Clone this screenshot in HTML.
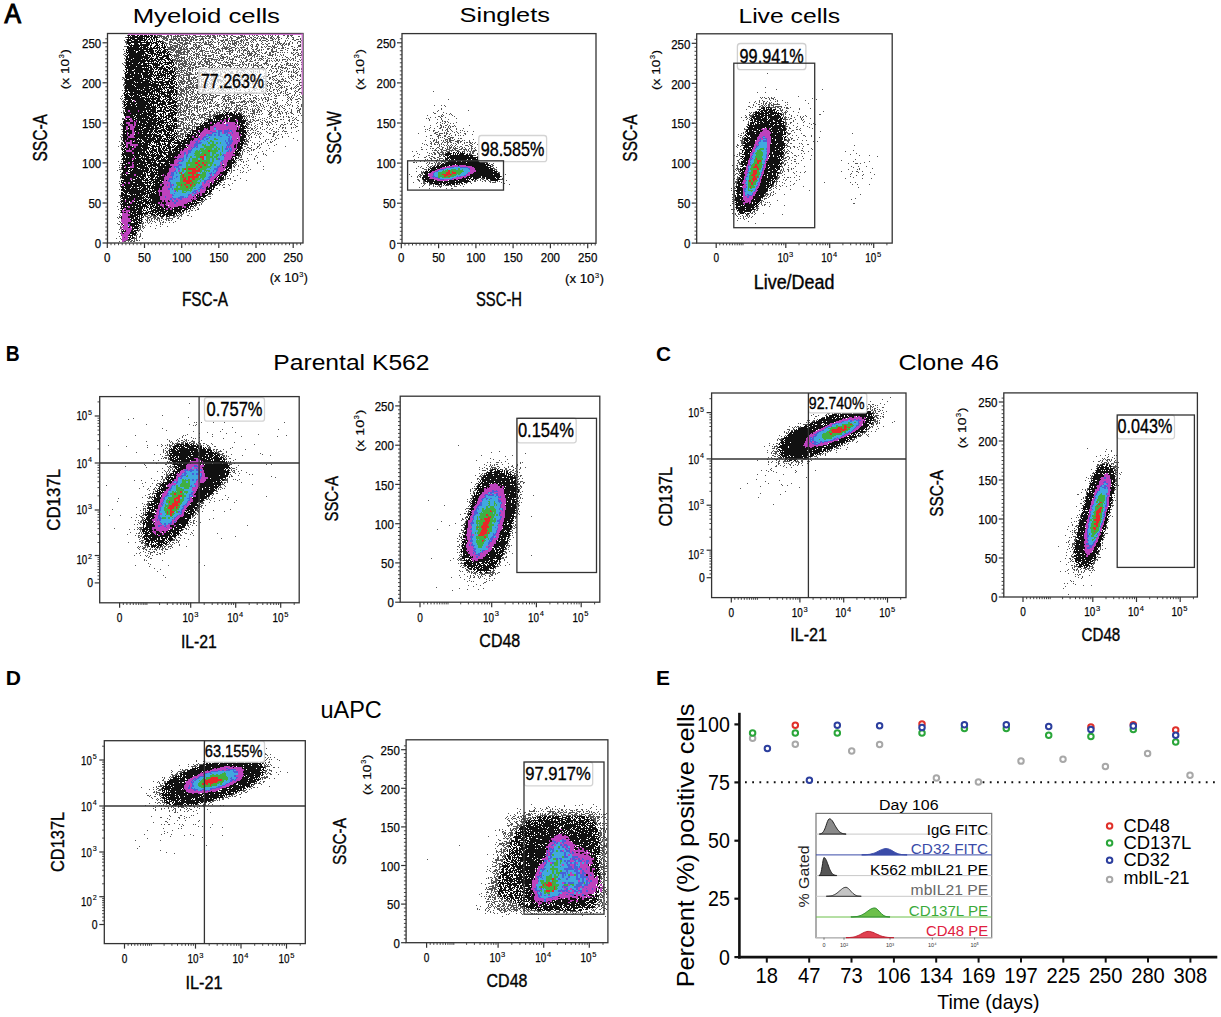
<!DOCTYPE html><html><head><meta charset="utf-8"><style>html,body{margin:0;padding:0;background:#fff;overflow:hidden}svg{display:block}</style></head><body><svg width="1221" height="1017" viewBox="0 0 1221 1017" font-family='"Liberation Sans", sans-serif'><rect width="1221" height="1017" fill="#fff"/><text x="4.4" y="23.3" font-size="27" textLength="16.5" lengthAdjust="spacingAndGlyphs" fill="#000" stroke="#000" stroke-width="1.1">A</text>
<text x="132.7" y="23.3" font-size="20.5" textLength="147.3" lengthAdjust="spacingAndGlyphs" fill="#000">Myeloid cells</text>
<text x="459.6" y="21.9" font-size="20.5" textLength="90.4" lengthAdjust="spacingAndGlyphs" fill="#000">Singlets</text>
<text x="738.4" y="22.6" font-size="20.5" textLength="101.6" lengthAdjust="spacingAndGlyphs" fill="#000">Live cells</text>
<g transform="translate(0 0.5)" fill="none" stroke-width="1" shape-rendering="crispEdges"><path stroke="#555555" d="M0 0m127 35h1m27 0h1m1 0h5m5 0h2m1 0h2m3 0h1m1 0h2m1 0h4m1 0h3m1 0h1m3 0h3m4 0h1m4 0h1m1 0h2m1 0h1m1 0h3m2 0h1m1 0h2m2 0h2m1 0h2m3 0h2m7 0h3m1 0h1m4 0h1m2 0h1m1 0h1m1 0h2m4 0h1m2 0h1m2 0h1m1 0h1m1 0h1m2 0h1m2 0h1m4 0h2m2 0h2m1 0h3m-137 1h2m1 0h6m1 0h3m2 0h1m1 0h8m6 0h1m1 0h2m1 0h1m2 0h10m1 0h5m2 0h3m1 0h1m1 0h1m1 0h1m2 0h1m2 0h1m2 0h1m2 0h3m2 0h1m2 0h5m3 0h1m3 0h1m4 0h1m1 0h1m2 0h1m4 0h1m2 0h2m4 0h2m8 0h2m2 0h1m6 0h2m-175 1h2m31 0h2m1 0h1m1 0h4m1 0h1m2 0h1m1 0h1m1 0h1m1 0h1m2 0h2m1 0h3m1 0h3m1 0h3m1 0h2m5 0h1m2 0h1m3 0h2m1 0h4m6 0h4m4 0h2m4 0h6m1 0h1m1 0h1m1 0h1m2 0h2m2 0h2m1 0h1m3 0h4m3 0h1m1 0h2m1 0h1m3 0h3m7 0h1m4 0h2m-132 1h6m3 0h1m1 0h4m1 0h2m1 0h2m1 0h3m1 0h2m1 0h1m1 0h2m4 0h1m1 0h3m1 0h2m1 0h2m4 0h2m1 0h1m9 0h1m1 0h1m1 0h2m4 0h3m5 0h1m2 0h2m1 0h1m1 0h1m2 0h2m1 0h1m1 0h1m1 0h4m3 0h3m1 0h1m1 0h1m1 0h1m2 0h1m4 0h1m1 0h1m4 0h1m6 0h1m-175 1h1m36 0h2m1 0h2m1 0h8m1 0h2m1 0h2m2 0h3m2 0h4m1 0h3m2 0h4m7 0h2m2 0h1m2 0h1m4 0h1m1 0h3m3 0h1m4 0h2m3 0h1m1 0h1m1 0h3m4 0h4m4 0h1m5 0h2m4 0h2m1 0h1m2 0h2m12 0h2m2 0h3m1 0h1m-177 1h1m37 0h1m2 0h3m2 0h1m1 0h2m2 0h4m1 0h8m1 0h2m1 0h1m1 0h2m2 0h2m2 0h1m3 0h2m3 0h1m5 0h1m1 0h4m1 0h3m1 0h1m1 0h5m4 0h3m1 0h1m1 0h2m3 0h1m1 0h1m1 0h1m3 0h2m1 0h4m2 0h1m1 0h3m5 0h1m6 0h1m1 0h1m6 0h2m5 0h1m-177 1h2m35 0h2m5 0h3m5 0h1m1 0h1m3 0h1m1 0h1m3 0h3m11 0h1m1 0h1m2 0h1m1 0h2m1 0h1m3 0h1m3 0h2m1 0h1m3 0h1m1 0h1m1 0h1m1 0h1m1 0h3m1 0h2m1 0h1m6 0h1m1 0h1m3 0h1m4 0h1m4 0h2m5 0h1m1 0h1m1 0h1m1 0h1m5 0h1m4 0h1m7 0h3m-176 1h2m36 0h3m3 0h4m1 0h2m2 0h5m2 0h3m1 0h1m3 0h2m1 0h5m1 0h2m1 0h2m1 0h3m1 0h1m1 0h2m2 0h2m3 0h2m3 0h1m3 0h1m1 0h3m1 0h1m2 0h1m1 0h1m2 0h3m2 0h1m1 0h1m8 0h1m10 0h1m3 0h3m4 0h1m4 0h1m2 0h1m4 0h1m2 0h1m-175 1h1m38 0h3m1 0h1m3 0h5m2 0h3m1 0h7m4 0h1m3 0h1m1 0h1m2 0h3m1 0h1m2 0h1m6 0h1m3 0h1m2 0h1m2 0h3m1 0h5m2 0h2m2 0h1m1 0h1m2 0h1m8 0h1m3 0h1m3 0h1m2 0h2m3 0h1m1 0h1m1 0h1m1 0h3m1 0h2m1 0h1m1 0h2m2 0h1m4 0h1m-172 1h1m39 0h1m2 0h3m5 0h3m2 0h5m3 0h1m2 0h4m3 0h1m3 0h9m5 0h1m2 0h1m1 0h1m1 0h1m1 0h1m2 0h1m1 0h3m1 0h1m1 0h1m2 0h1m3 0h2m1 0h1m2 0h2m3 0h3m3 0h2m2 0h2m7 0h2m1 0h1m1 0h1m1 0h2m1 0h2m1 0h2m10 0h1m-135 1h1m3 0h1m1 0h6m1 0h2m1 0h1m1 0h1m2 0h1m5 0h1m1 0h2m1 0h2m1 0h2m6 0h2m2 0h1m6 0h1m2 0h1m3 0h1m1 0h1m4 0h2m2 0h1m1 0h1m1 0h1m1 0h2m1 0h1m2 0h1m1 0h1m3 0h1m1 0h1m8 0h1m4 0h1m1 0h1m6 0h2m1 0h1m3 0h1m9 0h3m-177 1h3m40 0h1m2 0h3m1 0h4m1 0h1m1 0h2m1 0h1m1 0h2m5 0h2m1 0h1m1 0h3m9 0h2m1 0h1m2 0h1m1 0h1m4 0h2m1 0h1m2 0h2m4 0h1m7 0h1m7 0h2m2 0h3m3 0h1m2 0h1m1 0h1m1 0h3m1 0h3m2 0h1m4 0h1m8 0h2m5 0h3m-134 1h7m1 0h3m1 0h3m1 0h1m1 0h2m4 0h2m2 0h5m1 0h1m1 0h1m3 0h1m1 0h1m2 0h4m6 0h1m1 0h5m2 0h4m2 0h1m2 0h5m2 0h1m4 0h1m4 0h1m3 0h2m2 0h1m5 0h1m1 0h4m5 0h2m1 0h1m8 0h1m2 0h1m-130 1h4m1 0h3m2 0h4m1 0h2m1 0h2m1 0h5m1 0h1m1 0h2m2 0h1m2 0h1m1 0h1m2 0h1m1 0h1m1 0h1m3 0h2m2 0h7m1 0h3m3 0h2m1 0h1m2 0h1m4 0h2m3 0h1m4 0h2m9 0h3m2 0h1m1 0h1m3 0h2m1 0h3m3 0h2m3 0h1m-170 1h1m44 0h8m2 0h1m1 0h8m2 0h1m2 0h2m1 0h2m1 0h1m1 0h1m4 0h1m7 0h1m1 0h4m2 0h1m2 0h2m1 0h2m2 0h1m2 0h1m3 0h1m2 0h1m1 0h2m1 0h1m4 0h2m1 0h2m2 0h1m1 0h1m1 0h1m3 0h2m2 0h2m3 0h1m8 0h1m7 0h3m1 0h1m1 0h2m-130 1h4m1 0h6m2 0h1m2 0h3m1 0h1m4 0h1m3 0h5m5 0h1m1 0h1m2 0h2m2 0h2m1 0h1m6 0h5m1 0h1m2 0h2m1 0h1m1 0h4m1 0h1m4 0h1m3 0h3m1 0h1m9 0h2m3 0h1m3 0h3m4 0h1m5 0h2m1 0h2m-174 1h1m44 0h2m2 0h1m1 0h6m2 0h3m1 0h3m2 0h1m1 0h1m1 0h1m2 0h4m2 0h4m1 0h1m1 0h1m2 0h1m2 0h1m1 0h1m1 0h1m3 0h5m1 0h1m4 0h1m1 0h1m3 0h1m3 0h3m2 0h3m1 0h1m1 0h1m7 0h1m4 0h6m24 0h1m-132 1h3m2 0h10m1 0h3m4 0h2m3 0h1m3 0h1m1 0h1m6 0h4m1 0h1m1 0h1m10 0h1m1 0h2m4 0h1m1 0h1m3 0h1m3 0h1m1 0h1m1 0h1m2 0h2m3 0h1m1 0h1m3 0h2m2 0h2m1 0h2m3 0h2m1 0h1m1 0h1m1 0h1m2 0h1m3 0h1m1 0h1m2 0h2m3 0h1m-178 1h2m50 0h1m1 0h4m1 0h2m2 0h1m1 0h1m1 0h1m3 0h3m1 0h1m2 0h1m2 0h1m1 0h2m6 0h2m1 0h2m4 0h1m2 0h1m1 0h2m10 0h2m2 0h1m1 0h6m2 0h2m5 0h1m1 0h2m3 0h2m4 0h1m15 0h2m2 0h1m2 0h1m1 0h1m-178 1h1m47 0h1m2 0h1m1 0h3m1 0h8m2 0h1m2 0h2m1 0h4m2 0h1m1 0h1m7 0h2m7 0h2m1 0h2m3 0h2m3 0h1m1 0h1m5 0h2m3 0h1m1 0h3m2 0h2m1 0h3m7 0h1m1 0h2m1 0h2m1 0h1m4 0h1m2 0h1m9 0h2m2 0h2m2 0h1m-178 1h2m46 0h8m7 0h1m3 0h1m1 0h2m1 0h1m1 0h1m1 0h1m1 0h5m1 0h4m1 0h1m2 0h2m2 0h2m11 0h1m3 0h1m1 0h3m1 0h2m3 0h4m1 0h2m2 0h1m3 0h1m6 0h5m2 0h1m1 0h1m3 0h1m1 0h1m9 0h1m4 0h4m-177 1h1m48 0h5m2 0h1m2 0h1m2 0h1m1 0h2m5 0h3m6 0h2m1 0h3m2 0h1m5 0h1m1 0h3m2 0h2m3 0h1m2 0h4m1 0h1m6 0h1m1 0h1m3 0h1m1 0h1m1 0h2m1 0h1m1 0h3m1 0h1m6 0h1m6 0h1m5 0h1m9 0h1m1 0h1m-126 1h1m1 0h1m1 0h1m1 0h7m1 0h1m2 0h1m1 0h2m1 0h1m1 0h1m1 0h2m1 0h2m2 0h1m7 0h1m1 0h1m1 0h1m2 0h1m1 0h4m1 0h1m1 0h1m4 0h1m1 0h1m1 0h2m1 0h1m1 0h1m1 0h2m4 0h1m2 0h1m7 0h1m4 0h1m8 0h1m5 0h1m3 0h2m2 0h1m4 0h1m4 0h1m-177 1h1m50 0h4m2 0h4m3 0h2m1 0h1m1 0h1m1 0h2m1 0h1m4 0h4m1 0h5m5 0h1m1 0h4m3 0h1m1 0h1m2 0h2m8 0h1m1 0h2m4 0h2m5 0h1m1 0h3m1 0h1m1 0h1m2 0h2m1 0h1m1 0h1m1 0h1m12 0h1m3 0h2m1 0h1m-171 1h1m47 0h3m1 0h1m1 0h1m1 0h1m2 0h1m1 0h2m1 0h1m1 0h2m3 0h1m2 0h1m2 0h2m1 0h1m1 0h2m2 0h7m1 0h1m3 0h1m2 0h1m2 0h5m1 0h1m4 0h1m5 0h2m1 0h1m1 0h1m3 0h1m3 0h1m1 0h2m4 0h1m8 0h2m1 0h1m2 0h4m1 0h1m1 0h1m1 0h1m1 0h1m5 0h1m1 0h1m-177 1h1m47 0h10m1 0h2m1 0h1m1 0h1m2 0h1m1 0h1m6 0h1m2 0h2m2 0h2m1 0h1m2 0h1m1 0h1m1 0h2m1 0h2m5 0h1m3 0h1m2 0h2m4 0h1m4 0h2m2 0h1m3 0h2m2 0h1m1 0h1m2 0h1m2 0h2m1 0h1m1 0h1m2 0h1m1 0h2m1 0h1m2 0h1m4 0h1m2 0h1m2 0h1m1 0h1m4 0h1m-127 1h1m1 0h6m1 0h4m1 0h1m1 0h1m4 0h1m2 0h1m1 0h2m2 0h6m5 0h2m7 0h1m1 0h1m3 0h1m1 0h1m6 0h1m1 0h1m1 0h1m1 0h2m2 0h4m13 0h2m1 0h1m2 0h1m2 0h1m2 0h1m6 0h2m10 0h2m-175 1h2m49 0h2m2 0h1m2 0h1m1 0h3m2 0h1m1 0h3m1 0h1m1 0h1m1 0h2m1 0h1m2 0h3m1 0h3m3 0h1m1 0h2m1 0h1m2 0h1m1 0h4m1 0h3m7 0h1m1 0h2m11 0h1m1 0h2m6 0h2m14 0h1m5 0h1m13 0h1m-180 1h1m2 0h1m49 0h2m1 0h1m1 0h7m1 0h2m1 0h1m2 0h2m2 0h3m3 0h1m1 0h2m1 0h1m2 0h1m1 0h1m3 0h3m6 0h1m3 0h5m1 0h1m4 0h1m1 0h1m3 0h2m3 0h1m2 0h2m5 0h5m8 0h2m8 0h3m1 0h1m1 0h1m2 0h1m1 0h1m-175 1h1m50 0h1m1 0h1m1 0h6m1 0h3m1 0h3m1 0h3m2 0h2m1 0h3m2 0h4m1 0h2m8 0h5m2 0h3m1 0h1m6 0h2m1 0h2m1 0h2m1 0h1m2 0h1m1 0h1m1 0h1m2 0h1m2 0h1m2 0h1m1 0h1m1 0h1m1 0h1m4 0h2m3 0h1m3 0h1m1 0h2m2 0h1m3 0h1m1 0h1m1 0h1m2 0h1m-178 1h2m52 0h2m2 0h4m2 0h1m1 0h1m1 0h3m7 0h3m4 0h3m1 0h2m4 0h1m2 0h1m1 0h7m2 0h1m1 0h5m3 0h1m2 0h1m1 0h1m2 0h1m1 0h5m1 0h3m5 0h2m3 0h1m2 0h1m5 0h2m3 0h1m1 0h5m1 0h1m2 0h1m-123 1h1m2 0h1m1 0h2m1 0h5m1 0h2m4 0h2m1 0h3m1 0h2m1 0h2m2 0h1m2 0h1m2 0h1m2 0h1m3 0h1m3 0h1m2 0h3m7 0h1m2 0h1m5 0h1m4 0h1m3 0h2m3 0h1m8 0h2m1 0h2m2 0h2m1 0h1m11 0h1m1 0h1m-121 1h2m1 0h2m1 0h2m1 0h1m3 0h2m1 0h3m1 0h4m9 0h2m1 0h2m1 0h1m2 0h1m1 0h1m2 0h1m2 0h1m4 0h1m3 0h1m2 0h1m2 0h2m3 0h1m1 0h1m4 0h2m4 0h1m2 0h3m3 0h1m3 0h1m6 0h1m1 0h4m1 0h2m5 0h4m2 0h1m-124 1h3m1 0h4m2 0h1m1 0h4m1 0h2m1 0h1m4 0h5m4 0h3m4 0h1m3 0h2m5 0h1m5 0h1m2 0h1m1 0h1m2 0h1m2 0h3m3 0h2m2 0h2m1 0h5m2 0h1m1 0h1m5 0h2m1 0h2m1 0h1m3 0h1m1 0h2m1 0h1m1 0h1m6 0h1m2 0h1m1 0h1m-127 1h3m1 0h1m1 0h1m2 0h1m2 0h1m1 0h2m1 0h1m3 0h1m2 0h4m1 0h1m2 0h1m1 0h3m2 0h2m3 0h3m2 0h1m1 0h1m1 0h1m1 0h1m5 0h1m3 0h1m1 0h1m3 0h1m4 0h2m2 0h1m1 0h1m1 0h1m2 0h2m1 0h1m4 0h1m5 0h1m3 0h1m6 0h1m5 0h1m3 0h1m1 0h1m1 0h1m-179 1h1m51 0h1m2 0h1m1 0h6m1 0h1m1 0h2m1 0h1m2 0h1m3 0h1m1 0h1m4 0h1m2 0h1m2 0h6m4 0h1m3 0h1m1 0h1m8 0h2m2 0h4m4 0h1m3 0h1m5 0h1m3 0h1m1 0h1m3 0h1m1 0h1m5 0h1m3 0h2m3 0h1m6 0h1m2 0h1m-173 1h1m51 0h4m1 0h1m1 0h1m2 0h2m4 0h1m6 0h1m2 0h2m1 0h1m3 0h1m2 0h1m2 0h1m4 0h1m1 0h1m1 0h1m4 0h1m1 0h2m3 0h2m5 0h1m1 0h1m4 0h2m1 0h1m1 0h1m1 0h1m1 0h1m11 0h1m2 0h1m1 0h2m2 0h1m3 0h1m1 0h1m1 0h2m1 0h1m1 0h1m1 0h1m2 0h1m2 0h1m-125 1h1m2 0h3m1 0h1m1 0h1m1 0h3m4 0h1m1 0h1m1 0h3m2 0h3m6 0h2m3 0h1m1 0h1m2 0h3m4 0h3m3 0h2m1 0h3m2 0h1m2 0h1m3 0h1m1 0h1m3 0h1m1 0h1m5 0h1m2 0h1m4 0h1m2 0h1m3 0h1m1 0h1m5 0h1m2 0h1m1 0h2m1 0h2m-174 1h1m51 0h4m4 0h4m1 0h3m3 0h1m1 0h4m1 0h1m1 0h1m1 0h2m1 0h1m3 0h1m2 0h1m3 0h2m3 0h1m1 0h2m1 0h4m4 0h1m1 0h1m1 0h1m5 0h1m3 0h1m2 0h1m8 0h1m7 0h1m6 0h1m1 0h1m13 0h2m-118 1h1m1 0h3m2 0h8m1 0h2m2 0h1m3 0h3m1 0h1m1 0h1m3 0h2m2 0h1m2 0h2m6 0h1m7 0h1m3 0h1m2 0h1m2 0h1m2 0h2m2 0h1m2 0h1m4 0h1m6 0h2m8 0h1m1 0h2m6 0h1m2 0h1m5 0h1m2 0h1m-125 1h5m2 0h7m9 0h3m2 0h3m1 0h3m4 0h2m1 0h3m4 0h1m1 0h2m2 0h1m4 0h6m4 0h1m1 0h2m2 0h1m2 0h1m2 0h1m5 0h1m3 0h1m6 0h2m14 0h1m1 0h1m3 0h1m1 0h2m-125 1h1m1 0h2m1 0h1m1 0h1m4 0h2m4 0h1m2 0h1m1 0h2m5 0h2m3 0h6m1 0h1m1 0h3m6 0h3m1 0h2m2 0h1m14 0h1m2 0h1m2 0h1m3 0h6m4 0h4m3 0h1m1 0h1m1 0h1m4 0h1m1 0h4m1 0h1m4 0h1m-179 1h2m54 0h1m1 0h2m1 0h2m1 0h1m1 0h2m1 0h1m1 0h4m4 0h1m2 0h1m2 0h2m2 0h1m1 0h4m5 0h1m5 0h1m1 0h1m1 0h1m2 0h2m3 0h1m2 0h1m2 0h1m4 0h2m8 0h1m1 0h1m5 0h2m1 0h1m15 0h1m2 0h1m3 0h1m-173 1h2m51 0h1m1 0h1m2 0h3m2 0h1m1 0h2m1 0h5m3 0h2m2 0h1m2 0h2m2 0h1m2 0h4m6 0h3m5 0h1m5 0h1m1 0h1m1 0h2m2 0h1m2 0h1m2 0h2m2 0h2m3 0h1m2 0h3m3 0h2m2 0h1m2 0h1m5 0h1m2 0h1m3 0h1m2 0h1m4 0h1m-176 1h1m1 0h1m53 0h1m3 0h2m2 0h4m2 0h1m3 0h3m2 0h3m1 0h1m3 0h1m1 0h3m1 0h1m1 0h4m2 0h1m4 0h2m4 0h3m3 0h3m1 0h2m4 0h1m2 0h1m1 0h1m13 0h1m2 0h1m1 0h1m2 0h1m3 0h3m9 0h1m6 0h1m-177 1h1m52 0h1m1 0h3m1 0h2m3 0h4m1 0h1m1 0h1m1 0h2m2 0h1m3 0h1m4 0h3m1 0h2m1 0h6m1 0h2m2 0h1m2 0h1m1 0h3m1 0h1m2 0h1m2 0h1m1 0h1m8 0h2m1 0h1m1 0h1m5 0h1m7 0h1m1 0h2m1 0h2m3 0h1m1 0h1m5 0h1m4 0h2m1 0h1m-122 1h1m1 0h6m1 0h4m2 0h1m3 0h3m1 0h3m3 0h2m3 0h2m1 0h1m1 0h2m1 0h3m2 0h1m7 0h2m1 0h2m1 0h1m3 0h3m2 0h1m2 0h1m3 0h1m1 0h2m2 0h1m2 0h1m1 0h2m10 0h5m1 0h3m1 0h1m-165 1h1m53 0h5m1 0h1m1 0h2m2 0h2m1 0h1m1 0h3m1 0h1m3 0h1m1 0h1m3 0h1m1 0h1m3 0h1m2 0h1m2 0h1m1 0h1m3 0h2m5 0h1m4 0h2m2 0h2m2 0h1m1 0h1m18 0h1m2 0h1m3 0h1m1 0h2m1 0h1m6 0h1m1 0h1m9 0h3m-178 1h1m54 0h1m1 0h4m1 0h2m2 0h3m1 0h1m3 0h1m2 0h1m3 0h3m1 0h4m1 0h1m1 0h1m3 0h1m3 0h1m4 0h1m1 0h1m1 0h2m1 0h1m1 0h2m1 0h1m1 0h2m3 0h1m1 0h1m1 0h2m2 0h2m7 0h1m1 0h1m1 0h3m1 0h1m2 0h2m3 0h1m2 0h1m5 0h1m8 0h1m-177 1h2m52 0h1m1 0h2m1 0h2m4 0h4m1 0h1m2 0h2m3 0h2m1 0h1m2 0h2m1 0h3m1 0h2m7 0h4m2 0h1m2 0h4m4 0h2m1 0h2m2 0h2m3 0h1m6 0h1m3 0h4m3 0h2m6 0h2m13 0h1m3 0h1m1 0h1m-177 1h1m54 0h1m1 0h1m5 0h3m3 0h2m1 0h3m1 0h1m1 0h1m1 0h1m2 0h2m3 0h1m2 0h1m2 0h1m1 0h1m2 0h1m1 0h1m1 0h2m2 0h2m5 0h1m2 0h1m6 0h1m7 0h1m1 0h1m4 0h2m2 0h2m1 0h1m2 0h1m2 0h1m3 0h2m1 0h1m6 0h1m6 0h1m3 0h2m-178 1h1m53 0h2m1 0h1m1 0h1m2 0h1m1 0h3m1 0h2m2 0h7m1 0h1m2 0h1m1 0h2m1 0h1m8 0h4m3 0h1m1 0h1m6 0h1m1 0h1m1 0h5m1 0h2m4 0h1m1 0h1m2 0h1m4 0h1m3 0h1m2 0h1m4 0h1m2 0h1m2 0h1m2 0h1m1 0h2m7 0h1m1 0h2m-175 1h1m52 0h2m1 0h1m3 0h14m1 0h8m1 0h1m2 0h1m1 0h1m4 0h1m2 0h2m6 0h1m1 0h1m2 0h1m4 0h3m1 0h3m1 0h2m1 0h2m4 0h1m4 0h4m5 0h1m1 0h1m3 0h2m2 0h3m1 0h1m6 0h1m2 0h1m1 0h1m4 0h1m-178 1h1m52 0h2m1 0h2m1 0h1m1 0h2m1 0h2m1 0h1m2 0h1m1 0h3m6 0h2m2 0h4m4 0h2m1 0h1m1 0h2m2 0h1m2 0h1m1 0h4m4 0h1m4 0h2m8 0h3m3 0h2m1 0h1m1 0h2m3 0h1m8 0h1m1 0h1m4 0h1m3 0h2m1 0h1m1 0h1m3 0h2m-122 1h5m1 0h3m2 0h1m1 0h2m5 0h2m1 0h3m3 0h1m1 0h1m1 0h2m2 0h1m1 0h1m2 0h3m3 0h1m1 0h1m2 0h1m1 0h1m1 0h1m3 0h1m7 0h2m3 0h2m2 0h1m1 0h1m2 0h1m4 0h1m1 0h1m3 0h2m1 0h1m1 0h1m7 0h2m3 0h1m6 0h2m-178 1h1m1 0h1m52 0h1m2 0h5m1 0h1m2 0h2m2 0h1m1 0h1m6 0h4m1 0h2m6 0h1m3 0h3m1 0h3m4 0h1m5 0h1m1 0h3m3 0h1m4 0h1m2 0h1m1 0h2m5 0h1m1 0h1m2 0h1m2 0h1m3 0h1m3 0h1m1 0h1m5 0h2m8 0h1m2 0h1m-122 1h1m1 0h1m1 0h4m1 0h3m2 0h3m3 0h2m3 0h2m1 0h1m4 0h1m1 0h1m1 0h1m3 0h1m3 0h1m2 0h1m2 0h1m5 0h1m10 0h1m2 0h2m1 0h1m9 0h3m3 0h1m2 0h2m5 0h1m3 0h1m1 0h1m1 0h1m8 0h1m1 0h2m-121 1h1m2 0h2m2 0h1m1 0h3m1 0h1m1 0h2m3 0h1m1 0h1m1 0h2m6 0h1m1 0h2m2 0h1m1 0h1m1 0h1m3 0h1m3 0h1m2 0h1m3 0h2m1 0h1m1 0h3m3 0h3m2 0h1m1 0h1m1 0h1m1 0h1m7 0h1m8 0h1m6 0h2m3 0h1m1 0h1m7 0h1m3 0h3m-179 1h1m53 0h2m1 0h4m1 0h2m1 0h1m2 0h2m1 0h1m2 0h2m1 0h2m5 0h1m1 0h3m1 0h1m5 0h2m8 0h1m4 0h1m2 0h1m1 0h2m3 0h2m1 0h1m1 0h1m1 0h1m1 0h1m2 0h1m2 0h1m3 0h1m1 0h1m2 0h2m1 0h1m2 0h1m2 0h2m1 0h1m2 0h1m1 0h1m3 0h2m4 0h1m5 0h1m-125 1h5m1 0h2m1 0h1m2 0h2m1 0h1m2 0h2m1 0h2m2 0h5m2 0h2m4 0h1m9 0h1m2 0h1m5 0h1m2 0h2m4 0h1m1 0h2m2 0h2m12 0h1m2 0h1m1 0h1m1 0h1m4 0h1m10 0h3m5 0h1m4 0h1m-178 1h1m56 0h3m2 0h1m1 0h2m2 0h1m3 0h1m1 0h1m4 0h2m1 0h1m2 0h1m2 0h4m2 0h4m5 0h3m1 0h2m2 0h1m2 0h1m4 0h1m3 0h1m4 0h1m1 0h1m2 0h1m2 0h1m5 0h1m4 0h1m4 0h1m1 0h1m1 0h2m3 0h1m1 0h1m1 0h1m4 0h1m1 0h1m2 0h1m-177 1h1m56 0h1m2 0h2m3 0h2m3 0h3m1 0h1m1 0h1m2 0h1m1 0h2m1 0h1m1 0h1m1 0h1m3 0h1m1 0h2m5 0h4m2 0h1m3 0h1m1 0h1m3 0h3m2 0h1m3 0h1m8 0h1m14 0h1m3 0h2m11 0h1m2 0h1m4 0h1m3 0h1m-124 1h1m1 0h2m1 0h2m2 0h1m2 0h3m2 0h4m1 0h1m3 0h1m2 0h1m2 0h1m1 0h5m6 0h1m1 0h1m2 0h4m3 0h1m1 0h1m3 0h1m12 0h3m5 0h1m2 0h2m1 0h2m18 0h1m1 0h1m1 0h1m1 0h1m7 0h1m-182 1h1m1 0h1m54 0h1m1 0h1m3 0h1m1 0h3m3 0h1m2 0h1m1 0h1m1 0h3m1 0h2m2 0h1m2 0h1m2 0h1m8 0h1m1 0h2m3 0h1m1 0h1m2 0h2m1 0h1m1 0h1m1 0h2m2 0h1m2 0h1m1 0h2m2 0h1m1 0h2m1 0h1m2 0h1m1 0h1m1 0h1m2 0h1m5 0h3m11 0h1m1 0h1m1 0h1m5 0h2m-179 1h1m57 0h1m1 0h3m1 0h3m2 0h6m1 0h2m2 0h1m1 0h1m1 0h1m1 0h6m5 0h1m4 0h3m1 0h5m3 0h1m4 0h1m4 0h1m4 0h1m5 0h1m2 0h1m2 0h1m2 0h2m1 0h1m1 0h2m15 0h1m2 0h2m3 0h3m2 0h1m-178 1h1m53 0h5m3 0h3m1 0h1m3 0h2m2 0h1m5 0h3m1 0h1m3 0h2m9 0h1m2 0h2m1 0h1m4 0h1m9 0h2m4 0h1m1 0h1m1 0h2m3 0h1m3 0h1m4 0h2m6 0h1m6 0h1m5 0h1m2 0h1m-170 1h2m53 0h1m2 0h1m1 0h1m1 0h1m1 0h1m1 0h5m4 0h5m1 0h2m1 0h1m3 0h1m1 0h1m2 0h1m7 0h1m1 0h2m1 0h1m1 0h3m6 0h1m1 0h5m1 0h2m1 0h4m1 0h1m9 0h1m1 0h1m5 0h1m1 0h1m11 0h1m9 0h2m-176 1h1m57 0h2m1 0h1m3 0h1m1 0h1m3 0h1m2 0h4m1 0h1m1 0h1m2 0h1m1 0h2m3 0h1m2 0h1m4 0h1m7 0h5m1 0h3m1 0h3m1 0h1m1 0h1m1 0h1m2 0h2m1 0h1m1 0h1m6 0h1m9 0h1m1 0h1m1 0h1m8 0h1m4 0h1m4 0h1m-175 1h1m54 0h6m1 0h2m2 0h2m1 0h1m1 0h1m2 0h3m2 0h1m3 0h1m1 0h1m1 0h3m1 0h1m2 0h1m4 0h1m2 0h1m1 0h2m1 0h1m1 0h4m10 0h2m6 0h1m5 0h2m6 0h1m1 0h1m4 0h1m1 0h2m9 0h1m10 0h1m-176 1h1m54 0h1m1 0h3m3 0h2m1 0h1m13 0h1m1 0h1m1 0h1m7 0h1m1 0h3m3 0h2m3 0h1m2 0h1m4 0h1m2 0h1m3 0h3m5 0h1m4 0h1m3 0h1m1 0h1m9 0h1m2 0h1m9 0h1m2 0h1m1 0h1m10 0h1m-125 1h4m1 0h2m1 0h3m1 0h2m1 0h1m1 0h1m1 0h2m4 0h1m6 0h1m1 0h1m3 0h4m4 0h1m2 0h1m1 0h1m2 0h1m2 0h1m1 0h5m1 0h1m6 0h1m3 0h2m1 0h2m2 0h1m2 0h1m4 0h1m4 0h2m2 0h1m2 0h1m1 0h1m4 0h1m1 0h1m2 0h1m4 0h1m3 0h1m-179 1h1m53 0h2m1 0h1m3 0h4m1 0h3m2 0h1m1 0h2m1 0h2m1 0h1m1 0h1m4 0h3m1 0h2m2 0h2m2 0h2m1 0h1m1 0h1m5 0h1m3 0h2m3 0h2m1 0h3m4 0h1m1 0h1m1 0h1m2 0h1m2 0h1m1 0h1m2 0h1m3 0h1m6 0h1m1 0h1m1 0h1m2 0h1m7 0h1m5 0h1m2 0h1m-180 1h1m54 0h1m2 0h2m2 0h1m1 0h4m2 0h6m1 0h1m3 0h1m1 0h1m1 0h1m1 0h1m9 0h1m5 0h5m1 0h1m3 0h2m1 0h1m1 0h1m6 0h1m9 0h1m1 0h1m4 0h1m5 0h2m3 0h1m3 0h1m2 0h1m14 0h1m-175 1h1m53 0h1m1 0h2m1 0h1m1 0h1m1 0h2m3 0h1m2 0h1m1 0h2m3 0h1m1 0h4m7 0h1m1 0h2m4 0h1m2 0h2m1 0h1m1 0h1m3 0h1m1 0h1m1 0h3m1 0h1m1 0h2m1 0h1m4 0h1m2 0h1m2 0h1m3 0h1m7 0h1m2 0h1m1 0h2m1 0h1m4 0h2m4 0h1m6 0h1m1 0h1m1 0h1m-123 1h3m2 0h1m2 0h1m1 0h3m3 0h1m2 0h1m1 0h2m2 0h1m2 0h1m4 0h2m4 0h1m4 0h1m2 0h1m3 0h3m2 0h1m1 0h2m2 0h3m3 0h2m2 0h1m1 0h1m1 0h1m1 0h1m1 0h2m4 0h1m7 0h1m5 0h2m5 0h1m5 0h1m7 0h2m-178 1h1m53 0h2m1 0h2m1 0h4m2 0h1m1 0h2m1 0h1m2 0h1m1 0h1m3 0h1m1 0h1m2 0h1m3 0h1m5 0h1m1 0h2m1 0h2m1 0h1m1 0h2m5 0h3m1 0h3m6 0h1m3 0h3m2 0h2m1 0h2m5 0h1m1 0h1m5 0h1m1 0h1m6 0h1m6 0h1m5 0h3m-177 1h1m53 0h1m1 0h2m1 0h4m2 0h2m1 0h1m4 0h2m2 0h1m2 0h1m5 0h3m1 0h1m2 0h1m2 0h1m3 0h3m2 0h1m4 0h4m3 0h1m2 0h2m1 0h1m3 0h1m1 0h3m2 0h1m1 0h1m1 0h1m6 0h1m2 0h2m3 0h1m1 0h2m1 0h1m5 0h1m3 0h1m5 0h1m1 0h1m-179 1h1m1 0h1m53 0h5m1 0h1m1 0h1m3 0h1m1 0h1m5 0h1m8 0h2m1 0h2m3 0h1m1 0h5m2 0h1m14 0h2m1 0h1m2 0h1m1 0h1m6 0h2m1 0h2m1 0h1m9 0h3m3 0h1m3 0h1m2 0h1m2 0h2m3 0h2m5 0h1m1 0h1m-177 1h1m54 0h1m1 0h1m3 0h1m1 0h1m1 0h2m2 0h2m4 0h1m5 0h2m3 0h1m4 0h1m1 0h2m1 0h1m20 0h2m1 0h1m4 0h1m1 0h5m7 0h1m6 0h2m7 0h3m1 0h1m3 0h1m1 0h1m2 0h2m7 0h1m-123 1h1m1 0h4m1 0h1m2 0h2m1 0h4m4 0h2m1 0h6m1 0h2m2 0h3m1 0h1m23 0h2m9 0h1m1 0h1m1 0h1m1 0h2m1 0h1m6 0h2m1 0h1m5 0h1m2 0h1m5 0h1m6 0h1m-117 1h2m1 0h2m1 0h3m5 0h1m1 0h3m1 0h3m1 0h2m1 0h1m4 0h2m1 0h4m27 0h2m1 0h1m1 0h2m2 0h1m17 0h2m5 0h1m20 0h1m2 0h1m-123 1h1m6 0h3m1 0h1m1 0h1m6 0h1m1 0h2m2 0h1m1 0h5m1 0h1m30 0h2m1 0h1m1 0h1m1 0h1m1 0h1m1 0h1m13 0h2m2 0h1m6 0h1m2 0h1m2 0h1m1 0h1m2 0h1m-115 1h2m5 0h2m1 0h2m1 0h1m3 0h1m1 0h1m2 0h6m4 0h2m33 0h1m1 0h1m2 0h1m2 0h2m5 0h1m7 0h1m3 0h1m2 0h2m1 0h2m4 0h1m4 0h2m3 0h1m2 0h1m-175 1h2m55 0h5m1 0h2m1 0h1m1 0h2m1 0h2m3 0h1m1 0h1m3 0h5m37 0h1m8 0h1m6 0h1m1 0h1m4 0h1m22 0h1m2 0h1m-174 1h2m54 0h1m2 0h3m1 0h2m2 0h1m2 0h4m1 0h1m6 0h1m1 0h2m37 0h1m1 0h1m2 0h1m1 0h2m4 0h1m1 0h1m5 0h1m5 0h1m7 0h2m1 0h1m5 0h1m4 0h1m1 0h1m-120 1h2m4 0h1m1 0h1m1 0h1m1 0h1m1 0h2m3 0h1m1 0h1m2 0h1m3 0h2m39 0h2m2 0h1m2 0h2m1 0h3m3 0h1m1 0h1m7 0h1m2 0h3m10 0h2m2 0h2m3 0h2m-122 1h6m8 0h2m9 0h1m1 0h1m43 0h3m1 0h1m2 0h1m4 0h1m4 0h1m1 0h1m1 0h1m2 0h2m3 0h1m11 0h1m-112 1h1m2 0h3m1 0h1m3 0h1m1 0h2m1 0h2m5 0h1m44 0h2m1 0h3m9 0h2m3 0h2m1 0h2m4 0h1m8 0h1m7 0h1m1 0h1m6 0h1m-181 1h1m58 0h2m1 0h2m1 0h1m1 0h1m3 0h1m2 0h4m1 0h2m44 0h3m5 0h1m4 0h1m2 0h1m5 0h1m2 0h1m15 0h1m3 0h1m5 0h1m-178 1h1m1 0h1m55 0h1m1 0h1m1 0h2m3 0h1m1 0h1m2 0h1m1 0h1m1 0h2m1 0h1m47 0h3m1 0h1m5 0h1m3 0h2m3 0h1m1 0h1m3 0h1m3 0h1m4 0h2m1 0h2m4 0h2m2 0h1m-174 1h2m54 0h4m2 0h1m1 0h2m1 0h4m2 0h1m52 0h1m3 0h1m3 0h1m11 0h1m1 0h1m10 0h1m2 0h1m11 0h1m-174 1h1m54 0h4m2 0h1m2 0h1m1 0h1m3 0h6m50 0h1m5 0h1m2 0h1m4 0h1m17 0h1m15 0h2m-121 1h1m5 0h2m1 0h1m1 0h2m2 0h1m1 0h1m52 0h1m2 0h1m4 0h1m4 0h1m6 0h1m5 0h1m5 0h1m2 0h2m1 0h1m5 0h1m1 0h1m1 0h1m-119 1h5m1 0h8m1 0h1m1 0h1m52 0h3m1 0h2m1 0h1m2 0h1m2 0h1m5 0h1m3 0h1m5 0h1m5 0h1m2 0h1m5 0h1m-171 1h2m58 0h3m2 0h3m2 0h2m58 0h2m3 0h1m5 0h1m1 0h1m4 0h1m2 0h1m5 0h1m-102 1h1m2 0h3m1 0h1m1 0h2m1 0h3m55 0h2m1 0h1m2 0h1m1 0h1m15 0h1m11 0h1m14 0h1m-177 1h1m54 0h5m2 0h2m4 0h1m56 0h1m9 0h2m7 0h1m6 0h2m1 0h1m1 0h1m3 0h1m1 0h3m9 0h1m-119 1h1m5 0h3m1 0h1m59 0h1m3 0h2m1 0h1m4 0h1m6 0h1m7 0h2m14 0h1m-115 1h2m1 0h4m1 0h1m1 0h1m58 0h1m2 0h1m1 0h1m3 0h1m1 0h1m1 0h1m1 0h1m7 0h2m2 0h2m10 0h1m1 0h1m-167 1h2m54 0h1m2 0h4m1 0h2m59 0h2m2 0h1m3 0h1m3 0h1m1 0h1m12 0h2m3 0h1m2 0h1m-160 1h1m54 0h4m1 0h1m65 0h2m6 0h1m16 0h1m3 0h1m-158 1h1m56 0h4m1 0h2m64 0h1m2 0h1m7 0h1m3 0h1m8 0h2m8 0h1m5 0h1m-168 1h2m55 0h1m1 0h3m66 0h1m1 0h1m3 0h1m3 0h1m15 0h1m6 0h1m-162 1h1m56 0h1m67 0h1m2 0h1m10 0h1m15 0h1m1 0h1m14 0h1m-173 1h1m123 0h2m1 0h1m17 0h1m1 0h1m2 0h1m3 0h1m-154 1h1m123 0h2m2 0h1m14 0h1m8 0h1m22 0h1m-179 1h1m125 0h4m10 0h1m5 0h1m4 0h1m1 0h1m-152 1h2m122 0h1m2 0h1m3 0h1m10 0h1m6 0h2m-151 1h1m122 0h3m7 0h1m2 0h1m3 0h1m5 0h1m-147 1h1m122 0h4m6 0h1m4 0h1m1 0h1m14 0h1m-157 1h2m125 0h1m3 0h1m7 0h1m8 0h1m5 0h1m-157 1h1m125 0h2m11 0h2m26 0h1m-165 1h1m120 0h1m4 0h2m2 0h1m5 0h1m2 0h1m-140 1h1m120 0h1m3 0h1m2 0h2m5 0h1m2 0h1m9 0h1m-149 1h1m121 0h2m6 0h1m1 0h2m-14 1h1m1 0h1m3 0h2m2 0h1m1 0h1m12 0h1m-25 1h1m1 0h1m4 0h1m12 0h1m10 0h1m-32 1h1m4 0h1m10 0h1m-19 1h1m1 0h1m20 0h1m-143 1h1m117 0h2m1 0h1m6 0h1m1 0h1m11 0h1m1 0h1m-27 1h3m14 0h1m9 0h1m-146 1h1m116 0h2m1 0h1m13 0h1m-18 1h1m1 0h2m15 0h1m-21 1h2m8 0h1m6 0h1m-134 1h1m117 0h4m11 0h1m-19 1h1m1 0h1m1 0h1m7 0h1m-131 1h1m2 0h1m113 0h1m5 0h1m1 0h1m2 0h1m13 0h1m-26 1h2m6 0h1m13 0h1m-138 1h2m113 0h1m21 0h1m-24 1h1m1 0h1m3 0h1m5 0h1m-128 1h1m1 0h1m111 0h1m1 0h1m2 0h1m5 0h1m3 0h1m-16 1h2m3 0h1m24 0h1m-145 1h1m1 0h1m112 0h1m7 0h1m4 0h1m-127 1h1m109 0h1m11 0h1m-125 1h3m109 0h1m5 0h1m12 0h1m12 0h1m-147 1h1m113 0h1m1 0h2m5 0h1m7 0h1m-129 1h1m108 0h1m1 0h1m11 0h1m-13 1h1m8 0h1m1 0h1m3 0h1m-126 1h1m108 0h1m-111 1h2m-1 1h1m107 0h1m7 0h1m-118 1h2m103 0h1m1 0h1m5 0h1m-114 1h1m104 0h1m-106 1h1m104 0h1m1 0h2m1 0h1m9 0h1m-18 1h3m4 0h1m-9 1h2m10 0h2m10 0h1m-128 1h1m100 1h2m2 0h1m-106 1h1m99 0h1m12 0h1m-113 1h1m98 0h2m2 0h2m3 0h1m-109 1h1m98 0h1m2 0h1m6 0h1m-110 1h1m102 1h2m-9 1h2m-99 1h1m110 0h1m-12 1h1m-10 3h2m-4 1h3m1 0h1m-94 1h2m86 0h1m-88 1h1m87 0h3m-91 1h1m84 1h1m4 0h1m-91 1h1m82 0h1m1 0h2m-6 1h2m1 0h1m-85 1h1m80 0h3m-86 1h2m79 0h2m1 0h1m-83 1h1m76 0h2m2 0h1m-82 1h1m75 0h1m2 0h1m1 0h1m-7 1h2m2 0h1m-83 1h1m75 0h1m1 0h1m-3 1h1m3 0h1m-78 1h1m69 0h1m1 0h1m1 0h1m3 0h1m-81 1h1m71 0h1m6 0h2m-79 1h1m65 0h1m2 0h1m1 0h2m2 0h1m-10 1h1m1 0h2m-70 1h1m62 0h1m2 0h1m-7 1h2m1 0h1m5 0h1m-71 1h1m25 0h3m31 0h1m1 0h2m-63 1h1m23 0h2m2 0h2m1 0h3m20 0h1m1 0h3m1 0h2m5 0h2m-70 1h1m25 0h3m2 0h2m1 0h4m12 0h1m3 0h3m1 0h1m1 0h1m1 0h1m9 0h1m-75 1h1m1 0h2m22 0h1m3 0h4m2 0h3m1 0h2m2 0h2m3 0h1m2 0h1m3 0h2m3 0h1m-61 1h1m28 0h2m2 0h2m1 0h2m1 0h3m1 0h2m3 0h7m4 0h2m-37 1h1m2 0h1m1 0h1m1 0h1m1 0h1m2 0h1m1 0h2m1 0h1m3 0h1m1 0h2m1 0h1m3 0h1m7 0h1m-35 1h2m1 0h1m1 0h1m5 0h1m1 0h1m1 0h1m4 0h1m1 0h2m1 0h1m-53 1h1m22 0h1m4 0h1m2 0h1m1 0h1m1 0h1m4 0h1m3 0h1m11 0h1m-56 1h1m20 0h1m1 0h1m1 0h1m1 0h1m1 0h1m5 0h1m4 0h1m1 0h2m1 0h1m3 0h1m3 0h1m-57 1h1m23 0h3m4 0h1m2 0h1m8 0h1m-43 1h2m22 0h1m17 0h1m1 0h1m-23 1h1m1 0h1m2 0h1m10 0h1m-37 1h1m19 0h1m1 0h2m6 0h1m9 0h1m6 0h1m-48 1h2m17 0h2m1 0h1m1 0h1m-25 1h1m19 0h1m2 0h1m11 0h1m-37 1h1m19 0h2m-20 1h1m16 0h2m1 0h1m-21 1h1m16 0h1m3 0h1m-25 1h1m1 1h1m1 0h1m13 0h1m3 0h1m-4 1h1m2 0h1m-20 1h1m13 0h2m3 0h1m-22 1h1m16 0h1m2 0h2m-17 1h1m9 0h1m1 0h1m2 0h1m-24 1h1m3 0h1m12 0h4m5 0h1m-22 1h1m12 0h1m1 0h1m-11 1h4m1 0h2m1 0h1m1 0h2m1 0h1m-21 1h1m4 0h2m2 0h1m1 0h2m1 0h2"/><path stroke="#111111" d="M0 0m128 35h2m1 0h4m2 0h2m1 0h3m1 0h3m1 0h1m1 0h3m1 0h1m-27 1h1m1 0h1m1 0h6m1 0h11m1 0h2m1 0h2m-29 1h16m1 0h1m1 0h3m1 0h2m1 0h5m-30 1h1m1 0h5m2 0h8m1 0h1m2 0h1m1 0h1m1 0h2m1 0h1m-30 1h4m1 0h11m1 0h3m1 0h2m1 0h2m1 0h1m1 0h2m-31 1h5m2 0h4m1 0h7m1 0h1m2 0h1m1 0h1m1 0h1m1 0h1m2 0h1m-33 1h2m2 0h10m3 0h1m1 0h2m2 0h1m1 0h1m3 0h6m-35 1h25m1 0h4m1 0h1m1 0h1m1 0h1m-36 1h4m3 0h4m2 0h2m4 0h4m1 0h3m1 0h3m3 0h3m-36 1h2m1 0h1m2 0h5m1 0h10m1 0h1m4 0h2m1 0h1m2 0h1m1 0h1m-36 1h20m1 0h2m3 0h4m2 0h2m1 0h1m-38 1h2m1 0h2m1 0h7m1 0h1m1 0h5m2 0h1m3 0h2m1 0h1m1 0h1m2 0h1m1 0h2m-39 1h12m1 0h6m1 0h2m1 0h2m1 0h2m1 0h4m1 0h5m-39 1h15m1 0h5m1 0h9m1 0h2m2 0h2m-39 1h1m1 0h25m4 0h1m1 0h1m1 0h1m2 0h4m-42 1h8m1 0h4m1 0h4m2 0h2m1 0h5m1 0h2m1 0h3m2 0h3m1 0h1m-42 1h1m1 0h8m2 0h16m1 0h1m1 0h2m1 0h1m1 0h5m1 0h1m-43 1h10m1 0h8m2 0h2m1 0h4m2 0h10m1 0h2m-42 1h1m1 0h17m2 0h8m1 0h1m1 0h3m1 0h2m1 0h2m1 0h1m-44 1h1m1 0h16m1 0h3m3 0h2m1 0h6m1 0h1m2 0h1m2 0h4m-44 1h15m1 0h1m1 0h6m1 0h1m1 0h1m1 0h1m1 0h4m1 0h6m1 0h1m-45 1h2m1 0h19m1 0h2m1 0h2m2 0h3m3 0h7m2 0h1m-46 1h2m1 0h21m1 0h1m4 0h2m1 0h5m2 0h3m-43 1h7m1 0h9m1 0h5m1 0h4m1 0h3m2 0h3m2 0h5m1 0h1m-46 1h5m1 0h9m1 0h3m1 0h2m1 0h4m1 0h2m1 0h8m2 0h4m1 0h1m-47 1h1m1 0h22m1 0h6m1 0h2m1 0h1m2 0h2m2 0h1m1 0h3m-47 1h3m1 0h16m1 0h7m2 0h3m1 0h1m1 0h1m2 0h1m3 0h1m1 0h2m-47 1h13m1 0h5m3 0h1m2 0h1m1 0h1m1 0h1m1 0h1m1 0h2m2 0h11m-48 1h6m1 0h5m1 0h3m1 0h15m1 0h4m2 0h1m1 0h5m1 0h1m-48 1h15m2 0h4m1 0h1m3 0h8m1 0h1m2 0h5m2 0h1m1 0h1m-48 1h3m1 0h21m2 0h7m2 0h2m5 0h1m2 0h2m-49 1h1m1 0h9m1 0h12m1 0h2m1 0h1m1 0h3m3 0h3m2 0h2m2 0h3m-48 1h17m2 0h1m1 0h1m1 0h4m1 0h10m1 0h1m1 0h4m1 0h1m1 0h2m-49 1h23m1 0h3m1 0h1m1 0h2m1 0h7m2 0h3m1 0h1m1 0h1m-50 1h2m1 0h6m1 0h14m1 0h4m1 0h2m1 0h4m1 0h5m1 0h1m2 0h1m1 0h1m-49 1h1m1 0h4m2 0h9m1 0h8m1 0h1m4 0h1m1 0h1m2 0h5m2 0h3m1 0h1m-49 1h17m2 0h3m1 0h5m1 0h3m1 0h2m1 0h2m1 0h10m-50 1h2m1 0h6m1 0h18m1 0h2m1 0h1m1 0h2m1 0h4m1 0h1m1 0h5m1 0h1m-51 1h1m1 0h7m1 0h3m1 0h2m1 0h7m1 0h3m1 0h1m2 0h5m1 0h1m1 0h7m1 0h1m1 0h1m-51 1h5m1 0h10m1 0h6m1 0h5m1 0h1m1 0h2m1 0h6m1 0h2m1 0h2m2 0h2m-51 1h17m1 0h9m1 0h13m1 0h1m1 0h1m1 0h4m-50 1h8m1 0h8m1 0h10m1 0h1m1 0h1m1 0h2m1 0h2m1 0h2m1 0h3m2 0h4m-51 1h17m1 0h8m2 0h1m2 0h6m1 0h1m1 0h1m1 0h1m3 0h3m1 0h1m-50 1h4m2 0h8m1 0h3m1 0h1m1 0h5m2 0h5m3 0h1m1 0h6m1 0h4m-50 1h2m2 0h19m1 0h3m2 0h2m1 0h6m1 0h1m4 0h3m1 0h3m-51 1h18m2 0h5m1 0h2m2 0h1m2 0h1m3 0h3m3 0h2m1 0h3m-49 1h9m1 0h16m1 0h6m1 0h4m2 0h8m1 0h2m-51 1h10m1 0h1m1 0h3m1 0h7m1 0h3m1 0h15m1 0h3m1 0h1m1 0h1m-52 1h26m1 0h4m2 0h1m1 0h4m2 0h3m1 0h5m1 0h1m-51 1h6m1 0h26m2 0h9m1 0h2m2 0h2m-52 1h9m1 0h29m1 0h1m1 0h1m1 0h2m2 0h2m1 0h1m-52 1h10m1 0h13m2 0h7m1 0h2m1 0h1m1 0h1m1 0h1m2 0h6m-50 1h19m1 0h7m1 0h5m1 0h2m1 0h12m1 0h2m-52 1h24m1 0h5m1 0h6m1 0h2m1 0h1m2 0h5m2 0h1m-52 1h2m1 0h9m1 0h1m1 0h3m1 0h9m1 0h9m1 0h1m2 0h2m2 0h1m1 0h3m-51 1h16m1 0h9m1 0h8m1 0h1m3 0h1m1 0h2m1 0h4m1 0h2m-52 1h3m1 0h16m1 0h4m1 0h4m1 0h7m1 0h1m2 0h7m1 0h2m-53 1h2m1 0h1m2 0h3m1 0h19m1 0h1m1 0h1m1 0h2m1 0h13m1 0h2m-53 1h1m1 0h22m1 0h4m1 0h1m2 0h1m1 0h6m2 0h4m1 0h1m1 0h1m1 0h1m-53 1h4m1 0h8m1 0h3m1 0h6m1 0h9m1 0h1m1 0h5m1 0h1m1 0h3m1 0h4m-53 1h5m1 0h3m1 0h5m1 0h7m1 0h2m1 0h1m1 0h1m1 0h5m1 0h1m2 0h7m2 0h2m1 0h1m-52 1h5m1 0h1m1 0h9m3 0h4m1 0h5m2 0h4m1 0h9m1 0h1m3 0h1m-53 1h16m1 0h4m1 0h1m1 0h1m1 0h1m1 0h2m1 0h2m1 0h3m2 0h1m1 0h1m1 0h5m1 0h1m1 0h1m-51 1h35m1 0h1m3 0h2m2 0h3m1 0h2m1 0h1m-53 1h7m1 0h12m1 0h5m1 0h5m1 0h3m3 0h3m1 0h6m2 0h2m-52 1h1m2 0h4m3 0h10m1 0h5m1 0h2m2 0h5m1 0h2m2 0h2m1 0h2m1 0h3m-51 1h1m1 0h6m1 0h1m2 0h19m1 0h9m1 0h1m1 0h2m2 0h5m-53 1h2m1 0h21m1 0h1m1 0h7m2 0h1m1 0h4m1 0h10m-53 1h1m1 0h4m1 0h5m1 0h12m1 0h8m1 0h7m2 0h6m1 0h1m-52 1h11m1 0h16m1 0h1m3 0h9m1 0h4m3 0h2m-52 1h2m1 0h4m1 0h14m1 0h5m1 0h1m1 0h1m1 0h3m1 0h2m2 0h2m4 0h6m-53 1h1m1 0h10m1 0h13m1 0h5m1 0h1m1 0h1m2 0h3m1 0h1m1 0h4m1 0h4m-52 1h20m1 0h11m1 0h5m1 0h4m1 0h1m1 0h3m2 0h1m-53 1h27m1 0h4m1 0h1m2 0h2m2 0h2m1 0h2m1 0h1m1 0h4m-51 1h31m4 0h2m1 0h3m3 0h3m2 0h3m-52 1h3m2 0h8m1 0h7m1 0h2m1 0h6m1 0h5m1 0h1m1 0h9m1 0h2m-52 1h3m2 0h8m1 0h4m1 0h2m1 0h9m1 0h8m1 0h3m1 0h1m2 0h2m-51 1h1m1 0h21m1 0h3m1 0h6m5 0h3m4 0h7m48 0h4m1 0h2m2 0h2m-112 1h6m1 0h11m1 0h11m1 0h1m2 0h1m1 0h1m1 0h2m1 0h1m2 0h5m1 0h3m45 0h1m1 0h1m1 0h2m1 0h4m1 0h1m1 0h1m1 0h2m-116 1h12m1 0h3m1 0h15m3 0h3m1 0h1m1 0h1m2 0h2m1 0h5m43 0h5m1 0h10m1 0h5m-117 1h9m1 0h13m1 0h4m1 0h5m2 0h2m1 0h1m2 0h8m1 0h1m40 0h11m2 0h9m1 0h3m-117 1h1m4 0h5m1 0h13m1 0h7m1 0h1m1 0h4m1 0h2m1 0h5m41 0h11m1 0h2m1 0h1m2 0h12m-119 1h1m4 0h4m1 0h15m1 0h3m1 0h1m2 0h2m1 0h1m1 0h4m1 0h2m1 0h3m1 0h1m37 0h1m1 0h7m1 0h2m1 0h3m1 0h13m-117 1h4m2 0h4m1 0h5m1 0h1m1 0h8m1 0h8m1 0h1m2 0h3m2 0h2m1 0h3m33 0h1m2 0h8m1 0h6m2 0h13m1 0h1m-121 1h1m2 0h2m3 0h2m1 0h13m1 0h8m1 0h3m1 0h1m2 0h2m1 0h3m1 0h5m31 0h5m1 0h1m1 0h8m2 0h2m2 0h5m2 0h5m1 0h1m-120 1h6m3 0h3m1 0h22m1 0h7m3 0h1m1 0h5m31 0h5m1 0h1m1 0h2m1 0h1m2 0h2m2 0h2m1 0h7m2 0h8m-123 1h7m3 0h1m1 0h1m1 0h2m1 0h6m1 0h5m1 0h4m1 0h6m2 0h1m2 0h3m1 0h4m31 0h12m2 0h1m3 0h2m1 0h7m2 0h8m-123 1h3m4 0h4m2 0h3m1 0h7m1 0h8m1 0h12m1 0h1m2 0h1m30 0h6m2 0h5m3 0h2m2 0h1m10 0h2m1 0h7m-122 1h3m4 0h4m2 0h6m1 0h17m1 0h3m1 0h1m1 0h1m1 0h1m1 0h2m1 0h3m26 0h5m1 0h1m2 0h2m1 0h1m4 0h2m14 0h1m1 0h2m1 0h4m-121 1h4m5 0h1m2 0h9m1 0h10m1 0h5m2 0h1m1 0h2m2 0h1m1 0h1m1 0h3m23 0h1m1 0h1m1 0h10m21 0h1m2 0h5m3 0h1m-124 1h5m5 0h1m2 0h2m1 0h13m1 0h5m1 0h5m2 0h9m1 0h1m23 0h13m25 0h1m1 0h4m1 0h1m-123 1h3m2 0h2m5 0h6m1 0h12m1 0h2m2 0h2m1 0h2m1 0h5m1 0h6m21 0h6m1 0h5m30 0h7m-124 1h3m2 0h2m5 0h9m2 0h4m1 0h3m1 0h4m1 0h4m2 0h6m1 0h2m1 0h1m19 0h3m1 0h10m27 0h1m2 0h1m1 0h3m1 0h1m-124 1h3m3 0h1m4 0h9m1 0h17m2 0h1m1 0h2m1 0h4m1 0h4m19 0h8m2 0h1m1 0h2m27 0h1m1 0h7m-123 1h3m2 0h2m4 0h5m1 0h1m1 0h12m1 0h3m3 0h4m1 0h8m22 0h8m4 0h2m27 0h1m1 0h5m-121 1h2m1 0h6m2 0h15m1 0h3m1 0h3m1 0h8m1 0h7m1 0h1m16 0h6m2 0h3m33 0h10m-123 1h9m2 0h1m1 0h6m1 0h10m1 0h8m1 0h4m2 0h1m1 0h3m1 0h1m16 0h6m2 0h2m34 0h10m-123 1h4m1 0h4m3 0h3m1 0h9m1 0h3m1 0h1m1 0h3m1 0h3m2 0h2m1 0h3m1 0h1m2 0h1m1 0h1m12 0h2m1 0h2m2 0h3m1 0h1m38 0h2m1 0h5m-124 1h2m1 0h1m2 0h3m3 0h3m1 0h3m1 0h4m2 0h2m1 0h1m1 0h1m2 0h2m2 0h1m2 0h2m1 0h2m1 0h2m2 0h3m13 0h1m1 0h4m1 0h3m39 0h5m1 0h1m-123 1h4m1 0h2m5 0h22m2 0h2m2 0h7m2 0h3m1 0h1m10 0h3m1 0h2m1 0h3m1 0h2m39 0h1m1 0h4m-122 1h4m1 0h2m4 0h18m1 0h8m1 0h1m2 0h8m1 0h2m9 0h1m1 0h9m2 0h1m40 0h1m2 0h4m-123 1h5m6 0h11m1 0h6m1 0h11m2 0h2m1 0h1m1 0h1m1 0h2m1 0h1m8 0h7m2 0h2m1 0h1m42 0h6m-123 1h5m7 0h13m1 0h2m1 0h3m1 0h2m1 0h3m4 0h8m1 0h2m10 0h2m1 0h2m2 0h4m42 0h6m-123 1h4m1 0h10m1 0h17m1 0h5m1 0h3m1 0h1m1 0h1m1 0h4m1 0h1m5 0h1m1 0h1m1 0h8m46 0h4m-121 1h4m1 0h9m1 0h1m1 0h1m1 0h5m1 0h8m1 0h4m1 0h1m1 0h5m1 0h5m2 0h1m1 0h2m3 0h3m1 0h6m43 0h1m2 0h5m-122 1h2m1 0h4m2 0h2m1 0h7m1 0h11m1 0h10m1 0h1m1 0h6m1 0h4m2 0h10m1 0h1m47 0h5m-122 1h2m1 0h4m2 0h1m2 0h7m2 0h8m1 0h7m1 0h11m2 0h1m2 0h3m1 0h5m1 0h3m50 0h3m1 0h1m-121 1h2m6 0h6m1 0h2m1 0h2m1 0h6m1 0h1m1 0h6m4 0h1m3 0h3m1 0h10m1 0h7m48 0h2m1 0h3m-122 1h1m1 0h2m6 0h16m1 0h2m3 0h1m1 0h1m1 0h3m1 0h1m1 0h2m2 0h3m3 0h16m48 0h6m-122 1h2m1 0h1m2 0h2m8 0h4m1 0h7m1 0h1m4 0h5m1 0h4m1 0h3m1 0h1m1 0h1m4 0h3m1 0h3m3 0h1m46 0h1m1 0h6m-120 1h3m2 0h2m8 0h10m1 0h2m1 0h3m1 0h1m2 0h3m3 0h5m2 0h1m1 0h2m1 0h9m48 0h2m1 0h3m1 0h2m-121 1h3m3 0h4m1 0h1m2 0h12m3 0h9m1 0h1m1 0h3m1 0h4m1 0h3m1 0h10m1 0h1m46 0h2m1 0h5m-119 1h1m1 0h1m2 0h6m2 0h5m1 0h8m2 0h2m1 0h1m2 0h2m1 0h1m1 0h2m1 0h1m1 0h6m1 0h6m1 0h5m47 0h2m1 0h5m-120 1h1m1 0h5m1 0h2m2 0h8m1 0h6m1 0h4m2 0h1m1 0h3m1 0h3m1 0h5m3 0h4m1 0h5m53 0h5m-120 1h3m1 0h3m1 0h2m2 0h13m1 0h1m1 0h1m1 0h5m1 0h3m1 0h2m1 0h2m2 0h2m1 0h9m1 0h2m52 0h1m1 0h3m-119 1h1m1 0h2m6 0h15m2 0h1m1 0h6m1 0h4m1 0h5m1 0h2m1 0h6m1 0h2m1 0h1m52 0h1m1 0h4m-118 1h3m6 0h10m1 0h2m1 0h2m1 0h4m1 0h3m1 0h5m1 0h1m3 0h4m1 0h1m1 0h5m55 0h4m1 0h1m-119 1h1m1 0h8m2 0h4m1 0h6m1 0h3m1 0h4m2 0h2m1 0h13m1 0h7m55 0h3m1 0h1m-118 1h10m2 0h4m1 0h7m1 0h2m1 0h1m1 0h1m1 0h2m1 0h1m1 0h3m1 0h3m2 0h12m53 0h7m-118 1h28m1 0h4m1 0h3m1 0h2m2 0h3m1 0h10m2 0h1m54 0h4m-117 1h2m1 0h8m1 0h6m1 0h6m1 0h15m3 0h12m57 0h4m-116 1h2m1 0h8m1 0h6m1 0h1m1 0h5m2 0h5m1 0h7m2 0h5m1 0h3m1 0h1m55 0h4m-113 1h2m1 0h2m1 0h5m1 0h4m2 0h2m1 0h1m1 0h5m1 0h2m2 0h5m1 0h1m1 0h10m58 0h1m2 0h2m-115 1h10m2 0h1m1 0h13m2 0h3m1 0h5m1 0h1m1 0h2m1 0h1m1 0h9m54 0h1m1 0h1m1 0h2m-115 1h10m2 0h7m1 0h13m1 0h3m2 0h5m1 0h8m56 0h3m1 0h1m-113 1h1m1 0h7m1 0h9m1 0h2m1 0h11m1 0h16m54 0h7m-112 1h22m2 0h4m1 0h1m1 0h2m1 0h12m1 0h4m54 0h4m1 0h2m-112 1h5m2 0h2m2 0h22m3 0h2m4 0h9m53 0h8m-113 1h4m1 0h1m2 0h2m1 0h6m1 0h6m1 0h5m1 0h4m1 0h5m1 0h5m1 0h4m53 0h7m-112 1h1m2 0h7m2 0h3m1 0h5m1 0h4m2 0h10m1 0h9m57 0h5m-110 1h10m2 0h13m1 0h12m1 0h4m1 0h4m52 0h2m3 0h5m-110 1h3m1 0h4m4 0h11m1 0h1m1 0h4m1 0h3m1 0h15m54 0h6m-110 1h2m2 0h2m6 0h3m1 0h10m1 0h1m1 0h2m2 0h2m1 0h13m52 0h1m1 0h3m1 0h3m-110 1h16m2 0h9m1 0h6m2 0h5m1 0h5m57 0h1m1 0h3m-109 1h7m1 0h2m1 0h8m1 0h2m1 0h4m1 0h2m1 0h16m57 0h3m-106 1h5m1 0h2m1 0h17m1 0h2m1 0h1m1 0h14m56 0h5m-107 1h5m2 0h18m1 0h4m1 0h1m1 0h1m1 0h11m54 0h4m-105 1h4m2 0h15m1 0h1m1 0h4m1 0h17m52 0h8m-106 1h4m4 0h13m1 0h2m1 0h1m2 0h4m1 0h2m1 0h9m53 0h7m-105 1h1m1 0h1m1 0h8m2 0h10m1 0h1m2 0h13m1 0h3m52 0h1m2 0h5m-105 1h4m1 0h7m2 0h5m1 0h4m1 0h8m2 0h4m3 0h1m1 0h1m51 0h2m1 0h2m1 0h2m-104 1h15m1 0h8m2 0h1m1 0h5m1 0h2m1 0h6m52 0h1m1 0h3m1 0h1m-103 1h18m1 0h4m1 0h1m2 0h2m1 0h3m1 0h9m52 0h1m1 0h6m-102 1h8m2 0h4m1 0h3m1 0h4m1 0h2m2 0h3m2 0h1m1 0h7m51 0h1m2 0h6m-100 1h6m2 0h1m2 0h9m1 0h3m1 0h15m50 0h2m2 0h1m1 0h3m-102 1h10m1 0h10m1 0h6m2 0h3m1 0h5m1 0h3m2 0h1m48 0h7m-101 1h1m1 0h19m3 0h1m1 0h1m1 0h3m1 0h9m52 0h3m1 0h3m-100 1h3m2 0h2m2 0h3m2 0h16m1 0h6m1 0h4m48 0h1m2 0h5m-97 1h3m1 0h2m2 0h14m1 0h3m1 0h3m1 0h1m1 0h7m48 0h2m1 0h3m1 0h2m-98 1h1m2 0h13m1 0h7m2 0h1m2 0h1m2 0h7m2 0h2m46 0h2m1 0h5m-94 1h8m1 0h18m1 0h2m1 0h5m2 0h2m46 0h7m-96 1h3m1 0h15m1 0h5m1 0h3m1 0h12m44 0h1m2 0h5m-94 1h10m1 0h2m1 0h2m2 0h3m1 0h3m1 0h3m1 0h11m44 0h2m1 0h3m1 0h2m-93 1h2m1 0h5m1 0h10m1 0h6m1 0h10m1 0h2m44 0h6m1 0h1m-93 1h4m1 0h12m1 0h1m1 0h7m1 0h1m2 0h1m1 0h5m1 0h2m44 0h4m1 0h3m-93 1h25m1 0h4m1 0h6m48 0h1m2 0h3m-89 1h21m1 0h4m1 0h5m1 0h2m47 0h3m1 0h3m-91 1h2m1 0h4m1 0h17m1 0h5m1 0h1m1 0h4m1 0h2m43 0h3m1 0h2m-90 1h3m1 0h2m1 0h12m1 0h9m1 0h4m1 0h3m1 0h2m37 0h1m2 0h5m1 0h2m-89 1h6m3 0h3m1 0h1m1 0h10m1 0h1m1 0h10m1 0h2m35 0h1m1 0h1m2 0h3m2 0h1m-87 1h9m1 0h12m1 0h1m1 0h2m1 0h10m1 0h2m33 0h1m1 0h3m2 0h5m-86 1h2m1 0h14m1 0h3m1 0h1m1 0h3m1 0h11m36 0h2m1 0h7m-84 1h6m1 0h16m1 0h14m33 0h1m2 0h5m2 0h2m-84 1h13m1 0h9m1 0h1m2 0h1m1 0h10m37 0h6m-80 1h2m1 0h8m1 0h7m1 0h5m1 0h2m1 0h8m31 0h1m1 0h1m2 0h4m1 0h2m-82 1h4m1 0h6m2 0h5m2 0h6m1 0h3m1 0h10m2 0h1m3 0h1m23 0h4m1 0h4m-80 1h4m1 0h3m1 0h2m3 0h2m1 0h4m1 0h6m1 0h12m2 0h1m3 0h2m22 0h5m-76 1h1m1 0h6m3 0h12m1 0h13m2 0h1m1 0h4m22 0h3m1 0h1m1 0h1m1 0h3m-77 1h5m1 0h2m2 0h4m1 0h6m2 0h5m1 0h7m2 0h1m1 0h4m21 0h1m1 0h8m-76 1h17m1 0h2m1 0h4m1 0h1m1 0h4m1 0h1m1 0h4m4 0h1m19 0h10m1 0h1m-75 1h1m1 0h18m1 0h5m1 0h1m1 0h1m1 0h3m1 0h4m4 0h2m18 0h6m1 0h1m2 0h1m-74 1h4m1 0h1m3 0h2m1 0h2m1 0h12m2 0h4m1 0h3m1 0h3m2 0h4m10 0h4m4 0h3m1 0h3m-72 1h1m1 0h5m2 0h8m1 0h4m1 0h1m1 0h3m1 0h2m1 0h10m1 0h4m2 0h1m3 0h8m1 0h1m2 0h3m1 0h1m-70 1h3m2 0h9m1 0h7m1 0h1m1 0h1m2 0h4m2 0h5m1 0h3m1 0h1m2 0h2m2 0h1m1 0h4m1 0h8m1 0h2m-68 1h1m3 0h16m1 0h1m3 0h1m1 0h1m1 0h1m1 0h3m1 0h9m2 0h2m2 0h10m2 0h4m-67 1h1m2 0h2m4 0h7m1 0h4m1 0h3m1 0h1m3 0h13m1 0h8m1 0h7m1 0h3m-64 1h1m8 0h2m1 0h3m1 0h6m3 0h1m1 0h6m1 0h4m1 0h7m1 0h5m1 0h7m1 0h2m-63 1h2m1 0h2m2 0h1m1 0h12m1 0h1m1 0h4m1 0h1m1 0h5m1 0h3m1 0h4m1 0h9m1 0h1m1 0h3m-54 1h3m1 0h4m1 0h11m1 0h4m2 0h1m1 0h8m1 0h11m1 0h1m-49 1h3m1 0h9m1 0h1m6 0h4m1 0h3m1 0h1m2 0h9m1 0h2m1 0h1m-47 1h8m1 0h1m1 0h2m11 0h2m1 0h1m1 0h2m1 0h3m1 0h2m1 0h5m-53 1h1m6 0h8m1 0h3m1 0h1m1 0h1m16 0h4m2 0h3m-48 1h1m6 0h6m1 0h3m1 0h1m1 0h2m-22 1h1m9 0h3m1 0h3m1 0h3m-12 1h2m1 0h7m1 0h1m-11 1h6m1 0h4m-11 1h1m1 0h2m1 0h2m1 0h1m1 0h1m-14 1h3m3 0h7m-20 1h1m6 0h10m1 0h2m-19 1h1m7 0h9m-16 1h1m6 0h5m1 0h1m1 0h2m-11 1h1m2 0h7m-11 1h2m2 0h1m1 0h4m-6 1h7m-17 1h1m9 0h2m3 0h1m-15 1h1m1 0h1m5 0h2m1 0h4m-16 1h4m5 0h5m-14 1h1m7 0h4m1 0h2m-14 1h1m6 0h6m-7 1h1m2 0h4m-8 1h5m1 0h1m-5 1h1m1 0h1m-5 1h3m1 0h2m-5 1h1m1 0h2m-5 1h3"/><path stroke="#bd42bd" d="M0 0m134 100h1m-1 1h1m-7 9h2m8 0h1m-11 1h2m8 0h1m-9 2h1m96 2h1m-102 1h4m-4 1h4m-5 1h1m4 0h2m96 0h2m-105 1h1m4 0h2m92 0h2m2 0h2m6 0h1m-107 1h3m3 0h1m83 0h2m2 0h2m10 0h2m-108 1h3m1 0h1m1 0h1m83 0h2m1 0h3m10 0h2m-112 1h4m4 0h2m74 0h2m5 0h3m2 0h2m2 0h9m-109 1h4m4 0h2m74 0h2m4 0h4m2 0h2m2 0h10m-108 1h5m1 0h2m78 0h12m2 0h7m1 0h2m-110 1h5m1 0h2m77 0h13m2 0h10m-112 1h2m2 0h5m75 0h27m1 0h2m-114 1h2m2 0h5m75 0h4m2 0h21m1 0h2m-114 1h2m2 0h4m70 0h2m1 0h1m2 0h4m2 0h21m1 0h1m-113 1h2m2 0h4m70 0h4m2 0h4m2 0h12m1 0h8m1 0h1m-107 1h2m65 0h1m3 0h13m6 0h2m5 0h1m2 0h4m-104 1h2m64 0h2m2 0h8m2 0h4m6 0h2m8 0h4m-109 1h1m4 0h3m3 0h1m62 0h11m10 0h2m4 0h4m1 0h6m-112 1h1m4 0h3m3 0h1m61 0h12m10 0h2m4 0h4m1 0h6m-112 1h1m2 0h4m63 0h1m2 0h6m25 0h8m1 0h1m-114 1h1m2 0h4m62 0h2m2 0h6m25 0h8m1 0h1m-113 1h6m58 0h2m4 0h6m28 0h8m-112 1h7m57 0h2m4 0h5m29 0h8m-113 1h1m66 0h4m2 0h2m30 0h5m1 0h2m-113 1h1m66 0h4m2 0h2m30 0h5m1 0h2m-115 1h1m4 0h2m2 0h1m56 0h1m1 0h4m1 0h2m33 0h7m-115 1h1m4 0h2m2 0h1m55 0h5m3 0h2m33 0h7m-114 1h6m58 0h6m2 0h1m33 0h6m-112 1h6m58 0h5m37 0h6m-112 1h2m2 0h8m49 0h1m1 0h5m37 0h4m1 0h1m-111 1h2m2 0h8m48 0h8m36 0h4m2 0h1m-111 1h2m6 0h2m52 0h6m2 0h1m30 0h1m1 0h1m1 0h3m2 0h1m-111 1h2m6 0h2m52 0h3m1 0h1m34 0h1m1 0h1m1 0h3m2 0h1m-108 1h1m2 0h2m50 0h8m40 0h5m-108 1h1m2 0h2m47 0h1m2 0h7m41 0h4m-110 1h6m49 0h1m1 0h5m41 0h1m2 0h3m-109 1h6m48 0h8m41 0h1m1 0h4m-103 1h2m46 0h4m2 0h2m38 0h8m-102 1h2m46 0h4m2 0h2m38 0h7m-55 1h2m1 0h3m2 0h1m37 0h11m-57 1h6m40 0h11m-101 1h1m40 0h1m1 0h7m41 0h7m-98 1h1m39 0h9m41 0h8m-100 1h2m43 0h2m45 0h7m1 0h1m-101 1h2m41 0h3m46 0h7m-57 1h8m41 0h5m-54 1h5m1 0h1m41 0h6m-100 1h2m2 0h2m40 0h4m42 0h2m1 0h4m-99 1h2m2 0h1m41 0h3m43 0h2m1 0h4m-95 1h2m36 0h9m42 0h2m1 0h3m-95 1h2m36 0h8m42 0h2m2 0h3m-102 1h1m4 0h4m38 0h2m47 0h5m-101 1h1m4 0h4m37 0h3m45 0h4m1 0h1m-56 1h7m42 0h8m-57 1h7m42 0h7m-56 1h6m3 0h2m38 0h6m-55 1h5m4 0h1m38 0h6m-97 1h2m40 0h3m45 0h4m-94 1h2m39 0h4m45 0h4m-86 1h2m27 0h1m3 0h4m40 0h1m2 0h5m1 0h2m-88 1h2m26 0h2m1 0h1m1 0h3m40 0h2m2 0h4m2 0h1m-56 1h7m40 0h5m-53 1h8m39 0h5m-86 1h2m32 0h5m41 0h5m1 0h2m-88 1h2m32 0h5m41 0h4m2 0h2m-54 1h2m1 0h1m39 0h7m-51 1h5m38 0h8m-89 1h1m2 0h2m33 0h7m32 0h2m2 0h2m1 0h1m2 0h2m-89 1h1m2 0h2m32 0h8m32 0h2m1 0h5m2 0h1m-91 1h2m36 0h2m2 0h3m1 0h2m2 0h1m29 0h8m-88 1h2m36 0h2m2 0h3m1 0h2m2 0h1m29 0h8m-47 1h7m33 0h4m1 0h2m-48 1h8m32 0h4m2 0h1m-50 1h1m2 0h6m33 0h1m2 0h2m-47 1h1m2 0h6m32 0h6m-48 1h12m4 0h1m22 0h1m2 0h6m-48 1h12m4 0h1m21 0h2m2 0h5m-46 1h1m2 0h8m27 0h8m-46 1h1m2 0h8m22 0h2m2 0h3m1 0h2m-43 1h1m2 0h10m18 0h2m2 0h3m1 0h1m1 0h2m-43 1h1m2 0h10m17 0h3m2 0h1m5 0h2m-42 1h5m1 0h6m16 0h8m2 0h1m-39 1h5m1 0h6m16 0h5m1 0h2m-62 1h1m25 0h10m2 0h1m3 0h2m4 0h15m-63 1h1m25 0h10m2 0h2m2 0h4m2 0h9m1 0h1m1 0h2m-71 1h1m6 0h2m28 0h2m1 0h3m1 0h3m2 0h2m2 0h14m-67 1h1m6 0h2m28 0h2m1 0h3m2 0h2m2 0h2m2 0h14m-62 1h2m26 0h2m1 0h1m4 0h8m2 0h12m-58 1h2m26 0h2m1 0h1m4 0h8m2 0h11m-27 1h4m1 0h19m-24 1h4m2 0h2m1 0h15m-56 1h2m32 0h2m4 0h10m4 0h4m-58 1h2m33 0h1m4 0h2m1 0h3m8 0h1m1 0h2m-62 1h2m40 0h2m2 0h2m-48 1h2m40 0h2m2 0h2m-50 1h2m2 0h4m-8 1h8m-7 1h1m2 0h2m-6 1h6m-6 1h8m-8 1h8m-8 1h6m-6 1h6m-6 1h8m-9 1h9m-9 1h10m-10 1h10m-9 1h6m-6 1h6m-7 1h1m2 0h4m1 0h1m-9 1h1m2 0h4m1 0h1m-8 1h6m2 0h2m-10 1h6m2 0h1m-10 1h1m1 0h9m-11 1h1m1 0h9m-6 1h5m-5 1h5m-10 1h1m2 0h6m-9 1h1m2 0h6m-9 1h8m-7 1h6m-6 1h6m-6 1h2m1 0h3m-6 1h6m-6 1h6m-6 1h4m-4 1h2"/><path stroke="#4a60d8" d="M0 0m226 124h2m-2 1h2m-14 2h2m12 2h1m-11 1h4m2 0h5m1 0h2m-22 1h2m6 0h4m2 0h6m1 0h1m-20 1h5m1 0h2m4 0h4m4 0h1m-21 1h1m5 0h2m4 0h2m1 0h1m4 0h1m-27 1h1m1 0h4m2 0h2m2 0h2m6 0h2m2 0h1m-23 1h4m2 0h2m2 0h2m6 0h2m2 0h1m-27 1h4m12 0h2m6 0h2m-27 1h3m23 0h1m-32 1h2m2 0h2m2 0h3m19 0h2m1 0h1m-34 1h2m2 0h2m2 0h2m20 0h2m1 0h1m-35 1h1m2 0h1m3 0h1m20 0h1m2 0h5m-38 1h3m27 0h1m2 0h5m-37 1h2m1 0h3m24 0h2m1 0h3m-37 1h6m25 0h2m1 0h3m-38 1h4m29 0h4m-37 1h4m29 0h3m-36 1h2m1 0h1m28 0h1m1 0h1m1 0h1m-40 1h1m1 0h2m1 0h2m28 0h1m1 0h1m1 0h1m-39 1h1m32 0h3m1 0h1m1 0h1m-41 1h1m33 0h3m1 0h3m-44 1h4m36 0h1m1 0h2m-44 1h3m36 0h2m1 0h1m-47 1h2m2 0h3m-7 1h2m2 0h1m-5 1h1m2 0h1m35 0h1m-38 1h2m34 0h2m-38 1h2m36 0h1m-42 1h1m2 0h1m-8 1h5m2 0h1m31 0h2m-42 1h3m1 0h2m34 0h2m-38 1h2m37 0h2m-44 1h1m1 0h2m38 0h1m-44 1h1m43 0h1m-46 1h2m43 0h1m-44 1h3m38 0h1m-43 1h4m37 0h1m-46 1h5m38 0h4m-47 1h1m1 0h3m38 0h2m-41 1h2m34 0h4m-40 1h2m34 0h4m-43 1h1m37 0h1m2 0h2m-44 1h2m3 0h1m33 0h1m2 0h1m-46 1h3m2 0h1m34 0h1m3 0h1m-45 1h3m2 0h1m32 0h3m1 0h3m-45 1h3m36 0h1m-41 1h4m-2 1h1m3 0h2m31 0h3m-40 1h1m3 0h1m31 0h3m-42 1h4m1 0h1m34 0h1m-41 1h4m34 0h3m-42 1h2m34 0h3m-39 1h2m34 0h2m-36 1h1m33 0h2m2 0h1m-39 1h1m33 0h1m-38 1h1m2 0h2m1 0h1m-7 1h1m2 0h2m1 0h1m27 0h1m-32 1h2m28 0h3m-33 1h2m27 0h3m-34 1h2m2 0h1m27 0h1m1 0h2m-36 1h2m2 0h1m25 0h2m-25 1h1m18 0h3m-22 1h1m17 0h3m3 0h1m-8 1h2m1 0h2m-23 1h1m19 0h2m-24 1h1m15 0h2m-18 1h2m14 0h1m4 0h1m-29 1h1m14 0h4m-19 1h1m6 0h1m5 0h6m1 0h1m1 0h1m-18 1h2m1 0h3m2 0h4m-12 1h2m2 0h2m4 0h2m-10 1h1m3 0h2m-6 1h2m2 0h2m-4 1h2m-2 1h2m-48 21h1m-1 1h1"/><path stroke="#40a8e0" d="M0 0m214 128h2m-2 1h2m0 1h2m-2 1h2m12 0h1m-14 1h1m2 0h2m-9 1h5m2 0h2m4 0h1m-20 1h1m4 0h2m2 0h2m2 0h6m2 0h2m-24 1h2m4 0h2m2 0h2m2 0h6m2 0h2m-22 1h12m2 0h6m2 0h2m-26 1h3m1 0h19m1 0h2m-28 1h2m3 0h5m2 0h12m2 0h1m-27 1h2m2 0h6m4 0h10m2 0h1m-30 1h3m1 0h5m2 0h13m1 0h2m-28 1h7m1 0h2m4 0h11m1 0h2m-26 1h6m2 0h2m2 0h2m2 0h2m1 0h5m2 0h1m-28 1h7m2 0h2m2 0h2m2 0h2m1 0h5m2 0h1m-31 1h4m2 0h1m1 0h4m6 0h11m-29 1h4m4 0h4m6 0h11m-29 1h6m10 0h2m1 0h5m1 0h3m-31 1h1m2 0h6m10 0h2m2 0h4m1 0h3m-33 1h7m4 0h2m6 0h2m3 0h1m2 0h2m1 0h2m3 0h1m1 0h1m-39 1h8m4 0h1m7 0h2m3 0h1m2 0h2m1 0h2m3 0h1m-37 1h4m2 0h1m1 0h1m17 0h4m1 0h5m-37 1h4m23 0h4m1 0h4m-36 1h4m5 0h2m8 0h2m4 0h4m1 0h5m-37 1h5m6 0h1m9 0h2m4 0h4m1 0h5m-41 1h1m2 0h7m15 0h2m2 0h2m3 0h1m2 0h1m-39 1h2m2 0h6m16 0h2m2 0h2m3 0h1m1 0h1m-38 1h2m2 0h2m2 0h4m8 0h2m7 0h1m4 0h6m-40 1h2m1 0h3m2 0h4m8 0h2m7 0h1m3 0h7m-40 1h2m1 0h2m1 0h2m6 0h2m4 0h2m4 0h2m2 0h2m4 0h4m-43 1h1m2 0h5m1 0h2m6 0h2m4 0h2m4 0h2m2 0h2m4 0h4m-40 1h4m2 0h2m18 0h2m2 0h7m-38 1h5m2 0h2m18 0h2m2 0h7m-42 1h7m27 0h7m-41 1h7m27 0h7m-38 1h4m2 0h2m18 0h2m2 0h2m2 0h4m-38 1h4m2 0h2m18 0h2m2 0h2m2 0h3m-40 1h7m25 0h6m-42 1h1m3 0h7m24 0h7m-41 1h2m2 0h2m25 0h3m1 0h3m-38 1h2m2 0h2m24 0h8m-38 1h2m2 0h2m2 0h2m16 0h2m6 0h3m1 0h2m-40 1h2m2 0h2m2 0h2m16 0h2m1 0h1m1 0h1m2 0h3m1 0h2m-42 1h2m1 0h2m3 0h3m13 0h2m1 0h1m4 0h5m1 0h3m-41 1h2m1 0h2m3 0h2m14 0h4m4 0h3m3 0h1m-39 1h7m25 0h4m2 0h2m-40 1h6m26 0h4m2 0h2m-41 1h3m2 0h2m19 0h1m6 0h3m-36 1h3m1 0h3m19 0h1m5 0h3m-35 1h1m1 0h5m21 0h1m2 0h5m-36 1h7m20 0h2m2 0h3m-37 1h10m18 0h2m1 0h3m-34 1h10m17 0h3m1 0h3m-33 1h5m24 0h2m-31 1h5m21 0h1m2 0h2m-28 1h3m19 0h6m-28 1h3m19 0h5m-29 1h4m2 0h2m15 0h5m-28 1h4m2 0h2m13 0h6m-29 1h2m1 0h1m19 0h1m2 0h4m-30 1h2m1 0h1m15 0h1m2 0h6m-28 1h4m4 0h4m10 0h2m4 0h2m-30 1h4m2 0h1m1 0h4m2 0h2m1 0h3m1 0h2m5 0h1m-29 1h12m4 0h6m2 0h1m-25 1h4m1 0h17m-19 1h15m4 0h2m-20 1h14m4 0h1m-21 1h8m4 0h4m-15 1h5m6 0h1m1 0h1m-14 3h1"/><path stroke="#40b040" d="M0 0m209 137h1m4 1h2m-2 1h4m-8 1h2m-5 1h1m2 0h4m-6 1h2m2 0h2m2 0h2m2 0h1m-13 1h2m2 0h2m2 0h2m2 0h1m-19 1h2m1 0h1m4 0h6m-14 1h4m4 0h6m-12 1h10m2 0h1m5 0h1m-19 1h10m2 0h2m4 0h1m-23 1h4m2 0h6m2 0h3m1 0h2m2 0h1m-23 1h4m1 0h7m2 0h3m1 0h2m2 0h1m-27 1h2m1 0h1m1 0h7m2 0h8m4 0h1m-28 1h13m2 0h8m4 0h1m-28 1h5m2 0h8m2 0h4m4 0h1m-27 1h6m1 0h9m2 0h4m4 0h1m-26 1h9m2 0h4m2 0h2m2 0h3m1 0h2m-28 1h10m2 0h4m2 0h2m2 0h3m1 0h1m-31 1h2m4 0h4m6 0h7m1 0h4m-28 1h2m4 0h4m6 0h7m1 0h3m-28 1h1m2 0h6m2 0h2m4 0h4m2 0h2m2 0h2m-29 1h1m2 0h6m2 0h2m4 0h4m2 0h2m2 0h2m-30 1h2m2 0h6m2 0h10m2 0h2m-26 1h2m2 0h6m2 0h10m2 0h2m-28 1h9m3 0h4m2 0h2m1 0h6m-27 1h9m3 0h4m2 0h9m-27 1h2m2 0h8m2 0h4m2 0h2m2 0h2m2 0h2m-30 1h2m2 0h8m2 0h4m2 0h2m2 0h2m2 0h2m-30 1h10m2 0h2m2 0h9m-25 1h10m2 0h2m2 0h8m-28 1h3m1 0h2m8 0h2m2 0h7m3 0h1m-29 1h2m2 0h2m8 0h2m2 0h6m-24 1h2m2 0h6m8 0h2m2 0h6m-28 1h2m2 0h6m8 0h2m2 0h1m1 0h1m1 0h2m-31 1h2m4 0h3m8 0h2m2 0h1m1 0h4m-27 1h2m3 0h4m8 0h2m4 0h4m-25 1h2m1 0h8m2 0h2m4 0h6m-26 1h2m2 0h8m2 0h2m3 0h7m-26 1h3m1 0h4m10 0h1m1 0h6m-26 1h2m2 0h1m1 0h2m10 0h1m1 0h5m-25 1h4m2 0h2m2 0h2m3 0h6m1 0h2m-24 1h3m3 0h2m2 0h2m3 0h5m2 0h2m-24 1h3m9 0h6m2 0h1m-21 1h3m9 0h5m3 0h1m-25 1h10m4 0h2m1 0h7m-24 1h10m4 0h2m1 0h4m1 0h2m-23 1h4m1 0h2m2 0h4m2 0h2m1 0h1m-19 1h4m1 0h3m1 0h4m2 0h4m-20 1h2m2 0h6m2 0h2m1 0h4m-19 1h2m2 0h6m2 0h5m-19 1h19m1 0h2m-22 1h15m1 0h2m-16 1h2m4 0h10m-15 1h1m4 0h2m2 0h1m3 0h1m-9 1h4"/><path stroke="#e82828" d="M0 0m208 150h2m-2 1h2m-6 3h2m-2 1h2m-6 1h4m-4 1h4m-2 1h2m-2 1h2m-6 1h2m-2 1h2m-5 1h3m4 0h2m2 0h1m-12 1h3m4 0h2m-6 1h2m4 0h2m-8 1h2m4 0h2m-10 1h2m2 0h2m-6 1h2m2 0h2m-17 1h1m2 0h8m2 0h2m-16 1h2m2 0h8m2 0h2m-8 1h8m-8 1h8m-19 1h1m6 0h8m-15 1h1m6 0h8m-13 1h1m8 0h2m2 0h4m-18 1h2m8 0h2m2 0h3m-16 1h1m4 0h10m-16 1h2m1 0h1m2 0h10m-14 1h2m2 0h2m2 0h3m-12 1h3m2 0h2m2 0h3m-12 1h9m-9 1h9m-6 1h4m2 0h1m-7 1h4m2 0h1m-12 1h1m2 0h2m4 0h2m2 0h1m-14 1h1m3 0h1m4 0h2m-6 1h2m2 0h1m-5 1h2"/></g>
<rect x="198.8" y="68.8" width="67.1" height="24.4" fill="#fff" fill-opacity="0.72" stroke="#d4d4d4" stroke-width="1.3" rx="2.5"/>
<text x="201.0" y="88.0" font-size="19.5" textLength="63.0" lengthAdjust="spacingAndGlyphs" fill="#000" stroke="#000" stroke-width="0.35">77.263%</text>
<rect x="107.5" y="33.5" width="195.5" height="209.5" fill="none" stroke="#333" stroke-width="1.3"/>
<line x1="128.0" y1="34.3" x2="302.2" y2="34.3" stroke="#d070d0" stroke-width="1.2"/>
<line x1="302.2" y1="33.5" x2="302.2" y2="95.0" stroke="#d070d0" stroke-width="1.2"/>
<line x1="102.5" y1="243.0" x2="107.5" y2="243.0" stroke="#333" stroke-width="1.2"/>
<text x="101.2" y="248.2" font-size="12.4" text-anchor="end" textLength="6.4" lengthAdjust="spacingAndGlyphs" stroke="#111" stroke-width="0.25">0</text>
<line x1="105.3" y1="239.0" x2="107.5" y2="239.0" stroke="#333" stroke-width="0.9"/>
<line x1="105.3" y1="235.0" x2="107.5" y2="235.0" stroke="#333" stroke-width="0.9"/>
<line x1="105.3" y1="231.0" x2="107.5" y2="231.0" stroke="#333" stroke-width="0.9"/>
<line x1="105.3" y1="227.0" x2="107.5" y2="227.0" stroke="#333" stroke-width="0.9"/>
<line x1="105.3" y1="223.0" x2="107.5" y2="223.0" stroke="#333" stroke-width="0.9"/>
<line x1="105.3" y1="219.0" x2="107.5" y2="219.0" stroke="#333" stroke-width="0.9"/>
<line x1="105.3" y1="215.0" x2="107.5" y2="215.0" stroke="#333" stroke-width="0.9"/>
<line x1="105.3" y1="211.0" x2="107.5" y2="211.0" stroke="#333" stroke-width="0.9"/>
<line x1="105.3" y1="207.0" x2="107.5" y2="207.0" stroke="#333" stroke-width="0.9"/>
<line x1="102.5" y1="203.0" x2="107.5" y2="203.0" stroke="#333" stroke-width="1.2"/>
<text x="101.2" y="208.2" font-size="12.4" text-anchor="end" textLength="12.8" lengthAdjust="spacingAndGlyphs" stroke="#111" stroke-width="0.25">50</text>
<line x1="105.3" y1="199.0" x2="107.5" y2="199.0" stroke="#333" stroke-width="0.9"/>
<line x1="105.3" y1="195.0" x2="107.5" y2="195.0" stroke="#333" stroke-width="0.9"/>
<line x1="105.3" y1="190.9" x2="107.5" y2="190.9" stroke="#333" stroke-width="0.9"/>
<line x1="105.3" y1="186.9" x2="107.5" y2="186.9" stroke="#333" stroke-width="0.9"/>
<line x1="105.3" y1="182.9" x2="107.5" y2="182.9" stroke="#333" stroke-width="0.9"/>
<line x1="105.3" y1="178.9" x2="107.5" y2="178.9" stroke="#333" stroke-width="0.9"/>
<line x1="105.3" y1="174.9" x2="107.5" y2="174.9" stroke="#333" stroke-width="0.9"/>
<line x1="105.3" y1="170.9" x2="107.5" y2="170.9" stroke="#333" stroke-width="0.9"/>
<line x1="105.3" y1="166.9" x2="107.5" y2="166.9" stroke="#333" stroke-width="0.9"/>
<line x1="102.5" y1="162.9" x2="107.5" y2="162.9" stroke="#333" stroke-width="1.2"/>
<text x="101.2" y="168.1" font-size="12.4" text-anchor="end" textLength="19.2" lengthAdjust="spacingAndGlyphs" stroke="#111" stroke-width="0.25">100</text>
<line x1="105.3" y1="158.9" x2="107.5" y2="158.9" stroke="#333" stroke-width="0.9"/>
<line x1="105.3" y1="154.9" x2="107.5" y2="154.9" stroke="#333" stroke-width="0.9"/>
<line x1="105.3" y1="150.9" x2="107.5" y2="150.9" stroke="#333" stroke-width="0.9"/>
<line x1="105.3" y1="146.9" x2="107.5" y2="146.9" stroke="#333" stroke-width="0.9"/>
<line x1="105.3" y1="142.9" x2="107.5" y2="142.9" stroke="#333" stroke-width="0.9"/>
<line x1="105.3" y1="138.9" x2="107.5" y2="138.9" stroke="#333" stroke-width="0.9"/>
<line x1="105.3" y1="134.9" x2="107.5" y2="134.9" stroke="#333" stroke-width="0.9"/>
<line x1="105.3" y1="130.9" x2="107.5" y2="130.9" stroke="#333" stroke-width="0.9"/>
<line x1="105.3" y1="126.9" x2="107.5" y2="126.9" stroke="#333" stroke-width="0.9"/>
<line x1="102.5" y1="122.9" x2="107.5" y2="122.9" stroke="#333" stroke-width="1.2"/>
<text x="101.2" y="128.1" font-size="12.4" text-anchor="end" textLength="19.2" lengthAdjust="spacingAndGlyphs" stroke="#111" stroke-width="0.25">150</text>
<line x1="105.3" y1="118.9" x2="107.5" y2="118.9" stroke="#333" stroke-width="0.9"/>
<line x1="105.3" y1="114.9" x2="107.5" y2="114.9" stroke="#333" stroke-width="0.9"/>
<line x1="105.3" y1="110.9" x2="107.5" y2="110.9" stroke="#333" stroke-width="0.9"/>
<line x1="105.3" y1="106.9" x2="107.5" y2="106.9" stroke="#333" stroke-width="0.9"/>
<line x1="105.3" y1="102.9" x2="107.5" y2="102.9" stroke="#333" stroke-width="0.9"/>
<line x1="105.3" y1="98.9" x2="107.5" y2="98.9" stroke="#333" stroke-width="0.9"/>
<line x1="105.3" y1="94.9" x2="107.5" y2="94.9" stroke="#333" stroke-width="0.9"/>
<line x1="105.3" y1="90.8" x2="107.5" y2="90.8" stroke="#333" stroke-width="0.9"/>
<line x1="105.3" y1="86.8" x2="107.5" y2="86.8" stroke="#333" stroke-width="0.9"/>
<line x1="102.5" y1="82.8" x2="107.5" y2="82.8" stroke="#333" stroke-width="1.2"/>
<text x="101.2" y="88.0" font-size="12.4" text-anchor="end" textLength="19.2" lengthAdjust="spacingAndGlyphs" stroke="#111" stroke-width="0.25">200</text>
<line x1="105.3" y1="78.8" x2="107.5" y2="78.8" stroke="#333" stroke-width="0.9"/>
<line x1="105.3" y1="74.8" x2="107.5" y2="74.8" stroke="#333" stroke-width="0.9"/>
<line x1="105.3" y1="70.8" x2="107.5" y2="70.8" stroke="#333" stroke-width="0.9"/>
<line x1="105.3" y1="66.8" x2="107.5" y2="66.8" stroke="#333" stroke-width="0.9"/>
<line x1="105.3" y1="62.8" x2="107.5" y2="62.8" stroke="#333" stroke-width="0.9"/>
<line x1="105.3" y1="58.8" x2="107.5" y2="58.8" stroke="#333" stroke-width="0.9"/>
<line x1="105.3" y1="54.8" x2="107.5" y2="54.8" stroke="#333" stroke-width="0.9"/>
<line x1="105.3" y1="50.8" x2="107.5" y2="50.8" stroke="#333" stroke-width="0.9"/>
<line x1="105.3" y1="46.8" x2="107.5" y2="46.8" stroke="#333" stroke-width="0.9"/>
<line x1="102.5" y1="42.8" x2="107.5" y2="42.8" stroke="#333" stroke-width="1.2"/>
<text x="101.2" y="48.0" font-size="12.4" text-anchor="end" textLength="19.2" lengthAdjust="spacingAndGlyphs" stroke="#111" stroke-width="0.25">250</text>
<line x1="105.3" y1="38.8" x2="107.5" y2="38.8" stroke="#333" stroke-width="0.9"/>
<line x1="107.3" y1="243.0" x2="107.3" y2="248.0" stroke="#333" stroke-width="1.2"/>
<text x="107.3" y="262.0" font-size="12.4" text-anchor="middle" textLength="6.4" lengthAdjust="spacingAndGlyphs" stroke="#111" stroke-width="0.25">0</text>
<line x1="111.0" y1="243.0" x2="111.0" y2="245.2" stroke="#333" stroke-width="0.9"/>
<line x1="114.7" y1="243.0" x2="114.7" y2="245.2" stroke="#333" stroke-width="0.9"/>
<line x1="118.5" y1="243.0" x2="118.5" y2="245.2" stroke="#333" stroke-width="0.9"/>
<line x1="122.2" y1="243.0" x2="122.2" y2="245.2" stroke="#333" stroke-width="0.9"/>
<line x1="125.9" y1="243.0" x2="125.9" y2="245.2" stroke="#333" stroke-width="0.9"/>
<line x1="129.6" y1="243.0" x2="129.6" y2="245.2" stroke="#333" stroke-width="0.9"/>
<line x1="133.3" y1="243.0" x2="133.3" y2="245.2" stroke="#333" stroke-width="0.9"/>
<line x1="137.0" y1="243.0" x2="137.0" y2="245.2" stroke="#333" stroke-width="0.9"/>
<line x1="140.8" y1="243.0" x2="140.8" y2="245.2" stroke="#333" stroke-width="0.9"/>
<line x1="144.5" y1="243.0" x2="144.5" y2="248.0" stroke="#333" stroke-width="1.2"/>
<text x="144.5" y="262.0" font-size="12.4" text-anchor="middle" textLength="12.8" lengthAdjust="spacingAndGlyphs" stroke="#111" stroke-width="0.25">50</text>
<line x1="148.2" y1="243.0" x2="148.2" y2="245.2" stroke="#333" stroke-width="0.9"/>
<line x1="151.9" y1="243.0" x2="151.9" y2="245.2" stroke="#333" stroke-width="0.9"/>
<line x1="155.6" y1="243.0" x2="155.6" y2="245.2" stroke="#333" stroke-width="0.9"/>
<line x1="159.4" y1="243.0" x2="159.4" y2="245.2" stroke="#333" stroke-width="0.9"/>
<line x1="163.1" y1="243.0" x2="163.1" y2="245.2" stroke="#333" stroke-width="0.9"/>
<line x1="166.8" y1="243.0" x2="166.8" y2="245.2" stroke="#333" stroke-width="0.9"/>
<line x1="170.5" y1="243.0" x2="170.5" y2="245.2" stroke="#333" stroke-width="0.9"/>
<line x1="174.2" y1="243.0" x2="174.2" y2="245.2" stroke="#333" stroke-width="0.9"/>
<line x1="177.9" y1="243.0" x2="177.9" y2="245.2" stroke="#333" stroke-width="0.9"/>
<line x1="181.7" y1="243.0" x2="181.7" y2="248.0" stroke="#333" stroke-width="1.2"/>
<text x="181.7" y="262.0" font-size="12.4" text-anchor="middle" textLength="19.2" lengthAdjust="spacingAndGlyphs" stroke="#111" stroke-width="0.25">100</text>
<line x1="185.4" y1="243.0" x2="185.4" y2="245.2" stroke="#333" stroke-width="0.9"/>
<line x1="189.1" y1="243.0" x2="189.1" y2="245.2" stroke="#333" stroke-width="0.9"/>
<line x1="192.8" y1="243.0" x2="192.8" y2="245.2" stroke="#333" stroke-width="0.9"/>
<line x1="196.5" y1="243.0" x2="196.5" y2="245.2" stroke="#333" stroke-width="0.9"/>
<line x1="200.2" y1="243.0" x2="200.2" y2="245.2" stroke="#333" stroke-width="0.9"/>
<line x1="204.0" y1="243.0" x2="204.0" y2="245.2" stroke="#333" stroke-width="0.9"/>
<line x1="207.7" y1="243.0" x2="207.7" y2="245.2" stroke="#333" stroke-width="0.9"/>
<line x1="211.4" y1="243.0" x2="211.4" y2="245.2" stroke="#333" stroke-width="0.9"/>
<line x1="215.1" y1="243.0" x2="215.1" y2="245.2" stroke="#333" stroke-width="0.9"/>
<line x1="218.8" y1="243.0" x2="218.8" y2="248.0" stroke="#333" stroke-width="1.2"/>
<text x="218.8" y="262.0" font-size="12.4" text-anchor="middle" textLength="19.2" lengthAdjust="spacingAndGlyphs" stroke="#111" stroke-width="0.25">150</text>
<line x1="222.6" y1="243.0" x2="222.6" y2="245.2" stroke="#333" stroke-width="0.9"/>
<line x1="226.3" y1="243.0" x2="226.3" y2="245.2" stroke="#333" stroke-width="0.9"/>
<line x1="230.0" y1="243.0" x2="230.0" y2="245.2" stroke="#333" stroke-width="0.9"/>
<line x1="233.7" y1="243.0" x2="233.7" y2="245.2" stroke="#333" stroke-width="0.9"/>
<line x1="237.4" y1="243.0" x2="237.4" y2="245.2" stroke="#333" stroke-width="0.9"/>
<line x1="241.1" y1="243.0" x2="241.1" y2="245.2" stroke="#333" stroke-width="0.9"/>
<line x1="244.9" y1="243.0" x2="244.9" y2="245.2" stroke="#333" stroke-width="0.9"/>
<line x1="248.6" y1="243.0" x2="248.6" y2="245.2" stroke="#333" stroke-width="0.9"/>
<line x1="252.3" y1="243.0" x2="252.3" y2="245.2" stroke="#333" stroke-width="0.9"/>
<line x1="256.0" y1="243.0" x2="256.0" y2="248.0" stroke="#333" stroke-width="1.2"/>
<text x="256.0" y="262.0" font-size="12.4" text-anchor="middle" textLength="19.2" lengthAdjust="spacingAndGlyphs" stroke="#111" stroke-width="0.25">200</text>
<line x1="259.7" y1="243.0" x2="259.7" y2="245.2" stroke="#333" stroke-width="0.9"/>
<line x1="263.5" y1="243.0" x2="263.5" y2="245.2" stroke="#333" stroke-width="0.9"/>
<line x1="267.2" y1="243.0" x2="267.2" y2="245.2" stroke="#333" stroke-width="0.9"/>
<line x1="270.9" y1="243.0" x2="270.9" y2="245.2" stroke="#333" stroke-width="0.9"/>
<line x1="274.6" y1="243.0" x2="274.6" y2="245.2" stroke="#333" stroke-width="0.9"/>
<line x1="278.3" y1="243.0" x2="278.3" y2="245.2" stroke="#333" stroke-width="0.9"/>
<line x1="282.0" y1="243.0" x2="282.0" y2="245.2" stroke="#333" stroke-width="0.9"/>
<line x1="285.8" y1="243.0" x2="285.8" y2="245.2" stroke="#333" stroke-width="0.9"/>
<line x1="289.5" y1="243.0" x2="289.5" y2="245.2" stroke="#333" stroke-width="0.9"/>
<line x1="293.2" y1="243.0" x2="293.2" y2="248.0" stroke="#333" stroke-width="1.2"/>
<text x="293.2" y="262.0" font-size="12.4" text-anchor="middle" textLength="19.2" lengthAdjust="spacingAndGlyphs" stroke="#111" stroke-width="0.25">250</text>
<line x1="296.9" y1="243.0" x2="296.9" y2="245.2" stroke="#333" stroke-width="0.9"/>
<line x1="300.6" y1="243.0" x2="300.6" y2="245.2" stroke="#333" stroke-width="0.9"/>
<g transform="translate(68.5 89.2) rotate(-90)"><text x="0" y="0" font-size="11.8" textLength="30.3" lengthAdjust="spacingAndGlyphs" stroke="#111" stroke-width="0.2">(x 10</text><text x="30.9" y="-5.0" font-size="7.3" stroke="#111" stroke-width="0.15">3</text><text x="35.7" y="0" font-size="11.8" textLength="4.3" lengthAdjust="spacingAndGlyphs" stroke="#111" stroke-width="0.2">)</text></g>
<g transform="translate(269.8 282.0)"><text x="0" y="0" font-size="12" textLength="28.8" lengthAdjust="spacingAndGlyphs" stroke="#111" stroke-width="0.2">(x 10</text><text x="29.4" y="-5.0" font-size="7.4" stroke="#111" stroke-width="0.15">3</text><text x="33.9" y="0" font-size="12" textLength="4.1" lengthAdjust="spacingAndGlyphs" stroke="#111" stroke-width="0.2">)</text></g>
<text x="47.2" y="137.8" font-size="19.5" text-anchor="middle" textLength="47.5" lengthAdjust="spacingAndGlyphs" stroke="#111" stroke-width="0.4" transform="rotate(-90 47.2 137.8)">SSC-A</text>
<text x="205.0" y="306.0" font-size="19.5" text-anchor="middle" textLength="46.0" lengthAdjust="spacingAndGlyphs" stroke="#111" stroke-width="0.4">FSC-A</text>
<g transform="translate(0 0.5)" fill="none" stroke-width="1" shape-rendering="crispEdges"><path stroke="#555555" d="M0 0m433 91h1m14 8h1m-15 6h1m6 0h1m2 0h1m0 1h1m-5 2h1m-1 1h1m-4 1h1m29 0h1m-32 1h1m-5 1h1m9 0h1m-10 1h2m10 0h1m3 0h1m-9 1h1m6 0h1m1 0h1m-25 1h1m13 0h1m1 0h1m8 0h1m-15 1h2m1 0h2m11 0h1m-25 1h1m4 0h1m4 0h1m4 0h1m-20 1h1m1 0h1m12 0h1m14 0h1m-28 1h1m7 0h1m3 0h1m6 0h1m-20 1h1m12 0h1m-1 1h1m1 0h2m1 0h1m-11 1h1m2 0h1m4 0h1m2 0h1m7 0h1m-21 1h1m5 0h1m1 0h1m5 0h1m2 0h1m-14 1h1m6 0h1m-18 1h1m9 0h2m3 0h2m2 0h1m4 0h1m14 0h1m-46 1h1m12 0h1m3 0h1m1 0h1m4 0h1m1 0h1m1 0h2m1 0h1m-26 1h1m9 0h2m1 0h1m1 0h1m2 0h1m1 0h1m-22 1h1m4 0h1m4 0h2m6 0h1m1 0h1m6 0h1m6 0h1m-39 1h1m1 0h1m14 0h1m3 0h2m2 0h1m5 0h1m-28 1h1m3 0h2m7 0h1m2 0h1m1 0h1m3 0h1m8 0h1m1 0h1m-38 1h1m7 0h1m4 0h1m8 0h2m3 0h1m3 0h1m7 0h1m2 0h1m5 0h1m-39 1h3m6 0h1m1 0h1m7 0h1m2 0h1m2 0h1m-43 1h1m15 0h2m3 0h4m1 0h1m1 0h2m2 0h1m7 0h1m5 0h2m-30 1h2m1 0h1m6 0h1m2 0h1m5 0h1m9 0h1m6 0h1m-43 1h2m6 0h3m3 0h2m5 0h1m3 0h1m2 0h1m1 0h1m2 0h1m30 0h1m-69 1h1m10 0h2m5 0h2m2 0h2m-12 1h1m1 0h1m1 0h1m4 0h1m2 0h4m-24 1h1m1 0h1m5 0h1m5 0h1m3 0h3m1 0h1m5 0h1m1 0h2m-28 1h1m1 0h1m8 0h3m1 0h2m3 0h1m18 0h1m-49 1h1m7 0h2m1 0h1m4 0h1m1 0h1m1 0h1m1 0h1m1 0h5m3 0h3m2 0h1m1 0h1m4 0h1m18 0h1m-59 1h1m2 0h1m2 0h1m1 0h1m4 0h1m2 0h2m1 0h2m4 0h4m1 0h2m7 0h1m-39 1h1m3 0h4m3 0h1m1 0h2m1 0h2m1 0h2m5 0h2m1 0h1m3 0h1m1 0h2m1 0h2m1 0h1m2 0h1m7 0h1m-62 1h1m7 0h2m2 0h1m3 0h1m2 0h1m5 0h1m5 0h1m1 0h1m2 0h1m5 0h1m5 0h2m2 0h1m-51 1h1m1 0h1m4 0h1m2 0h2m1 0h1m1 0h1m1 0h1m1 0h1m3 0h1m3 0h1m4 0h1m5 0h1m6 0h1m2 0h1m4 0h1m4 0h1m-56 1h1m11 0h1m4 0h1m1 0h1m1 0h1m1 0h1m1 0h1m2 0h1m9 0h3m2 0h2m10 0h1m9 0h1m-63 1h2m7 0h1m1 0h1m5 0h1m1 0h1m1 0h1m2 0h1m2 0h1m2 0h2m6 0h1m2 0h2m-52 1h1m15 0h2m3 0h2m3 0h1m1 0h3m1 0h1m1 0h1m3 0h1m2 0h1m1 0h1m6 0h1m3 0h1m3 0h1m1 0h1m-52 1h1m1 0h2m2 0h1m2 0h1m2 0h1m2 0h1m1 0h1m1 0h2m2 0h5m3 0h2m2 0h1m3 0h1m1 0h2m1 0h1m9 0h1m-64 1h2m3 0h1m8 0h1m4 0h3m3 0h4m2 0h1m1 0h2m3 0h3m1 0h4m1 0h1m2 0h1m3 0h1m-44 1h1m1 0h3m1 0h1m2 0h1m1 0h4m2 0h5m1 0h4m5 0h1m1 0h1m1 0h1m2 0h1m1 0h4m17 0h1m-83 1h1m3 0h1m20 0h1m3 0h2m3 0h4m1 0h1m6 0h2m2 0h3m2 0h1m1 0h2m1 0h3m3 0h1m-52 1h1m5 0h2m2 0h2m1 0h4m1 0h1m1 0h1m16 0h1m5 0h1m1 0h2m13 0h1m-71 1h1m11 0h1m1 0h1m2 0h2m2 0h2m2 0h2m1 0h1m21 0h1m1 0h2m1 0h2m3 0h1m1 0h2m1 0h1m2 0h2m-68 1h1m12 0h1m1 0h2m3 0h6m25 0h2m5 0h1m8 0h1m-73 1h1m13 0h2m9 0h1m1 0h1m1 0h1m29 0h3m2 0h2m7 0h1m-75 1h1m12 0h1m4 0h2m6 0h2m2 0h1m33 0h2m2 0h1m-64 1h1m5 0h2m3 0h1m3 0h2m2 0h2m40 0h2m-51 1h2m2 0h2m3 0h4m38 0h4m-71 1h1m10 0h1m1 0h1m3 0h1m5 0h1m1 0h1m3 0h1m39 0h1m-55 1h1m1 0h2m2 0h3m2 0h1m1 0h2m1 0h1m39 0h1m1 0h1m-68 1h1m3 0h1m11 0h1m4 0h5m40 0h1m1 0h2m4 0h1m-82 1h2m1 0h1m10 0h1m1 0h1m4 0h1m1 0h1m1 0h2m1 0h1m2 0h2m41 0h1m-62 1h1m2 0h1m1 0h2m2 0h1m1 0h4m1 0h1m46 0h1m3 0h1m-66 1h1m6 0h1m1 0h3m51 0h2m-66 1h1m4 0h1m1 0h2m56 0h2m-76 1h1m2 0h1m6 0h1m1 0h2m1 0h1m57 0h2m-86 1h1m12 0h1m5 0h1m2 0h2m62 0h1m2 0h1m-81 1h1m5 0h2m4 0h1m64 0h2m-71 1h3m67 0h3m-71 1h1m69 0h1m-81 1h1m4 0h1m1 0h1m73 0h1m-77 1h3m74 0h2m-79 1h2m76 0h1m-91 1h1m9 0h2m1 0h1m82 0h1m-88 1h1m1 0h2m-11 1h1m5 0h1m1 0h2m80 0h1m1 0h1m-87 1h1m2 0h1m57 1h1m2 0h3m18 0h1m-86 1h2m3 0h1m53 0h1m3 0h1m1 0h2m2 0h1m13 0h4m-86 1h2m3 0h1m50 0h2m1 0h1m2 0h1m3 0h2m2 0h1m1 0h1m12 0h1m2 0h1m-88 1h1m3 0h2m45 0h1m3 0h2m6 0h1m2 0h1m3 0h2m4 0h1m1 0h1m1 0h1m-87 1h1m9 0h2m42 0h1m2 0h1m19 0h1m1 0h4m5 0h1m-81 1h1m1 0h3m3 0h1m36 0h1m4 0h1m32 0h1m-81 1h1m4 0h3m1 0h1m23 0h3m2 0h1m1 0h1m44 0h1m-87 1h1m5 0h1m3 0h1m4 0h2m1 0h1m1 0h1m1 0h4m1 0h2m2 0h1m5 0h1m-39 1h1m10 0h1m1 0h1m1 0h1m1 0h3m9 0h1m2 0h3m6 0h1m-45 1h1m20 0h1m-12 1h1m16 0h1m4 0h2"/><path stroke="#111111" d="M0 0m457 151h1m-10 1h2m3 0h2m1 0h1m1 0h1m1 0h1m1 0h1m-17 1h6m1 0h1m1 0h1m1 0h2m1 0h5m-20 1h6m2 0h1m1 0h1m1 0h1m1 0h5m2 0h2m1 0h1m-25 1h4m1 0h23m-29 1h1m2 0h1m1 0h20m1 0h3m-28 1h1m1 0h32m-34 1h4m1 0h26m1 0h1m1 0h2m-36 1h3m1 0h1m1 0h3m1 0h12m1 0h3m1 0h7m1 0h2m-35 1h19m1 0h18m-37 1h8m1 0h4m1 0h24m-40 1h20m1 0h20m-44 1h1m1 0h40m1 0h2m-47 1h14m1 0h33m-52 1h2m1 0h9m1 0h2m6 0h1m7 0h20m1 0h4m-57 1h1m1 0h9m1 0h1m25 0h16m2 0h1m-59 1h10m32 0h17m-61 1h6m1 0h3m35 0h14m1 0h3m-65 1h2m1 0h6m38 0h18m-65 1h1m1 0h5m41 0h19m-70 1h3m1 0h3m44 0h17m1 0h3m-73 1h7m43 0h23m-73 1h4m45 0h26m-74 1h3m42 0h23m1 0h6m-77 1h5m42 0h30m-77 1h5m39 0h14m1 0h19m-79 1h8m33 0h1m2 0h3m1 0h2m1 0h8m1 0h3m1 0h9m1 0h4m-78 1h2m1 0h4m33 0h9m2 0h5m6 0h1m1 0h10m1 0h2m-76 1h11m20 0h2m2 0h8m1 0h1m1 0h1m1 0h3m1 0h1m11 0h1m2 0h10m-76 1h2m1 0h7m1 0h2m12 0h9m1 0h10m3 0h1m18 0h7m-73 1h18m1 0h11m1 0h14m-43 1h1m1 0h4m1 0h14m1 0h13m2 0h3m-37 1h9m1 0h2m1 0h3m1 0h8m1 0h2m1 0h1m1 0h2m-28 1h7m2 0h1m1 0h5m1 0h3m1 0h1"/><path stroke="#bd42bd" d="M0 0m452 165h6m1 0h7m-19 1h11m2 0h12m-30 1h8m18 0h6m-34 1h5m25 0h5m-38 1h3m30 0h5m-40 1h3m32 0h6m-44 1h4m34 0h6m-45 1h3m34 0h6m-45 1h4m35 0h5m-45 1h5m33 0h4m-42 1h5m33 0h4m-41 1h3m29 0h6m-37 1h3m1 0h1m21 0h7m1 0h2m-37 1h9m15 0h9m-28 1h6m4 0h6m2 0h2m2 0h2m-21 1h11"/><path stroke="#4a60d8" d="M0 0m458 166h2m-10 1h4m6 0h8m-23 1h1m22 0h2m-30 1h4m25 0h1m-32 1h1m-3 1h2m-4 1h1m-2 1h1m33 0h1m-35 1h1m-1 1h1m30 0h2m-34 1h3m22 0h1m1 0h2m-28 1h1m1 0h3m0 1h2m12 0h1m-13 1h4m6 0h2"/><path stroke="#40a8e0" d="M0 0m454 167h6m-14 1h12m2 0h8m-24 1h3m1 0h3m5 0h2m2 0h2m1 0h6m-30 1h4m1 0h1m18 0h7m-32 1h4m22 0h6m-35 1h3m24 0h6m-34 1h4m23 0h6m-33 1h4m19 0h1m2 0h6m-32 1h4m18 0h8m-29 1h3m16 0h3m1 0h1m-19 1h2m8 0h6m-16 1h12"/><path stroke="#40b040" d="M0 0m458 168h2m-13 1h1m3 0h5m2 0h2m2 0h1m-20 1h1m1 0h3m2 0h13m-21 1h6m2 0h2m1 0h11m-26 1h8m4 0h2m4 0h6m-24 1h8m4 0h2m4 0h5m-23 1h4m10 0h5m1 0h2m-22 1h6m4 0h2m1 0h5m-18 1h6m2 0h2m2 0h4m-16 1h2m2 0h8"/><path stroke="#e82828" d="M0 0m448 170h2m-2 1h2m2 0h1m-7 1h4m2 0h4m-10 1h4m2 0h4m-14 1h10m-8 1h4m2 0h1m-7 1h2m2 0h2"/></g>
<rect x="478.8" y="135.5" width="67.8" height="26.2" fill="#fff" fill-opacity="1.0" stroke="#d4d4d4" stroke-width="1.3" rx="2.5"/>
<text x="480.7" y="155.8" font-size="19.5" textLength="63.7" lengthAdjust="spacingAndGlyphs" fill="#000" stroke="#000" stroke-width="0.35">98.585%</text>
<rect x="402.0" y="33.6" width="194.0" height="209.7" fill="none" stroke="#333" stroke-width="1.3"/>
<line x1="397.0" y1="243.3" x2="402.0" y2="243.3" stroke="#333" stroke-width="1.2"/>
<text x="395.7" y="248.5" font-size="12.4" text-anchor="end" textLength="6.4" lengthAdjust="spacingAndGlyphs" stroke="#111" stroke-width="0.25">0</text>
<line x1="399.8" y1="239.3" x2="402.0" y2="239.3" stroke="#333" stroke-width="0.9"/>
<line x1="399.8" y1="235.3" x2="402.0" y2="235.3" stroke="#333" stroke-width="0.9"/>
<line x1="399.8" y1="231.3" x2="402.0" y2="231.3" stroke="#333" stroke-width="0.9"/>
<line x1="399.8" y1="227.3" x2="402.0" y2="227.3" stroke="#333" stroke-width="0.9"/>
<line x1="399.8" y1="223.2" x2="402.0" y2="223.2" stroke="#333" stroke-width="0.9"/>
<line x1="399.8" y1="219.2" x2="402.0" y2="219.2" stroke="#333" stroke-width="0.9"/>
<line x1="399.8" y1="215.2" x2="402.0" y2="215.2" stroke="#333" stroke-width="0.9"/>
<line x1="399.8" y1="211.2" x2="402.0" y2="211.2" stroke="#333" stroke-width="0.9"/>
<line x1="399.8" y1="207.2" x2="402.0" y2="207.2" stroke="#333" stroke-width="0.9"/>
<line x1="397.0" y1="203.2" x2="402.0" y2="203.2" stroke="#333" stroke-width="1.2"/>
<text x="395.7" y="208.4" font-size="12.4" text-anchor="end" textLength="12.8" lengthAdjust="spacingAndGlyphs" stroke="#111" stroke-width="0.25">50</text>
<line x1="399.8" y1="199.2" x2="402.0" y2="199.2" stroke="#333" stroke-width="0.9"/>
<line x1="399.8" y1="195.2" x2="402.0" y2="195.2" stroke="#333" stroke-width="0.9"/>
<line x1="399.8" y1="191.2" x2="402.0" y2="191.2" stroke="#333" stroke-width="0.9"/>
<line x1="399.8" y1="187.2" x2="402.0" y2="187.2" stroke="#333" stroke-width="0.9"/>
<line x1="399.8" y1="183.2" x2="402.0" y2="183.2" stroke="#333" stroke-width="0.9"/>
<line x1="399.8" y1="179.1" x2="402.0" y2="179.1" stroke="#333" stroke-width="0.9"/>
<line x1="399.8" y1="175.1" x2="402.0" y2="175.1" stroke="#333" stroke-width="0.9"/>
<line x1="399.8" y1="171.1" x2="402.0" y2="171.1" stroke="#333" stroke-width="0.9"/>
<line x1="399.8" y1="167.1" x2="402.0" y2="167.1" stroke="#333" stroke-width="0.9"/>
<line x1="397.0" y1="163.1" x2="402.0" y2="163.1" stroke="#333" stroke-width="1.2"/>
<text x="395.7" y="168.3" font-size="12.4" text-anchor="end" textLength="19.2" lengthAdjust="spacingAndGlyphs" stroke="#111" stroke-width="0.25">100</text>
<line x1="399.8" y1="159.1" x2="402.0" y2="159.1" stroke="#333" stroke-width="0.9"/>
<line x1="399.8" y1="155.1" x2="402.0" y2="155.1" stroke="#333" stroke-width="0.9"/>
<line x1="399.8" y1="151.1" x2="402.0" y2="151.1" stroke="#333" stroke-width="0.9"/>
<line x1="399.8" y1="147.1" x2="402.0" y2="147.1" stroke="#333" stroke-width="0.9"/>
<line x1="399.8" y1="143.1" x2="402.0" y2="143.1" stroke="#333" stroke-width="0.9"/>
<line x1="399.8" y1="139.0" x2="402.0" y2="139.0" stroke="#333" stroke-width="0.9"/>
<line x1="399.8" y1="135.0" x2="402.0" y2="135.0" stroke="#333" stroke-width="0.9"/>
<line x1="399.8" y1="131.0" x2="402.0" y2="131.0" stroke="#333" stroke-width="0.9"/>
<line x1="399.8" y1="127.0" x2="402.0" y2="127.0" stroke="#333" stroke-width="0.9"/>
<line x1="397.0" y1="123.0" x2="402.0" y2="123.0" stroke="#333" stroke-width="1.2"/>
<text x="395.7" y="128.2" font-size="12.4" text-anchor="end" textLength="19.2" lengthAdjust="spacingAndGlyphs" stroke="#111" stroke-width="0.25">150</text>
<line x1="399.8" y1="119.0" x2="402.0" y2="119.0" stroke="#333" stroke-width="0.9"/>
<line x1="399.8" y1="115.0" x2="402.0" y2="115.0" stroke="#333" stroke-width="0.9"/>
<line x1="399.8" y1="111.0" x2="402.0" y2="111.0" stroke="#333" stroke-width="0.9"/>
<line x1="399.8" y1="107.0" x2="402.0" y2="107.0" stroke="#333" stroke-width="0.9"/>
<line x1="399.8" y1="103.0" x2="402.0" y2="103.0" stroke="#333" stroke-width="0.9"/>
<line x1="399.8" y1="98.9" x2="402.0" y2="98.9" stroke="#333" stroke-width="0.9"/>
<line x1="399.8" y1="94.9" x2="402.0" y2="94.9" stroke="#333" stroke-width="0.9"/>
<line x1="399.8" y1="90.9" x2="402.0" y2="90.9" stroke="#333" stroke-width="0.9"/>
<line x1="399.8" y1="86.9" x2="402.0" y2="86.9" stroke="#333" stroke-width="0.9"/>
<line x1="397.0" y1="82.9" x2="402.0" y2="82.9" stroke="#333" stroke-width="1.2"/>
<text x="395.7" y="88.1" font-size="12.4" text-anchor="end" textLength="19.2" lengthAdjust="spacingAndGlyphs" stroke="#111" stroke-width="0.25">200</text>
<line x1="399.8" y1="78.9" x2="402.0" y2="78.9" stroke="#333" stroke-width="0.9"/>
<line x1="399.8" y1="74.9" x2="402.0" y2="74.9" stroke="#333" stroke-width="0.9"/>
<line x1="399.8" y1="70.9" x2="402.0" y2="70.9" stroke="#333" stroke-width="0.9"/>
<line x1="399.8" y1="66.9" x2="402.0" y2="66.9" stroke="#333" stroke-width="0.9"/>
<line x1="399.8" y1="62.8" x2="402.0" y2="62.8" stroke="#333" stroke-width="0.9"/>
<line x1="399.8" y1="58.8" x2="402.0" y2="58.8" stroke="#333" stroke-width="0.9"/>
<line x1="399.8" y1="54.8" x2="402.0" y2="54.8" stroke="#333" stroke-width="0.9"/>
<line x1="399.8" y1="50.8" x2="402.0" y2="50.8" stroke="#333" stroke-width="0.9"/>
<line x1="399.8" y1="46.8" x2="402.0" y2="46.8" stroke="#333" stroke-width="0.9"/>
<line x1="397.0" y1="42.8" x2="402.0" y2="42.8" stroke="#333" stroke-width="1.2"/>
<text x="395.7" y="48.0" font-size="12.4" text-anchor="end" textLength="19.2" lengthAdjust="spacingAndGlyphs" stroke="#111" stroke-width="0.25">250</text>
<line x1="399.8" y1="38.8" x2="402.0" y2="38.8" stroke="#333" stroke-width="0.9"/>
<line x1="401.3" y1="243.3" x2="401.3" y2="248.3" stroke="#333" stroke-width="1.2"/>
<text x="401.3" y="262.3" font-size="12.4" text-anchor="middle" textLength="6.4" lengthAdjust="spacingAndGlyphs" stroke="#111" stroke-width="0.25">0</text>
<line x1="405.0" y1="243.3" x2="405.0" y2="245.5" stroke="#333" stroke-width="0.9"/>
<line x1="408.8" y1="243.3" x2="408.8" y2="245.5" stroke="#333" stroke-width="0.9"/>
<line x1="412.5" y1="243.3" x2="412.5" y2="245.5" stroke="#333" stroke-width="0.9"/>
<line x1="416.2" y1="243.3" x2="416.2" y2="245.5" stroke="#333" stroke-width="0.9"/>
<line x1="419.9" y1="243.3" x2="419.9" y2="245.5" stroke="#333" stroke-width="0.9"/>
<line x1="423.7" y1="243.3" x2="423.7" y2="245.5" stroke="#333" stroke-width="0.9"/>
<line x1="427.4" y1="243.3" x2="427.4" y2="245.5" stroke="#333" stroke-width="0.9"/>
<line x1="431.1" y1="243.3" x2="431.1" y2="245.5" stroke="#333" stroke-width="0.9"/>
<line x1="434.9" y1="243.3" x2="434.9" y2="245.5" stroke="#333" stroke-width="0.9"/>
<line x1="438.6" y1="243.3" x2="438.6" y2="248.3" stroke="#333" stroke-width="1.2"/>
<text x="438.6" y="262.3" font-size="12.4" text-anchor="middle" textLength="12.8" lengthAdjust="spacingAndGlyphs" stroke="#111" stroke-width="0.25">50</text>
<line x1="442.3" y1="243.3" x2="442.3" y2="245.5" stroke="#333" stroke-width="0.9"/>
<line x1="446.0" y1="243.3" x2="446.0" y2="245.5" stroke="#333" stroke-width="0.9"/>
<line x1="449.8" y1="243.3" x2="449.8" y2="245.5" stroke="#333" stroke-width="0.9"/>
<line x1="453.5" y1="243.3" x2="453.5" y2="245.5" stroke="#333" stroke-width="0.9"/>
<line x1="457.2" y1="243.3" x2="457.2" y2="245.5" stroke="#333" stroke-width="0.9"/>
<line x1="460.9" y1="243.3" x2="460.9" y2="245.5" stroke="#333" stroke-width="0.9"/>
<line x1="464.7" y1="243.3" x2="464.7" y2="245.5" stroke="#333" stroke-width="0.9"/>
<line x1="468.4" y1="243.3" x2="468.4" y2="245.5" stroke="#333" stroke-width="0.9"/>
<line x1="472.1" y1="243.3" x2="472.1" y2="245.5" stroke="#333" stroke-width="0.9"/>
<line x1="475.9" y1="243.3" x2="475.9" y2="248.3" stroke="#333" stroke-width="1.2"/>
<text x="475.9" y="262.3" font-size="12.4" text-anchor="middle" textLength="19.2" lengthAdjust="spacingAndGlyphs" stroke="#111" stroke-width="0.25">100</text>
<line x1="479.6" y1="243.3" x2="479.6" y2="245.5" stroke="#333" stroke-width="0.9"/>
<line x1="483.3" y1="243.3" x2="483.3" y2="245.5" stroke="#333" stroke-width="0.9"/>
<line x1="487.0" y1="243.3" x2="487.0" y2="245.5" stroke="#333" stroke-width="0.9"/>
<line x1="490.8" y1="243.3" x2="490.8" y2="245.5" stroke="#333" stroke-width="0.9"/>
<line x1="494.5" y1="243.3" x2="494.5" y2="245.5" stroke="#333" stroke-width="0.9"/>
<line x1="498.2" y1="243.3" x2="498.2" y2="245.5" stroke="#333" stroke-width="0.9"/>
<line x1="502.0" y1="243.3" x2="502.0" y2="245.5" stroke="#333" stroke-width="0.9"/>
<line x1="505.7" y1="243.3" x2="505.7" y2="245.5" stroke="#333" stroke-width="0.9"/>
<line x1="509.4" y1="243.3" x2="509.4" y2="245.5" stroke="#333" stroke-width="0.9"/>
<line x1="513.1" y1="243.3" x2="513.1" y2="248.3" stroke="#333" stroke-width="1.2"/>
<text x="513.1" y="262.3" font-size="12.4" text-anchor="middle" textLength="19.2" lengthAdjust="spacingAndGlyphs" stroke="#111" stroke-width="0.25">150</text>
<line x1="516.9" y1="243.3" x2="516.9" y2="245.5" stroke="#333" stroke-width="0.9"/>
<line x1="520.6" y1="243.3" x2="520.6" y2="245.5" stroke="#333" stroke-width="0.9"/>
<line x1="524.3" y1="243.3" x2="524.3" y2="245.5" stroke="#333" stroke-width="0.9"/>
<line x1="528.1" y1="243.3" x2="528.1" y2="245.5" stroke="#333" stroke-width="0.9"/>
<line x1="531.8" y1="243.3" x2="531.8" y2="245.5" stroke="#333" stroke-width="0.9"/>
<line x1="535.5" y1="243.3" x2="535.5" y2="245.5" stroke="#333" stroke-width="0.9"/>
<line x1="539.2" y1="243.3" x2="539.2" y2="245.5" stroke="#333" stroke-width="0.9"/>
<line x1="543.0" y1="243.3" x2="543.0" y2="245.5" stroke="#333" stroke-width="0.9"/>
<line x1="546.7" y1="243.3" x2="546.7" y2="245.5" stroke="#333" stroke-width="0.9"/>
<line x1="550.4" y1="243.3" x2="550.4" y2="248.3" stroke="#333" stroke-width="1.2"/>
<text x="550.4" y="262.3" font-size="12.4" text-anchor="middle" textLength="19.2" lengthAdjust="spacingAndGlyphs" stroke="#111" stroke-width="0.25">200</text>
<line x1="554.1" y1="243.3" x2="554.1" y2="245.5" stroke="#333" stroke-width="0.9"/>
<line x1="557.9" y1="243.3" x2="557.9" y2="245.5" stroke="#333" stroke-width="0.9"/>
<line x1="561.6" y1="243.3" x2="561.6" y2="245.5" stroke="#333" stroke-width="0.9"/>
<line x1="565.3" y1="243.3" x2="565.3" y2="245.5" stroke="#333" stroke-width="0.9"/>
<line x1="569.1" y1="243.3" x2="569.1" y2="245.5" stroke="#333" stroke-width="0.9"/>
<line x1="572.8" y1="243.3" x2="572.8" y2="245.5" stroke="#333" stroke-width="0.9"/>
<line x1="576.5" y1="243.3" x2="576.5" y2="245.5" stroke="#333" stroke-width="0.9"/>
<line x1="580.2" y1="243.3" x2="580.2" y2="245.5" stroke="#333" stroke-width="0.9"/>
<line x1="584.0" y1="243.3" x2="584.0" y2="245.5" stroke="#333" stroke-width="0.9"/>
<line x1="587.7" y1="243.3" x2="587.7" y2="248.3" stroke="#333" stroke-width="1.2"/>
<text x="587.7" y="262.3" font-size="12.4" text-anchor="middle" textLength="19.2" lengthAdjust="spacingAndGlyphs" stroke="#111" stroke-width="0.25">250</text>
<line x1="591.4" y1="243.3" x2="591.4" y2="245.5" stroke="#333" stroke-width="0.9"/>
<line x1="595.2" y1="243.3" x2="595.2" y2="245.5" stroke="#333" stroke-width="0.9"/>
<g transform="translate(364.0 90.0) rotate(-90)"><text x="0" y="0" font-size="11.8" textLength="31.0" lengthAdjust="spacingAndGlyphs" stroke="#111" stroke-width="0.2">(x 10</text><text x="31.7" y="-5.0" font-size="7.3" stroke="#111" stroke-width="0.15">3</text><text x="36.6" y="0" font-size="11.8" textLength="4.4" lengthAdjust="spacingAndGlyphs" stroke="#111" stroke-width="0.2">)</text></g>
<g transform="translate(565.0 283.0)"><text x="0" y="0" font-size="12" textLength="29.5" lengthAdjust="spacingAndGlyphs" stroke="#111" stroke-width="0.2">(x 10</text><text x="30.1" y="-5.0" font-size="7.4" stroke="#111" stroke-width="0.15">3</text><text x="34.8" y="0" font-size="12" textLength="4.2" lengthAdjust="spacingAndGlyphs" stroke="#111" stroke-width="0.2">)</text></g>
<text x="341.3" y="137.8" font-size="19.5" text-anchor="middle" textLength="53.6" lengthAdjust="spacingAndGlyphs" stroke="#111" stroke-width="0.4" transform="rotate(-90 341.3 137.8)">SSC-W</text>
<text x="499.0" y="306.0" font-size="19.5" text-anchor="middle" textLength="46.0" lengthAdjust="spacingAndGlyphs" stroke="#111" stroke-width="0.4">SSC-H</text>
<rect x="407.6" y="160.8" width="95.9" height="29.3" fill="none" stroke="#333" stroke-width="1.3"/>
<g transform="translate(0 0.5)" fill="none" stroke-width="1" shape-rendering="crispEdges"><path stroke="#555555" d="M0 0m767 73h1m-3 14h1m10 2h1m45 0h1m-66 3h1m7 0h1m32 4h1m-39 1h1m1 0h1m1 0h1m3 0h1m2 0h1m2 0h1m-14 1h1m3 0h2m2 0h1m1 0h3m38 0h1m-44 1h1m3 0h1m1 0h1m40 0h1m-58 1h1m2 0h1m7 0h1m6 0h1m4 0h1m22 0h1m-51 1h1m3 0h1m3 0h2m2 0h1m7 0h1m1 0h1m-29 1h1m4 0h1m4 0h1m3 0h1m2 0h1m2 0h1m1 0h1m13 0h1m1 0h1m-32 1h1m4 0h1m1 0h1m1 0h2m2 0h2m2 0h1m3 0h1m30 0h1m-56 1h1m4 0h2m3 0h1m1 0h1m2 0h2m1 0h1m1 0h7m7 0h1m-35 1h1m7 0h2m1 0h1m1 0h1m1 0h2m1 0h3m11 0h1m-38 1h2m5 0h1m3 0h2m1 0h2m1 0h1m2 0h2m3 0h1m1 0h7m-32 1h1m1 0h1m6 0h1m1 0h2m7 0h6m1 0h2m2 0h1m2 0h1m1 0h2m2 0h1m-16 1h1m3 0h2m5 0h3m10 0h1m10 0h1m-65 1h1m10 0h2m21 0h1m1 0h1m16 0h1m14 0h1m-37 1h1m1 0h3m3 0h1m-32 1h1m25 0h1m3 0h1m1 0h1m5 0h1m29 0h1m-75 1h1m1 0h1m1 0h2m27 0h1m1 0h3m11 0h1m-49 1h1m2 0h1m27 0h1m1 0h1m1 0h1m-37 1h1m2 0h2m28 0h2m1 0h1m3 0h1m29 0h2m-76 1h1m3 0h4m30 0h1m7 0h1m5 0h1m7 0h1m-60 1h1m3 0h2m31 0h1m1 0h1m5 0h1m8 0h1m2 0h1m2 0h1m-66 1h1m3 0h2m2 0h1m1 0h1m32 0h3m1 0h1m5 0h1m5 0h1m1 0h1m-56 1h1m2 0h1m33 0h2m4 0h2m9 0h1m8 0h1m-65 1h1m2 0h1m34 0h4m1 0h1m5 0h1m5 0h1m1 0h1m-61 1h1m41 0h1m7 0h1m8 0h1m-55 1h1m36 0h1m7 0h1m10 0h1m-57 1h1m36 0h2m3 0h2m11 0h1m-56 1h1m36 0h2m3 0h1m6 0h1m11 0h1m3 0h1m-67 1h1m37 0h2m1 0h1m22 0h1m3 0h1m-31 1h1m7 0h1m9 0h1m-58 1h2m37 0h3m9 0h1m9 0h1m-23 1h1m3 0h1m6 0h1m12 0h1m-66 1h1m41 0h1m2 0h2m9 0h1m11 0h1m-69 1h3m39 0h1m9 0h2m1 0h1m-12 1h1m3 0h2m6 0h1m-56 1h1m40 0h1m4 0h1m28 0h1m-78 1h1m1 0h1m40 0h2m6 0h1m-54 1h1m1 0h1m43 0h4m10 0h1m50 0h1m-115 1h1m49 0h2m-50 1h2m2 0h1m42 0h1m4 0h1m3 0h1m6 0h2m6 0h1m-74 1h1m4 0h1m42 0h1m18 0h1m5 0h1m-72 1h1m1 0h1m1 0h1m42 0h1m2 0h1m7 0h1m20 0h1m-78 1h2m44 0h1m2 0h2m-51 1h2m42 0h1m1 0h2m1 0h1m5 0h1m-58 1h3m42 0h5m3 0h2m7 0h1m3 0h1m-66 1h3m43 0h2m24 0h1m3 0h1m-77 1h3m44 0h1m-48 1h2m42 0h1m1 0h1m2 0h2m7 0h1m1 0h1m-65 1h1m4 0h1m43 0h1m15 0h1m4 0h2m-72 1h2m2 0h2m42 0h3m66 0h1m-119 1h1m3 0h1m46 0h3m3 0h2m4 0h1m3 0h1m-67 1h1m48 0h1m3 0h1m3 0h1m2 0h1m-8 1h1m11 0h1m8 0h1m-72 1h2m42 0h1m2 0h1m10 0h1m13 0h1m-29 1h1m3 0h1m12 0h2m50 0h1m-70 1h1m1 0h2m1 0h1m13 0h1m4 0h1m36 0h1m-107 1h1m45 0h2m4 0h1m-53 1h3m43 0h1m1 0h2m3 0h1m8 0h1m2 0h1m51 0h1m-120 1h1m1 0h1m43 0h2m65 0h1m-117 1h1m4 0h1m43 0h2m9 0h2m2 0h1m12 0h1m47 0h1m9 0h1m-134 1h2m2 0h1m42 0h1m3 0h2m7 0h1m5 0h1m74 0h1m-95 1h1m1 0h2m2 0h1m2 0h1m-53 1h1m42 0h3m3 0h1m13 0h1m-65 1h1m43 0h1m4 0h1m5 0h2m14 0h1m44 0h1m-119 1h2m45 0h3m4 0h1m9 0h1m39 0h1m-104 1h1m43 0h1m1 0h1m9 0h2m57 0h1m15 0h1m-132 1h2m42 0h2m3 0h1m76 0h1m-128 1h1m1 0h2m41 0h2m1 0h1m5 0h1m4 0h1m1 0h1m49 0h1m6 0h3m2 0h1m-122 1h2m40 0h1m2 0h2m-54 1h1m3 0h2m43 0h1m2 0h1m3 0h1m-52 1h1m2 0h1m40 0h2m12 0h1m8 0h1m46 0h1m6 0h1m7 0h1m-130 1h1m44 0h1m5 0h1m64 0h1m-118 1h3m44 0h1m7 0h1m1 0h1m65 0h1m12 0h1m-138 1h1m1 0h3m41 0h1m1 0h1m3 0h2m2 0h1m56 0h1m8 0h1m1 0h1m-127 1h1m2 0h1m1 0h1m41 0h2m1 0h1m4 0h1m-55 1h1m3 0h2m40 0h1m1 0h1m1 0h1m3 0h1m7 0h1m8 0h1m35 0h1m10 0h1m3 0h2m4 0h1m-124 1h1m39 0h2m1 0h1m10 0h1m6 0h1m3 0h1m53 0h1m11 0h1m-138 1h1m2 0h2m1 0h1m39 0h3m12 0h1m56 0h1m-117 1h1m2 0h1m45 0h1m65 0h1m12 0h1m10 0h1m-141 1h1m4 0h1m38 0h1m3 0h1m13 0h1m59 0h1m5 0h1m-126 1h1m39 0h1m1 0h1m19 0h1m50 0h1m-114 1h2m38 0h3m4 0h1m2 0h2m1 0h1m3 0h1m58 0h1m-120 1h1m2 0h2m38 0h2m66 0h1m16 0h1m8 0h1m-139 1h1m2 0h2m38 0h2m5 0h1m2 0h1m12 0h1m-63 1h1m38 0h1m8 0h1m10 0h1m-62 1h3m37 0h3m1 0h1m10 0h1m-56 1h2m37 0h1m1 0h1m5 0h1m41 0h1m25 0h1m4 0h1m-122 1h1m1 0h1m39 0h1m7 0h1m9 0h1m-59 1h1m36 0h1m2 0h1m16 0h1m58 0h1m4 0h1m11 0h1m-134 1h1m35 0h2m1 0h1m3 0h1m2 0h1m7 0h1m-56 1h1m36 0h2m2 0h1m3 0h1m5 0h1m16 0h1m-70 1h1m36 0h1m3 0h1m82 0h1m-128 1h1m2 0h2m34 0h1m2 0h1m2 0h1m-6 1h1m7 0h1m10 0h1m-60 1h1m2 0h1m34 0h2m38 0h1m-77 1h2m32 0h1m5 0h1m-40 1h1m36 0h1m1 0h1m-40 1h1m30 0h3m2 0h1m4 0h1m-44 1h1m1 0h1m30 0h4m1 0h1m2 0h1m10 0h1m75 0h1m-127 1h1m29 0h2m1 0h1m2 0h1m1 0h1m-39 1h1m29 0h1m1 0h1m2 0h1m-38 1h1m35 0h1m-7 1h1m1 0h3m88 0h1m-124 1h1m1 0h1m29 0h1m86 0h1m-118 1h1m26 0h2m14 0h1m-46 1h2m27 0h1m1 0h1m-4 1h2m3 0h1m1 0h1m1 0h1m-38 1h2m25 0h1m1 0h1m91 0h2m-94 1h1m2 0h2m4 0h1m-41 1h1m31 0h1m1 0h1m19 0h1m-28 1h2m10 0h1m-35 1h1m20 0h2m-2 1h3m-28 1h2m1 0h1m1 0h1m18 0h1m1 0h1m-4 1h1m1 0h2m-21 1h1m15 0h2m-3 1h1m1 0h1m-23 1h1m2 0h1m2 0h1m10 0h1m1 0h2m2 0h1m7 0h1m-29 1h1m2 0h2m7 0h2m5 0h1m27 0h1m-47 1h1m5 0h1m3 0h2m1 0h1m-13 1h1m2 0h1m2 0h1m1 0h1m1 0h1m1 0h1m2 0h1m-10 1h1m4 0h1m2 0h1m-14 1h1m1 0h1m2 0h1m2 0h1m-3 1h1m-8 1h1m10 1h1m6 2h1"/><path stroke="#111111" d="M0 0m763 107h2m1 0h4m-9 1h4m1 0h1m1 0h1m1 0h2m-13 1h2m2 0h2m1 0h6m1 0h3m-17 1h1m1 0h7m1 0h6m2 0h1m-22 1h1m1 0h1m1 0h3m1 0h3m1 0h5m1 0h1m1 0h1m-22 1h5m1 0h3m1 0h12m1 0h1m-24 1h14m1 0h11m-27 1h3m1 0h6m1 0h2m1 0h6m1 0h1m1 0h2m1 0h2m-29 1h1m1 0h5m1 0h11m2 0h6m1 0h1m-30 1h12m1 0h2m1 0h13m-29 1h3m1 0h7m1 0h3m1 0h13m1 0h1m-32 1h1m1 0h8m1 0h5m1 0h1m1 0h9m1 0h3m-32 1h2m1 0h14m1 0h9m1 0h3m1 0h1m-34 1h3m1 0h2m1 0h10m1 0h5m1 0h8m-30 1h1m1 0h5m1 0h2m1 0h10m2 0h9m-34 1h5m2 0h6m1 0h6m1 0h6m1 0h3m2 0h2m-35 1h4m1 0h1m1 0h2m1 0h24m-36 1h1m1 0h2m1 0h1m1 0h14m1 0h4m1 0h2m2 0h3m1 0h1m-36 1h25m1 0h11m-36 1h36m-38 1h6m1 0h11m1 0h5m1 0h9m1 0h3m-37 1h14m5 0h2m2 0h11m1 0h3m-39 1h10m1 0h3m6 0h2m1 0h8m1 0h7m-40 1h2m1 0h3m1 0h6m1 0h3m6 0h2m1 0h14m-40 1h2m1 0h5m2 0h6m8 0h9m1 0h3m1 0h1m-38 1h13m11 0h1m1 0h4m1 0h5m1 0h2m-40 1h9m1 0h4m11 0h12m1 0h2m-41 1h1m1 0h12m11 0h16m-41 1h2m1 0h1m1 0h9m11 0h5m1 0h7m-37 1h2m2 0h8m13 0h11m1 0h1m1 0h1m-41 1h1m1 0h3m1 0h6m14 0h12m1 0h2m-42 1h13m14 0h1m1 0h10m1 0h1m-41 1h4m1 0h8m14 0h4m1 0h7m1 0h2m-42 1h5m1 0h5m16 0h4m1 0h6m2 0h1m-41 1h1m1 0h2m1 0h6m16 0h13m-40 1h2m1 0h8m16 0h13m-41 1h12m17 0h5m1 0h7m-40 1h9m16 0h6m1 0h8m-42 1h11m16 0h15m-41 1h5m2 0h3m16 0h13m1 0h1m-42 1h10m17 0h5m1 0h4m1 0h4m-42 1h2m1 0h1m1 0h3m1 0h1m17 0h14m-40 1h8m18 0h8m1 0h4m-41 1h2m1 0h7m18 0h5m1 0h6m1 0h1m-42 1h1m2 0h5m1 0h1m18 0h10m1 0h2m-41 1h1m1 0h7m19 0h2m1 0h11m-40 1h4m1 0h1m19 0h3m1 0h11m-42 1h8m19 0h14m-38 1h5m18 0h1m1 0h3m1 0h5m1 0h2m-41 1h3m1 0h5m20 0h3m1 0h3m1 0h5m-41 1h1m1 0h6m19 0h11m1 0h2m-42 1h1m1 0h6m20 0h9m1 0h1m1 0h1m-40 1h1m1 0h5m19 0h13m1 0h1m-40 1h5m20 0h14m-41 1h5m1 0h1m18 0h14m-39 1h7m19 0h13m1 0h1m-41 1h2m1 0h4m18 0h16m-41 1h6m19 0h7m1 0h5m1 0h1m-39 1h2m1 0h2m19 0h2m1 0h9m1 0h1m-39 1h2m23 0h15m-38 1h3m20 0h3m1 0h10m-40 1h1m1 0h4m19 0h3m1 0h6m1 0h4m-40 1h6m19 0h11m1 0h3m-40 1h3m1 0h1m19 0h8m1 0h5m-38 1h1m1 0h3m19 0h4m2 0h7m-36 1h3m20 0h15m-39 1h4m20 0h8m1 0h3m1 0h2m-38 1h4m18 0h4m1 0h4m1 0h3m1 0h1m-38 1h5m18 0h1m1 0h11m1 0h1m-38 1h4m18 0h5m1 0h9m-38 1h1m1 0h3m18 0h5m1 0h5m1 0h3m-38 1h2m1 0h2m18 0h15m-39 1h6m17 0h10m1 0h2m1 0h1m-38 1h1m1 0h3m18 0h12m1 0h1m-37 1h5m18 0h5m1 0h4m1 0h3m-38 1h3m1 0h1m19 0h8m1 0h1m1 0h2m-37 1h5m18 0h11m1 0h2m-36 1h6m16 0h9m1 0h3m-35 1h5m17 0h6m1 0h5m-36 1h4m19 0h11m1 0h1m-36 1h6m17 0h7m1 0h2m1 0h1m-34 1h6m15 0h10m1 0h1m-33 1h6m14 0h11m-33 1h8m15 0h10m-32 1h4m1 0h2m14 0h10m-30 1h6m13 0h10m-30 1h7m13 0h9m-28 1h2m2 0h2m12 0h9m-29 1h1m1 0h3m1 0h2m12 0h4m1 0h4m-29 1h1m1 0h5m11 0h11m-29 1h8m10 0h10m-28 1h8m10 0h8m-26 1h5m1 0h2m9 0h2m1 0h6m-26 1h7m1 0h1m7 0h10m-25 1h9m6 0h9m-25 1h2m1 0h5m5 0h1m2 0h1m1 0h2m1 0h3m-23 1h7m2 0h4m1 0h2m1 0h5m-23 1h9m1 0h12m1 0h1m-23 1h5m1 0h1m1 0h11m1 0h2m-22 1h2m2 0h14m1 0h2m-21 1h9m1 0h9m-19 1h15m1 0h2m-16 1h7m1 0h9m-18 1h15m-13 1h4m1 0h7m-12 1h6m5 0h1m-11 1h4m1 0h1m1 0h2m-3 1h1"/><path stroke="#bd42bd" d="M0 0m762 128h1m1 0h3m2 0h1m-9 1h6m2 0h1m-7 1h6m-7 1h8m-10 1h11m-11 1h11m-12 1h11m-11 1h11m-12 1h5m2 0h6m-14 1h5m3 0h6m-14 1h3m1 0h2m4 0h4m-14 1h2m2 0h2m4 0h4m-15 1h4m7 0h4m-16 1h4m8 0h4m-16 1h3m9 0h4m-16 1h3m9 0h4m-17 1h5m8 0h3m-16 1h2m1 0h1m9 0h3m-16 1h2m11 0h3m-17 1h3m11 0h3m-17 1h2m12 0h3m-18 1h3m12 0h3m-18 1h3m12 0h3m-18 1h3m12 0h3m-19 1h2m14 0h3m-20 1h2m15 0h2m-19 1h3m14 0h2m-19 1h2m15 0h1m-18 1h1m16 0h2m-19 1h1m16 0h2m-20 1h1m1 0h1m14 0h2m-19 1h1m16 0h2m-20 1h2m15 0h3m-20 1h2m15 0h1m-18 1h2m15 0h2m-19 1h2m15 0h1m-19 1h3m14 0h2m-19 1h1m1 0h1m14 0h2m-20 1h2m16 0h2m-20 1h2m15 0h3m-20 1h2m16 0h1m-19 1h2m15 0h2m-20 1h3m15 0h1m-19 1h2m15 0h2m-20 1h4m14 0h2m-20 1h3m14 0h3m-19 1h2m15 0h1m-18 1h2m14 0h2m-19 1h2m15 0h1m-18 1h2m14 0h2m-18 1h1m15 0h2m-18 1h1m15 0h1m-18 1h3m14 0h1m-18 1h3m14 0h1m-19 1h3m13 0h3m-19 1h3m13 0h2m-16 1h2m12 0h2m-17 1h3m12 0h2m-18 1h4m11 0h2m-17 1h4m10 0h3m-16 1h1m12 0h2m-15 1h1m12 0h1m-14 1h1m12 0h2m-15 1h1m11 0h2m-14 1h2m8 0h3m-13 1h2m8 0h3m-13 1h2m8 0h2m-12 1h2m2 0h1m4 0h3m-12 1h4m2 0h4m-10 1h4m2 0h4m-10 1h10m-10 1h9m-10 1h1m1 0h7m-6 1h6m-8 1h5m1 0h2m-8 1h2m4 0h1m-6 1h1"/><path stroke="#4a60d8" d="M0 0m763 136h2m-3 1h1m-3 1h1m2 0h4m-8 1h2m5 0h1m-7 1h1m2 0h4m-8 1h2m2 0h4m-9 1h1m-1 1h1m-3 2h1m1 0h1m-3 1h2m-2 1h1m-2 1h1m10 0h1m-1 1h1m-1 2h1m-14 1h1m-2 1h2m12 1h1m-15 1h1m13 0h1m-16 1h1m14 0h1m-16 1h1m14 0h1m-17 1h1m1 0h1m-3 1h2m13 0h1m-16 1h1m13 1h1m-15 1h1m-1 2h1m12 0h1m-16 1h1m1 0h1m12 0h1m-16 1h1m14 0h1m-16 2h1m13 0h2m-16 1h1m13 0h1m-15 1h1m13 0h1m-16 1h1m0 1h1m12 0h1m-15 1h1m13 1h1m-16 2h2m12 0h1m-16 2h1m13 0h1m-15 1h1m13 0h1m-14 1h1m12 0h1m-1 1h1m-15 1h1m11 1h1m-12 1h1m10 1h1m-12 1h1m9 0h1m-11 1h1m-3 1h2m-2 1h2m9 0h1m-12 1h1m10 0h1m-12 1h2m8 0h1m-3 2h1m-6 1h2m3 0h1m-8 1h1m2 0h4m-5 1h2m-2 1h2"/><path stroke="#40a8e0" d="M0 0m763 137h2m-2 2h3m-5 1h2m-2 1h2m-4 1h8m-8 1h8m-8 1h8m-8 1h8m-9 1h9m-10 1h10m-11 1h4m4 0h2m-11 1h4m5 0h2m-11 1h2m4 0h6m-12 1h2m5 0h4m-12 1h2m7 0h4m-13 1h1m8 0h4m-14 1h3m7 0h3m-13 1h3m7 0h3m-14 1h3m7 0h4m-14 1h3m7 0h4m-13 1h2m8 0h3m-14 1h2m9 0h2m-14 1h3m8 0h3m-15 1h4m8 0h2m-13 1h3m8 0h3m-15 1h3m9 0h3m-14 1h1m10 1h1m-14 1h2m11 0h1m-15 1h3m11 0h1m-14 1h1m11 0h1m-13 1h1m11 0h1m-13 1h2m8 0h3m-14 1h3m8 0h3m-2 1h1m-13 1h1m11 0h1m-14 1h3m10 0h1m-14 1h2m10 0h2m-13 1h1m10 0h1m-14 1h3m10 0h1m-14 1h3m8 0h2m-13 1h3m8 0h2m-12 1h1m10 0h1m-13 1h2m9 0h2m-13 1h2m8 0h2m-13 1h3m8 0h1m-10 1h1m8 0h2m-12 1h2m6 0h3m-10 1h1m7 0h1m-9 1h1m7 0h1m-10 1h2m1 0h1m2 0h4m-10 1h2m1 0h6m-10 1h3m5 0h2m-9 1h5m1 0h2m-9 1h8m-8 1h7m-7 1h2m2 0h3m-6 1h1"/><path stroke="#40b040" d="M0 0m760 148h4m-5 1h5m-7 1h4m-4 1h5m-6 1h7m-8 1h8m-7 1h7m-7 1h7m-8 1h7m-7 1h7m-7 1h1m1 0h6m-9 1h2m1 0h6m-9 1h3m4 0h1m-8 1h3m4 0h1m-8 1h3m2 0h3m-9 1h4m2 0h3m-10 1h3m2 0h6m-12 1h4m2 0h5m-11 1h3m4 0h4m-11 1h2m5 0h4m-12 1h7m2 0h2m-11 1h7m2 0h2m-10 1h2m4 0h2m-8 1h2m4 0h2m-10 1h4m4 0h3m-11 1h4m4 0h3m-10 1h2m4 0h4m-11 1h2m4 0h4m-10 1h4m3 0h1m1 0h1m-10 1h4m3 0h1m1 0h1m-10 1h3m-3 1h3m-4 1h1m2 0h2m2 0h3m-10 1h1m2 0h2m1 0h3m-9 1h3m2 0h3m-8 1h3m2 0h3m-8 1h3m2 0h3m-8 1h6m-6 1h2m1 0h4m-7 1h2m1 0h4m-7 1h1m1 0h2m-4 1h1m-1 1h5m-2 1h1"/><path stroke="#e82828" d="M0 0m756 158h1m-1 1h1m0 1h4m-4 1h4m-4 1h2m-2 1h2m-4 1h2m-2 1h2m-3 1h4m-5 1h5m-1 1h2m-2 1h2m-6 1h4m-4 1h4m-4 1h4m-4 1h4m-5 1h4m-5 1h4m-2 1h3m1 0h1m-5 1h3m1 0h1m-6 1h5m-5 1h5m-8 1h2m2 0h2m-6 1h2m2 0h1m-3 1h2m-2 1h2m-2 1h2m-3 2h1m-1 1h1"/></g>
<rect x="737.4" y="43.5" width="68.5" height="26.2" fill="none" stroke="#cfcfcf" stroke-width="1.3" rx="3"/>
<text x="739.6" y="63.4" font-size="19.5" textLength="64.1" lengthAdjust="spacingAndGlyphs" fill="#000" stroke="#000" stroke-width="0.35">99.941%</text>
<rect x="696.7" y="33.8" width="195.5" height="209.3" fill="none" stroke="#333" stroke-width="1.3"/>
<line x1="691.7" y1="243.1" x2="696.7" y2="243.1" stroke="#333" stroke-width="1.2"/>
<text x="690.4" y="248.3" font-size="12.4" text-anchor="end" textLength="6.4" lengthAdjust="spacingAndGlyphs" stroke="#111" stroke-width="0.25">0</text>
<line x1="694.5" y1="239.1" x2="696.7" y2="239.1" stroke="#333" stroke-width="0.9"/>
<line x1="694.5" y1="235.1" x2="696.7" y2="235.1" stroke="#333" stroke-width="0.9"/>
<line x1="694.5" y1="231.1" x2="696.7" y2="231.1" stroke="#333" stroke-width="0.9"/>
<line x1="694.5" y1="227.1" x2="696.7" y2="227.1" stroke="#333" stroke-width="0.9"/>
<line x1="694.5" y1="223.1" x2="696.7" y2="223.1" stroke="#333" stroke-width="0.9"/>
<line x1="694.5" y1="219.1" x2="696.7" y2="219.1" stroke="#333" stroke-width="0.9"/>
<line x1="694.5" y1="215.1" x2="696.7" y2="215.1" stroke="#333" stroke-width="0.9"/>
<line x1="694.5" y1="211.1" x2="696.7" y2="211.1" stroke="#333" stroke-width="0.9"/>
<line x1="694.5" y1="207.1" x2="696.7" y2="207.1" stroke="#333" stroke-width="0.9"/>
<line x1="691.7" y1="203.1" x2="696.7" y2="203.1" stroke="#333" stroke-width="1.2"/>
<text x="690.4" y="208.3" font-size="12.4" text-anchor="end" textLength="12.8" lengthAdjust="spacingAndGlyphs" stroke="#111" stroke-width="0.25">50</text>
<line x1="694.5" y1="199.1" x2="696.7" y2="199.1" stroke="#333" stroke-width="0.9"/>
<line x1="694.5" y1="195.1" x2="696.7" y2="195.1" stroke="#333" stroke-width="0.9"/>
<line x1="694.5" y1="191.2" x2="696.7" y2="191.2" stroke="#333" stroke-width="0.9"/>
<line x1="694.5" y1="187.2" x2="696.7" y2="187.2" stroke="#333" stroke-width="0.9"/>
<line x1="694.5" y1="183.2" x2="696.7" y2="183.2" stroke="#333" stroke-width="0.9"/>
<line x1="694.5" y1="179.2" x2="696.7" y2="179.2" stroke="#333" stroke-width="0.9"/>
<line x1="694.5" y1="175.2" x2="696.7" y2="175.2" stroke="#333" stroke-width="0.9"/>
<line x1="694.5" y1="171.2" x2="696.7" y2="171.2" stroke="#333" stroke-width="0.9"/>
<line x1="694.5" y1="167.2" x2="696.7" y2="167.2" stroke="#333" stroke-width="0.9"/>
<line x1="691.7" y1="163.2" x2="696.7" y2="163.2" stroke="#333" stroke-width="1.2"/>
<text x="690.4" y="168.4" font-size="12.4" text-anchor="end" textLength="19.2" lengthAdjust="spacingAndGlyphs" stroke="#111" stroke-width="0.25">100</text>
<line x1="694.5" y1="159.2" x2="696.7" y2="159.2" stroke="#333" stroke-width="0.9"/>
<line x1="694.5" y1="155.2" x2="696.7" y2="155.2" stroke="#333" stroke-width="0.9"/>
<line x1="694.5" y1="151.2" x2="696.7" y2="151.2" stroke="#333" stroke-width="0.9"/>
<line x1="694.5" y1="147.2" x2="696.7" y2="147.2" stroke="#333" stroke-width="0.9"/>
<line x1="694.5" y1="143.2" x2="696.7" y2="143.2" stroke="#333" stroke-width="0.9"/>
<line x1="694.5" y1="139.2" x2="696.7" y2="139.2" stroke="#333" stroke-width="0.9"/>
<line x1="694.5" y1="135.2" x2="696.7" y2="135.2" stroke="#333" stroke-width="0.9"/>
<line x1="694.5" y1="131.2" x2="696.7" y2="131.2" stroke="#333" stroke-width="0.9"/>
<line x1="694.5" y1="127.2" x2="696.7" y2="127.2" stroke="#333" stroke-width="0.9"/>
<line x1="691.7" y1="123.2" x2="696.7" y2="123.2" stroke="#333" stroke-width="1.2"/>
<text x="690.4" y="128.4" font-size="12.4" text-anchor="end" textLength="19.2" lengthAdjust="spacingAndGlyphs" stroke="#111" stroke-width="0.25">150</text>
<line x1="694.5" y1="119.2" x2="696.7" y2="119.2" stroke="#333" stroke-width="0.9"/>
<line x1="694.5" y1="115.2" x2="696.7" y2="115.2" stroke="#333" stroke-width="0.9"/>
<line x1="694.5" y1="111.2" x2="696.7" y2="111.2" stroke="#333" stroke-width="0.9"/>
<line x1="694.5" y1="107.2" x2="696.7" y2="107.2" stroke="#333" stroke-width="0.9"/>
<line x1="694.5" y1="103.2" x2="696.7" y2="103.2" stroke="#333" stroke-width="0.9"/>
<line x1="694.5" y1="99.2" x2="696.7" y2="99.2" stroke="#333" stroke-width="0.9"/>
<line x1="694.5" y1="95.2" x2="696.7" y2="95.2" stroke="#333" stroke-width="0.9"/>
<line x1="694.5" y1="91.3" x2="696.7" y2="91.3" stroke="#333" stroke-width="0.9"/>
<line x1="694.5" y1="87.3" x2="696.7" y2="87.3" stroke="#333" stroke-width="0.9"/>
<line x1="691.7" y1="83.3" x2="696.7" y2="83.3" stroke="#333" stroke-width="1.2"/>
<text x="690.4" y="88.5" font-size="12.4" text-anchor="end" textLength="19.2" lengthAdjust="spacingAndGlyphs" stroke="#111" stroke-width="0.25">200</text>
<line x1="694.5" y1="79.3" x2="696.7" y2="79.3" stroke="#333" stroke-width="0.9"/>
<line x1="694.5" y1="75.3" x2="696.7" y2="75.3" stroke="#333" stroke-width="0.9"/>
<line x1="694.5" y1="71.3" x2="696.7" y2="71.3" stroke="#333" stroke-width="0.9"/>
<line x1="694.5" y1="67.3" x2="696.7" y2="67.3" stroke="#333" stroke-width="0.9"/>
<line x1="694.5" y1="63.3" x2="696.7" y2="63.3" stroke="#333" stroke-width="0.9"/>
<line x1="694.5" y1="59.3" x2="696.7" y2="59.3" stroke="#333" stroke-width="0.9"/>
<line x1="694.5" y1="55.3" x2="696.7" y2="55.3" stroke="#333" stroke-width="0.9"/>
<line x1="694.5" y1="51.3" x2="696.7" y2="51.3" stroke="#333" stroke-width="0.9"/>
<line x1="694.5" y1="47.3" x2="696.7" y2="47.3" stroke="#333" stroke-width="0.9"/>
<line x1="691.7" y1="43.3" x2="696.7" y2="43.3" stroke="#333" stroke-width="1.2"/>
<text x="690.4" y="48.5" font-size="12.4" text-anchor="end" textLength="19.2" lengthAdjust="spacingAndGlyphs" stroke="#111" stroke-width="0.25">250</text>
<line x1="694.5" y1="39.3" x2="696.7" y2="39.3" stroke="#333" stroke-width="0.9"/>
<line x1="719.8" y1="243.1" x2="719.8" y2="245.3" stroke="#333" stroke-width="0.9"/>
<line x1="723.3" y1="243.1" x2="723.3" y2="245.3" stroke="#333" stroke-width="0.9"/>
<line x1="726.6" y1="243.1" x2="726.6" y2="245.3" stroke="#333" stroke-width="0.9"/>
<line x1="729.7" y1="243.1" x2="729.7" y2="245.3" stroke="#333" stroke-width="0.9"/>
<line x1="732.4" y1="243.1" x2="732.4" y2="245.3" stroke="#333" stroke-width="0.9"/>
<line x1="734.9" y1="243.1" x2="734.9" y2="245.3" stroke="#333" stroke-width="0.9"/>
<line x1="737.2" y1="243.1" x2="737.2" y2="245.3" stroke="#333" stroke-width="0.9"/>
<line x1="739.3" y1="243.1" x2="739.3" y2="245.3" stroke="#333" stroke-width="0.9"/>
<line x1="741.2" y1="243.1" x2="741.2" y2="245.3" stroke="#333" stroke-width="0.9"/>
<line x1="743.0" y1="243.1" x2="743.0" y2="245.3" stroke="#333" stroke-width="0.9"/>
<line x1="755.3" y1="243.1" x2="755.3" y2="245.3" stroke="#333" stroke-width="0.9"/>
<line x1="762.9" y1="243.1" x2="762.9" y2="245.3" stroke="#333" stroke-width="0.9"/>
<line x1="768.3" y1="243.1" x2="768.3" y2="245.3" stroke="#333" stroke-width="0.9"/>
<line x1="772.6" y1="243.1" x2="772.6" y2="245.3" stroke="#333" stroke-width="0.9"/>
<line x1="776.0" y1="243.1" x2="776.0" y2="245.3" stroke="#333" stroke-width="0.9"/>
<line x1="779.0" y1="243.1" x2="779.0" y2="245.3" stroke="#333" stroke-width="0.9"/>
<line x1="781.5" y1="243.1" x2="781.5" y2="245.3" stroke="#333" stroke-width="0.9"/>
<line x1="783.8" y1="243.1" x2="783.8" y2="245.3" stroke="#333" stroke-width="0.9"/>
<line x1="785.8" y1="243.1" x2="785.8" y2="248.1" stroke="#333" stroke-width="1.2"/>
<line x1="799.0" y1="243.1" x2="799.0" y2="245.3" stroke="#333" stroke-width="0.9"/>
<line x1="806.7" y1="243.1" x2="806.7" y2="245.3" stroke="#333" stroke-width="0.9"/>
<line x1="812.2" y1="243.1" x2="812.2" y2="245.3" stroke="#333" stroke-width="0.9"/>
<line x1="816.5" y1="243.1" x2="816.5" y2="245.3" stroke="#333" stroke-width="0.9"/>
<line x1="820.0" y1="243.1" x2="820.0" y2="245.3" stroke="#333" stroke-width="0.9"/>
<line x1="822.9" y1="243.1" x2="822.9" y2="245.3" stroke="#333" stroke-width="0.9"/>
<line x1="825.4" y1="243.1" x2="825.4" y2="245.3" stroke="#333" stroke-width="0.9"/>
<line x1="827.7" y1="243.1" x2="827.7" y2="245.3" stroke="#333" stroke-width="0.9"/>
<line x1="829.7" y1="243.1" x2="829.7" y2="248.1" stroke="#333" stroke-width="1.2"/>
<line x1="842.9" y1="243.1" x2="842.9" y2="245.3" stroke="#333" stroke-width="0.9"/>
<line x1="850.7" y1="243.1" x2="850.7" y2="245.3" stroke="#333" stroke-width="0.9"/>
<line x1="856.2" y1="243.1" x2="856.2" y2="245.3" stroke="#333" stroke-width="0.9"/>
<line x1="860.4" y1="243.1" x2="860.4" y2="245.3" stroke="#333" stroke-width="0.9"/>
<line x1="863.9" y1="243.1" x2="863.9" y2="245.3" stroke="#333" stroke-width="0.9"/>
<line x1="866.8" y1="243.1" x2="866.8" y2="245.3" stroke="#333" stroke-width="0.9"/>
<line x1="869.4" y1="243.1" x2="869.4" y2="245.3" stroke="#333" stroke-width="0.9"/>
<line x1="871.6" y1="243.1" x2="871.6" y2="245.3" stroke="#333" stroke-width="0.9"/>
<line x1="873.7" y1="243.1" x2="873.7" y2="248.1" stroke="#333" stroke-width="1.2"/>
<line x1="886.9" y1="243.1" x2="886.9" y2="245.3" stroke="#333" stroke-width="0.9"/>
<line x1="716.2" y1="243.1" x2="716.2" y2="248.1" stroke="#333" stroke-width="1.2"/>
<text x="716.2" y="262.4" font-size="12.3" text-anchor="middle" textLength="5.6" lengthAdjust="spacingAndGlyphs" stroke="#111" stroke-width="0.25">0</text>
<text x="777.4" y="262.4" font-size="12.3" textLength="11.0" lengthAdjust="spacingAndGlyphs" stroke="#111" stroke-width="0.25">10</text>
<text x="789.1" y="257.2" font-size="7.995000000000001" textLength="4.2" lengthAdjust="spacingAndGlyphs" stroke="#111" stroke-width="0.15">3</text>
<text x="821.3" y="262.4" font-size="12.3" textLength="11.0" lengthAdjust="spacingAndGlyphs" stroke="#111" stroke-width="0.25">10</text>
<text x="833.0" y="257.2" font-size="7.995000000000001" textLength="4.2" lengthAdjust="spacingAndGlyphs" stroke="#111" stroke-width="0.15">4</text>
<text x="865.3" y="262.4" font-size="12.3" textLength="11.0" lengthAdjust="spacingAndGlyphs" stroke="#111" stroke-width="0.25">10</text>
<text x="877.0" y="257.2" font-size="7.995000000000001" textLength="4.2" lengthAdjust="spacingAndGlyphs" stroke="#111" stroke-width="0.15">5</text>
<g transform="translate(659.5 90.0) rotate(-90)"><text x="0" y="0" font-size="11.8" textLength="30.3" lengthAdjust="spacingAndGlyphs" stroke="#111" stroke-width="0.2">(x 10</text><text x="30.9" y="-5.0" font-size="7.3" stroke="#111" stroke-width="0.15">3</text><text x="35.7" y="0" font-size="11.8" textLength="4.3" lengthAdjust="spacingAndGlyphs" stroke="#111" stroke-width="0.2">)</text></g>
<text x="636.6" y="138.0" font-size="19.5" text-anchor="middle" textLength="47.3" lengthAdjust="spacingAndGlyphs" stroke="#111" stroke-width="0.4" transform="rotate(-90 636.6 138.0)">SSC-A</text>
<text x="794.1" y="289.0" font-size="19.5" text-anchor="middle" textLength="80.8" lengthAdjust="spacingAndGlyphs" stroke="#111" stroke-width="0.4">Live/Dead</text>
<rect x="733.8" y="63.2" width="80.9" height="164.5" fill="none" stroke="#333" stroke-width="1.3"/>
<text x="5.7" y="361.4" font-size="22" textLength="13.9" lengthAdjust="spacingAndGlyphs" font-weight="bold" fill="#000">B</text>
<text x="273.3" y="369.5" font-size="21.6" textLength="156.2" lengthAdjust="spacingAndGlyphs" fill="#000">Parental K562</text>
<g transform="translate(0 0.5)" fill="none" stroke-width="1" shape-rendering="crispEdges"><path stroke="#555555" d="M0 0m254 400h1m-66 3h1m30 11h1m-59 1h1m25 2h1m36 0h1m-93 1h1m-6 1h1m65 3h1m1 0h1m4 0h1m11 0h1m10 0h1m59 0h1m-139 2h1m42 0h1m6 0h1m-4 1h1m1 0h1m36 2h1m-71 1h1m59 1h1m55 0h1m-113 1h1m26 1h1m26 0h1m-14 1h1m27 0h1m-37 1h1m26 0h1m-40 1h1m24 0h1m45 0h1m-124 1h1m47 0h1m1 0h1m100 0h1m-105 1h1m29 0h1m28 0h1m35 0h1m-96 1h1m8 0h1m7 0h1m-21 1h1m13 0h1m1 0h1m27 0h1m-57 1h1m9 0h1m6 0h1m1 0h1m-18 1h1m6 0h1m1 0h1m2 0h2m2 0h2m1 0h1m3 0h1m8 0h1m-56 1h1m22 0h1m1 0h1m6 0h2m3 0h2m1 0h1m4 0h4m4 0h1m-30 1h1m1 0h1m4 0h1m3 0h3m1 0h1m1 0h1m1 0h2m2 0h2m3 0h1m35 0h1m-63 1h2m1 0h5m1 0h3m5 0h1m1 0h4m1 0h1m2 0h2m2 0h2m6 0h1m-51 1h1m5 0h1m1 0h1m2 0h1m1 0h1m1 0h1m19 0h2m2 0h1m5 0h1m5 0h1m41 0h1m-147 1h1m38 0h1m9 0h1m4 0h1m2 0h1m1 0h1m1 0h3m2 0h1m25 0h2m1 0h1m3 0h2m-83 1h1m34 0h1m7 0h2m1 0h1m34 0h1m1 0h1m4 0h2m-69 1h1m18 0h1m3 0h1m37 0h3m21 0h1m-68 1h1m1 0h1m1 0h1m38 0h3m19 0h1m-68 1h1m5 0h1m43 0h2m1 0h2m5 0h1m21 0h1m-83 1h1m1 0h1m2 0h1m44 0h1m2 0h1m3 0h1m-58 1h1m2 0h2m46 0h1m1 0h1m1 0h4m4 0h1m-91 1h1m26 0h1m2 0h2m48 0h3m7 0h1m-62 1h1m1 0h1m49 0h3m2 0h2m36 0h1m-107 1h1m5 0h1m6 0h2m50 0h4m8 0h1m30 0h1m-98 1h4m53 0h3m1 0h1m15 0h1m27 0h1m-109 1h1m60 0h2m1 0h1m1 0h1m-65 1h3m1 0h1m54 0h1m1 0h1m-65 1h1m1 0h1m1 0h2m1 0h2m54 0h1m1 0h1m2 0h2m-63 1h2m55 0h2m8 0h1m-83 1h1m4 0h1m74 0h1m-67 1h1m1 0h1m58 0h1m1 0h1m-64 1h5m58 0h1m-75 1h1m11 0h1m1 0h2m57 0h1m4 0h1m-91 1h1m20 0h2m5 0h1m56 0h3m34 0h1m4 0h1m-127 1h1m24 0h1m58 0h1m8 0h1m-114 1h1m41 0h1m1 0h2m1 0h2m-28 1h1m21 0h1m1 0h2m1 0h2m56 0h1m4 0h1m-75 1h1m6 0h1m2 0h1m57 0h1m1 0h3m-67 1h1m1 0h1m1 0h1m1 0h1m56 0h1m4 0h1m-73 1h1m3 0h1m1 0h1m2 0h1m57 0h1m1 0h2m6 0h1m-85 1h1m7 0h1m1 0h1m1 0h1m2 0h1m59 0h1m1 0h1m3 0h1m-77 1h1m3 0h1m2 0h1m60 0h1m2 0h2m11 0h1m-81 1h1m1 0h1m1 0h1m64 0h1m3 0h1m-76 1h1m1 0h2m1 0h1m60 0h1m18 0h1m2 0h1m-87 1h3m62 0h1m6 0h1m-78 1h2m3 0h2m61 0h1m1 0h2m38 0h1m-110 1h1m2 0h2m62 0h1m45 0h1m-125 1h1m10 0h1m2 0h1m61 0h1m-67 1h1m1 0h2m60 0h3m5 0h1m1 0h1m3 0h1m-106 1h1m6 0h1m12 0h1m2 0h1m5 0h2m59 0h4m9 0h1m-78 1h1m2 0h1m63 0h1m-83 1h1m15 0h1m60 0h1m1 0h2m1 0h1m13 0h1m-100 1h1m9 0h1m4 0h4m61 0h1m1 0h1m-69 1h1m2 0h2m60 0h3m28 0h1m-147 1h1m49 0h2m62 0h1m3 0h1m-82 1h1m6 0h1m7 0h2m60 0h1m4 0h1m-71 1h1m63 0h3m-83 1h1m8 0h1m5 0h1m1 0h1m61 0h1m3 0h1m1 0h1m-78 1h1m5 0h2m2 0h1m58 0h1m1 0h1m1 0h1m-72 1h1m5 0h1m60 0h1m-64 1h1m1 0h1m60 0h2m-65 1h1m-4 1h1m1 0h3m58 0h1m2 0h2m-70 1h2m2 0h1m58 0h1m1 0h1m-69 1h1m66 0h1m12 0h1m-77 1h2m1 0h1m56 0h1m56 0h1m-125 1h1m4 0h1m1 0h4m55 0h1m3 0h1m15 0h1m-111 1h1m29 0h2m1 0h1m54 0h1m1 0h1m2 0h1m2 0h1m-9 1h2m1 0h1m12 0h1m4 0h1m-24 1h1m5 0h1m8 0h1m16 0h1m-120 1h1m29 0h3m64 0h1m-67 1h1m52 0h3m5 0h1m24 0h1m-93 1h1m4 0h2m52 0h3m-60 1h1m1 0h3m50 0h2m-54 1h2m50 0h1m1 0h2m2 0h1m-63 1h1m1 0h1m52 0h4m-66 1h1m10 0h1m49 0h3m1 0h1m-59 1h3m51 0h2m4 0h1m-92 1h1m30 0h1m1 0h1m50 0h2m1 0h1m30 0h1m-91 1h1m2 0h1m1 0h1m50 0h3m14 0h1m-69 1h1m51 0h2m3 0h1m21 0h1m-82 1h1m1 0h1m49 0h1m2 0h1m-58 1h1m1 0h1m1 0h1m49 0h2m-61 1h1m6 0h2m48 0h1m1 0h1m1 0h1m-89 1h1m10 0h1m18 0h1m2 0h2m49 0h2m-55 1h2m50 0h2m-63 1h1m4 0h1m4 0h3m48 0h1m2 0h1m-54 1h1m51 0h1m18 0h1m-72 1h2m65 0h1m-75 1h1m2 0h1m2 0h3m46 0h1m2 0h2m-55 1h2m47 0h1m3 0h1m2 0h1m-59 1h1m1 0h2m48 0h2m1 0h1m6 0h1m-62 1h1m2 0h1m45 0h1m4 0h2m-61 1h1m2 0h1m2 0h1m46 0h1m2 0h1m-4 1h2m3 0h1m3 0h1m50 0h1m-60 1h1m-52 1h1m1 0h4m46 0h1m-76 1h1m23 0h1m1 0h2m43 0h2m-58 1h1m4 0h1m2 0h1m1 0h3m41 0h1m2 0h1m1 0h1m-49 1h1m41 0h1m10 0h1m-54 1h1m-11 1h1m8 0h1m1 0h1m40 0h1m1 0h1m6 0h1m-56 1h1m1 0h2m1 0h1m43 0h2m5 0h1m24 0h1m-91 1h1m14 0h1m37 0h1m9 0h1m-56 1h1m2 0h2m1 0h1m36 0h1m1 0h2m11 0h1m-56 1h1m1 0h2m93 0h1m-98 1h2m2 0h1m32 0h1m2 0h2m-40 1h1m1 0h1m32 0h1m4 0h1m3 0h1m36 0h1m-83 1h1m33 0h2m1 0h1m11 0h1m-48 1h3m28 0h3m1 0h2m1 0h1m-41 1h2m1 0h1m35 0h1m-51 1h1m6 0h1m5 0h3m25 0h1m2 0h2m2 0h1m1 0h1m-38 1h2m1 0h2m23 0h1m4 0h1m-30 1h2m19 0h3m1 0h1m1 0h1m6 0h1m-36 1h4m18 0h1m4 0h1m7 0h1m-42 1h1m1 0h1m1 0h1m2 0h1m1 0h2m12 0h2m1 0h2m2 0h4m14 0h1m-50 1h1m1 0h1m3 0h3m1 0h1m3 0h1m6 0h3m1 0h1m1 0h1m3 0h1m3 0h1m-35 1h1m3 0h3m5 0h1m4 0h1m1 0h1m1 0h1m2 0h2m1 0h1m4 0h1m-32 1h1m3 0h1m1 0h2m2 0h2m1 0h1m1 0h3m2 0h1m1 0h2m2 0h3m-22 1h1m9 0h1m5 0h1m-20 1h1m4 0h2m3 0h2m9 0h1m-25 1h1m4 0h1m4 0h3m1 0h1m2 0h1m4 0h1m-27 1h1m2 0h1m8 0h1m1 0h1m8 0h2m3 0h1m-15 1h1m5 0h2m2 0h1m-27 1h1m5 0h1m4 0h1m1 0h1m4 0h1m-7 1h1m2 0h1m-2 1h1m1 1h2m-8 1h1m-1 1h1m1 0h1m15 0h1m36 2h1m-52 1h1m1 1h1m-16 1h1m32 0h1m35 0h1m-56 1h1m4 2h1m5 1h1m-4 2h1m5 4h1m1 2h1"/><path stroke="#111111" d="M0 0m185 443h3m-11 1h7m1 0h4m1 0h2m1 0h1m-19 1h4m1 0h2m1 0h7m1 0h5m1 0h2m-26 1h11m1 0h14m1 0h2m-29 1h3m1 0h1m1 0h1m1 0h4m2 0h7m2 0h3m1 0h2m1 0h1m1 0h1m-35 1h1m1 0h4m1 0h10m1 0h8m1 0h4m1 0h2m1 0h1m-37 1h5m1 0h2m1 0h19m1 0h7m1 0h4m-42 1h1m1 0h5m1 0h21m1 0h7m1 0h5m-43 1h21m1 0h2m1 0h4m1 0h10m1 0h2m-43 1h1m2 0h7m1 0h34m1 0h1m-47 1h22m1 0h14m2 0h9m-47 1h2m1 0h40m1 0h2m1 0h2m-50 1h22m2 0h12m1 0h2m1 0h5m1 0h5m-51 1h2m1 0h3m1 0h2m1 0h9m1 0h9m1 0h9m1 0h4m1 0h4m1 0h1m1 0h1m-52 1h4m1 0h3m1 0h10m1 0h12m1 0h9m1 0h6m1 0h3m-53 1h2m1 0h3m1 0h9m1 0h7m4 0h7m1 0h4m1 0h11m1 0h1m-54 1h4m1 0h21m4 0h7m1 0h5m1 0h8m1 0h2m-55 1h8m1 0h1m1 0h9m1 0h5m5 0h10m1 0h1m1 0h6m2 0h1m1 0h1m-53 1h18m11 0h1m1 0h22m1 0h1m-54 1h3m1 0h12m11 0h2m2 0h23m-54 1h5m1 0h9m2 0h1m9 0h2m1 0h9m1 0h9m1 0h5m-55 1h9m1 0h4m13 0h1m2 0h1m1 0h23m-54 1h1m2 0h9m18 0h25m-55 1h3m1 0h8m18 0h25m-54 1h4m1 0h6m16 0h28m-55 1h2m1 0h8m17 0h22m1 0h2m1 0h1m-54 1h7m20 0h21m1 0h1m2 0h1m-55 1h1m2 0h4m23 0h22m1 0h3m-57 1h7m24 0h25m-56 1h1m1 0h3m1 0h1m24 0h26m-59 1h3m1 0h2m1 0h1m26 0h20m1 0h3m-59 1h2m1 0h3m29 0h20m1 0h3m-60 1h8m28 0h14m1 0h8m-60 1h1m1 0h1m3 0h2m29 0h23m-61 1h6m1 0h2m32 0h18m-60 1h1m1 0h2m1 0h5m32 0h2m1 0h12m2 0h1m-60 1h3m1 0h4m32 0h14m1 0h4m-58 1h4m1 0h2m32 0h15m1 0h2m-57 1h5m33 0h11m1 0h3m1 0h1m-59 1h9m32 0h9m1 0h8m-60 1h2m1 0h4m1 0h1m29 0h21m-60 1h7m32 0h21m-61 1h6m34 0h14m1 0h2m1 0h2m-60 1h1m1 0h4m33 0h20m-60 1h1m1 0h1m1 0h6m29 0h1m1 0h5m1 0h3m1 0h8m-60 1h2m1 0h7m30 0h4m1 0h11m1 0h2m-58 1h7m31 0h5m1 0h6m1 0h5m-58 1h3m1 0h5m31 0h19m-60 1h2m1 0h2m1 0h1m33 0h18m-57 1h7m32 0h17m-58 1h7m33 0h12m1 0h5m-57 1h5m33 0h13m1 0h3m-57 1h1m1 0h4m1 0h1m34 0h9m1 0h4m-56 1h1m1 0h4m1 0h1m34 0h13m-56 1h3m1 0h4m32 0h14m-53 1h7m31 0h14m-54 1h1m1 0h6m33 0h7m1 0h3m-51 1h7m33 0h11m-54 1h10m33 0h10m-52 1h1m2 0h6m31 0h7m2 0h1m-52 1h1m1 0h6m1 0h1m31 0h7m2 0h1m-51 1h6m1 0h3m32 0h7m-49 1h4m1 0h4m31 0h10m-51 1h1m3 0h6m30 0h7m2 0h1m-50 1h5m1 0h4m29 0h10m-50 1h4m1 0h1m1 0h4m28 0h7m1 0h3m-48 1h6m32 0h7m1 0h1m-49 1h1m1 0h1m1 0h5m29 0h4m1 0h4m1 0h1m-48 1h2m1 0h3m1 0h2m29 0h1m1 0h7m-49 1h6m32 0h2m1 0h5m1 0h2m-48 1h8m29 0h4m2 0h4m-49 1h11m28 0h9m-48 1h2m1 0h6m30 0h7m1 0h1m-46 1h7m29 0h8m-45 1h5m1 0h3m25 0h11m-47 1h1m1 0h4m1 0h3m25 0h6m2 0h4m-46 1h7m26 0h11m-45 1h2m1 0h5m25 0h12m-46 1h1m1 0h2m1 0h5m24 0h11m-45 1h10m1 0h1m21 0h12m-45 1h2m1 0h6m1 0h1m20 0h14m-45 1h2m1 0h8m20 0h5m2 0h5m-43 1h1m2 0h9m15 0h4m2 0h5m1 0h4m-43 1h1m2 0h9m15 0h4m1 0h10m-42 1h1m1 0h7m20 0h4m1 0h8m-42 1h5m1 0h3m20 0h1m1 0h8m-40 1h10m2 0h2m14 0h3m1 0h5m2 0h2m-41 1h3m1 0h2m1 0h4m1 0h2m12 0h14m-40 1h5m1 0h4m4 0h3m3 0h2m2 0h2m1 0h7m1 0h2m1 0h1m-38 1h1m1 0h4m1 0h3m3 0h4m3 0h1m2 0h5m1 0h7m-36 1h7m1 0h3m2 0h6m2 0h8m1 0h7m-35 1h3m2 0h5m1 0h1m1 0h4m2 0h6m1 0h1m1 0h3m1 0h2m-35 1h14m2 0h11m1 0h5m-34 1h25m1 0h7m-33 1h2m1 0h1m1 0h3m1 0h8m1 0h2m2 0h3m1 0h3m2 0h1m-31 1h4m1 0h8m1 0h2m1 0h6m1 0h5m-29 1h5m1 0h7m1 0h2m2 0h3m1 0h1m1 0h5m-27 1h9m1 0h9m2 0h1m1 0h3m-27 1h5m1 0h2m1 0h10m1 0h2m1 0h1m1 0h1m-26 1h1m2 0h2m1 0h3m1 0h1m2 0h7m1 0h2m-22 1h3m2 0h1m4 0h4m1 0h1m1 0h4m-20 1h2m1 0h2m1 0h1m1 0h1m1 0h6m2 0h1m-18 1h1m2 0h6m1 0h4m1 0h1m-15 1h1m1 0h5m1 0h2m1 0h1m-9 1h1m1 0h1m1 0h2"/><path stroke="#bd42bd" d="M0 0m194 458h4m-2 1h4m-4 1h5m-11 1h10m2 0h1m-14 1h11m2 0h2m-16 1h2m1 0h9m2 0h1m-16 1h13m2 0h1m-17 1h8m3 0h7m-18 1h8m4 0h6m-18 1h6m2 0h4m1 0h3m-16 1h6m2 0h2m1 0h1m1 0h4m-20 1h2m1 0h1m1 0h2m2 0h2m4 0h2m2 0h1m-22 1h3m4 0h1m10 0h1m2 0h2m-24 1h5m15 0h4m-24 1h4m16 0h4m-27 1h1m1 0h3m17 0h1m2 0h3m-29 1h6m17 0h1m2 0h3m-28 1h4m17 0h2m2 0h3m-29 1h4m18 0h2m2 0h3m-29 1h2m2 0h1m17 0h2m1 0h7m-32 1h2m20 0h2m1 0h7m-34 1h4m20 0h8m-32 1h4m19 0h9m-34 1h2m2 0h1m19 0h2m1 0h6m-33 1h1m23 0h8m-35 1h1m1 0h5m19 0h5m-32 1h8m18 0h6m-33 1h5m24 0h4m-33 1h4m25 0h3m-30 1h2m22 0h5m-30 1h2m22 0h6m-32 1h3m23 0h5m-31 1h3m23 0h5m-33 1h4m26 0h2m-32 1h4m25 0h3m-34 1h5m26 0h2m-33 1h5m25 0h2m-32 1h4m27 0h3m-34 1h3m28 0h3m-35 1h3m26 0h2m-31 1h2m27 0h2m-32 1h4m26 0h3m-33 1h3m27 0h3m-33 1h3m25 0h5m-33 1h2m26 0h3m-32 1h2m1 0h1m24 0h3m-31 1h2m26 0h3m-32 1h4m23 0h1m1 0h2m-31 1h4m22 0h4m-30 1h2m24 0h3m-29 1h2m24 0h2m-30 1h4m23 0h4m-31 1h3m23 0h3m-28 1h2m23 0h3m-30 1h4m20 0h1m2 0h2m-28 1h3m1 0h2m20 0h2m-28 1h3m1 0h2m19 0h3m-30 1h4m20 0h6m-30 1h4m19 0h6m-28 1h3m18 0h4m-26 1h4m17 0h4m-27 1h5m1 0h1m14 0h1m1 0h3m-26 1h5m1 0h1m13 0h5m-24 1h1m1 0h5m12 0h2m2 0h1m-24 1h1m1 0h5m12 0h2m1 0h1m-22 1h7m11 0h2m-20 1h8m6 0h2m1 0h3m-19 1h3m4 0h2m2 0h4m4 0h2m-21 1h3m2 0h4m2 0h4m4 0h1m-23 1h14m1 0h5m-20 1h20m-20 1h2m2 0h13m-16 1h1m2 0h12m-16 1h4m3 0h3m2 0h2m-13 1h3m4 0h2m2 0h2m-12 1h2m6 0h2m-9 1h1m6 0h2m-6 1h2"/><path stroke="#4a60d8" d="M0 0m194 465h3m-3 1h4m0 1h1m-3 1h1m1 0h1m-14 1h1m1 0h1m2 0h2m4 0h2m2 0h2m-18 1h4m1 0h5m2 0h3m2 0h1m-17 1h1m4 0h2m6 0h2m-16 1h2m12 0h2m-18 1h1m1 0h3m5 0h2m2 0h3m2 0h1m-18 1h2m6 0h2m2 0h3m2 0h1m-21 1h5m15 0h1m-22 1h3m17 0h2m-24 1h1m2 0h1m18 0h1m-21 1h2m18 0h1m-9 1h2m2 0h2m-6 1h2m2 0h1m-23 1h1m2 0h1m20 0h1m-26 1h1m2 0h2m-2 1h1m17 0h1m-23 2h1m1 0h1m16 0h1m3 0h1m-25 1h1m18 0h2m3 0h1m-25 1h1m20 0h1m-23 1h2m-3 1h2m-2 1h2m22 1h1m-3 1h2m-26 1h2m22 0h2m-26 1h1m21 0h3m-26 1h3m20 0h1m2 0h1m-28 1h2m22 0h1m1 0h2m-29 1h1m24 0h1m-27 1h2m22 0h3m-26 1h1m24 0h1m-27 1h1m24 0h2m-27 1h1m23 0h1m-26 1h1m24 0h1m-27 1h1m1 0h1m22 0h1m-26 1h2m22 0h2m-25 1h1m20 0h2m1 0h1m-5 1h2m-24 1h1m22 0h1m-24 1h1m21 0h2m-24 1h1m20 0h2m-24 1h2m20 0h1m-23 1h1m18 0h2m1 0h1m-23 1h1m18 0h1m1 0h2m-23 1h1m21 0h1m-23 1h1m19 0h2m-23 1h2m17 0h1m-20 1h2m16 0h1m-19 1h3m13 0h2m-18 1h4m12 0h1m-18 1h1m1 0h2m11 0h1m1 0h1m-18 1h1m1 0h2m10 1h1m2 0h2m-16 1h1m9 0h2m2 0h1m-14 1h1m2 0h2m2 0h4m-8 1h2m4 0h1m-13 1h4m3 0h1m-8 1h2m4 0h2m0 1h1"/><path stroke="#40a8e0" d="M0 0m192 467h2m-2 1h2m0 1h2m-2 1h2m4 0h1m-15 1h4m2 0h6m-12 1h12m-15 1h1m3 0h5m2 0h2m4 0h1m-19 1h2m2 0h6m2 0h2m4 0h1m-15 1h1m1 0h10m2 0h1m-18 1h3m2 0h10m-19 1h1m2 0h16m-20 1h2m2 0h16m-20 1h4m2 0h1m1 0h2m2 0h2m2 0h2m-18 1h4m8 0h2m2 0h2m-21 1h1m2 0h4m4 0h2m2 0h6m-22 1h2m2 0h4m4 0h2m2 0h6m-19 1h4m9 0h4m-18 1h4m10 0h4m-21 1h1m1 0h1m2 0h2m10 0h1m1 0h3m-23 1h4m2 0h2m12 0h3m-23 1h4m4 0h4m5 0h3m-20 1h4m6 0h2m5 0h3m-21 1h5m8 0h8m-21 1h5m8 0h8m-24 1h4m2 0h1m1 0h1m6 0h1m4 0h5m-25 1h4m11 0h1m4 0h3m-22 1h1m14 0h2m1 0h4m-23 1h2m14 0h5m-20 1h3m14 0h3m1 0h2m-25 1h5m14 0h3m1 0h1m-26 1h3m12 0h2m2 0h5m-24 1h3m12 0h2m2 0h3m-22 1h2m1 0h1m15 0h5m-25 1h2m18 0h4m-24 1h2m17 0h4m-24 1h3m16 0h5m-23 1h4m14 0h4m-23 1h2m1 0h2m13 0h4m-22 1h2m15 0h3m-21 1h3m15 0h2m-21 1h3m2 0h1m13 0h3m-22 1h3m15 0h3m-21 1h3m15 0h2m-20 1h3m13 0h4m-21 1h5m10 0h1m4 0h1m-21 1h5m9 0h2m-14 1h4m9 0h6m-19 1h4m8 0h5m-19 1h5m1 0h4m3 0h4m-17 1h10m2 0h4m-15 1h1m4 0h2m2 0h2m1 0h1m-8 1h2m2 0h4m-13 1h11m-11 1h11m-12 1h11m-10 1h9m-8 1h2m2 0h2m-6 1h2m2 0h2m-4 1h1"/><path stroke="#40b040" d="M0 0m187 475h1m-2 1h2m-6 3h2m1 0h1m2 0h2m-8 1h8m-8 1h4m2 0h2m-8 1h4m2 0h2m-9 1h9m-10 1h10m-14 1h2m2 0h10m-14 1h2m2 0h10m-14 1h4m4 0h5m-13 1h6m2 0h5m-13 1h8m-8 1h8m-12 1h2m1 0h1m1 0h3m2 0h1m1 0h4m-16 1h8m2 0h1m1 0h4m-18 1h4m2 0h8m2 0h1m-17 1h4m2 0h8m-12 1h6m4 0h4m-14 1h6m4 0h4m-18 1h8m6 0h2m-16 1h6m8 0h2m-17 1h1m1 0h5m2 0h2m2 0h4m-18 1h8m2 0h2m2 0h4m-18 1h3m1 0h4m6 0h3m-17 1h3m1 0h4m6 0h2m-14 1h4m6 0h4m-17 1h1m2 0h4m6 0h3m-16 1h4m10 0h1m-15 1h4m6 0h1m1 0h3m-16 1h2m1 0h1m6 0h2m2 0h2m-16 1h4m6 0h2m1 0h2m-15 1h6m2 0h7m-15 1h6m2 0h5m-12 1h2m1 0h2m4 0h1m1 0h2m-13 1h2m1 0h2m6 0h2m-12 1h1m1 0h2m2 0h3m-9 1h4m2 0h2m-9 1h1m6 0h1m-3 1h2m-10 1h4m2 0h2m2 0h1m-11 1h4m2 0h2"/><path stroke="#e82828" d="M0 0m180 491h2m-2 1h2m-8 1h2m-2 1h2m2 1h4m-4 1h4m-6 1h4m-6 1h6m-6 1h2m2 0h2m-6 1h2m2 0h2m-11 1h1m4 0h6m-11 1h1m4 0h6m-8 1h6m-6 1h6m-9 1h10m-10 1h6m1 0h1m-9 1h6m2 0h2m-10 1h6m2 0h1m-7 1h2m-2 1h2m-5 1h1m2 0h4m-7 1h1m2 0h4m-7 1h1m2 0h2m-2 1h2m-2 1h2"/></g>
<rect x="204.5" y="397.6" width="60.0" height="23.6" fill="#fff" fill-opacity="1.0" stroke="#d4d4d4" stroke-width="1.3" rx="2.5"/>
<text x="206.5" y="415.6" font-size="19.5" textLength="56.0" lengthAdjust="spacingAndGlyphs" fill="#000" stroke="#000" stroke-width="0.35">0.757%</text>
<rect x="99.7" y="396.6" width="199.5" height="206.2" fill="none" stroke="#333" stroke-width="1.3"/>
<line x1="199.1" y1="396.6" x2="199.1" y2="602.8" stroke="#333" stroke-width="1.3"/>
<line x1="99.7" y1="463.0" x2="299.2" y2="463.0" stroke="#333" stroke-width="1.3"/>
<line x1="97.5" y1="579.3" x2="99.7" y2="579.3" stroke="#333" stroke-width="0.9"/>
<line x1="97.5" y1="575.8" x2="99.7" y2="575.8" stroke="#333" stroke-width="0.9"/>
<line x1="97.5" y1="572.5" x2="99.7" y2="572.5" stroke="#333" stroke-width="0.9"/>
<line x1="97.5" y1="569.4" x2="99.7" y2="569.4" stroke="#333" stroke-width="0.9"/>
<line x1="97.5" y1="566.6" x2="99.7" y2="566.6" stroke="#333" stroke-width="0.9"/>
<line x1="97.5" y1="564.0" x2="99.7" y2="564.0" stroke="#333" stroke-width="0.9"/>
<line x1="97.5" y1="561.6" x2="99.7" y2="561.6" stroke="#333" stroke-width="0.9"/>
<line x1="97.5" y1="559.4" x2="99.7" y2="559.4" stroke="#333" stroke-width="0.9"/>
<line x1="97.5" y1="557.4" x2="99.7" y2="557.4" stroke="#333" stroke-width="0.9"/>
<line x1="94.7" y1="555.5" x2="99.7" y2="555.5" stroke="#333" stroke-width="1.2"/>
<line x1="97.5" y1="542.5" x2="99.7" y2="542.5" stroke="#333" stroke-width="0.9"/>
<line x1="97.5" y1="534.4" x2="99.7" y2="534.4" stroke="#333" stroke-width="0.9"/>
<line x1="97.5" y1="528.6" x2="99.7" y2="528.6" stroke="#333" stroke-width="0.9"/>
<line x1="97.5" y1="524.1" x2="99.7" y2="524.1" stroke="#333" stroke-width="0.9"/>
<line x1="97.5" y1="520.4" x2="99.7" y2="520.4" stroke="#333" stroke-width="0.9"/>
<line x1="97.5" y1="517.2" x2="99.7" y2="517.2" stroke="#333" stroke-width="0.9"/>
<line x1="97.5" y1="514.5" x2="99.7" y2="514.5" stroke="#333" stroke-width="0.9"/>
<line x1="97.5" y1="512.1" x2="99.7" y2="512.1" stroke="#333" stroke-width="0.9"/>
<line x1="94.7" y1="510.0" x2="99.7" y2="510.0" stroke="#333" stroke-width="1.2"/>
<line x1="97.5" y1="495.8" x2="99.7" y2="495.8" stroke="#333" stroke-width="0.9"/>
<line x1="97.5" y1="487.6" x2="99.7" y2="487.6" stroke="#333" stroke-width="0.9"/>
<line x1="97.5" y1="481.7" x2="99.7" y2="481.7" stroke="#333" stroke-width="0.9"/>
<line x1="97.5" y1="477.1" x2="99.7" y2="477.1" stroke="#333" stroke-width="0.9"/>
<line x1="97.5" y1="473.4" x2="99.7" y2="473.4" stroke="#333" stroke-width="0.9"/>
<line x1="97.5" y1="470.3" x2="99.7" y2="470.3" stroke="#333" stroke-width="0.9"/>
<line x1="97.5" y1="467.6" x2="99.7" y2="467.6" stroke="#333" stroke-width="0.9"/>
<line x1="97.5" y1="465.2" x2="99.7" y2="465.2" stroke="#333" stroke-width="0.9"/>
<line x1="94.7" y1="463.0" x2="99.7" y2="463.0" stroke="#333" stroke-width="1.2"/>
<line x1="97.5" y1="448.9" x2="99.7" y2="448.9" stroke="#333" stroke-width="0.9"/>
<line x1="97.5" y1="440.6" x2="99.7" y2="440.6" stroke="#333" stroke-width="0.9"/>
<line x1="97.5" y1="434.7" x2="99.7" y2="434.7" stroke="#333" stroke-width="0.9"/>
<line x1="97.5" y1="430.1" x2="99.7" y2="430.1" stroke="#333" stroke-width="0.9"/>
<line x1="97.5" y1="426.4" x2="99.7" y2="426.4" stroke="#333" stroke-width="0.9"/>
<line x1="97.5" y1="423.3" x2="99.7" y2="423.3" stroke="#333" stroke-width="0.9"/>
<line x1="97.5" y1="420.6" x2="99.7" y2="420.6" stroke="#333" stroke-width="0.9"/>
<line x1="97.5" y1="418.2" x2="99.7" y2="418.2" stroke="#333" stroke-width="0.9"/>
<line x1="94.7" y1="416.0" x2="99.7" y2="416.0" stroke="#333" stroke-width="1.2"/>
<line x1="97.5" y1="401.9" x2="99.7" y2="401.9" stroke="#333" stroke-width="0.9"/>
<line x1="94.7" y1="582.9" x2="99.7" y2="582.9" stroke="#333" stroke-width="1.2"/>
<text x="93.0" y="587.3" font-size="12.3" text-anchor="end" textLength="5.8" lengthAdjust="spacingAndGlyphs" stroke="#111" stroke-width="0.25">0</text>
<text x="87.2" y="564.2" font-size="12.3" text-anchor="end" textLength="10.8" lengthAdjust="spacingAndGlyphs" stroke="#111" stroke-width="0.25">10</text>
<text x="88.1" y="558.7" font-size="7.995000000000001" textLength="4.0" lengthAdjust="spacingAndGlyphs" stroke="#111" stroke-width="0.15">2</text>
<text x="87.2" y="514.3" font-size="12.3" text-anchor="end" textLength="10.8" lengthAdjust="spacingAndGlyphs" stroke="#111" stroke-width="0.25">10</text>
<text x="88.1" y="508.8" font-size="7.995000000000001" textLength="4.0" lengthAdjust="spacingAndGlyphs" stroke="#111" stroke-width="0.15">3</text>
<text x="87.2" y="467.9" font-size="12.3" text-anchor="end" textLength="10.8" lengthAdjust="spacingAndGlyphs" stroke="#111" stroke-width="0.25">10</text>
<text x="88.1" y="462.4" font-size="7.995000000000001" textLength="4.0" lengthAdjust="spacingAndGlyphs" stroke="#111" stroke-width="0.15">4</text>
<text x="87.2" y="420.3" font-size="12.3" text-anchor="end" textLength="10.8" lengthAdjust="spacingAndGlyphs" stroke="#111" stroke-width="0.25">10</text>
<text x="88.1" y="414.8" font-size="7.995000000000001" textLength="4.0" lengthAdjust="spacingAndGlyphs" stroke="#111" stroke-width="0.15">5</text>
<line x1="123.3" y1="602.8" x2="123.3" y2="605.0" stroke="#333" stroke-width="0.9"/>
<line x1="126.9" y1="602.8" x2="126.9" y2="605.0" stroke="#333" stroke-width="0.9"/>
<line x1="130.2" y1="602.8" x2="130.2" y2="605.0" stroke="#333" stroke-width="0.9"/>
<line x1="133.3" y1="602.8" x2="133.3" y2="605.0" stroke="#333" stroke-width="0.9"/>
<line x1="136.1" y1="602.8" x2="136.1" y2="605.0" stroke="#333" stroke-width="0.9"/>
<line x1="138.7" y1="602.8" x2="138.7" y2="605.0" stroke="#333" stroke-width="0.9"/>
<line x1="141.0" y1="602.8" x2="141.0" y2="605.0" stroke="#333" stroke-width="0.9"/>
<line x1="143.2" y1="602.8" x2="143.2" y2="605.0" stroke="#333" stroke-width="0.9"/>
<line x1="145.1" y1="602.8" x2="145.1" y2="605.0" stroke="#333" stroke-width="0.9"/>
<line x1="146.9" y1="602.8" x2="146.9" y2="605.0" stroke="#333" stroke-width="0.9"/>
<line x1="159.6" y1="602.8" x2="159.6" y2="605.0" stroke="#333" stroke-width="0.9"/>
<line x1="167.3" y1="602.8" x2="167.3" y2="605.0" stroke="#333" stroke-width="0.9"/>
<line x1="172.9" y1="602.8" x2="172.9" y2="605.0" stroke="#333" stroke-width="0.9"/>
<line x1="177.2" y1="602.8" x2="177.2" y2="605.0" stroke="#333" stroke-width="0.9"/>
<line x1="180.8" y1="602.8" x2="180.8" y2="605.0" stroke="#333" stroke-width="0.9"/>
<line x1="183.8" y1="602.8" x2="183.8" y2="605.0" stroke="#333" stroke-width="0.9"/>
<line x1="186.4" y1="602.8" x2="186.4" y2="605.0" stroke="#333" stroke-width="0.9"/>
<line x1="188.7" y1="602.8" x2="188.7" y2="605.0" stroke="#333" stroke-width="0.9"/>
<line x1="190.7" y1="602.8" x2="190.7" y2="607.8" stroke="#333" stroke-width="1.2"/>
<line x1="204.2" y1="602.8" x2="204.2" y2="605.0" stroke="#333" stroke-width="0.9"/>
<line x1="212.2" y1="602.8" x2="212.2" y2="605.0" stroke="#333" stroke-width="0.9"/>
<line x1="217.8" y1="602.8" x2="217.8" y2="605.0" stroke="#333" stroke-width="0.9"/>
<line x1="222.2" y1="602.8" x2="222.2" y2="605.0" stroke="#333" stroke-width="0.9"/>
<line x1="225.7" y1="602.8" x2="225.7" y2="605.0" stroke="#333" stroke-width="0.9"/>
<line x1="228.7" y1="602.8" x2="228.7" y2="605.0" stroke="#333" stroke-width="0.9"/>
<line x1="231.3" y1="602.8" x2="231.3" y2="605.0" stroke="#333" stroke-width="0.9"/>
<line x1="233.6" y1="602.8" x2="233.6" y2="605.0" stroke="#333" stroke-width="0.9"/>
<line x1="235.7" y1="602.8" x2="235.7" y2="607.8" stroke="#333" stroke-width="1.2"/>
<line x1="249.2" y1="602.8" x2="249.2" y2="605.0" stroke="#333" stroke-width="0.9"/>
<line x1="257.2" y1="602.8" x2="257.2" y2="605.0" stroke="#333" stroke-width="0.9"/>
<line x1="262.8" y1="602.8" x2="262.8" y2="605.0" stroke="#333" stroke-width="0.9"/>
<line x1="267.2" y1="602.8" x2="267.2" y2="605.0" stroke="#333" stroke-width="0.9"/>
<line x1="270.7" y1="602.8" x2="270.7" y2="605.0" stroke="#333" stroke-width="0.9"/>
<line x1="273.7" y1="602.8" x2="273.7" y2="605.0" stroke="#333" stroke-width="0.9"/>
<line x1="276.3" y1="602.8" x2="276.3" y2="605.0" stroke="#333" stroke-width="0.9"/>
<line x1="278.6" y1="602.8" x2="278.6" y2="605.0" stroke="#333" stroke-width="0.9"/>
<line x1="280.7" y1="602.8" x2="280.7" y2="607.8" stroke="#333" stroke-width="1.2"/>
<line x1="294.2" y1="602.8" x2="294.2" y2="605.0" stroke="#333" stroke-width="0.9"/>
<line x1="119.6" y1="602.8" x2="119.6" y2="607.8" stroke="#333" stroke-width="1.2"/>
<text x="119.6" y="622.1" font-size="12.3" text-anchor="middle" textLength="5.6" lengthAdjust="spacingAndGlyphs" stroke="#111" stroke-width="0.25">0</text>
<text x="182.6" y="622.1" font-size="12.3" textLength="11.0" lengthAdjust="spacingAndGlyphs" stroke="#111" stroke-width="0.25">10</text>
<text x="194.3" y="616.9" font-size="7.995000000000001" textLength="4.2" lengthAdjust="spacingAndGlyphs" stroke="#111" stroke-width="0.15">3</text>
<text x="227.3" y="622.1" font-size="12.3" textLength="11.0" lengthAdjust="spacingAndGlyphs" stroke="#111" stroke-width="0.25">10</text>
<text x="239.0" y="616.9" font-size="7.995000000000001" textLength="4.2" lengthAdjust="spacingAndGlyphs" stroke="#111" stroke-width="0.15">4</text>
<text x="272.6" y="622.1" font-size="12.3" textLength="11.0" lengthAdjust="spacingAndGlyphs" stroke="#111" stroke-width="0.25">10</text>
<text x="284.3" y="616.9" font-size="7.995000000000001" textLength="4.2" lengthAdjust="spacingAndGlyphs" stroke="#111" stroke-width="0.15">5</text>
<text x="59.7" y="499.8" font-size="18.9" text-anchor="middle" textLength="62.0" lengthAdjust="spacingAndGlyphs" stroke="#111" stroke-width="0.4" transform="rotate(-90 59.7 499.8)">CD137L</text>
<text x="198.9" y="647.9" font-size="18.9" text-anchor="middle" textLength="36.0" lengthAdjust="spacingAndGlyphs" stroke="#111" stroke-width="0.4">IL-21</text>
<g transform="translate(0 0.5)" fill="none" stroke-width="1" shape-rendering="crispEdges"><path stroke="#555555" d="M0 0m458 445h1m40 6h1m-9 1h1m33 1h1m-45 2h1m30 0h1m-8 1h1m-16 2h1m2 1h1m13 0h1m-32 1h1m22 0h1m5 1h1m-19 1h1m2 0h1m5 0h3m2 0h1m18 0h1m1 0h1m-15 1h1m11 0h1m-37 1h1m5 0h1m3 0h1m1 0h2m4 0h1m14 0h1m-32 1h1m3 0h1m1 0h1m1 0h1m17 0h1m4 0h1m-29 1h1m1 0h1m5 0h2m9 0h1m2 0h2m3 0h1m-38 1h1m4 0h1m6 0h5m3 0h1m4 0h1m3 0h1m4 0h1m6 0h1m4 0h1m-44 1h1m3 0h2m2 0h1m1 0h1m1 0h3m1 0h1m6 0h2m8 0h1m4 0h1m-42 1h1m7 0h1m2 0h2m9 0h2m2 0h2m2 0h2m2 0h1m5 0h1m-38 1h4m3 0h1m16 0h3m3 0h2m2 0h1m-30 1h1m22 0h2m3 0h1m1 0h1m-32 1h1m23 0h1m1 0h2m3 0h1m1 0h1m-41 1h1m2 0h1m1 0h2m28 0h2m-35 1h1m2 0h1m29 0h1m1 0h2m-43 1h1m4 0h1m1 0h2m30 0h4m2 0h2m-43 1h3m33 0h1m2 0h1m1 0h1m-40 1h1m34 0h2m-41 1h2m2 0h1m37 0h1m2 0h1m-46 1h1m1 0h1m37 0h2m-41 2h1m38 0h2m1 0h3m-52 1h1m48 0h1m2 0h2m-49 1h3m39 0h2m3 0h1m-49 1h1m42 0h2m-43 1h1m42 0h1m-47 1h1m1 0h1m43 0h2m-4 1h2m1 0h1m-50 1h1m1 0h2m44 0h1m-51 1h1m4 0h1m43 0h1m-50 1h1m3 0h2m43 0h1m-50 1h1m2 0h1m45 0h1m2 0h1m-50 1h2m45 0h1m-51 1h1m2 0h1m46 1h2m-51 1h2m46 0h1m13 0h1m-62 1h1m46 0h1m-48 1h1m45 0h1m1 0h1m-51 1h3m45 0h1m1 0h1m1 0h1m-56 1h1m3 0h1m-44 1h1m41 0h1m48 0h1m-53 1h1m1 0h1m1 0h1m46 0h1m-50 1h2m48 0h1m1 0h1m-52 1h1m46 0h2m-49 1h1m46 0h2m-75 1h1m24 0h1m48 0h2m-52 1h1m49 0h1m-53 2h4m46 0h1m1 0h1m-54 1h1m3 0h1m46 0h1m1 0h1m-51 1h1m47 0h2m-52 1h1m1 0h1m48 0h1m1 0h1m-52 1h1m48 0h1m-54 1h2m1 0h2m46 0h2m1 0h1m-59 1h1m6 0h1m49 0h1m1 0h1m-4 1h1m-51 1h2m47 0h2m14 0h1m-67 1h2m48 0h2m-55 1h1m2 0h1m49 0h1m-54 1h2m2 0h1m-6 1h1m4 0h1m-26 1h1m23 0h1m49 0h1m-51 1h1m47 0h1m-59 1h1m8 0h2m47 0h1m-51 1h2m50 0h1m-67 1h1m11 0h2m1 0h1m48 0h1m1 0h1m-4 1h1m1 0h1m-52 1h2m47 0h1m2 0h2m-53 1h1m46 0h1m1 0h2m-78 1h1m23 0h1m49 0h1m-51 1h3m48 0h1m-50 1h1m47 0h1m-50 1h2m48 0h1m2 0h1m-57 1h2m49 0h1m1 0h1m-51 1h1m-4 1h1m50 0h1m1 0h1m-54 1h1m1 0h1m47 0h1m-50 1h2m47 0h1m3 0h1m-57 1h1m3 0h1m-3 1h1m49 0h2m-50 1h1m46 0h1m-52 1h2m50 0h1m-49 2h1m45 0h2m-50 1h1m47 0h1m-49 1h1m1 0h1m45 0h3m1 0h1m-55 1h2m2 0h1m44 0h1m2 0h1m-51 1h1m48 0h1m-3 1h1m-50 1h1m2 0h1m44 0h2m1 0h1m-49 2h1m43 0h2m3 0h1m-53 1h1m1 0h1m45 0h2m-3 1h1m1 0h1m5 0h1m-53 1h2m41 0h2m-46 1h1m1 0h1m69 0h1m-72 1h2m44 0h1m-48 1h1m42 0h2m1 0h2m-76 1h1m21 0h1m4 0h1m1 0h2m39 0h3m-47 1h1m1 0h3m42 0h1m-55 1h1m7 0h1m1 0h3m41 0h1m-5 1h1m-40 1h1m37 0h2m6 0h1m-50 1h1m1 0h4m34 0h2m-1 1h1m9 0h1m-49 1h1m1 0h2m32 0h1m2 0h1m4 0h1m-46 1h1m3 0h2m30 0h3m-37 1h2m31 0h1m-31 1h1m29 0h1m-30 1h2m1 0h1m23 0h1m-35 1h1m6 0h3m24 0h2m-35 1h1m1 0h1m5 0h2m1 0h1m1 0h1m16 0h1m1 0h2m-27 1h1m1 0h1m1 0h2m1 0h3m11 0h7m3 0h2m-29 1h1m1 0h3m1 0h1m2 0h3m1 0h7m1 0h2m1 0h1m1 0h1m-34 1h1m10 0h1m3 0h1m1 0h4m5 0h3m2 0h1m-37 1h1m10 0h1m2 0h1m3 0h1m3 0h1m3 0h1m3 0h1m1 0h2m-26 1h1m2 0h1m3 0h1m3 0h1m1 0h1m1 0h1m6 0h2m-40 1h1m8 0h1m9 0h1m2 0h2m3 0h1m1 0h1m-12 1h1m9 0h1m4 0h1m4 0h1m4 0h1m-31 1h1m21 0h1m-18 1h1m19 0h1m2 0h1m-26 1h1m3 0h1m1 0h1m12 0h1m-3 1h2m-3 1h1m-8 1h1m-9 1h1m11 0h1m-8 1h1m-38 1h1m22 1h1m23 0h1m-17 1h1m10 0h1m-27 1h1"/><path stroke="#111111" d="M0 0m492 469h4m1 0h1m2 0h1m-11 1h3m2 0h1m1 0h3m2 0h1m1 0h1m-15 1h2m2 0h9m1 0h1m1 0h2m-21 1h13m1 0h1m2 0h1m1 0h2m1 0h1m-24 1h1m1 0h4m2 0h11m1 0h3m1 0h1m-25 1h12m1 0h6m1 0h1m1 0h4m-28 1h9m1 0h13m1 0h1m1 0h1m1 0h2m-31 1h3m1 0h26m1 0h1m-33 1h20m2 0h2m1 0h9m-34 1h2m1 0h11m1 0h12m1 0h6m-35 1h9m1 0h22m2 0h1m-36 1h1m1 0h28m1 0h2m1 0h3m-37 1h1m1 0h4m1 0h7m1 0h6m1 0h3m1 0h4m1 0h5m-37 1h1m1 0h2m1 0h32m1 0h1m-38 1h9m1 0h1m1 0h2m2 0h2m1 0h18m-39 1h3m1 0h8m8 0h4m1 0h7m2 0h1m1 0h4m-40 1h2m2 0h7m9 0h2m1 0h16m-40 1h7m2 0h4m10 0h2m2 0h1m1 0h8m1 0h3m-41 1h2m1 0h1m1 0h5m1 0h1m11 0h2m2 0h14m-42 1h8m2 0h1m16 0h1m1 0h13m-42 1h1m1 0h6m20 0h15m-42 1h7m20 0h13m1 0h1m-42 1h1m1 0h5m20 0h6m1 0h8m-43 1h6m22 0h10m1 0h1m1 0h2m-45 1h1m1 0h3m1 0h2m22 0h13m-43 1h1m1 0h1m1 0h3m25 0h3m1 0h8m-44 1h6m25 0h11m1 0h1m-45 1h6m26 0h13m-45 1h1m1 0h4m26 0h3m1 0h7m1 0h1m-45 1h5m28 0h6m1 0h1m2 0h2m-45 1h5m28 0h11m-45 1h6m28 0h5m1 0h3m1 0h2m-46 1h3m1 0h1m29 0h1m1 0h3m1 0h6m-46 1h5m29 0h5m1 0h5m-46 1h4m1 0h1m29 0h8m1 0h2m-45 1h4m30 0h10m-45 1h4m30 0h11m-46 1h4m32 0h5m1 0h5m-46 1h2m33 0h11m-47 1h4m32 0h10m-46 1h4m32 0h9m-44 1h1m33 0h11m-47 1h2m34 0h10m-45 1h2m33 0h11m-47 1h2m34 0h10m-47 1h4m33 0h7m1 0h1m-46 1h1m1 0h1m34 0h9m-45 1h1m35 0h10m-48 1h1m1 0h1m35 0h6m1 0h2m-46 1h2m34 0h10m-46 1h2m34 0h6m1 0h2m-46 1h1m36 0h10m-48 1h2m36 0h3m1 0h5m-47 1h2m35 0h9m-46 1h2m35 0h4m2 0h4m-47 1h2m35 0h1m1 0h2m1 0h3m-46 1h3m34 0h10m-47 1h3m35 0h9m-47 1h3m35 0h6m1 0h2m-47 1h2m36 0h8m-47 1h3m35 0h9m-45 1h1m34 0h4m1 0h4m-45 1h2m33 0h4m1 0h1m1 0h4m-47 1h3m33 0h9m-45 1h3m32 0h11m-45 1h1m34 0h10m-47 1h3m33 0h2m1 0h5m1 0h2m-47 1h4m32 0h10m-46 1h4m32 0h7m2 0h1m-43 1h1m31 0h2m1 0h2m1 0h2m1 0h2m-47 1h3m1 0h1m31 0h8m1 0h1m-44 1h4m28 0h1m1 0h2m1 0h4m2 0h1m-46 1h4m1 0h1m28 0h3m1 0h8m-46 1h5m29 0h12m-45 1h1m1 0h2m29 0h11m-45 1h2m1 0h1m28 0h12m-44 1h4m28 0h11m1 0h1m-45 1h1m1 0h2m27 0h6m1 0h5m-43 1h4m28 0h6m1 0h5m-44 1h5m25 0h2m1 0h2m2 0h5m1 0h1m-45 1h1m1 0h4m25 0h2m1 0h6m1 0h3m-44 1h1m1 0h3m25 0h4m1 0h3m1 0h4m-43 1h6m1 0h1m21 0h5m1 0h2m1 0h5m-43 1h1m1 0h5m20 0h15m-40 1h5m20 0h10m1 0h2m1 0h2m-41 1h2m1 0h4m16 0h2m1 0h7m1 0h3m1 0h2m-40 1h7m16 0h17m-41 1h7m1 0h1m1 0h1m12 0h17m-40 1h11m10 0h6m1 0h5m1 0h5m-39 1h3m4 0h2m12 0h18m-37 1h1m1 0h1m1 0h2m1 0h1m6 0h15m4 0h4m-38 1h8m3 0h1m3 0h11m1 0h5m1 0h2m1 0h1m-34 1h3m1 0h3m1 0h11m1 0h2m1 0h4m1 0h4m1 0h1m-36 1h8m1 0h6m3 0h8m1 0h6m-33 1h12m1 0h3m1 0h3m1 0h2m1 0h9m-33 1h2m1 0h5m1 0h3m1 0h4m2 0h2m2 0h1m1 0h5m1 0h1m1 0h1m-33 1h2m1 0h10m1 0h7m1 0h8m-28 1h8m1 0h1m1 0h4m1 0h8m1 0h4m-29 1h2m2 0h2m1 0h6m1 0h11m1 0h2m-27 1h4m1 0h2m1 0h3m1 0h2m1 0h6m1 0h4m-24 1h2m1 0h3m1 0h12m-15 1h1m2 0h14m-15 1h2m2 0h1m3 0h1m1 0h1m-8 1h3m3 0h3"/><path stroke="#bd42bd" d="M0 0m494 483h2m-6 1h8m-9 1h9m2 0h1m-11 1h10m2 0h2m-17 1h1m1 0h11m2 0h2m-20 1h2m1 0h16m-19 1h20m-20 1h8m2 0h2m1 0h7m-20 1h8m6 0h6m-22 1h6m6 0h10m-22 1h6m6 0h2m2 0h6m-23 1h4m3 0h1m1 0h2m6 0h7m-25 1h4m14 0h7m-26 1h6m14 0h1m1 0h4m-26 1h5m17 0h4m-27 1h4m16 0h8m-28 1h3m18 0h7m-28 1h4m19 0h5m-29 1h5m19 0h5m-29 1h3m22 0h4m-31 1h1m1 0h3m22 0h4m-30 1h3m22 0h4m-30 1h3m23 0h4m-31 1h3m24 0h5m-33 1h4m24 0h5m-32 1h2m27 0h3m-32 1h2m27 0h3m-34 1h3m25 0h2m1 0h2m-34 1h3m26 0h5m-33 1h2m27 0h4m-34 1h3m27 0h4m-33 1h2m26 0h5m-34 1h2m27 0h5m-35 1h3m29 0h3m-35 1h2m30 0h3m-35 1h3m28 0h3m-34 1h3m28 0h3m-36 1h4m28 0h4m-36 1h4m28 0h4m-36 1h3m29 0h3m-35 1h2m30 0h3m-35 1h3m27 0h5m-35 1h3m27 0h4m-34 1h4m26 0h5m-35 1h4m26 0h5m-36 1h4m27 0h4m-35 1h3m28 0h4m-35 1h5m25 0h4m-34 1h5m25 0h3m-33 1h4m26 0h3m-33 1h4m25 0h3m-33 1h5m1 0h2m22 0h4m-34 1h5m1 0h2m21 0h4m-32 1h3m26 0h3m-32 1h3m26 0h3m-34 1h1m1 0h4m22 0h5m-33 1h1m1 0h4m22 0h5m-30 1h2m22 0h4m-28 1h2m22 0h4m-29 1h5m18 0h6m-29 1h5m18 0h6m-30 1h3m1 0h1m18 0h5m-28 1h3m1 0h1m17 0h6m-28 1h7m13 0h2m2 0h3m-27 1h8m12 0h2m1 0h3m-25 1h6m15 0h4m-25 1h7m14 0h4m-26 1h7m12 0h6m-24 1h1m1 0h5m9 0h7m-22 1h5m1 0h1m6 0h1m1 0h5m-20 1h5m1 0h2m4 0h8m-18 1h5m5 0h6m-16 1h8m2 0h6m-15 1h1m1 0h3m2 0h7m-12 1h3m2 0h5m-12 1h12m-11 1h6m-6 1h2m1 0h3m-5 1h1"/><path stroke="#4a60d8" d="M0 0m492 490h2m2 0h1m-5 1h6m-10 1h1m1 0h4m-4 1h2m4 0h2m-13 1h3m1 0h1m2 0h2m2 0h2m-14 1h2m2 0h6m2 0h2m-13 1h1m9 0h1m2 0h1m1 0h1m-17 1h2m12 0h3m-19 1h2m2 0h2m2 0h2m-11 1h2m3 0h1m11 0h1m-17 1h1m15 0h3m-3 1h3m-21 1h2m17 0h1m1 0h1m-22 1h2m19 0h1m-23 1h3m18 0h1m-23 1h4m18 0h1m-24 1h2m21 0h1m-24 1h1m22 0h1m-25 1h3m20 0h1m2 0h1m-27 1h1m1 0h1m20 0h1m2 0h1m-28 1h2m25 0h1m-29 1h3m-3 1h4m21 0h2m-27 1h4m21 0h2m-27 1h2m23 0h1m-27 1h2m24 0h1m-27 1h1m26 0h2m-30 1h2m26 0h2m-29 1h1m26 0h1m-28 1h1m25 0h2m-29 1h1m24 0h3m-28 1h1m24 0h3m-29 1h3m25 0h1m-30 1h4m24 0h2m-29 1h1m-1 1h1m25 0h1m-3 2h1m-25 1h1m25 0h1m-28 1h2m25 0h1m-2 1h1m-1 1h1m-26 1h1m24 0h1m-26 1h1m21 0h1m1 0h1m-25 1h1m21 0h3m-25 1h1m21 0h2m-25 1h3m19 0h2m-24 1h3m18 0h3m1 0h1m-25 1h1m18 0h3m-22 1h1m18 0h3m-23 1h3m16 0h1m1 0h1m-22 1h3m16 0h3m-4 1h2m-18 1h1m15 0h2m-21 1h1m1 0h2m15 0h1m-20 1h1m1 0h4m-2 1h1m14 0h2m-2 1h1m-16 1h3m-2 1h2m-3 1h2m7 0h3m-11 1h2m6 0h1m-10 1h1m1 0h1m4 0h1m1 0h1m-10 1h1m4 0h2m-5 1h5m-2 1h2m-4 1h2m-2 1h2"/><path stroke="#40a8e0" d="M0 0m489 492h1m-2 1h2m2 0h2m0 1h2m-10 1h2m6 0h2m-10 1h9m1 0h2m-12 1h12m-14 1h2m2 0h2m2 0h6m-15 1h3m1 0h2m1 0h8m-15 1h15m-16 1h6m2 0h4m1 0h3m-16 1h7m1 0h4m1 0h4m1 0h1m-19 1h6m2 0h4m2 0h5m-19 1h7m1 0h4m1 0h1m1 0h3m-18 1h6m2 0h4m1 0h1m1 0h3m-21 1h7m2 0h2m4 0h6m-22 1h8m2 0h2m4 0h6m-21 1h3m2 0h2m9 0h4m1 0h2m-25 1h1m1 0h3m2 0h1m11 0h3m1 0h2m-25 1h5m14 0h4m-23 1h5m14 0h4m-22 1h3m1 0h1m10 0h1m2 0h3m-21 1h1m14 0h1m2 0h3m-23 1h4m15 0h1m2 0h1m-24 1h5m15 0h1m2 0h1m-25 1h3m1 0h1m15 0h6m-26 1h3m1 0h1m15 0h6m-26 1h3m1 0h2m13 0h1m2 0h4m-26 1h3m1 0h2m13 0h1m2 0h3m-26 1h3m20 0h1m-24 1h3m20 0h1m-23 1h2m2 0h1m13 0h2m1 0h4m-25 1h2m16 0h6m-26 1h5m1 0h1m15 0h4m-26 1h5m1 0h1m15 0h3m-25 1h4m16 0h6m-26 1h4m16 0h3m1 0h2m-26 1h4m2 0h1m13 0h5m-25 1h4m16 0h5m-25 1h6m14 0h4m-24 1h6m14 0h4m-24 1h3m1 0h1m13 0h6m-24 1h3m1 0h1m13 0h3m1 0h1m-21 1h4m10 0h5m-19 1h4m10 0h5m-20 1h3m12 0h4m2 0h2m-23 1h3m12 0h3m3 0h1m-23 1h4m10 0h2m1 0h1m-18 1h5m1 0h1m6 0h3m1 0h1m-17 1h3m10 0h3m1 0h1m-18 1h3m9 0h4m-17 1h4m8 0h4m-15 1h4m7 0h4m-15 1h4m6 0h5m-13 1h3m5 0h5m-14 1h4m4 0h4m-12 1h4m4 0h4m-10 1h12m-12 1h12m-13 1h5m1 0h1m-6 1h6m-6 1h4m-4 1h2"/><path stroke="#40b040" d="M0 0m489 499h1m-2 2h2m4 0h1m-6 1h1m4 0h1m-7 1h2m4 0h2m-7 1h1m4 0h1m1 0h1m-9 1h2m4 0h1m1 0h1m-11 1h2m2 0h4m-8 1h2m2 0h4m-12 1h2m2 0h9m-13 1h2m1 0h11m-14 1h8m1 0h5m-14 1h8m2 0h4m-15 1h1m1 0h10m1 0h2m-17 1h14m1 0h2m-16 1h6m2 0h7m1 0h2m-18 1h6m2 0h7m1 0h2m-21 1h1m1 0h9m1 0h1m1 0h3m-17 1h1m1 0h9m3 0h3m-17 1h1m2 0h4m6 0h3m1 0h2m-19 1h1m2 0h1m1 0h2m6 0h3m1 0h2m-20 1h9m5 0h6m-20 1h9m5 0h6m-20 1h2m1 0h4m6 0h3m2 0h1m-19 1h7m6 0h3m-15 1h1m1 0h4m5 0h6m-17 1h1m1 0h3m6 0h6m-18 1h5m8 0h3m-16 1h1m1 0h3m8 0h3m-16 1h2m1 0h3m5 0h5m-16 1h6m5 0h5m-14 1h3m7 0h4m-14 1h3m6 0h5m-17 1h1m1 0h3m7 0h1m1 0h1m-15 1h1m1 0h3m7 0h1m1 0h1m-12 1h1m6 0h3m-4 1h4m-12 1h8m2 0h2m-12 1h8m2 0h2m-12 1h10m2 0h1m-12 1h1m1 0h6m3 0h1m-13 1h6m2 0h2m-10 1h6m1 0h2m-9 1h8m-7 1h7m-7 1h6m-5 1h5m-5 1h4m-4 1h4m-2 3h1"/><path stroke="#e82828" d="M0 0m490 510h1m-1 1h2m-6 3h2m-2 1h2m0 1h1m1 0h1m-3 1h3m-7 1h6m-9 1h1m2 0h6m-5 1h5m-5 1h5m-7 1h6m-6 1h6m-6 1h5m-6 1h6m-7 1h8m-12 1h1m3 0h8m-7 1h5m-5 1h5m-6 1h7m-7 1h6m-7 1h7m1 0h1m-9 1h7m1 0h1m-10 1h6m-7 1h6m0 1h2m-2 1h2m-4 3h2m-2 1h1"/></g>
<rect x="517.2" y="418.0" width="59.0" height="24.8" fill="#fff" fill-opacity="1.0" stroke="#d4d4d4" stroke-width="1.3" rx="2.5"/>
<text x="517.9" y="436.9" font-size="19.5" textLength="56.0" lengthAdjust="spacingAndGlyphs" fill="#000" stroke="#000" stroke-width="0.35">0.154%</text>
<rect x="400.2" y="396.2" width="199.6" height="206.0" fill="none" stroke="#333" stroke-width="1.3"/>
<line x1="395.2" y1="602.2" x2="400.2" y2="602.2" stroke="#333" stroke-width="1.2"/>
<text x="393.9" y="607.4" font-size="12.4" text-anchor="end" textLength="6.4" lengthAdjust="spacingAndGlyphs" stroke="#111" stroke-width="0.25">0</text>
<line x1="398.0" y1="598.3" x2="400.2" y2="598.3" stroke="#333" stroke-width="0.9"/>
<line x1="398.0" y1="594.3" x2="400.2" y2="594.3" stroke="#333" stroke-width="0.9"/>
<line x1="398.0" y1="590.4" x2="400.2" y2="590.4" stroke="#333" stroke-width="0.9"/>
<line x1="398.0" y1="586.5" x2="400.2" y2="586.5" stroke="#333" stroke-width="0.9"/>
<line x1="398.0" y1="582.6" x2="400.2" y2="582.6" stroke="#333" stroke-width="0.9"/>
<line x1="398.0" y1="578.6" x2="400.2" y2="578.6" stroke="#333" stroke-width="0.9"/>
<line x1="398.0" y1="574.7" x2="400.2" y2="574.7" stroke="#333" stroke-width="0.9"/>
<line x1="398.0" y1="570.8" x2="400.2" y2="570.8" stroke="#333" stroke-width="0.9"/>
<line x1="398.0" y1="566.9" x2="400.2" y2="566.9" stroke="#333" stroke-width="0.9"/>
<line x1="395.2" y1="562.9" x2="400.2" y2="562.9" stroke="#333" stroke-width="1.2"/>
<text x="393.9" y="568.1" font-size="12.4" text-anchor="end" textLength="12.8" lengthAdjust="spacingAndGlyphs" stroke="#111" stroke-width="0.25">50</text>
<line x1="398.0" y1="559.0" x2="400.2" y2="559.0" stroke="#333" stroke-width="0.9"/>
<line x1="398.0" y1="555.1" x2="400.2" y2="555.1" stroke="#333" stroke-width="0.9"/>
<line x1="398.0" y1="551.2" x2="400.2" y2="551.2" stroke="#333" stroke-width="0.9"/>
<line x1="398.0" y1="547.2" x2="400.2" y2="547.2" stroke="#333" stroke-width="0.9"/>
<line x1="398.0" y1="543.3" x2="400.2" y2="543.3" stroke="#333" stroke-width="0.9"/>
<line x1="398.0" y1="539.4" x2="400.2" y2="539.4" stroke="#333" stroke-width="0.9"/>
<line x1="398.0" y1="535.5" x2="400.2" y2="535.5" stroke="#333" stroke-width="0.9"/>
<line x1="398.0" y1="531.5" x2="400.2" y2="531.5" stroke="#333" stroke-width="0.9"/>
<line x1="398.0" y1="527.6" x2="400.2" y2="527.6" stroke="#333" stroke-width="0.9"/>
<line x1="395.2" y1="523.7" x2="400.2" y2="523.7" stroke="#333" stroke-width="1.2"/>
<text x="393.9" y="528.9" font-size="12.4" text-anchor="end" textLength="19.2" lengthAdjust="spacingAndGlyphs" stroke="#111" stroke-width="0.25">100</text>
<line x1="398.0" y1="519.8" x2="400.2" y2="519.8" stroke="#333" stroke-width="0.9"/>
<line x1="398.0" y1="515.8" x2="400.2" y2="515.8" stroke="#333" stroke-width="0.9"/>
<line x1="398.0" y1="511.9" x2="400.2" y2="511.9" stroke="#333" stroke-width="0.9"/>
<line x1="398.0" y1="508.0" x2="400.2" y2="508.0" stroke="#333" stroke-width="0.9"/>
<line x1="398.0" y1="504.1" x2="400.2" y2="504.1" stroke="#333" stroke-width="0.9"/>
<line x1="398.0" y1="500.1" x2="400.2" y2="500.1" stroke="#333" stroke-width="0.9"/>
<line x1="398.0" y1="496.2" x2="400.2" y2="496.2" stroke="#333" stroke-width="0.9"/>
<line x1="398.0" y1="492.3" x2="400.2" y2="492.3" stroke="#333" stroke-width="0.9"/>
<line x1="398.0" y1="488.3" x2="400.2" y2="488.3" stroke="#333" stroke-width="0.9"/>
<line x1="395.2" y1="484.4" x2="400.2" y2="484.4" stroke="#333" stroke-width="1.2"/>
<text x="393.9" y="489.6" font-size="12.4" text-anchor="end" textLength="19.2" lengthAdjust="spacingAndGlyphs" stroke="#111" stroke-width="0.25">150</text>
<line x1="398.0" y1="480.5" x2="400.2" y2="480.5" stroke="#333" stroke-width="0.9"/>
<line x1="398.0" y1="476.6" x2="400.2" y2="476.6" stroke="#333" stroke-width="0.9"/>
<line x1="398.0" y1="472.6" x2="400.2" y2="472.6" stroke="#333" stroke-width="0.9"/>
<line x1="398.0" y1="468.7" x2="400.2" y2="468.7" stroke="#333" stroke-width="0.9"/>
<line x1="398.0" y1="464.8" x2="400.2" y2="464.8" stroke="#333" stroke-width="0.9"/>
<line x1="398.0" y1="460.9" x2="400.2" y2="460.9" stroke="#333" stroke-width="0.9"/>
<line x1="398.0" y1="456.9" x2="400.2" y2="456.9" stroke="#333" stroke-width="0.9"/>
<line x1="398.0" y1="453.0" x2="400.2" y2="453.0" stroke="#333" stroke-width="0.9"/>
<line x1="398.0" y1="449.1" x2="400.2" y2="449.1" stroke="#333" stroke-width="0.9"/>
<line x1="395.2" y1="445.2" x2="400.2" y2="445.2" stroke="#333" stroke-width="1.2"/>
<text x="393.9" y="450.4" font-size="12.4" text-anchor="end" textLength="19.2" lengthAdjust="spacingAndGlyphs" stroke="#111" stroke-width="0.25">200</text>
<line x1="398.0" y1="441.2" x2="400.2" y2="441.2" stroke="#333" stroke-width="0.9"/>
<line x1="398.0" y1="437.3" x2="400.2" y2="437.3" stroke="#333" stroke-width="0.9"/>
<line x1="398.0" y1="433.4" x2="400.2" y2="433.4" stroke="#333" stroke-width="0.9"/>
<line x1="398.0" y1="429.5" x2="400.2" y2="429.5" stroke="#333" stroke-width="0.9"/>
<line x1="398.0" y1="425.5" x2="400.2" y2="425.5" stroke="#333" stroke-width="0.9"/>
<line x1="398.0" y1="421.6" x2="400.2" y2="421.6" stroke="#333" stroke-width="0.9"/>
<line x1="398.0" y1="417.7" x2="400.2" y2="417.7" stroke="#333" stroke-width="0.9"/>
<line x1="398.0" y1="413.8" x2="400.2" y2="413.8" stroke="#333" stroke-width="0.9"/>
<line x1="398.0" y1="409.8" x2="400.2" y2="409.8" stroke="#333" stroke-width="0.9"/>
<line x1="395.2" y1="405.9" x2="400.2" y2="405.9" stroke="#333" stroke-width="1.2"/>
<text x="393.9" y="411.1" font-size="12.4" text-anchor="end" textLength="19.2" lengthAdjust="spacingAndGlyphs" stroke="#111" stroke-width="0.25">250</text>
<line x1="398.0" y1="402.0" x2="400.2" y2="402.0" stroke="#333" stroke-width="0.9"/>
<line x1="423.9" y1="602.2" x2="423.9" y2="604.4" stroke="#333" stroke-width="0.9"/>
<line x1="427.6" y1="602.2" x2="427.6" y2="604.4" stroke="#333" stroke-width="0.9"/>
<line x1="431.0" y1="602.2" x2="431.0" y2="604.4" stroke="#333" stroke-width="0.9"/>
<line x1="434.2" y1="602.2" x2="434.2" y2="604.4" stroke="#333" stroke-width="0.9"/>
<line x1="437.1" y1="602.2" x2="437.1" y2="604.4" stroke="#333" stroke-width="0.9"/>
<line x1="439.7" y1="602.2" x2="439.7" y2="604.4" stroke="#333" stroke-width="0.9"/>
<line x1="442.1" y1="602.2" x2="442.1" y2="604.4" stroke="#333" stroke-width="0.9"/>
<line x1="444.2" y1="602.2" x2="444.2" y2="604.4" stroke="#333" stroke-width="0.9"/>
<line x1="446.2" y1="602.2" x2="446.2" y2="604.4" stroke="#333" stroke-width="0.9"/>
<line x1="448.0" y1="602.2" x2="448.0" y2="604.4" stroke="#333" stroke-width="0.9"/>
<line x1="460.7" y1="602.2" x2="460.7" y2="604.4" stroke="#333" stroke-width="0.9"/>
<line x1="468.4" y1="602.2" x2="468.4" y2="604.4" stroke="#333" stroke-width="0.9"/>
<line x1="473.9" y1="602.2" x2="473.9" y2="604.4" stroke="#333" stroke-width="0.9"/>
<line x1="478.2" y1="602.2" x2="478.2" y2="604.4" stroke="#333" stroke-width="0.9"/>
<line x1="481.8" y1="602.2" x2="481.8" y2="604.4" stroke="#333" stroke-width="0.9"/>
<line x1="484.7" y1="602.2" x2="484.7" y2="604.4" stroke="#333" stroke-width="0.9"/>
<line x1="487.3" y1="602.2" x2="487.3" y2="604.4" stroke="#333" stroke-width="0.9"/>
<line x1="489.6" y1="602.2" x2="489.6" y2="604.4" stroke="#333" stroke-width="0.9"/>
<line x1="491.7" y1="602.2" x2="491.7" y2="607.2" stroke="#333" stroke-width="1.2"/>
<line x1="505.1" y1="602.2" x2="505.1" y2="604.4" stroke="#333" stroke-width="0.9"/>
<line x1="513.0" y1="602.2" x2="513.0" y2="604.4" stroke="#333" stroke-width="0.9"/>
<line x1="518.6" y1="602.2" x2="518.6" y2="604.4" stroke="#333" stroke-width="0.9"/>
<line x1="522.9" y1="602.2" x2="522.9" y2="604.4" stroke="#333" stroke-width="0.9"/>
<line x1="526.5" y1="602.2" x2="526.5" y2="604.4" stroke="#333" stroke-width="0.9"/>
<line x1="529.5" y1="602.2" x2="529.5" y2="604.4" stroke="#333" stroke-width="0.9"/>
<line x1="532.1" y1="602.2" x2="532.1" y2="604.4" stroke="#333" stroke-width="0.9"/>
<line x1="534.4" y1="602.2" x2="534.4" y2="604.4" stroke="#333" stroke-width="0.9"/>
<line x1="536.4" y1="602.2" x2="536.4" y2="607.2" stroke="#333" stroke-width="1.2"/>
<line x1="549.9" y1="602.2" x2="549.9" y2="604.4" stroke="#333" stroke-width="0.9"/>
<line x1="557.8" y1="602.2" x2="557.8" y2="604.4" stroke="#333" stroke-width="0.9"/>
<line x1="563.3" y1="602.2" x2="563.3" y2="604.4" stroke="#333" stroke-width="0.9"/>
<line x1="567.7" y1="602.2" x2="567.7" y2="604.4" stroke="#333" stroke-width="0.9"/>
<line x1="571.2" y1="602.2" x2="571.2" y2="604.4" stroke="#333" stroke-width="0.9"/>
<line x1="574.2" y1="602.2" x2="574.2" y2="604.4" stroke="#333" stroke-width="0.9"/>
<line x1="576.8" y1="602.2" x2="576.8" y2="604.4" stroke="#333" stroke-width="0.9"/>
<line x1="579.1" y1="602.2" x2="579.1" y2="604.4" stroke="#333" stroke-width="0.9"/>
<line x1="581.2" y1="602.2" x2="581.2" y2="607.2" stroke="#333" stroke-width="1.2"/>
<line x1="594.6" y1="602.2" x2="594.6" y2="604.4" stroke="#333" stroke-width="0.9"/>
<line x1="420.0" y1="602.2" x2="420.0" y2="607.2" stroke="#333" stroke-width="1.2"/>
<text x="420.0" y="621.5" font-size="12.3" text-anchor="middle" textLength="5.6" lengthAdjust="spacingAndGlyphs" stroke="#111" stroke-width="0.25">0</text>
<text x="483.1" y="621.5" font-size="12.3" textLength="11.0" lengthAdjust="spacingAndGlyphs" stroke="#111" stroke-width="0.25">10</text>
<text x="494.8" y="616.3" font-size="7.995000000000001" textLength="4.2" lengthAdjust="spacingAndGlyphs" stroke="#111" stroke-width="0.15">3</text>
<text x="528.0" y="621.5" font-size="12.3" textLength="11.0" lengthAdjust="spacingAndGlyphs" stroke="#111" stroke-width="0.25">10</text>
<text x="539.7" y="616.3" font-size="7.995000000000001" textLength="4.2" lengthAdjust="spacingAndGlyphs" stroke="#111" stroke-width="0.15">4</text>
<text x="572.6" y="621.5" font-size="12.3" textLength="11.0" lengthAdjust="spacingAndGlyphs" stroke="#111" stroke-width="0.25">10</text>
<text x="584.3" y="616.3" font-size="7.995000000000001" textLength="4.2" lengthAdjust="spacingAndGlyphs" stroke="#111" stroke-width="0.15">5</text>
<g transform="translate(363.5 451.7) rotate(-90)"><text x="0" y="0" font-size="11.8" textLength="31.8" lengthAdjust="spacingAndGlyphs" stroke="#111" stroke-width="0.2">(x 10</text><text x="32.5" y="-5.0" font-size="7.3" stroke="#111" stroke-width="0.15">3</text><text x="37.5" y="0" font-size="11.8" textLength="4.5" lengthAdjust="spacingAndGlyphs" stroke="#111" stroke-width="0.2">)</text></g>
<text x="338.3" y="498.8" font-size="18.9" text-anchor="middle" textLength="45.5" lengthAdjust="spacingAndGlyphs" stroke="#111" stroke-width="0.4" transform="rotate(-90 338.3 498.8)">SSC-A</text>
<text x="499.8" y="647.0" font-size="18.9" text-anchor="middle" textLength="40.9" lengthAdjust="spacingAndGlyphs" stroke="#111" stroke-width="0.4">CD48</text>
<rect x="516.9" y="418.3" width="79.6" height="154.2" fill="none" stroke="#333" stroke-width="1.3"/>
<text x="656.0" y="361.0" font-size="20" textLength="15.0" lengthAdjust="spacingAndGlyphs" font-weight="bold" fill="#000">C</text>
<text x="898.6" y="370.0" font-size="21.4" textLength="100.3" lengthAdjust="spacingAndGlyphs" fill="#000">Clone 46</text>
<g transform="translate(0 0.5)" fill="none" stroke-width="1" shape-rendering="crispEdges"><path stroke="#555555" d="M0 0m890 397h1m-9 2h1m-21 2h1m7 0h1m16 0h1m-29 1h1m20 1h1m-37 1h1m6 0h1m6 0h1m5 0h1m1 0h1m1 0h2m2 0h2m10 0h1m-41 1h1m3 0h2m4 0h1m3 0h1m4 0h1m2 0h1m3 0h1m4 0h1m1 0h1m-25 1h1m3 0h2m1 0h1m1 0h1m1 0h1m2 0h1m2 0h2m1 0h1m-32 1h1m2 0h1m4 0h1m1 0h2m2 0h1m1 0h1m5 0h1m1 0h1m3 0h1m1 0h1m4 0h1m4 0h2m-46 1h1m1 0h1m2 0h1m1 0h1m2 0h3m17 0h1m1 0h1m3 0h2m-49 1h1m12 0h1m4 0h2m23 0h1m1 0h1m1 0h1m2 0h1m1 0h1m-47 1h1m4 0h1m3 0h1m28 0h2m1 0h2m4 0h1m1 0h1m-49 1h1m1 0h3m34 0h1m1 0h1m2 0h2m6 0h1m-60 1h1m2 0h3m3 0h1m35 0h2m1 0h1m7 0h1m-57 1h3m2 0h1m40 0h2m1 0h2m3 0h1m-69 1h1m12 0h1m1 0h1m44 0h1m9 0h1m-73 1h1m6 0h1m6 0h2m48 0h4m-64 1h2m57 0h3m3 0h1m1 0h2m-62 1h2m50 0h1m1 0h2m5 0h1m-70 1h1m62 0h2m1 0h1m-64 1h1m56 0h2m-69 1h1m1 0h1m3 0h2m1 0h1m57 0h2m1 0h1m1 0h1m-68 1h2m60 0h4m16 0h1m-89 1h1m1 0h2m1 0h1m61 0h1m1 0h1m1 0h1m1 0h1m12 0h1m-95 1h1m1 0h1m7 0h1m63 0h2m2 0h2m1 0h1m-77 1h5m64 0h2m2 0h1m-4 1h1m-85 1h1m5 0h1m1 0h2m1 0h1m70 0h2m4 0h1m5 0h1m-92 1h1m1 0h1m1 0h1m1 0h3m68 0h2m1 0h1m-80 1h1m74 0h2m8 0h1m-92 1h3m3 0h2m72 0h2m7 0h1m-88 1h1m1 0h2m73 0h1m-83 1h1m3 0h1m76 0h2m1 0h1m2 0h1m3 0h1m-92 1h1m1 0h1m1 0h1m74 0h3m-80 1h2m74 0h1m1 0h1m-5 1h1m1 0h1m3 0h1m1 0h1m-90 1h1m5 0h1m73 0h3m5 0h1m-87 1h1m2 0h1m73 0h3m7 0h1m-13 1h1m-79 1h1m2 0h2m71 0h1m1 0h1m-80 1h1m1 0h3m70 0h3m-78 1h1m2 0h1m71 0h2m-6 1h3m1 0h1m4 0h1m-12 1h1m9 0h1m-88 1h1m6 0h2m66 0h2m2 0h1m-76 1h1m4 0h1m63 0h1m4 0h1m-79 1h1m6 0h1m63 0h1m1 0h1m1 0h1m-81 1h1m7 0h1m1 0h4m60 0h1m1 0h1m-67 1h1m2 0h1m57 0h3m9 0h1m-76 1h3m1 0h2m58 0h3m1 0h1m-65 1h1m54 0h1m2 0h1m11 0h1m-80 1h1m5 0h1m3 0h1m51 0h3m4 0h1m-65 1h1m1 0h4m48 0h3m1 0h1m-64 1h1m3 0h1m3 0h2m50 0h1m8 0h1m-66 1h1m1 0h4m44 0h1m1 0h1m1 0h1m-51 1h1m1 0h1m40 0h3m1 0h1m2 0h1m-54 1h2m4 0h1m37 0h1m3 0h1m4 0h1m-52 1h2m1 0h1m34 0h1m1 0h3m-49 1h1m2 0h1m6 0h3m29 0h1m6 0h1m-46 1h1m1 0h1m2 0h1m1 0h3m24 0h2m7 0h1m-49 1h1m7 0h3m4 0h1m20 0h4m1 0h1m1 0h1m-54 1h1m18 0h1m2 0h1m4 0h2m11 0h1m3 0h2m8 0h1m-44 1h1m3 0h1m5 0h2m3 0h7m3 0h1m1 0h4m2 0h2m4 0h1m1 0h1m-42 1h1m2 0h1m4 0h1m1 0h1m4 0h1m7 0h2m3 0h1m1 0h2m2 0h1m-25 1h2m4 0h1m1 0h1m1 0h1m2 0h1m6 0h1m2 0h1m5 0h1m-40 1h1m9 0h1m10 0h2m4 0h1m2 0h1m-23 1h1m3 0h1m3 0h1m5 0h1m2 0h1m3 0h1m4 0h1m-28 1h2m6 0h1m2 1h1m4 0h1m-21 1h1m-2 1h1m-10 1h1m4 0h1m4 0h1m23 0h1m19 0h1m-48 1h1m4 0h1m22 0h1m-21 1h1m18 0h1m-39 2h1m25 0h1m-19 1h1m40 2h1m-51 2h1m22 1h1m-15 1h1m-19 2h1m20 0h1m22 0h1m-11 1h1m26 0h1m-27 1h1m4 0h1m-28 1h1m38 1h1m-60 1h1m44 3h1m-26 2h1m19 1h1m-23 3h1m14 7h1"/><path stroke="#111111" d="M0 0m860 407h1m-10 1h7m3 0h3m2 0h2m-21 1h4m1 0h2m1 0h2m1 0h2m1 0h7m-25 1h4m1 0h10m1 0h8m-27 1h5m1 0h3m1 0h7m2 0h7m1 0h4m-33 1h2m1 0h3m1 0h3m1 0h7m1 0h8m1 0h5m-37 1h7m1 0h10m1 0h20m-41 1h5m1 0h1m1 0h27m1 0h4m-43 1h10m1 0h4m1 0h2m1 0h19m1 0h2m1 0h1m1 0h1m-48 1h2m1 0h5m1 0h9m1 0h3m1 0h5m3 0h1m2 0h13m-49 1h1m1 0h10m1 0h2m1 0h1m1 0h7m3 0h2m8 0h2m1 0h1m1 0h7m-53 1h4m1 0h6m1 0h2m1 0h7m1 0h1m17 0h2m2 0h8m-55 1h23m22 0h5m1 0h2m1 0h1m-56 1h21m27 0h8m-60 1h1m1 0h6m1 0h3m1 0h9m27 0h1m1 0h4m1 0h1m-59 1h22m29 0h1m1 0h6m1 0h1m-63 1h3m1 0h8m2 0h6m33 0h4m2 0h3m-64 1h7m2 0h4m2 0h1m1 0h1m1 0h2m34 0h6m2 0h1m-67 1h2m1 0h4m1 0h10m1 0h3m36 0h6m-65 1h5m1 0h15m36 0h7m1 0h1m-69 1h6m2 0h6m1 0h7m37 0h7m-69 1h23m38 0h6m1 0h1m-71 1h1m1 0h14m1 0h5m40 0h6m1 0h2m-73 1h22m40 0h4m1 0h2m-72 1h2m1 0h21m40 0h10m-75 1h23m40 0h5m2 0h3m-74 1h3m1 0h18m1 0h1m38 0h4m1 0h1m1 0h2m-72 1h22m41 0h1m1 0h3m2 0h1m-72 1h22m39 0h3m1 0h2m1 0h1m1 0h2m-73 1h1m1 0h20m38 0h1m2 0h8m-73 1h23m37 0h12m-73 1h23m35 0h7m1 0h3m-70 1h2m1 0h21m33 0h7m1 0h2m1 0h2m-71 1h2m1 0h22m33 0h9m1 0h1m-69 1h3m1 0h20m29 0h11m1 0h2m-68 1h10m1 0h14m27 0h13m-66 1h1m1 0h3m1 0h19m25 0h11m1 0h2m-64 1h1m2 0h22m24 0h10m1 0h1m1 0h1m-62 1h23m20 0h4m1 0h2m1 0h4m1 0h4m-61 1h9m1 0h16m9 0h2m2 0h6m2 0h11m-59 1h10m1 0h16m1 0h4m2 0h21m1 0h1m-54 1h36m1 0h4m2 0h9m-55 1h2m2 0h33m1 0h6m1 0h3m1 0h3m-51 1h28m2 0h3m1 0h9m1 0h3m1 0h1m-50 1h1m1 0h1m1 0h1m1 0h40m1 0h1m-46 1h28m1 0h3m1 0h7m2 0h1m-44 1h1m1 0h28m1 0h8m1 0h2m-41 1h3m1 0h25m1 0h4m1 0h1m1 0h1m-39 1h1m1 0h8m1 0h12m1 0h6m1 0h4m-34 1h1m1 0h5m1 0h2m1 0h2m1 0h13m1 0h4m-31 1h1m1 0h1m1 0h18m1 0h4m-23 1h3m1 0h17m-21 1h2m1 0h9m-10 1h1m1 0h3m2 0h2"/><path stroke="#bd42bd" d="M0 0m854 416h2m2 0h2m-11 1h3m2 0h8m2 0h1m-22 1h1m1 0h1m1 0h15m2 0h2m-24 1h7m1 0h4m2 0h2m1 0h5m-25 1h9m4 0h2m7 0h4m-29 1h6m17 0h4m1 0h1m-30 1h6m18 0h4m1 0h1m-35 1h5m25 0h3m-34 1h3m27 0h3m-35 1h5m27 0h4m-38 1h3m2 0h1m26 0h4m-38 1h3m30 0h4m-39 1h4m30 0h4m-40 1h5m30 0h4m-41 1h5m31 0h3m-41 1h4m33 0h3m-42 1h4m32 0h1m1 0h2m-42 1h1m1 0h3m32 0h3m-41 1h4m31 0h5m-41 1h6m29 0h4m-40 1h5m29 0h4m-39 1h3m2 0h1m27 0h4m-38 1h4m26 0h2m2 0h1m-35 1h4m25 0h1m1 0h2m-33 1h4m23 0h5m-33 1h5m2 0h2m14 0h6m-29 1h6m1 0h2m7 0h1m2 0h8m-28 1h5m1 0h2m8 0h8m-24 1h10m4 0h10m-25 1h20m-18 1h9m2 0h2m-13 1h1m4 0h2"/><path stroke="#4a60d8" d="M0 0m849 419h1m4 0h2m2 0h1m-9 1h2m4 0h5m-19 1h2m6 0h2m6 0h1m-18 1h1m16 0h1m-24 1h2m1 0h1m19 0h2m-28 1h1m1 0h1m23 0h1m-3 1h3m-31 1h2m1 0h1m24 0h1m-31 1h2m27 0h1m-31 1h1m28 0h1m-2 1h1m-32 1h2m28 0h1m-34 1h2m28 0h1m1 0h1m-35 1h2m29 0h1m1 0h1m-35 1h2m27 0h3m-34 1h3m27 0h1m-30 1h2m25 0h2m-31 1h3m25 0h1m-32 1h2m1 0h1m23 0h1m-28 1h1m1 0h2m20 0h2m2 0h2m-30 1h4m19 0h2m1 0h1m-27 1h1m1 0h2m16 0h3m-23 1h2m2 0h2m4 0h2m2 0h4m-17 1h1m2 0h4m2 0h1m1 0h2m-15 1h1m2 0h4m2 0h2m-6 1h4"/><path stroke="#40a8e0" d="M0 0m848 420h2m4 0h2m-12 1h6m2 0h6m-16 1h6m2 0h4m2 0h2m-21 1h1m1 0h9m4 0h6m-25 1h1m1 0h7m11 0h5m-26 1h4m2 0h4m12 0h2m-24 1h4m17 0h3m-28 1h3m20 0h4m-29 1h2m22 0h4m-30 1h6m20 0h3m-29 1h5m19 0h4m-31 1h6m19 0h3m1 0h1m-32 1h7m17 0h1m2 0h2m-30 1h5m19 0h3m-28 1h5m20 0h2m-27 1h5m14 0h6m-26 1h6m12 0h7m-27 1h8m10 0h5m1 0h2m-29 1h1m2 0h9m9 0h2m-20 1h5m1 0h4m2 0h7m-22 1h1m2 0h16m-14 1h4m2 0h2m-6 1h2m-4 1h2"/><path stroke="#40b040" d="M0 0m848 422h2m4 0h2m-8 1h4m-10 1h8m2 0h1m-17 1h2m4 0h2m2 0h8m-18 1h8m3 0h6m-22 1h7m2 0h1m1 0h2m3 0h1m2 0h1m-23 1h9m5 0h2m2 0h4m-20 1h2m15 0h3m-21 1h2m10 0h1m3 0h3m-21 1h5m10 0h4m-20 1h3m1 0h2m9 0h2m1 0h2m-23 1h7m2 0h10m-20 1h8m2 0h10m-20 1h14m-14 1h12m-12 1h10m-9 1h9m-13 1h1m4 0h2"/><path stroke="#e82828" d="M0 0m850 424h2m-8 1h2m-2 1h3m-9 1h2m1 0h1m2 0h3m1 0h2m-13 1h5m2 0h2m-14 1h15m-16 1h10m1 0h3m-13 1h10m-13 1h1m2 0h9m-11 1h2m-2 1h2"/></g>
<rect x="808.6" y="393.2" width="58.2" height="19.7" fill="#fff" fill-opacity="1.0" stroke="#d4d4d4" stroke-width="1.3" rx="2.5"/>
<text x="808.8" y="409.3" font-size="17" textLength="55.7" lengthAdjust="spacingAndGlyphs" fill="#000" stroke="#000" stroke-width="0.35">92.740%</text>
<rect x="711.6" y="393.0" width="194.4" height="204.6" fill="none" stroke="#333" stroke-width="1.3"/>
<line x1="808.4" y1="393.0" x2="808.4" y2="597.6" stroke="#333" stroke-width="1.3"/>
<line x1="711.6" y1="459.0" x2="906.0" y2="459.0" stroke="#333" stroke-width="1.3"/>
<line x1="709.4" y1="574.0" x2="711.6" y2="574.0" stroke="#333" stroke-width="0.9"/>
<line x1="709.4" y1="570.5" x2="711.6" y2="570.5" stroke="#333" stroke-width="0.9"/>
<line x1="709.4" y1="567.1" x2="711.6" y2="567.1" stroke="#333" stroke-width="0.9"/>
<line x1="709.4" y1="564.0" x2="711.6" y2="564.0" stroke="#333" stroke-width="0.9"/>
<line x1="709.4" y1="561.1" x2="711.6" y2="561.1" stroke="#333" stroke-width="0.9"/>
<line x1="709.4" y1="558.5" x2="711.6" y2="558.5" stroke="#333" stroke-width="0.9"/>
<line x1="709.4" y1="556.2" x2="711.6" y2="556.2" stroke="#333" stroke-width="0.9"/>
<line x1="709.4" y1="554.0" x2="711.6" y2="554.0" stroke="#333" stroke-width="0.9"/>
<line x1="709.4" y1="552.0" x2="711.6" y2="552.0" stroke="#333" stroke-width="0.9"/>
<line x1="706.6" y1="550.2" x2="711.6" y2="550.2" stroke="#333" stroke-width="1.2"/>
<line x1="709.4" y1="537.2" x2="711.6" y2="537.2" stroke="#333" stroke-width="0.9"/>
<line x1="709.4" y1="529.2" x2="711.6" y2="529.2" stroke="#333" stroke-width="0.9"/>
<line x1="709.4" y1="523.5" x2="711.6" y2="523.5" stroke="#333" stroke-width="0.9"/>
<line x1="709.4" y1="519.1" x2="711.6" y2="519.1" stroke="#333" stroke-width="0.9"/>
<line x1="709.4" y1="515.4" x2="711.6" y2="515.4" stroke="#333" stroke-width="0.9"/>
<line x1="709.4" y1="512.3" x2="711.6" y2="512.3" stroke="#333" stroke-width="0.9"/>
<line x1="709.4" y1="509.7" x2="711.6" y2="509.7" stroke="#333" stroke-width="0.9"/>
<line x1="709.4" y1="507.3" x2="711.6" y2="507.3" stroke="#333" stroke-width="0.9"/>
<line x1="706.6" y1="505.2" x2="711.6" y2="505.2" stroke="#333" stroke-width="1.2"/>
<line x1="709.4" y1="491.3" x2="711.6" y2="491.3" stroke="#333" stroke-width="0.9"/>
<line x1="709.4" y1="483.1" x2="711.6" y2="483.1" stroke="#333" stroke-width="0.9"/>
<line x1="709.4" y1="477.3" x2="711.6" y2="477.3" stroke="#333" stroke-width="0.9"/>
<line x1="709.4" y1="472.8" x2="711.6" y2="472.8" stroke="#333" stroke-width="0.9"/>
<line x1="709.4" y1="469.2" x2="711.6" y2="469.2" stroke="#333" stroke-width="0.9"/>
<line x1="709.4" y1="466.1" x2="711.6" y2="466.1" stroke="#333" stroke-width="0.9"/>
<line x1="709.4" y1="463.4" x2="711.6" y2="463.4" stroke="#333" stroke-width="0.9"/>
<line x1="709.4" y1="461.0" x2="711.6" y2="461.0" stroke="#333" stroke-width="0.9"/>
<line x1="706.6" y1="458.9" x2="711.6" y2="458.9" stroke="#333" stroke-width="1.2"/>
<line x1="709.4" y1="445.0" x2="711.6" y2="445.0" stroke="#333" stroke-width="0.9"/>
<line x1="709.4" y1="436.8" x2="711.6" y2="436.8" stroke="#333" stroke-width="0.9"/>
<line x1="709.4" y1="431.0" x2="711.6" y2="431.0" stroke="#333" stroke-width="0.9"/>
<line x1="709.4" y1="426.5" x2="711.6" y2="426.5" stroke="#333" stroke-width="0.9"/>
<line x1="709.4" y1="422.9" x2="711.6" y2="422.9" stroke="#333" stroke-width="0.9"/>
<line x1="709.4" y1="419.8" x2="711.6" y2="419.8" stroke="#333" stroke-width="0.9"/>
<line x1="709.4" y1="417.1" x2="711.6" y2="417.1" stroke="#333" stroke-width="0.9"/>
<line x1="709.4" y1="414.7" x2="711.6" y2="414.7" stroke="#333" stroke-width="0.9"/>
<line x1="706.6" y1="412.6" x2="711.6" y2="412.6" stroke="#333" stroke-width="1.2"/>
<line x1="709.4" y1="398.7" x2="711.6" y2="398.7" stroke="#333" stroke-width="0.9"/>
<line x1="706.6" y1="577.7" x2="711.6" y2="577.7" stroke="#333" stroke-width="1.2"/>
<text x="704.9" y="582.1" font-size="12.3" text-anchor="end" textLength="5.8" lengthAdjust="spacingAndGlyphs" stroke="#111" stroke-width="0.25">0</text>
<text x="699.1" y="559.4" font-size="12.3" text-anchor="end" textLength="10.8" lengthAdjust="spacingAndGlyphs" stroke="#111" stroke-width="0.25">10</text>
<text x="700.0" y="553.9" font-size="7.995000000000001" textLength="4.0" lengthAdjust="spacingAndGlyphs" stroke="#111" stroke-width="0.15">2</text>
<text x="699.1" y="509.6" font-size="12.3" text-anchor="end" textLength="10.8" lengthAdjust="spacingAndGlyphs" stroke="#111" stroke-width="0.25">10</text>
<text x="700.0" y="504.1" font-size="7.995000000000001" textLength="4.0" lengthAdjust="spacingAndGlyphs" stroke="#111" stroke-width="0.15">3</text>
<text x="699.1" y="463.8" font-size="12.3" text-anchor="end" textLength="10.8" lengthAdjust="spacingAndGlyphs" stroke="#111" stroke-width="0.25">10</text>
<text x="700.0" y="458.3" font-size="7.995000000000001" textLength="4.0" lengthAdjust="spacingAndGlyphs" stroke="#111" stroke-width="0.15">4</text>
<text x="699.1" y="417.0" font-size="12.3" text-anchor="end" textLength="10.8" lengthAdjust="spacingAndGlyphs" stroke="#111" stroke-width="0.25">10</text>
<text x="700.0" y="411.5" font-size="7.995000000000001" textLength="4.0" lengthAdjust="spacingAndGlyphs" stroke="#111" stroke-width="0.15">5</text>
<line x1="734.8" y1="597.6" x2="734.8" y2="599.8" stroke="#333" stroke-width="0.9"/>
<line x1="738.2" y1="597.6" x2="738.2" y2="599.8" stroke="#333" stroke-width="0.9"/>
<line x1="741.3" y1="597.6" x2="741.3" y2="599.8" stroke="#333" stroke-width="0.9"/>
<line x1="744.3" y1="597.6" x2="744.3" y2="599.8" stroke="#333" stroke-width="0.9"/>
<line x1="747.0" y1="597.6" x2="747.0" y2="599.8" stroke="#333" stroke-width="0.9"/>
<line x1="749.4" y1="597.6" x2="749.4" y2="599.8" stroke="#333" stroke-width="0.9"/>
<line x1="751.7" y1="597.6" x2="751.7" y2="599.8" stroke="#333" stroke-width="0.9"/>
<line x1="753.7" y1="597.6" x2="753.7" y2="599.8" stroke="#333" stroke-width="0.9"/>
<line x1="755.6" y1="597.6" x2="755.6" y2="599.8" stroke="#333" stroke-width="0.9"/>
<line x1="757.4" y1="597.6" x2="757.4" y2="599.8" stroke="#333" stroke-width="0.9"/>
<line x1="769.6" y1="597.6" x2="769.6" y2="599.8" stroke="#333" stroke-width="0.9"/>
<line x1="777.2" y1="597.6" x2="777.2" y2="599.8" stroke="#333" stroke-width="0.9"/>
<line x1="782.6" y1="597.6" x2="782.6" y2="599.8" stroke="#333" stroke-width="0.9"/>
<line x1="786.8" y1="597.6" x2="786.8" y2="599.8" stroke="#333" stroke-width="0.9"/>
<line x1="790.2" y1="597.6" x2="790.2" y2="599.8" stroke="#333" stroke-width="0.9"/>
<line x1="793.1" y1="597.6" x2="793.1" y2="599.8" stroke="#333" stroke-width="0.9"/>
<line x1="795.7" y1="597.6" x2="795.7" y2="599.8" stroke="#333" stroke-width="0.9"/>
<line x1="797.9" y1="597.6" x2="797.9" y2="599.8" stroke="#333" stroke-width="0.9"/>
<line x1="799.9" y1="597.6" x2="799.9" y2="602.6" stroke="#333" stroke-width="1.2"/>
<line x1="813.1" y1="597.6" x2="813.1" y2="599.8" stroke="#333" stroke-width="0.9"/>
<line x1="820.8" y1="597.6" x2="820.8" y2="599.8" stroke="#333" stroke-width="0.9"/>
<line x1="826.3" y1="597.6" x2="826.3" y2="599.8" stroke="#333" stroke-width="0.9"/>
<line x1="830.5" y1="597.6" x2="830.5" y2="599.8" stroke="#333" stroke-width="0.9"/>
<line x1="834.0" y1="597.6" x2="834.0" y2="599.8" stroke="#333" stroke-width="0.9"/>
<line x1="836.9" y1="597.6" x2="836.9" y2="599.8" stroke="#333" stroke-width="0.9"/>
<line x1="839.5" y1="597.6" x2="839.5" y2="599.8" stroke="#333" stroke-width="0.9"/>
<line x1="841.7" y1="597.6" x2="841.7" y2="599.8" stroke="#333" stroke-width="0.9"/>
<line x1="843.7" y1="597.6" x2="843.7" y2="602.6" stroke="#333" stroke-width="1.2"/>
<line x1="856.9" y1="597.6" x2="856.9" y2="599.8" stroke="#333" stroke-width="0.9"/>
<line x1="864.6" y1="597.6" x2="864.6" y2="599.8" stroke="#333" stroke-width="0.9"/>
<line x1="870.1" y1="597.6" x2="870.1" y2="599.8" stroke="#333" stroke-width="0.9"/>
<line x1="874.3" y1="597.6" x2="874.3" y2="599.8" stroke="#333" stroke-width="0.9"/>
<line x1="877.8" y1="597.6" x2="877.8" y2="599.8" stroke="#333" stroke-width="0.9"/>
<line x1="880.7" y1="597.6" x2="880.7" y2="599.8" stroke="#333" stroke-width="0.9"/>
<line x1="883.3" y1="597.6" x2="883.3" y2="599.8" stroke="#333" stroke-width="0.9"/>
<line x1="885.5" y1="597.6" x2="885.5" y2="599.8" stroke="#333" stroke-width="0.9"/>
<line x1="887.5" y1="597.6" x2="887.5" y2="602.6" stroke="#333" stroke-width="1.2"/>
<line x1="900.7" y1="597.6" x2="900.7" y2="599.8" stroke="#333" stroke-width="0.9"/>
<line x1="731.3" y1="597.6" x2="731.3" y2="602.6" stroke="#333" stroke-width="1.2"/>
<text x="731.3" y="616.9" font-size="12.3" text-anchor="middle" textLength="5.6" lengthAdjust="spacingAndGlyphs" stroke="#111" stroke-width="0.25">0</text>
<text x="791.7" y="616.9" font-size="12.3" textLength="11.0" lengthAdjust="spacingAndGlyphs" stroke="#111" stroke-width="0.25">10</text>
<text x="803.4" y="611.7" font-size="7.995000000000001" textLength="4.2" lengthAdjust="spacingAndGlyphs" stroke="#111" stroke-width="0.15">3</text>
<text x="835.3" y="616.9" font-size="12.3" textLength="11.0" lengthAdjust="spacingAndGlyphs" stroke="#111" stroke-width="0.25">10</text>
<text x="847.0" y="611.7" font-size="7.995000000000001" textLength="4.2" lengthAdjust="spacingAndGlyphs" stroke="#111" stroke-width="0.15">4</text>
<text x="879.3" y="616.9" font-size="12.3" textLength="11.0" lengthAdjust="spacingAndGlyphs" stroke="#111" stroke-width="0.25">10</text>
<text x="891.0" y="611.7" font-size="7.995000000000001" textLength="4.2" lengthAdjust="spacingAndGlyphs" stroke="#111" stroke-width="0.15">5</text>
<text x="672.0" y="496.8" font-size="18.3" text-anchor="middle" textLength="59.5" lengthAdjust="spacingAndGlyphs" stroke="#111" stroke-width="0.4" transform="rotate(-90 672.0 496.8)">CD137L</text>
<text x="808.6" y="641.2" font-size="18.3" text-anchor="middle" textLength="36.8" lengthAdjust="spacingAndGlyphs" stroke="#111" stroke-width="0.4">IL-21</text>
<g transform="translate(0 0.5)" fill="none" stroke-width="1" shape-rendering="crispEdges"><path stroke="#555555" d="M0 0m1087 448h1m18 1h1m4 1h1m-7 1h1m5 0h1m-4 3h1m-9 1h1m4 0h1m8 0h1m1 0h1m-21 1h1m11 0h1m-2 1h1m4 0h1m-11 1h1m1 0h1m9 0h1m-12 1h1m1 0h1m1 0h3m1 0h1m-12 1h1m1 0h1m3 0h2m1 0h1m1 0h1m3 0h1m-23 1h1m4 0h2m2 0h1m4 0h1m2 0h1m3 0h1m-14 1h1m2 0h3m1 0h1m5 0h3m1 0h1m-17 1h3m1 0h3m2 0h3m-17 1h2m1 0h2m7 0h1m1 0h1m1 0h1m3 0h1m-21 1h3m15 0h1m-20 1h2m14 0h5m-20 1h1m15 0h3m2 0h1m-23 1h1m17 0h1m1 0h1m-26 1h1m22 0h2m1 0h1m-23 1h1m19 0h3m-3 1h1m1 0h1m-25 1h1m21 0h3m3 0h1m-30 1h2m21 0h1m3 0h1m-5 1h2m3 0h1m-31 1h1m1 0h1m24 0h1m-27 1h2m22 0h1m-30 1h1m4 0h1m25 0h1m-30 1h1m1 0h2m24 0h1m2 0h1m-29 1h1m23 0h2m-32 1h1m29 0h2m-28 1h1m25 0h2m-27 1h1m-2 1h1m25 0h2m-1 1h1m-28 1h1m25 0h2m1 0h1m-4 2h1m-29 1h2m-7 1h1m2 0h1m1 0h1m26 0h2m-31 1h1m1 0h1m26 0h1m-29 1h1m-6 1h1m4 0h1m-1 1h1m27 0h1m-38 1h2m7 0h1m27 1h1m-30 1h1m-3 1h1m1 0h1m28 0h1m-32 1h1m1 0h1m-5 1h1m2 1h1m27 0h2m1 0h1m-33 1h1m28 0h1m-29 1h1m27 0h1m-33 1h2m30 0h1m-31 2h2m27 0h3m-38 1h1m35 0h1m-32 2h2m27 1h2m-33 1h1m30 2h1m-30 1h1m27 0h1m-31 1h1m-3 1h1m2 0h1m29 0h1m-31 1h1m28 0h1m2 0h1m-37 1h1m1 0h1m1 0h1m27 0h1m-38 1h1m7 1h1m28 0h1m-31 1h2m-6 1h1m1 0h1m2 0h1m28 0h1m-38 1h1m35 0h1m-30 1h1m-7 1h1m-1 1h1m3 0h3m27 0h1m-39 1h1m6 0h2m29 0h1m-30 1h1m28 0h2m-34 1h1m32 0h1m-41 1h1m8 0h1m28 0h1m-34 1h1m1 0h2m29 0h1m-36 1h1m3 0h1m-3 1h1m1 0h3m-2 1h1m29 0h3m-36 1h1m3 0h1m27 0h1m-40 1h1m38 0h1m-32 1h3m27 0h1m-35 1h1m1 0h1m3 0h1m27 0h2m-30 1h1m-2 1h2m27 0h1m-35 1h1m4 0h2m26 0h1m-35 1h1m-3 1h1m1 0h1m5 0h1m27 0h1m-31 1h3m27 0h1m-34 1h1m2 0h3m-3 1h1m1 0h1m27 0h1m-45 1h1m9 0h1m3 0h1m27 0h1m-30 1h1m1 0h2m25 0h1m-32 1h1m3 0h1m26 0h1m4 0h1m-39 1h1m4 0h1m27 0h1m1 0h1m-4 1h1m-30 1h1m2 0h1m25 0h1m-34 1h1m6 0h1m24 0h1m-26 1h1m24 0h1m-27 1h1m24 0h3m-34 1h1m4 0h1m-1 1h3m23 0h1m-26 1h2m22 0h1m1 0h3m-36 1h1m3 0h2m-1 1h1m1 0h1m22 0h3m-27 1h1m22 0h2m1 0h1m-38 1h1m9 0h1m1 0h2m20 0h1m-27 1h1m24 0h2m-21 1h1m18 0h2m-29 1h1m26 0h1m-23 1h2m1 0h1m1 0h1m15 0h1m-19 1h4m12 0h3m-21 1h1m1 0h1m3 0h2m9 0h1m2 0h2m-22 1h1m4 0h1m3 0h1m1 0h3m1 0h3m1 0h2m-25 1h1m4 0h2m1 0h2m2 0h1m4 0h2m1 0h1m4 0h1m-27 1h1m6 0h1m1 0h1m1 0h1m5 0h1m4 0h2m1 0h1m1 0h1m-35 1h1m4 0h1m12 0h1m2 0h1m2 0h1m-12 1h1m4 0h1m2 0h1m1 0h1m7 0h1m-24 1h1m6 1h1m1 0h1m1 0h2m-3 1h1m10 0h1m-15 1h1m6 0h1m-5 1h1m3 0h1m-2 1h1m-12 2h1m0 1h1m1 0h1m-10 2h1m2 0h1m5 0h1m1 1h1m7 1h1m7 0h1m-27 1h1m-3 2h1m4 6h1"/><path stroke="#111111" d="M0 0m1102 464h3m1 0h2m-8 1h3m3 0h2m1 0h2m-12 1h1m1 0h3m1 0h2m2 0h3m-14 1h11m1 0h1m-14 1h2m1 0h4m1 0h4m1 0h4m-17 1h16m-17 1h5m1 0h1m1 0h1m1 0h2m1 0h4m1 0h1m-19 1h18m-19 1h19m-20 1h1m1 0h2m2 0h2m1 0h2m4 0h2m2 0h2m-21 1h9m5 0h6m-20 1h10m6 0h5m-22 1h11m6 0h5m-22 1h8m9 0h5m-23 1h8m10 0h5m-22 1h8m10 0h4m-24 1h4m2 0h3m11 0h1m1 0h2m-24 1h1m1 0h6m12 0h1m1 0h2m-23 1h7m12 0h4m-25 1h5m1 0h3m12 0h3m-24 1h9m13 0h3m-25 1h7m14 0h2m1 0h1m-26 1h2m1 0h1m1 0h2m16 0h2m-25 1h4m1 0h3m13 0h5m-26 1h1m1 0h6m13 0h5m-27 1h7m16 0h3m-25 1h1m2 0h3m16 0h3m-25 1h6m15 0h4m-27 1h1m1 0h2m1 0h2m16 0h4m-27 1h6m17 0h4m-27 1h7m16 0h2m-25 1h7m16 0h2m-26 1h7m18 0h1m-26 1h2m1 0h5m15 0h4m-27 1h6m17 0h3m-26 1h3m1 0h2m17 0h4m-28 1h7m17 0h3m-27 1h6m18 0h2m-25 1h5m18 0h1m1 0h1m-27 1h6m18 0h3m-28 1h7m18 0h2m-26 1h5m19 0h2m-28 1h7m20 0h1m-28 1h7m18 0h3m-28 1h3m1 0h3m18 0h2m-27 1h6m18 0h3m-28 1h1m1 0h1m3 0h1m18 0h1m1 0h1m-27 1h6m18 0h3m-28 1h6m18 0h4m-28 1h2m1 0h4m17 0h2m-27 1h2m1 0h3m1 0h1m17 0h3m-28 1h7m18 0h2m-27 1h7m18 0h1m1 0h1m-28 1h1m1 0h5m17 0h2m-26 1h7m17 0h3m-28 1h1m1 0h5m18 0h3m-28 1h6m19 0h3m-28 1h7m17 0h3m-28 1h5m2 0h1m17 0h3m-28 1h7m18 0h3m-28 1h7m18 0h2m-27 1h6m18 0h3m-28 1h4m1 0h2m18 0h3m-28 1h1m1 0h5m17 0h2m1 0h1m-28 1h8m16 0h4m-28 1h7m18 0h2m-27 1h7m17 0h1m-25 1h2m1 0h2m1 0h1m17 0h1m1 0h1m-28 1h8m15 0h4m-27 1h7m17 0h3m-27 1h7m17 0h2m-26 1h5m1 0h1m16 0h4m-27 1h2m1 0h4m15 0h4m-27 1h8m15 0h3m-24 1h6m15 0h4m-27 1h1m2 0h6m13 0h5m-27 1h4m1 0h4m13 0h3m-26 1h9m14 0h3m-25 1h8m13 0h3m-25 1h9m12 0h5m-25 1h3m1 0h5m11 0h5m-26 1h9m12 0h5m-26 1h9m11 0h5m-25 1h10m9 0h3m1 0h1m-24 1h10m9 0h4m-24 1h9m11 0h4m-24 1h1m1 0h2m1 0h5m9 0h4m1 0h1m-25 1h11m8 0h6m-25 1h11m7 0h6m-23 1h1m1 0h3m2 0h4m4 0h5m1 0h2m-22 1h8m1 0h2m3 0h6m-22 1h12m2 0h8m-22 1h3m1 0h3m1 0h4m2 0h8m-20 1h17m1 0h2m-22 1h10m1 0h11m-21 1h6m1 0h10m2 0h1m-20 1h10m1 0h5m1 0h2m-19 1h2m1 0h3m1 0h7m1 0h3m-17 1h3m2 0h10m-13 1h2m1 0h6m1 0h5m-17 1h2m1 0h5m1 0h4m2 0h1m-13 1h3m1 0h7m-12 1h5m1 0h1m1 0h2m1 0h1m-10 1h1m3 0h3"/><path stroke="#bd42bd" d="M0 0m1106 473h2m-4 1h4m-4 1h6m-6 1h6m-9 1h3m2 0h4m-10 1h4m2 0h4m-9 1h10m-11 1h11m-12 1h5m2 0h5m-12 1h4m3 0h5m-12 1h5m4 0h3m-12 1h4m5 0h3m-14 1h4m5 0h5m-15 1h4m7 0h4m-14 1h3m8 0h2m-13 1h2m9 0h2m-15 1h4m9 0h3m-16 1h4m9 0h3m-16 1h2m11 0h2m-16 1h3m11 0h2m-16 1h2m11 0h3m-16 1h2m11 0h3m-16 1h1m14 0h1m-17 1h1m14 0h2m-16 1h1m12 0h2m-16 1h2m12 0h2m-17 1h2m13 0h2m-17 1h2m13 0h2m-18 1h3m13 0h2m-18 1h3m13 0h2m-18 1h3m13 0h2m-18 1h2m14 0h2m-19 1h2m15 0h2m-19 1h1m16 0h1m-18 1h2m13 0h3m-18 1h1m14 0h3m-19 1h3m14 0h1m-18 1h3m14 0h1m-18 1h1m15 0h2m-18 1h1m14 0h2m-17 1h2m14 0h1m-17 1h1m15 0h1m-18 1h2m15 0h1m-18 1h2m15 0h1m-18 1h1m15 0h1m-17 1h1m15 0h1m-18 1h2m14 0h2m-19 1h3m14 0h2m-18 1h2m14 0h1m-17 1h2m14 0h1m-18 1h2m14 0h2m-18 1h2m14 0h2m-19 1h3m13 0h2m-18 1h3m13 0h2m-17 1h2m13 0h1m-16 1h2m12 0h2m-17 1h2m13 0h2m-17 1h2m13 0h2m-17 1h2m13 0h1m-16 1h2m12 0h1m-16 1h3m11 0h3m-17 1h3m11 0h3m-17 1h3m11 0h2m-16 1h3m11 0h1m-15 1h3m10 0h2m-15 1h4m8 0h3m-14 1h2m9 0h2m-13 1h2m9 0h2m-14 1h4m7 0h3m-14 1h4m7 0h2m-13 1h2m8 0h2m-11 1h1m8 0h2m-12 1h5m4 0h3m-12 1h5m3 0h3m-10 1h2m5 0h2m-9 1h2m3 0h4m-10 1h10m-10 1h9m-8 1h7m-7 1h7m-6 1h4m-3 1h3m-4 1h2m-2 1h2"/><path stroke="#4a60d8" d="M0 0m1104 477h2m-2 1h2m-2 3h2m-3 1h3m0 1h2m-5 1h1m3 0h1m-7 1h1m2 0h2m-6 1h2m2 0h3m-5 1h4m1 0h1m-9 1h1m4 0h2m1 0h1m-9 1h1m-1 1h1m-3 1h1m-1 1h1m-2 1h1m9 0h1m-11 1h1m9 0h1m-12 1h1m11 0h2m-15 1h1m12 0h1m-13 1h1m10 0h1m-12 1h1m10 0h1m-13 1h1m11 0h1m-13 1h1m11 0h1m-1 1h1m-1 1h1m-1 1h1m-14 1h1m12 0h1m-15 1h1m12 0h2m-16 1h2m12 0h2m-16 2h1m0 1h1m12 0h1m-1 1h1m-16 1h1m13 0h1m-15 1h1m13 1h1m-15 1h1m12 0h2m-15 1h1m13 0h1m-15 1h1m12 0h2m-16 1h1m-1 1h1m13 0h1m-15 1h1m-1 1h1m-1 1h1m12 0h1m-1 1h1m-15 1h1m12 0h1m-1 1h1m-14 1h1m-1 1h1m11 0h1m-13 1h1m11 0h1m-14 2h1m-1 1h1m-1 1h1m11 0h1m-13 1h1m-1 1h1m9 0h1m-11 1h1m9 0h1m-11 1h2m-2 1h2m-2 1h1m8 0h1m-10 2h1m-1 1h2m6 0h1m-2 1h1m-2 1h2m-9 1h3m4 0h1m-8 1h3m3 0h2m-5 1h4m-4 1h3m-5 1h5m-5 1h3"/><path stroke="#40a8e0" d="M0 0m1104 483h2m-2 1h3m-5 1h2m-2 1h2m-4 1h2m4 0h1m-7 1h4m2 0h1m-7 1h8m-8 1h8m-10 1h10m-10 1h10m-11 1h4m1 0h4m-9 1h3m2 0h4m-10 1h3m6 0h2m-12 1h3m7 0h2m-11 1h2m7 0h1m-10 1h2m7 0h1m-11 1h2m8 0h1m-11 1h2m8 0h1m-12 1h2m2 0h1m5 0h2m-12 1h2m2 0h1m5 0h2m-12 1h4m5 0h1m1 0h1m-12 1h3m6 0h3m-13 1h3m7 0h2m-12 1h2m8 0h2m-13 1h3m9 0h1m-13 1h3m8 0h2m-12 1h2m8 0h2m-13 1h3m8 0h2m-14 1h3m9 0h1m-13 1h2m9 0h2m-13 1h3m8 0h2m-13 1h3m8 0h1m-12 1h1m10 0h2m-13 1h1m10 0h1m-13 1h3m9 0h2m-14 1h2m9 0h2m-11 1h1m9 0h1m-11 1h1m8 0h2m-13 1h2m9 0h1m-13 1h3m9 0h1m-13 1h2m9 0h1m-13 1h3m9 0h1m-12 1h2m9 0h1m-12 1h2m-2 1h1m9 0h1m-12 1h2m9 0h1m-12 1h3m8 0h1m-12 1h3m8 0h1m-12 1h3m7 0h1m-11 1h3m6 0h2m-11 1h1m1 0h2m4 0h1m-9 1h1m1 0h2m3 0h2m-8 1h2m3 0h2m1 0h1m-9 1h2m3 0h4m-10 1h6m-6 1h6m1 0h1m-8 1h4m2 0h2m-7 1h3m1 0h2m-7 1h6m-6 1h5m-4 1h4m-4 1h3"/><path stroke="#40b040" d="M0 0m1101 493h1m-2 1h2m-3 1h6m-7 1h7m-7 1h7m-7 1h7m-8 1h8m-8 1h8m-9 1h2m1 0h5m-8 1h2m1 0h1m2 0h2m-6 1h1m1 0h3m1 0h1m-8 1h1m2 0h3m-7 1h7m-8 1h2m1 0h5m-8 1h5m2 0h2m-9 1h4m3 0h1m-8 1h3m3 0h2m-8 1h2m4 0h2m-9 1h2m5 0h2m-10 1h3m5 0h1m-8 1h2m3 0h3m-8 1h2m3 0h3m-10 1h4m4 0h2m-10 1h3m5 0h2m-9 1h3m4 0h2m-10 1h4m4 0h1m-11 1h2m1 0h1m6 0h2m-12 1h2m1 0h1m6 0h1m-9 1h4m3 0h2m-9 1h4m3 0h2m-10 1h3m4 0h2m-9 1h3m4 0h2m-9 1h5m2 0h2m-9 1h5m2 0h2m-10 1h3m3 0h3m-9 1h3m3 0h3m-8 1h3m2 0h3m-8 1h8m-8 1h3m1 0h3m-7 1h6m-8 1h1m2 0h4m-7 1h1m2 0h3m-4 1h3m2 0h1m-6 1h3m0 1h2m-2 1h1m-3 1h2m-2 1h1"/><path stroke="#e82828" d="M0 0m1100 502h2m-3 1h1m-2 1h2m-3 2h1m2 1h2m-3 1h3m-4 1h3m-4 1h4m-5 1h5m-5 1h5m-5 1h3m-3 1h3m-3 1h4m-5 1h5m-4 1h4m-4 1h4m-6 1h6m-6 1h6m-4 1h3m-3 1h3m-5 1h4m-4 1h4m-2 1h2m-2 1h2m-5 1h3m-3 1h3m-2 1h2m-2 2h1"/></g>
<rect x="1117.2" y="415.0" width="57.3" height="23.8" fill="#fff" fill-opacity="1.0" stroke="#d4d4d4" stroke-width="1.3" rx="2.5"/>
<text x="1117.5" y="433.3" font-size="19.5" textLength="54.8" lengthAdjust="spacingAndGlyphs" fill="#000" stroke="#000" stroke-width="0.35">0.043%</text>
<rect x="1003.8" y="392.9" width="193.6" height="204.1" fill="none" stroke="#333" stroke-width="1.3"/>
<line x1="998.8" y1="597.0" x2="1003.8" y2="597.0" stroke="#333" stroke-width="1.2"/>
<text x="997.5" y="602.2" font-size="12.4" text-anchor="end" textLength="6.4" lengthAdjust="spacingAndGlyphs" stroke="#111" stroke-width="0.25">0</text>
<line x1="1001.6" y1="593.1" x2="1003.8" y2="593.1" stroke="#333" stroke-width="0.9"/>
<line x1="1001.6" y1="589.2" x2="1003.8" y2="589.2" stroke="#333" stroke-width="0.9"/>
<line x1="1001.6" y1="585.3" x2="1003.8" y2="585.3" stroke="#333" stroke-width="0.9"/>
<line x1="1001.6" y1="581.4" x2="1003.8" y2="581.4" stroke="#333" stroke-width="0.9"/>
<line x1="1001.6" y1="577.5" x2="1003.8" y2="577.5" stroke="#333" stroke-width="0.9"/>
<line x1="1001.6" y1="573.6" x2="1003.8" y2="573.6" stroke="#333" stroke-width="0.9"/>
<line x1="1001.6" y1="569.7" x2="1003.8" y2="569.7" stroke="#333" stroke-width="0.9"/>
<line x1="1001.6" y1="565.8" x2="1003.8" y2="565.8" stroke="#333" stroke-width="0.9"/>
<line x1="1001.6" y1="561.9" x2="1003.8" y2="561.9" stroke="#333" stroke-width="0.9"/>
<line x1="998.8" y1="558.0" x2="1003.8" y2="558.0" stroke="#333" stroke-width="1.2"/>
<text x="997.5" y="563.2" font-size="12.4" text-anchor="end" textLength="12.8" lengthAdjust="spacingAndGlyphs" stroke="#111" stroke-width="0.25">50</text>
<line x1="1001.6" y1="554.1" x2="1003.8" y2="554.1" stroke="#333" stroke-width="0.9"/>
<line x1="1001.6" y1="550.2" x2="1003.8" y2="550.2" stroke="#333" stroke-width="0.9"/>
<line x1="1001.6" y1="546.3" x2="1003.8" y2="546.3" stroke="#333" stroke-width="0.9"/>
<line x1="1001.6" y1="542.4" x2="1003.8" y2="542.4" stroke="#333" stroke-width="0.9"/>
<line x1="1001.6" y1="538.5" x2="1003.8" y2="538.5" stroke="#333" stroke-width="0.9"/>
<line x1="1001.6" y1="534.6" x2="1003.8" y2="534.6" stroke="#333" stroke-width="0.9"/>
<line x1="1001.6" y1="530.7" x2="1003.8" y2="530.7" stroke="#333" stroke-width="0.9"/>
<line x1="1001.6" y1="526.8" x2="1003.8" y2="526.8" stroke="#333" stroke-width="0.9"/>
<line x1="1001.6" y1="522.9" x2="1003.8" y2="522.9" stroke="#333" stroke-width="0.9"/>
<line x1="998.8" y1="519.0" x2="1003.8" y2="519.0" stroke="#333" stroke-width="1.2"/>
<text x="997.5" y="524.2" font-size="12.4" text-anchor="end" textLength="19.2" lengthAdjust="spacingAndGlyphs" stroke="#111" stroke-width="0.25">100</text>
<line x1="1001.6" y1="515.1" x2="1003.8" y2="515.1" stroke="#333" stroke-width="0.9"/>
<line x1="1001.6" y1="511.2" x2="1003.8" y2="511.2" stroke="#333" stroke-width="0.9"/>
<line x1="1001.6" y1="507.3" x2="1003.8" y2="507.3" stroke="#333" stroke-width="0.9"/>
<line x1="1001.6" y1="503.4" x2="1003.8" y2="503.4" stroke="#333" stroke-width="0.9"/>
<line x1="1001.6" y1="499.5" x2="1003.8" y2="499.5" stroke="#333" stroke-width="0.9"/>
<line x1="1001.6" y1="495.6" x2="1003.8" y2="495.6" stroke="#333" stroke-width="0.9"/>
<line x1="1001.6" y1="491.7" x2="1003.8" y2="491.7" stroke="#333" stroke-width="0.9"/>
<line x1="1001.6" y1="487.8" x2="1003.8" y2="487.8" stroke="#333" stroke-width="0.9"/>
<line x1="1001.6" y1="483.9" x2="1003.8" y2="483.9" stroke="#333" stroke-width="0.9"/>
<line x1="998.8" y1="480.0" x2="1003.8" y2="480.0" stroke="#333" stroke-width="1.2"/>
<text x="997.5" y="485.2" font-size="12.4" text-anchor="end" textLength="19.2" lengthAdjust="spacingAndGlyphs" stroke="#111" stroke-width="0.25">150</text>
<line x1="1001.6" y1="476.1" x2="1003.8" y2="476.1" stroke="#333" stroke-width="0.9"/>
<line x1="1001.6" y1="472.2" x2="1003.8" y2="472.2" stroke="#333" stroke-width="0.9"/>
<line x1="1001.6" y1="468.3" x2="1003.8" y2="468.3" stroke="#333" stroke-width="0.9"/>
<line x1="1001.6" y1="464.4" x2="1003.8" y2="464.4" stroke="#333" stroke-width="0.9"/>
<line x1="1001.6" y1="460.5" x2="1003.8" y2="460.5" stroke="#333" stroke-width="0.9"/>
<line x1="1001.6" y1="456.6" x2="1003.8" y2="456.6" stroke="#333" stroke-width="0.9"/>
<line x1="1001.6" y1="452.7" x2="1003.8" y2="452.7" stroke="#333" stroke-width="0.9"/>
<line x1="1001.6" y1="448.8" x2="1003.8" y2="448.8" stroke="#333" stroke-width="0.9"/>
<line x1="1001.6" y1="444.9" x2="1003.8" y2="444.9" stroke="#333" stroke-width="0.9"/>
<line x1="998.8" y1="441.0" x2="1003.8" y2="441.0" stroke="#333" stroke-width="1.2"/>
<text x="997.5" y="446.2" font-size="12.4" text-anchor="end" textLength="19.2" lengthAdjust="spacingAndGlyphs" stroke="#111" stroke-width="0.25">200</text>
<line x1="1001.6" y1="437.1" x2="1003.8" y2="437.1" stroke="#333" stroke-width="0.9"/>
<line x1="1001.6" y1="433.2" x2="1003.8" y2="433.2" stroke="#333" stroke-width="0.9"/>
<line x1="1001.6" y1="429.3" x2="1003.8" y2="429.3" stroke="#333" stroke-width="0.9"/>
<line x1="1001.6" y1="425.4" x2="1003.8" y2="425.4" stroke="#333" stroke-width="0.9"/>
<line x1="1001.6" y1="421.5" x2="1003.8" y2="421.5" stroke="#333" stroke-width="0.9"/>
<line x1="1001.6" y1="417.6" x2="1003.8" y2="417.6" stroke="#333" stroke-width="0.9"/>
<line x1="1001.6" y1="413.7" x2="1003.8" y2="413.7" stroke="#333" stroke-width="0.9"/>
<line x1="1001.6" y1="409.8" x2="1003.8" y2="409.8" stroke="#333" stroke-width="0.9"/>
<line x1="1001.6" y1="405.9" x2="1003.8" y2="405.9" stroke="#333" stroke-width="0.9"/>
<line x1="998.8" y1="402.0" x2="1003.8" y2="402.0" stroke="#333" stroke-width="1.2"/>
<text x="997.5" y="407.2" font-size="12.4" text-anchor="end" textLength="19.2" lengthAdjust="spacingAndGlyphs" stroke="#111" stroke-width="0.25">250</text>
<line x1="1001.6" y1="398.1" x2="1003.8" y2="398.1" stroke="#333" stroke-width="0.9"/>
<line x1="1026.7" y1="597.0" x2="1026.7" y2="599.2" stroke="#333" stroke-width="0.9"/>
<line x1="1030.3" y1="597.0" x2="1030.3" y2="599.2" stroke="#333" stroke-width="0.9"/>
<line x1="1033.7" y1="597.0" x2="1033.7" y2="599.2" stroke="#333" stroke-width="0.9"/>
<line x1="1036.8" y1="597.0" x2="1036.8" y2="599.2" stroke="#333" stroke-width="0.9"/>
<line x1="1039.6" y1="597.0" x2="1039.6" y2="599.2" stroke="#333" stroke-width="0.9"/>
<line x1="1042.1" y1="597.0" x2="1042.1" y2="599.2" stroke="#333" stroke-width="0.9"/>
<line x1="1044.4" y1="597.0" x2="1044.4" y2="599.2" stroke="#333" stroke-width="0.9"/>
<line x1="1046.5" y1="597.0" x2="1046.5" y2="599.2" stroke="#333" stroke-width="0.9"/>
<line x1="1048.4" y1="597.0" x2="1048.4" y2="599.2" stroke="#333" stroke-width="0.9"/>
<line x1="1050.2" y1="597.0" x2="1050.2" y2="599.2" stroke="#333" stroke-width="0.9"/>
<line x1="1062.6" y1="597.0" x2="1062.6" y2="599.2" stroke="#333" stroke-width="0.9"/>
<line x1="1070.1" y1="597.0" x2="1070.1" y2="599.2" stroke="#333" stroke-width="0.9"/>
<line x1="1075.5" y1="597.0" x2="1075.5" y2="599.2" stroke="#333" stroke-width="0.9"/>
<line x1="1079.7" y1="597.0" x2="1079.7" y2="599.2" stroke="#333" stroke-width="0.9"/>
<line x1="1083.1" y1="597.0" x2="1083.1" y2="599.2" stroke="#333" stroke-width="0.9"/>
<line x1="1086.1" y1="597.0" x2="1086.1" y2="599.2" stroke="#333" stroke-width="0.9"/>
<line x1="1088.6" y1="597.0" x2="1088.6" y2="599.2" stroke="#333" stroke-width="0.9"/>
<line x1="1090.8" y1="597.0" x2="1090.8" y2="599.2" stroke="#333" stroke-width="0.9"/>
<line x1="1092.8" y1="597.0" x2="1092.8" y2="602.0" stroke="#333" stroke-width="1.2"/>
<line x1="1106.0" y1="597.0" x2="1106.0" y2="599.2" stroke="#333" stroke-width="0.9"/>
<line x1="1113.7" y1="597.0" x2="1113.7" y2="599.2" stroke="#333" stroke-width="0.9"/>
<line x1="1119.1" y1="597.0" x2="1119.1" y2="599.2" stroke="#333" stroke-width="0.9"/>
<line x1="1123.3" y1="597.0" x2="1123.3" y2="599.2" stroke="#333" stroke-width="0.9"/>
<line x1="1126.8" y1="597.0" x2="1126.8" y2="599.2" stroke="#333" stroke-width="0.9"/>
<line x1="1129.7" y1="597.0" x2="1129.7" y2="599.2" stroke="#333" stroke-width="0.9"/>
<line x1="1132.3" y1="597.0" x2="1132.3" y2="599.2" stroke="#333" stroke-width="0.9"/>
<line x1="1134.5" y1="597.0" x2="1134.5" y2="599.2" stroke="#333" stroke-width="0.9"/>
<line x1="1136.5" y1="597.0" x2="1136.5" y2="602.0" stroke="#333" stroke-width="1.2"/>
<line x1="1149.7" y1="597.0" x2="1149.7" y2="599.2" stroke="#333" stroke-width="0.9"/>
<line x1="1157.4" y1="597.0" x2="1157.4" y2="599.2" stroke="#333" stroke-width="0.9"/>
<line x1="1162.8" y1="597.0" x2="1162.8" y2="599.2" stroke="#333" stroke-width="0.9"/>
<line x1="1167.0" y1="597.0" x2="1167.0" y2="599.2" stroke="#333" stroke-width="0.9"/>
<line x1="1170.5" y1="597.0" x2="1170.5" y2="599.2" stroke="#333" stroke-width="0.9"/>
<line x1="1173.4" y1="597.0" x2="1173.4" y2="599.2" stroke="#333" stroke-width="0.9"/>
<line x1="1176.0" y1="597.0" x2="1176.0" y2="599.2" stroke="#333" stroke-width="0.9"/>
<line x1="1178.2" y1="597.0" x2="1178.2" y2="599.2" stroke="#333" stroke-width="0.9"/>
<line x1="1180.2" y1="597.0" x2="1180.2" y2="602.0" stroke="#333" stroke-width="1.2"/>
<line x1="1193.4" y1="597.0" x2="1193.4" y2="599.2" stroke="#333" stroke-width="0.9"/>
<line x1="1023.0" y1="597.0" x2="1023.0" y2="602.0" stroke="#333" stroke-width="1.2"/>
<text x="1023.0" y="616.3" font-size="12.3" text-anchor="middle" textLength="5.6" lengthAdjust="spacingAndGlyphs" stroke="#111" stroke-width="0.25">0</text>
<text x="1084.2" y="616.3" font-size="12.3" textLength="11.0" lengthAdjust="spacingAndGlyphs" stroke="#111" stroke-width="0.25">10</text>
<text x="1095.9" y="611.1" font-size="7.995000000000001" textLength="4.2" lengthAdjust="spacingAndGlyphs" stroke="#111" stroke-width="0.15">3</text>
<text x="1128.1" y="616.3" font-size="12.3" textLength="11.0" lengthAdjust="spacingAndGlyphs" stroke="#111" stroke-width="0.25">10</text>
<text x="1139.8" y="611.1" font-size="7.995000000000001" textLength="4.2" lengthAdjust="spacingAndGlyphs" stroke="#111" stroke-width="0.15">4</text>
<text x="1171.6" y="616.3" font-size="12.3" textLength="11.0" lengthAdjust="spacingAndGlyphs" stroke="#111" stroke-width="0.25">10</text>
<text x="1183.3" y="611.1" font-size="7.995000000000001" textLength="4.2" lengthAdjust="spacingAndGlyphs" stroke="#111" stroke-width="0.15">5</text>
<g transform="translate(965.5 448.3) rotate(-90)"><text x="0" y="0" font-size="11.8" textLength="30.7" lengthAdjust="spacingAndGlyphs" stroke="#111" stroke-width="0.2">(x 10</text><text x="31.4" y="-5.0" font-size="7.3" stroke="#111" stroke-width="0.15">3</text><text x="36.2" y="0" font-size="11.8" textLength="4.4" lengthAdjust="spacingAndGlyphs" stroke="#111" stroke-width="0.2">)</text></g>
<text x="943.4" y="493.4" font-size="18.3" text-anchor="middle" textLength="46.8" lengthAdjust="spacingAndGlyphs" stroke="#111" stroke-width="0.4" transform="rotate(-90 943.4 493.4)">SSC-A</text>
<text x="1100.9" y="641.4" font-size="18.3" text-anchor="middle" textLength="38.7" lengthAdjust="spacingAndGlyphs" stroke="#111" stroke-width="0.4">CD48</text>
<rect x="1117.2" y="415.0" width="77.2" height="152.4" fill="none" stroke="#333" stroke-width="1.3"/>
<text x="5.8" y="685.4" font-size="21" textLength="15.2" lengthAdjust="spacingAndGlyphs" font-weight="bold" fill="#000">D</text>
<text x="320.4" y="718.3" font-size="23" textLength="61.4" lengthAdjust="spacingAndGlyphs" fill="#000">uAPC</text>
<g transform="translate(0 0.5)" fill="none" stroke-width="1" shape-rendering="crispEdges"><path stroke="#555555" d="M0 0m226 747h1m39 1h1m-25 1h1m18 0h1m-10 1h2m3 0h1m-8 1h1m-21 1h1m11 0h2m1 0h1m13 0h1m1 0h1m-35 1h1m13 0h1m1 0h1m2 0h1m4 0h1m7 0h1m3 0h3m-35 1h1m3 0h1m2 0h1m6 0h1m2 0h3m6 0h2m6 0h2m3 0h1m-44 1h1m1 0h2m4 0h4m1 0h1m1 0h1m1 0h4m1 0h3m1 0h1m1 0h1m3 0h1m3 0h1m3 0h1m-48 1h1m5 0h3m2 0h4m20 0h3m1 0h3m1 0h1m-53 1h1m5 0h1m2 0h2m2 0h1m1 0h3m30 0h1m2 0h2m1 0h1m2 0h1m1 0h1m3 0h1m-62 1h2m3 0h6m35 0h3m5 0h1m-53 1h1m1 0h1m1 0h1m41 0h2m1 0h1m1 0h1m2 0h1m1 0h1m5 0h1m-82 1h1m12 0h1m1 0h1m3 0h2m46 0h3m13 0h1m-84 1h1m6 0h1m3 0h1m1 0h1m1 0h2m50 0h2m4 0h1m-66 1h1m1 0h4m53 0h1m1 0h1m2 0h2m-72 1h1m4 0h2m58 0h1m1 0h1m-78 1h1m4 0h1m2 0h2m1 0h4m61 0h1m1 0h1m1 0h1m1 0h1m-92 1h1m14 0h2m1 0h1m1 0h1m64 0h2m1 0h1m3 0h1m-84 1h1m2 0h6m67 0h6m-78 1h1m72 0h1m7 0h2m3 0h1m-14 1h1m-86 1h1m1 0h1m2 0h3m79 0h1m1 0h1m-99 1h1m10 0h4m79 0h2m2 0h3m-100 1h1m5 0h4m1 0h1m81 0h2m4 0h1m8 0h1m-110 1h1m5 0h1m2 0h2m82 0h2m2 0h1m7 0h1m10 0h1m-112 1h2m1 0h1m85 0h1m1 0h1m1 0h2m-100 1h2m2 0h3m85 0h1m2 0h1m3 0h2m6 0h1m-107 1h4m-6 1h1m1 0h2m90 0h1m1 0h2m-106 1h1m1 0h1m4 0h1m1 0h2m88 0h7m-104 1h1m5 0h1m91 0h1m1 0h2m3 0h1m4 0h1m-112 1h1m4 0h1m91 0h1m1 0h1m-101 1h2m-11 1h1m4 0h1m5 0h2m94 0h1m2 0h2m-108 1h1m1 0h1m4 0h2m90 0h1m2 0h1m3 0h1m-105 1h1m2 0h1m1 0h1m90 0h2m1 0h3m-101 1h1m92 0h2m6 0h1m-102 1h4m89 0h1m-98 1h1m1 0h4m88 0h3m16 0h1m-129 1h1m11 0h1m2 0h1m92 0h2m2 0h2m2 0h1m-101 1h2m2 0h1m89 0h1m-103 1h1m3 0h1m2 0h1m2 0h3m84 0h1m2 0h1m-92 1h3m81 0h4m-92 1h1m1 0h1m82 0h1m3 0h2m2 0h1m-95 1h2m1 0h4m78 0h1m2 0h1m3 0h2m-101 1h1m9 0h1m2 0h2m74 0h2m4 0h1m-87 1h1m1 0h1m1 0h2m71 0h3m4 0h2m-94 1h2m1 0h1m8 0h1m1 0h1m67 0h1m1 0h2m3 0h1m-88 1h1m4 0h2m4 0h1m65 0h1m1 0h3m1 0h1m1 0h2m-85 1h1m9 0h1m61 0h1m1 0h3m12 0h1m-89 1h1m4 0h1m2 0h1m1 0h1m59 0h2m4 0h1m-73 1h1m1 0h1m57 0h1m2 0h1m2 0h2m-67 1h1m2 0h3m50 0h3m1 0h1m1 0h1m-58 1h1m47 0h1m1 0h2m-59 1h1m2 0h2m2 0h3m41 0h1m3 0h2m-63 1h1m7 0h1m2 0h1m3 0h1m1 0h1m38 0h1m3 0h1m-47 1h1m2 0h1m30 0h2m4 0h1m1 0h1m2 0h1m3 0h1m-68 1h1m13 0h1m1 0h1m1 0h1m29 0h1m5 0h1m2 0h4m14 0h1m2 0h1m-71 1h1m11 0h3m3 0h2m2 0h1m6 0h2m1 0h1m3 0h2m2 0h2m4 0h1m3 0h1m-49 1h1m12 0h1m2 0h1m1 0h1m4 0h1m2 0h3m2 0h1m7 0h1m2 0h1m-45 1h1m7 0h1m2 0h1m3 0h1m5 0h2m8 0h1m2 0h1m1 0h1m9 0h1m-45 1h1m5 0h1m11 0h1m1 0h1m4 0h1m5 0h1m3 0h2m15 0h1m-53 1h1m13 0h1m2 0h1m2 0h1m4 0h1m7 0h1m7 0h1m-28 1h1m5 0h1m8 0h1m2 0h1m5 0h1m-20 1h2m1 0h1m32 0h1m-14 1h1m-29 2h1m10 0h2m9 0h1m1 0h1m-43 1h1m18 0h1m13 0h1m-25 1h2m16 0h2m6 0h1m2 0h1m-23 1h1m11 0h1m4 0h1m-16 1h1m7 1h1m7 0h1m13 0h1m-35 1h2m31 0h1m-46 1h1m13 0h1m6 1h1m-14 1h1m2 0h1m3 0h2m9 0h1m2 0h1m10 0h1m1 0h1m16 0h1m-30 1h1m-3 1h1m16 0h1m3 0h1m7 1h1m11 0h1m-60 1h1m14 0h1m2 0h1m-35 2h1m24 0h1m-9 1h1m2 1h1m-4 1h1m-21 1h1m16 0h1m9 0h1m18 0h1m-7 1h1m8 0h1m28 0h1m-53 1h1m31 1h1m-56 1h1m-13 2h1m24 0h1m43 1h1m1 4h1m-68 1h1m-3 2h1m22 2h1m5 2h1m7 1h1"/><path stroke="#111111" d="M0 0m235 756h1m1 0h4m1 0h1m1 0h1m1 0h3m2 0h2m-24 1h3m1 0h2m1 0h4m1 0h2m1 0h5m1 0h1m2 0h1m1 0h2m-33 1h1m1 0h2m1 0h3m1 0h14m3 0h9m-39 1h7m1 0h11m1 0h3m1 0h3m1 0h11m-42 1h6m1 0h7m1 0h9m1 0h19m-48 1h2m3 0h32m1 0h5m1 0h2m1 0h2m-48 1h9m1 0h12m1 0h7m1 0h13m2 0h3m-57 1h2m1 0h2m1 0h7m1 0h31m1 0h9m1 0h1m-60 1h15m1 0h8m1 0h4m1 0h15m1 0h9m1 0h3m-62 1h5m1 0h37m1 0h7m1 0h7m1 0h2m-63 1h25m6 0h2m2 0h2m1 0h26m-68 1h1m1 0h14m1 0h8m13 0h1m8 0h1m1 0h21m-73 1h6m1 0h5m1 0h9m2 0h1m25 0h14m1 0h4m2 0h1m-74 1h6m1 0h15m32 0h2m1 0h14m1 0h2m-77 1h20m1 0h2m34 0h18m1 0h2m-81 1h1m2 0h15m1 0h2m38 0h17m2 0h1m-81 1h19m1 0h1m40 0h7m1 0h13m-84 1h2m1 0h17m44 0h17m1 0h1m-83 1h18m45 0h11m1 0h6m1 0h1m-87 1h1m1 0h1m1 0h2m1 0h2m1 0h7m1 0h3m47 0h2m1 0h13m1 0h2m-88 1h7m1 0h10m50 0h1m1 0h9m1 0h5m-87 1h4m1 0h1m1 0h1m1 0h10m50 0h7m1 0h8m1 0h1m-87 1h12m1 0h4m52 0h6m1 0h6m1 0h1m1 0h1m1 0h1m-91 1h9m1 0h5m2 0h1m53 0h12m1 0h6m-91 1h19m52 0h8m1 0h7m1 0h2m-92 1h18m52 0h20m-90 1h12m1 0h2m2 0h1m51 0h11m1 0h7m-90 1h8m1 0h12m48 0h3m1 0h13m3 0h1m-90 1h3m1 0h16m48 0h3m2 0h12m1 0h2m-88 1h2m1 0h2m1 0h13m46 0h9m1 0h1m1 0h8m1 0h1m-89 1h10m1 0h10m45 0h16m1 0h4m-88 1h2m1 0h6m1 0h12m42 0h6m1 0h12m2 0h1m-86 1h20m1 0h1m38 0h5m2 0h2m1 0h10m1 0h3m-84 1h1m1 0h6m1 0h10m1 0h1m1 0h1m37 0h17m1 0h2m1 0h1m-82 1h3m1 0h1m1 0h18m33 0h9m1 0h7m1 0h5m-80 1h1m1 0h1m1 0h1m1 0h1m1 0h5m1 0h10m25 0h1m4 0h2m3 0h5m1 0h11m-75 1h2m1 0h18m1 0h3m20 0h18m1 0h4m2 0h1m1 0h2m-76 1h3m1 0h2m1 0h2m1 0h21m2 0h4m4 0h2m1 0h9m1 0h12m1 0h6m-72 1h13m1 0h11m1 0h15m1 0h5m1 0h9m1 0h2m1 0h1m1 0h7m-70 1h16m1 0h23m1 0h1m1 0h20m1 0h1m-64 1h1m1 0h2m1 0h1m1 0h5m1 0h3m1 0h4m1 0h15m1 0h18m1 0h3m1 0h1m-63 1h3m1 0h13m1 0h18m1 0h4m1 0h19m-60 1h4m1 0h24m1 0h1m1 0h9m1 0h4m1 0h2m1 0h4m2 0h1m-56 1h1m1 0h10m1 0h3m1 0h10m1 0h1m2 0h19m-50 1h3m2 0h1m1 0h8m1 0h5m1 0h27m-49 1h1m1 0h2m1 0h3m1 0h1m1 0h3m1 0h1m1 0h14m1 0h3m1 0h7m1 0h2m-45 1h5m2 0h2m1 0h25m1 0h2m2 0h1m-39 1h3m2 0h1m1 0h10m2 0h12m2 0h1m-32 1h2m2 0h10m1 0h2m1 0h2m2 0h1m1 0h1m1 0h2m-25 1h5m1 0h1m1 0h4m1 0h2m1 0h4m-14 1h4"/><path stroke="#bd42bd" d="M0 0m224 766h6m2 0h2m-14 1h13m1 0h8m-28 1h2m1 0h9m2 0h14m-30 1h16m8 0h8m-37 1h1m2 0h8m2 0h2m2 0h2m10 0h8m-39 1h6m27 0h5m-42 1h1m1 0h6m29 0h5m-43 1h4m34 0h6m-46 1h5m35 0h5m-46 1h7m32 0h8m-51 1h6m37 0h7m-51 1h6m40 0h4m-52 1h4m2 0h1m40 0h5m-54 1h5m1 0h1m41 0h5m-53 1h4m41 0h1m2 0h4m-54 1h5m1 0h1m39 0h5m-52 1h6m39 0h6m-50 1h6m36 0h6m-49 1h7m34 0h7m-49 1h5m1 0h2m33 0h5m-46 1h5m1 0h2m30 0h7m-45 1h4m2 0h1m29 0h6m-42 1h4m2 0h1m25 0h6m-39 1h1m1 0h8m19 0h8m-34 1h8m2 0h2m4 0h2m3 0h1m2 0h8m-32 1h25m1 0h4m-28 1h20m-16 1h2m4 0h2m4 0h1"/><path stroke="#4a60d8" d="M0 0m226 768h2m0 1h8m-18 1h2m2 0h2m2 0h4m3 0h1m-23 1h7m15 0h5m-29 1h2m23 0h4m-34 1h3m3 0h2m-9 1h1m30 1h2m-37 1h5m30 0h2m-38 1h2m31 0h1m4 0h2m-44 1h2m1 0h2m31 0h2m4 0h1m-44 1h1m1 0h2m34 0h3m1 0h1m-44 1h1m1 0h2m34 0h3m1 0h2m-45 1h1m1 0h1m36 0h2m-41 1h3m35 0h1m-38 1h1m33 0h2m-36 1h1m32 0h1m-37 1h1m2 0h2m28 0h3m-36 1h1m2 0h2m24 0h4m-34 1h2m1 0h1m24 0h4m-32 1h2m1 0h2m1 0h1m15 0h6m-23 1h5m4 0h2m6 0h2m-18 1h2m4 0h2m2 0h3m1 0h2"/><path stroke="#40a8e0" d="M0 0m230 770h3m1 0h2m-18 1h15m-22 1h13m1 0h9m-27 1h3m2 0h10m4 0h12m-34 1h8m2 0h2m2 0h2m6 0h12m-34 1h6m16 0h8m-30 1h6m17 0h7m-34 1h6m22 0h3m1 0h4m-37 1h4m1 0h2m22 0h2m2 0h4m-39 1h5m26 0h3m3 0h1m-42 1h1m2 0h3m1 0h1m23 0h2m1 0h3m-36 1h6m24 0h6m-36 1h5m24 0h6m-36 1h5m21 0h1m2 0h4m-33 1h5m19 0h3m2 0h3m-31 1h4m19 0h5m-28 1h5m13 0h6m-26 1h9m3 0h12m-23 1h1m1 0h15m-12 1h4m2 0h6m-12 1h2"/><path stroke="#40b040" d="M0 0m224 772h1m-3 1h4m-14 1h2m2 0h2m2 0h6m-16 1h16m-16 1h17m-21 1h5m7 0h10m-25 1h1m2 0h4m8 0h10m-26 1h3m1 0h2m14 0h6m-29 1h1m1 0h3m18 0h2m2 0h1m-27 1h4m14 0h6m-25 1h5m13 0h6m-25 1h4m6 0h2m3 0h6m1 0h2m-24 1h4m2 0h2m2 0h2m1 0h6m3 0h2m-24 1h12m1 0h6m-18 1h13m-11 1h3"/><path stroke="#e82828" d="M0 0m211 777h7m-8 1h8m-13 1h1m2 0h14m-18 1h18m-18 1h14m-14 1h13m-15 1h6m2 0h3m-11 1h2m2 0h2m2 0h1m-1 1h1"/></g>
<rect x="204.4" y="740.9" width="60.1" height="21.3" fill="#fff" fill-opacity="1.0" stroke="#d4d4d4" stroke-width="1.3" rx="2.5"/>
<text x="204.8" y="756.6" font-size="16.5" textLength="57.7" lengthAdjust="spacingAndGlyphs" fill="#000" stroke="#000" stroke-width="0.35">63.155%</text>
<rect x="104.3" y="740.7" width="201.0" height="202.9" fill="none" stroke="#333" stroke-width="1.3"/>
<line x1="204.4" y1="740.7" x2="204.4" y2="943.6" stroke="#333" stroke-width="1.3"/>
<line x1="104.3" y1="806.0" x2="305.3" y2="806.0" stroke="#333" stroke-width="1.3"/>
<line x1="102.1" y1="920.8" x2="104.3" y2="920.8" stroke="#333" stroke-width="0.9"/>
<line x1="102.1" y1="917.1" x2="104.3" y2="917.1" stroke="#333" stroke-width="0.9"/>
<line x1="102.1" y1="913.7" x2="104.3" y2="913.7" stroke="#333" stroke-width="0.9"/>
<line x1="102.1" y1="910.6" x2="104.3" y2="910.6" stroke="#333" stroke-width="0.9"/>
<line x1="102.1" y1="907.7" x2="104.3" y2="907.7" stroke="#333" stroke-width="0.9"/>
<line x1="102.1" y1="905.1" x2="104.3" y2="905.1" stroke="#333" stroke-width="0.9"/>
<line x1="102.1" y1="902.7" x2="104.3" y2="902.7" stroke="#333" stroke-width="0.9"/>
<line x1="102.1" y1="900.6" x2="104.3" y2="900.6" stroke="#333" stroke-width="0.9"/>
<line x1="102.1" y1="898.6" x2="104.3" y2="898.6" stroke="#333" stroke-width="0.9"/>
<line x1="99.3" y1="896.7" x2="104.3" y2="896.7" stroke="#333" stroke-width="1.2"/>
<line x1="102.1" y1="883.8" x2="104.3" y2="883.8" stroke="#333" stroke-width="0.9"/>
<line x1="102.1" y1="875.9" x2="104.3" y2="875.9" stroke="#333" stroke-width="0.9"/>
<line x1="102.1" y1="870.2" x2="104.3" y2="870.2" stroke="#333" stroke-width="0.9"/>
<line x1="102.1" y1="865.8" x2="104.3" y2="865.8" stroke="#333" stroke-width="0.9"/>
<line x1="102.1" y1="862.2" x2="104.3" y2="862.2" stroke="#333" stroke-width="0.9"/>
<line x1="102.1" y1="859.1" x2="104.3" y2="859.1" stroke="#333" stroke-width="0.9"/>
<line x1="102.1" y1="856.4" x2="104.3" y2="856.4" stroke="#333" stroke-width="0.9"/>
<line x1="102.1" y1="854.1" x2="104.3" y2="854.1" stroke="#333" stroke-width="0.9"/>
<line x1="99.3" y1="852.0" x2="104.3" y2="852.0" stroke="#333" stroke-width="1.2"/>
<line x1="102.1" y1="838.1" x2="104.3" y2="838.1" stroke="#333" stroke-width="0.9"/>
<line x1="102.1" y1="830.1" x2="104.3" y2="830.1" stroke="#333" stroke-width="0.9"/>
<line x1="102.1" y1="824.3" x2="104.3" y2="824.3" stroke="#333" stroke-width="0.9"/>
<line x1="102.1" y1="819.8" x2="104.3" y2="819.8" stroke="#333" stroke-width="0.9"/>
<line x1="102.1" y1="816.2" x2="104.3" y2="816.2" stroke="#333" stroke-width="0.9"/>
<line x1="102.1" y1="813.1" x2="104.3" y2="813.1" stroke="#333" stroke-width="0.9"/>
<line x1="102.1" y1="810.5" x2="104.3" y2="810.5" stroke="#333" stroke-width="0.9"/>
<line x1="102.1" y1="808.1" x2="104.3" y2="808.1" stroke="#333" stroke-width="0.9"/>
<line x1="99.3" y1="806.0" x2="104.3" y2="806.0" stroke="#333" stroke-width="1.2"/>
<line x1="102.1" y1="792.2" x2="104.3" y2="792.2" stroke="#333" stroke-width="0.9"/>
<line x1="102.1" y1="784.1" x2="104.3" y2="784.1" stroke="#333" stroke-width="0.9"/>
<line x1="102.1" y1="778.3" x2="104.3" y2="778.3" stroke="#333" stroke-width="0.9"/>
<line x1="102.1" y1="773.8" x2="104.3" y2="773.8" stroke="#333" stroke-width="0.9"/>
<line x1="102.1" y1="770.2" x2="104.3" y2="770.2" stroke="#333" stroke-width="0.9"/>
<line x1="102.1" y1="767.1" x2="104.3" y2="767.1" stroke="#333" stroke-width="0.9"/>
<line x1="102.1" y1="764.5" x2="104.3" y2="764.5" stroke="#333" stroke-width="0.9"/>
<line x1="102.1" y1="762.1" x2="104.3" y2="762.1" stroke="#333" stroke-width="0.9"/>
<line x1="99.3" y1="760.0" x2="104.3" y2="760.0" stroke="#333" stroke-width="1.2"/>
<line x1="102.1" y1="746.2" x2="104.3" y2="746.2" stroke="#333" stroke-width="0.9"/>
<line x1="99.3" y1="924.5" x2="104.3" y2="924.5" stroke="#333" stroke-width="1.2"/>
<text x="97.6" y="928.9" font-size="12.3" text-anchor="end" textLength="5.8" lengthAdjust="spacingAndGlyphs" stroke="#111" stroke-width="0.25">0</text>
<text x="91.8" y="905.8" font-size="12.3" text-anchor="end" textLength="10.8" lengthAdjust="spacingAndGlyphs" stroke="#111" stroke-width="0.25">10</text>
<text x="92.7" y="900.3" font-size="7.995000000000001" textLength="4.0" lengthAdjust="spacingAndGlyphs" stroke="#111" stroke-width="0.15">2</text>
<text x="91.8" y="856.5" font-size="12.3" text-anchor="end" textLength="10.8" lengthAdjust="spacingAndGlyphs" stroke="#111" stroke-width="0.25">10</text>
<text x="92.7" y="851.0" font-size="7.995000000000001" textLength="4.0" lengthAdjust="spacingAndGlyphs" stroke="#111" stroke-width="0.15">3</text>
<text x="91.8" y="810.9" font-size="12.3" text-anchor="end" textLength="10.8" lengthAdjust="spacingAndGlyphs" stroke="#111" stroke-width="0.25">10</text>
<text x="92.7" y="805.4" font-size="7.995000000000001" textLength="4.0" lengthAdjust="spacingAndGlyphs" stroke="#111" stroke-width="0.15">4</text>
<text x="91.8" y="764.5" font-size="12.3" text-anchor="end" textLength="10.8" lengthAdjust="spacingAndGlyphs" stroke="#111" stroke-width="0.25">10</text>
<text x="92.7" y="759.0" font-size="7.995000000000001" textLength="4.0" lengthAdjust="spacingAndGlyphs" stroke="#111" stroke-width="0.15">5</text>
<line x1="128.1" y1="943.6" x2="128.1" y2="945.8" stroke="#333" stroke-width="0.9"/>
<line x1="131.5" y1="943.6" x2="131.5" y2="945.8" stroke="#333" stroke-width="0.9"/>
<line x1="134.8" y1="943.6" x2="134.8" y2="945.8" stroke="#333" stroke-width="0.9"/>
<line x1="137.8" y1="943.6" x2="137.8" y2="945.8" stroke="#333" stroke-width="0.9"/>
<line x1="140.6" y1="943.6" x2="140.6" y2="945.8" stroke="#333" stroke-width="0.9"/>
<line x1="143.2" y1="943.6" x2="143.2" y2="945.8" stroke="#333" stroke-width="0.9"/>
<line x1="145.5" y1="943.6" x2="145.5" y2="945.8" stroke="#333" stroke-width="0.9"/>
<line x1="147.6" y1="943.6" x2="147.6" y2="945.8" stroke="#333" stroke-width="0.9"/>
<line x1="149.5" y1="943.6" x2="149.5" y2="945.8" stroke="#333" stroke-width="0.9"/>
<line x1="151.3" y1="943.6" x2="151.3" y2="945.8" stroke="#333" stroke-width="0.9"/>
<line x1="164.1" y1="943.6" x2="164.1" y2="945.8" stroke="#333" stroke-width="0.9"/>
<line x1="171.9" y1="943.6" x2="171.9" y2="945.8" stroke="#333" stroke-width="0.9"/>
<line x1="177.5" y1="943.6" x2="177.5" y2="945.8" stroke="#333" stroke-width="0.9"/>
<line x1="181.9" y1="943.6" x2="181.9" y2="945.8" stroke="#333" stroke-width="0.9"/>
<line x1="185.4" y1="943.6" x2="185.4" y2="945.8" stroke="#333" stroke-width="0.9"/>
<line x1="188.5" y1="943.6" x2="188.5" y2="945.8" stroke="#333" stroke-width="0.9"/>
<line x1="191.1" y1="943.6" x2="191.1" y2="945.8" stroke="#333" stroke-width="0.9"/>
<line x1="193.4" y1="943.6" x2="193.4" y2="945.8" stroke="#333" stroke-width="0.9"/>
<line x1="195.5" y1="943.6" x2="195.5" y2="948.6" stroke="#333" stroke-width="1.2"/>
<line x1="209.2" y1="943.6" x2="209.2" y2="945.8" stroke="#333" stroke-width="0.9"/>
<line x1="217.2" y1="943.6" x2="217.2" y2="945.8" stroke="#333" stroke-width="0.9"/>
<line x1="222.9" y1="943.6" x2="222.9" y2="945.8" stroke="#333" stroke-width="0.9"/>
<line x1="227.3" y1="943.6" x2="227.3" y2="945.8" stroke="#333" stroke-width="0.9"/>
<line x1="230.9" y1="943.6" x2="230.9" y2="945.8" stroke="#333" stroke-width="0.9"/>
<line x1="234.0" y1="943.6" x2="234.0" y2="945.8" stroke="#333" stroke-width="0.9"/>
<line x1="236.6" y1="943.6" x2="236.6" y2="945.8" stroke="#333" stroke-width="0.9"/>
<line x1="238.9" y1="943.6" x2="238.9" y2="945.8" stroke="#333" stroke-width="0.9"/>
<line x1="241.0" y1="943.6" x2="241.0" y2="948.6" stroke="#333" stroke-width="1.2"/>
<line x1="254.7" y1="943.6" x2="254.7" y2="945.8" stroke="#333" stroke-width="0.9"/>
<line x1="262.7" y1="943.6" x2="262.7" y2="945.8" stroke="#333" stroke-width="0.9"/>
<line x1="268.4" y1="943.6" x2="268.4" y2="945.8" stroke="#333" stroke-width="0.9"/>
<line x1="272.8" y1="943.6" x2="272.8" y2="945.8" stroke="#333" stroke-width="0.9"/>
<line x1="276.4" y1="943.6" x2="276.4" y2="945.8" stroke="#333" stroke-width="0.9"/>
<line x1="279.5" y1="943.6" x2="279.5" y2="945.8" stroke="#333" stroke-width="0.9"/>
<line x1="282.1" y1="943.6" x2="282.1" y2="945.8" stroke="#333" stroke-width="0.9"/>
<line x1="284.4" y1="943.6" x2="284.4" y2="945.8" stroke="#333" stroke-width="0.9"/>
<line x1="286.5" y1="943.6" x2="286.5" y2="948.6" stroke="#333" stroke-width="1.2"/>
<line x1="300.2" y1="943.6" x2="300.2" y2="945.8" stroke="#333" stroke-width="0.9"/>
<line x1="124.5" y1="943.6" x2="124.5" y2="948.6" stroke="#333" stroke-width="1.2"/>
<text x="124.5" y="962.9" font-size="12.3" text-anchor="middle" textLength="5.6" lengthAdjust="spacingAndGlyphs" stroke="#111" stroke-width="0.25">0</text>
<text x="187.6" y="962.9" font-size="12.3" textLength="11.0" lengthAdjust="spacingAndGlyphs" stroke="#111" stroke-width="0.25">10</text>
<text x="199.3" y="957.7" font-size="7.995000000000001" textLength="4.2" lengthAdjust="spacingAndGlyphs" stroke="#111" stroke-width="0.15">3</text>
<text x="232.6" y="962.9" font-size="12.3" textLength="11.0" lengthAdjust="spacingAndGlyphs" stroke="#111" stroke-width="0.25">10</text>
<text x="244.3" y="957.7" font-size="7.995000000000001" textLength="4.2" lengthAdjust="spacingAndGlyphs" stroke="#111" stroke-width="0.15">4</text>
<text x="278.6" y="962.9" font-size="12.3" textLength="11.0" lengthAdjust="spacingAndGlyphs" stroke="#111" stroke-width="0.25">10</text>
<text x="290.3" y="957.7" font-size="7.995000000000001" textLength="4.2" lengthAdjust="spacingAndGlyphs" stroke="#111" stroke-width="0.15">5</text>
<text x="64.2" y="841.9" font-size="18.5" text-anchor="middle" textLength="60.2" lengthAdjust="spacingAndGlyphs" stroke="#111" stroke-width="0.4" transform="rotate(-90 64.2 841.9)">CD137L</text>
<text x="204.1" y="988.7" font-size="18.5" text-anchor="middle" textLength="37.2" lengthAdjust="spacingAndGlyphs" stroke="#111" stroke-width="0.4">IL-21</text>
<g transform="translate(0 0.5)" fill="none" stroke-width="1" shape-rendering="crispEdges"><path stroke="#555555" d="M0 0m531 804h1m50 0h1m10 0h1m-30 1h1m10 0h1m3 0h1m-32 1h1m6 0h1m8 0h1m31 0h1m-63 1h1m11 0h1m2 0h1m41 0h1m-75 1h1m17 0h1m4 0h1m5 0h2m4 0h1m6 0h1m30 0h1m-71 1h1m13 0h1m7 0h1m2 0h1m4 0h1m1 0h1m2 0h1m1 0h1m3 0h2m3 0h1m2 0h1m6 0h2m3 0h2m3 0h1m9 0h1m3 0h1m-72 1h1m3 0h2m6 0h1m8 0h1m7 0h1m2 0h2m2 0h1m4 0h3m1 0h1m1 0h1m5 0h1m5 0h1m-70 1h1m9 0h6m1 0h1m1 0h1m4 0h1m3 0h8m3 0h2m3 0h1m2 0h1m5 0h1m4 0h4m2 0h1m2 0h2m1 0h1m1 0h1m6 0h1m-82 1h1m6 0h2m23 0h2m1 0h2m1 0h1m1 0h2m1 0h3m1 0h3m2 0h6m1 0h1m2 0h1m3 0h1m5 0h1m1 0h1m1 0h2m2 0h1m-90 1h1m8 0h1m2 0h1m3 0h1m3 0h2m1 0h1m2 0h2m4 0h1m1 0h1m2 0h1m2 0h2m2 0h5m2 0h2m2 0h1m4 0h3m4 0h3m3 0h1m3 0h4m3 0h1m2 0h1m3 0h1m6 0h1m-93 1h1m11 0h5m1 0h1m5 0h1m1 0h1m1 0h1m1 0h2m1 0h2m3 0h1m1 0h4m3 0h1m1 0h3m2 0h1m2 0h2m1 0h3m2 0h1m1 0h4m4 0h4m1 0h1m1 0h1m2 0h1m1 0h1m1 0h3m-96 1h1m4 0h1m6 0h2m1 0h1m2 0h3m4 0h1m1 0h1m2 0h7m2 0h6m1 0h1m1 0h1m2 0h10m1 0h6m1 0h3m3 0h1m2 0h3m2 0h1m-87 1h1m5 0h2m3 0h1m1 0h2m1 0h3m6 0h1m3 0h3m47 0h1m1 0h7m1 0h4m2 0h1m-97 1h1m5 0h1m4 0h2m2 0h1m1 0h1m1 0h1m2 0h3m1 0h3m55 0h4m1 0h1m1 0h3m1 0h1m2 0h2m-101 1h1m2 0h1m2 0h1m1 0h3m3 0h1m2 0h7m1 0h2m59 0h1m1 0h3m1 0h2m4 0h1m-97 1h1m4 0h1m3 0h1m4 0h5m1 0h1m1 0h1m62 0h4m3 0h1m6 0h1m-99 1h2m9 0h1m1 0h1m2 0h4m66 0h2m1 0h2m-90 1h1m4 0h1m1 0h2m2 0h6m68 0h2m1 0h1m6 0h1m-95 1h1m4 0h2m4 0h3m71 0h2m3 0h1m-94 1h1m3 0h2m3 0h2m4 0h1m73 0h1m1 0h3m1 0h2m1 0h2m-97 1h3m4 0h2m1 0h3m73 0h2m1 0h1m4 0h1m-98 1h3m1 0h1m5 0h5m75 0h1m2 0h1m1 0h1m3 0h1m-99 1h1m4 0h5m1 0h2m-5 1h3m79 0h1m1 0h1m3 0h1m-95 1h1m2 0h5m82 0h5m1 0h1m-108 1h1m2 0h1m7 0h1m1 0h2m1 0h2m84 0h1m1 0h2m1 0h1m-112 1h1m3 0h1m5 0h1m4 0h3m1 0h1m1 0h1m82 0h2m2 0h1m1 0h1m-104 1h2m7 0h1m3 0h1m84 0h1m2 0h1m1 0h1m-104 1h1m1 0h2m3 0h4m2 0h1m83 0h3m3 0h1m-103 1h3m2 0h1m1 0h3m1 0h1m84 0h3m1 0h1m-101 1h1m1 0h1m1 0h1m2 0h3m87 0h2m2 0h1m-109 1h1m7 0h1m3 0h5m86 0h3m1 0h1m-116 1h1m15 0h1m1 0h1m1 0h1m1 0h1m88 0h2m2 0h2m-100 1h1m3 0h1m91 0h2m1 0h2m-103 1h2m1 0h3m1 0h2m88 0h1m2 0h1m2 0h1m-109 1h1m8 0h1m2 0h2m88 0h1m1 0h1m2 0h2m-108 1h2m8 0h1m90 0h1m1 0h1m2 0h2m-103 1h3m2 0h1m91 0h2m-107 1h1m5 0h1m3 0h4m90 0h2m-103 1h6m1 0h4m90 0h1m3 0h1m1 0h1m-112 1h1m3 0h3m1 0h1m1 0h2m93 0h2m2 0h1m1 0h1m-148 1h1m38 0h1m3 0h3m2 0h2m92 0h2m1 0h3m-110 1h1m5 0h1m2 0h3m94 0h4m-103 1h2m2 0h1m91 0h4m2 0h1m-112 1h1m5 0h1m3 0h2m94 0h2m-103 1h2m1 0h3m1 0h1m94 0h1m2 0h1m-110 1h1m4 0h1m1 0h2m1 0h1m93 0h4m-108 1h2m1 0h3m1 0h3m96 0h2m2 0h1m-111 1h1m1 0h1m2 0h3m96 0h2m1 0h2m1 0h1m-106 1h1m1 0h1m1 0h1m95 0h2m2 0h2m-120 1h1m5 0h1m3 0h1m2 0h1m3 0h1m95 0h1m1 0h1m2 0h1m-109 1h1m2 0h2m1 0h3m95 0h2m-105 1h1m3 0h3m95 0h1m3 0h2m-109 1h2m3 0h1m1 0h1m95 0h1m1 0h1m3 0h1m-114 1h1m3 0h2m4 0h1m97 0h2m-176 1h1m67 0h4m1 0h4m96 0h2m1 0h2m-110 1h8m98 0h1m1 0h1m1 0h1m-114 1h1m3 0h1m4 0h2m97 0h1m2 0h1m1 0h2m-114 1h4m103 0h2m-106 1h1m1 0h3m1 0h1m97 0h2m1 0h1m2 0h1m-115 1h1m4 0h1m1 0h4m98 0h2m1 0h1m-110 1h2m2 0h1m100 0h1m3 0h1m1 0h1m-120 1h1m4 0h4m3 0h3m98 0h4m1 0h2m-111 1h1m2 0h2m99 0h4m-114 1h1m8 0h1m101 0h1m1 0h4m-120 1h1m7 0h2m1 0h2m101 0h2m-114 1h1m4 0h4m102 0h1m2 0h1m-118 1h1m3 0h1m2 0h3m1 0h1m1 0h1m103 0h1m1 0h2m-115 1h1m3 0h1m2 0h1m100 0h2m1 0h2m-112 1h2m1 0h3m101 0h1m1 0h1m1 0h2m-111 1h1m1 0h2m101 0h6m-112 1h1m2 0h1m102 0h1m3 0h1m-111 1h1m1 0h3m101 0h2m1 0h1m-116 1h1m1 0h2m2 0h2m2 0h1m101 0h2m2 0h1m1 0h1m-121 1h1m1 0h1m3 0h1m2 0h2m1 0h1m101 0h3m-112 1h1m3 0h3m103 0h1m2 0h1m-114 1h2m2 0h3m107 0h2m-116 1h1m1 0h4m104 0h1m1 0h1m-113 1h6m103 0h1m1 0h1m-122 1h1m6 0h2m1 0h3m2 0h2m103 0h1m-117 1h1m9 0h3m105 0h2m-113 1h2m1 0h3m105 0h1m-115 1h5m1 0h1m1 0h1m105 0h1m-118 1h1m1 0h1m3 0h5m103 0h2m1 0h3m-120 1h1m2 0h7m106 0h2m-119 1h1m1 0h6m1 0h3m106 0h1m2 0h1m-116 1h2m1 0h1m2 0h1m104 0h1m1 0h2m-119 1h1m3 0h1m2 0h4m107 0h2m-121 1h3m2 0h1m1 0h1m1 0h1m105 0h3m1 0h1m-125 1h1m8 0h1m4 0h2m103 0h1m2 0h1m2 0h1m-128 1h1m6 0h1m4 0h2m1 0h1m2 0h2m100 0h3m2 0h1m1 0h1m-118 1h1m1 0h1m1 0h2m2 0h2m100 0h1m1 0h2m-122 1h1m2 0h1m1 0h1m1 0h3m1 0h1m2 0h1m1 0h3m100 0h1m1 0h2m-115 1h2m1 0h4m3 0h1m98 0h1m1 0h3m3 0h1m-122 1h1m2 0h1m5 0h2m2 0h1m1 0h3m95 0h1m4 0h1m-117 1h2m1 0h1m1 0h1m1 0h2m5 0h2m95 0h4m-109 1h1m5 0h1m1 0h1m2 0h5m89 0h1m1 0h2m2 0h1m-119 1h4m1 0h1m2 0h4m1 0h2m1 0h1m1 0h2m1 0h5m87 0h3m4 0h1m-121 1h1m5 0h3m6 0h1m1 0h1m5 0h3m1 0h1m84 0h2m1 0h2m3 0h1m-118 1h1m1 0h1m2 0h1m3 0h1m3 0h3m1 0h1m3 0h1m1 0h5m80 0h1m2 0h1m1 0h1m2 0h1m-118 1h1m2 0h2m2 0h1m3 0h2m2 0h2m1 0h1m1 0h3m1 0h1m3 0h1m1 0h1m77 0h4m2 0h1m2 0h2m-131 1h1m11 0h1m1 0h1m1 0h1m4 0h3m2 0h3m3 0h9m1 0h2m75 0h1m2 0h2m1 0h2m-123 1h1m7 0h1m2 0h1m1 0h1m1 0h1m1 0h3m1 0h3m1 0h1m1 0h2m2 0h3m2 0h1m1 0h1m1 0h2m76 0h2m1 0h1m2 0h1m-118 1h1m1 0h2m3 0h1m1 0h1m3 0h1m3 0h1m2 0h1m2 0h2m1 0h5m2 0h3m71 0h2m1 0h1m4 0h2m-127 1h1m8 0h1m1 0h1m5 0h1m2 0h3m1 0h1m1 0h2m1 0h3m1 0h1m2 0h2m1 0h1m1 0h3m1 0h1m1 0h3m65 0h1m3 0h1m4 0h1m2 0h2m-129 1h1m1 0h1m5 0h1m3 0h1m7 0h3m1 0h2m1 0h2m2 0h2m1 0h7m1 0h1m3 0h2m1 0h4m61 0h1m1 0h1m1 0h1m3 0h2m5 0h1m-122 1h1m2 0h1m4 0h1m5 0h3m1 0h3m1 0h1m1 0h2m3 0h4m2 0h1m2 0h3m1 0h2m1 0h8m54 0h3m8 0h2m-118 1h1m2 0h1m9 0h1m3 0h3m4 0h1m1 0h1m2 0h1m4 0h1m2 0h1m1 0h1m1 0h2m4 0h1m2 0h5m6 0h2m1 0h2m3 0h4m3 0h4m3 0h8m2 0h1m5 0h1m2 0h1m4 0h1m-105 1h1m2 0h1m7 0h2m1 0h1m15 0h1m6 0h1m2 0h1m7 0h1m2 0h1m1 0h1m1 0h1m1 0h1m2 0h1m2 0h1m2 0h4m3 0h2m1 0h2m2 0h1m1 0h1m3 0h1m1 0h1m1 0h1m1 0h1m1 0h4m2 0h2m4 0h2m2 0h1m-116 1h1m8 0h1m2 0h1m11 0h1m6 0h1m4 0h1m9 0h2m1 0h1m1 0h1m7 0h1m10 0h1m10 0h1m6 0h1m1 0h1m5 0h1m8 0h1m2 0h1m-88 1h1m1 0h1m13 0h1m15 0h1m8 0h1m8 0h1m8 0h1m6 0h1m14 0h1m-6 1h1m-81 1h1m102 0h1m-68 2h1"/><path stroke="#111111" d="M0 0m539 816h2m1 0h1m1 0h3m1 0h3m1 0h2m1 0h6m1 0h1m3 0h5m1 0h1m1 0h2m1 0h8m-50 1h1m1 0h5m1 0h3m1 0h4m1 0h7m3 0h5m1 0h2m1 0h2m2 0h3m1 0h1m1 0h4m1 0h3m-56 1h1m1 0h1m1 0h1m1 0h2m1 0h4m1 0h2m2 0h12m2 0h6m1 0h1m1 0h1m1 0h1m1 0h3m1 0h3m2 0h1m2 0h1m-61 1h1m3 0h1m3 0h4m1 0h2m1 0h2m1 0h4m2 0h1m1 0h3m1 0h5m1 0h4m2 0h3m3 0h2m3 0h6m1 0h1m-64 1h2m1 0h19m1 0h2m1 0h2m2 0h5m2 0h11m2 0h7m1 0h3m1 0h4m-68 1h1m1 0h4m1 0h1m1 0h1m2 0h5m1 0h16m1 0h4m1 0h7m1 0h4m1 0h5m1 0h5m3 0h1m-69 1h6m1 0h1m1 0h4m1 0h1m1 0h3m1 0h13m1 0h1m1 0h9m1 0h2m1 0h1m1 0h11m1 0h1m1 0h1m1 0h3m-71 1h1m1 0h4m1 0h7m1 0h1m1 0h13m1 0h12m1 0h1m1 0h1m1 0h1m1 0h4m1 0h2m1 0h4m1 0h6m1 0h2m-70 1h1m1 0h5m1 0h2m1 0h5m1 0h8m1 0h4m1 0h7m1 0h20m1 0h2m2 0h1m1 0h2m1 0h1m-73 1h8m2 0h5m1 0h15m1 0h3m1 0h4m1 0h12m1 0h1m1 0h1m1 0h5m1 0h8m-74 1h4m1 0h8m1 0h6m1 0h15m1 0h2m2 0h1m1 0h17m1 0h1m1 0h3m2 0h4m2 0h1m-76 1h6m1 0h15m1 0h2m1 0h2m1 0h10m2 0h11m1 0h3m1 0h4m2 0h2m1 0h2m1 0h7m-77 1h9m1 0h9m1 0h8m1 0h11m2 0h10m1 0h3m1 0h15m1 0h5m-78 1h35m1 0h1m1 0h3m2 0h2m1 0h5m1 0h1m1 0h6m1 0h5m1 0h1m1 0h10m-80 1h1m1 0h1m1 0h1m1 0h2m1 0h2m1 0h1m1 0h11m1 0h2m1 0h19m1 0h6m2 0h6m1 0h12m1 0h3m-82 1h1m3 0h7m1 0h19m1 0h7m1 0h1m1 0h4m1 0h2m1 0h2m1 0h5m1 0h1m1 0h11m1 0h9m-82 1h8m1 0h4m1 0h4m1 0h3m1 0h7m1 0h13m1 0h2m1 0h3m1 0h10m1 0h5m1 0h7m1 0h1m1 0h2m1 0h1m-84 1h2m1 0h3m1 0h12m1 0h5m1 0h7m1 0h10m1 0h2m1 0h2m1 0h1m1 0h12m1 0h6m1 0h5m2 0h1m2 0h1m-83 1h3m1 0h3m1 0h3m1 0h8m1 0h3m1 0h5m1 0h7m1 0h3m4 0h8m1 0h1m1 0h4m1 0h14m1 0h6m-83 1h1m1 0h3m1 0h8m1 0h1m1 0h1m1 0h8m1 0h12m6 0h2m2 0h3m1 0h22m1 0h2m3 0h1m-85 1h8m1 0h1m1 0h25m1 0h3m14 0h9m1 0h20m-85 1h8m1 0h5m2 0h2m1 0h22m15 0h9m1 0h8m1 0h2m1 0h4m1 0h1m1 0h2m-85 1h10m1 0h2m1 0h7m2 0h13m15 0h2m1 0h20m1 0h9m-84 1h3m3 0h3m1 0h2m2 0h11m2 0h9m19 0h10m1 0h5m2 0h8m1 0h2m-88 1h3m1 0h3m1 0h10m1 0h19m1 0h2m17 0h5m1 0h4m1 0h16m2 0h2m-89 1h9m3 0h1m1 0h1m1 0h22m1 0h2m20 0h7m1 0h11m2 0h6m-89 1h2m2 0h1m1 0h8m1 0h3m1 0h6m1 0h14m23 0h10m1 0h4m1 0h5m1 0h5m-90 1h2m2 0h3m1 0h2m1 0h2m1 0h1m1 0h7m1 0h11m2 0h2m24 0h18m1 0h6m1 0h1m-90 1h2m1 0h2m1 0h1m1 0h5m1 0h3m2 0h9m2 0h2m1 0h5m27 0h5m1 0h1m1 0h7m1 0h7m-89 1h1m1 0h1m2 0h2m1 0h7m1 0h10m1 0h4m1 0h2m1 0h4m31 0h9m1 0h6m1 0h2m1 0h1m-91 1h2m1 0h1m3 0h1m3 0h3m2 0h21m28 0h1m1 0h4m1 0h5m2 0h8m2 0h2m-90 1h1m2 0h4m2 0h1m1 0h20m1 0h4m29 0h1m3 0h1m2 0h12m1 0h5m-89 1h1m1 0h2m1 0h2m1 0h8m1 0h7m1 0h1m1 0h7m1 0h2m26 0h4m1 0h3m2 0h10m1 0h1m1 0h3m-91 1h2m1 0h2m2 0h2m1 0h6m1 0h22m27 0h3m2 0h2m2 0h8m1 0h7m-93 1h1m1 0h1m1 0h2m1 0h7m1 0h2m1 0h21m38 0h2m2 0h1m1 0h2m1 0h4m1 0h2m-93 1h1m1 0h2m1 0h2m1 0h3m1 0h3m1 0h23m39 0h1m2 0h4m2 0h6m-91 1h1m1 0h7m1 0h3m1 0h23m30 0h2m2 0h4m6 0h10m-91 1h6m1 0h4m1 0h7m1 0h5m1 0h10m35 0h2m9 0h1m1 0h3m1 0h2m-93 1h2m1 0h2m1 0h1m1 0h32m38 0h2m2 0h2m1 0h1m1 0h1m1 0h5m-93 1h3m1 0h1m1 0h3m1 0h1m1 0h1m1 0h7m1 0h16m44 0h7m-91 1h1m1 0h4m1 0h1m1 0h1m2 0h2m3 0h5m2 0h5m1 0h8m1 0h2m45 0h5m1 0h1m1 0h1m-95 1h1m2 0h3m1 0h33m46 0h2m1 0h3m-92 1h2m1 0h3m1 0h1m1 0h1m1 0h1m1 0h14m1 0h4m1 0h4m52 0h4m1 0h1m-96 1h1m1 0h2m1 0h2m1 0h2m1 0h2m1 0h1m1 0h15m1 0h4m54 0h3m-91 1h2m3 0h5m1 0h17m1 0h9m48 0h6m1 0h1m-96 1h1m2 0h3m1 0h2m1 0h3m1 0h1m1 0h3m1 0h2m1 0h10m1 0h4m1 0h1m48 0h4m1 0h1m1 0h1m-97 1h4m3 0h4m1 0h3m1 0h2m2 0h19m51 0h4m2 0h1m-96 1h1m1 0h4m3 0h4m1 0h3m2 0h5m1 0h10m1 0h2m51 0h7m-95 1h1m1 0h2m1 0h7m1 0h3m1 0h4m1 0h12m49 0h1m2 0h2m1 0h1m1 0h3m-97 1h6m1 0h1m1 0h3m1 0h3m1 0h7m1 0h1m2 0h10m48 0h1m3 0h7m-97 1h8m2 0h26m52 0h4m1 0h3m-95 1h3m1 0h2m2 0h1m1 0h2m1 0h7m1 0h14m52 0h10m-98 1h2m2 0h2m2 0h5m2 0h18m1 0h1m53 0h2m3 0h1m1 0h2m-98 1h3m1 0h3m1 0h2m2 0h1m1 0h6m1 0h13m1 0h1m53 0h2m3 0h5m-98 1h2m2 0h1m1 0h3m1 0h5m1 0h1m1 0h8m1 0h6m1 0h1m53 0h2m1 0h6m-98 1h3m2 0h2m1 0h4m1 0h1m1 0h9m1 0h9m1 0h1m53 0h2m1 0h5m1 0h1m-100 1h4m1 0h8m1 0h3m1 0h18m57 0h1m1 0h2m1 0h1m-99 1h1m2 0h5m1 0h1m3 0h1m1 0h1m3 0h2m1 0h4m1 0h2m1 0h6m58 0h6m-99 1h6m2 0h4m1 0h3m1 0h4m1 0h12m51 0h2m6 0h3m1 0h2m-100 1h1m1 0h8m1 0h2m1 0h8m1 0h2m1 0h1m1 0h7m51 0h2m7 0h2m2 0h1m-101 1h2m1 0h2m2 0h3m1 0h3m3 0h2m1 0h4m1 0h10m60 0h2m2 0h2m-101 1h2m1 0h2m1 0h6m1 0h1m3 0h12m1 0h5m60 0h1m3 0h2m-101 1h2m2 0h1m2 0h6m1 0h9m1 0h4m1 0h2m1 0h2m1 0h1m64 0h1m-98 1h6m1 0h6m1 0h8m1 0h8m1 0h1m64 0h1m-102 1h3m1 0h1m1 0h9m1 0h3m1 0h2m1 0h11m66 0h2m-101 1h1m2 0h1m1 0h1m1 0h2m1 0h6m1 0h16m66 0h2m-102 1h6m1 0h1m1 0h2m1 0h2m2 0h1m2 0h15m66 0h1m-101 1h1m1 0h11m1 0h9m1 0h10m66 0h2m-101 1h2m1 0h2m3 0h10m2 0h1m2 0h2m1 0h4m2 0h1m65 0h2m-100 1h2m2 0h1m1 0h3m1 0h3m1 0h6m1 0h4m1 0h7m65 0h1m-100 1h4m1 0h1m1 0h1m1 0h4m3 0h2m1 0h2m1 0h2m1 0h7m1 0h1m67 0h1m-100 1h2m2 0h3m1 0h3m1 0h3m1 0h3m1 0h3m1 0h1m3 0h4m66 0h2m-102 1h1m1 0h3m1 0h2m3 0h4m1 0h1m2 0h1m1 0h4m1 0h7m65 0h1m2 0h1m-101 1h3m1 0h3m2 0h4m1 0h1m2 0h2m1 0h1m2 0h1m1 0h1m1 0h5m65 0h1m-98 1h10m1 0h3m3 0h3m1 0h1m2 0h6m1 0h3m63 0h1m1 0h1m-101 1h5m2 0h1m2 0h2m3 0h12m1 0h2m1 0h4m63 0h3m-101 1h2m1 0h3m1 0h3m2 0h2m1 0h2m1 0h2m2 0h1m1 0h12m61 0h1m1 0h2m-101 1h3m1 0h2m3 0h1m2 0h4m1 0h3m1 0h2m2 0h1m1 0h7m1 0h1m62 0h1m-98 1h2m3 0h1m1 0h1m1 0h4m2 0h2m1 0h1m1 0h2m1 0h1m3 0h1m1 0h3m1 0h3m53 0h4m3 0h2m-97 1h2m1 0h4m2 0h4m1 0h9m1 0h7m1 0h3m39 0h2m8 0h2m3 0h5m1 0h4m-99 1h2m1 0h3m1 0h6m2 0h2m2 0h1m1 0h1m3 0h5m1 0h3m44 0h2m12 0h2m1 0h4m-97 1h1m1 0h1m1 0h2m2 0h4m1 0h5m1 0h13m24 0h2m10 0h2m6 0h2m1 0h1m5 0h1m2 0h2m1 0h2m1 0h1m-93 1h2m1 0h3m1 0h3m1 0h4m1 0h2m1 0h2m2 0h7m27 0h1m3 0h3m2 0h6m3 0h3m2 0h13m-91 1h2m1 0h1m1 0h1m1 0h2m3 0h1m1 0h2m1 0h4m1 0h6m24 0h10m2 0h7m1 0h4m2 0h5m3 0h6m-88 1h2m2 0h2m1 0h3m1 0h4m1 0h1m1 0h2m1 0h4m17 0h3m1 0h5m1 0h8m4 0h2m2 0h11m1 0h6m1 0h1m-85 1h1m1 0h1m2 0h1m1 0h2m1 0h6m1 0h5m3 0h1m1 0h2m6 0h2m2 0h1m1 0h7m1 0h8m2 0h4m2 0h8m3 0h4m1 0h3m-82 1h1m1 0h4m1 0h1m6 0h1m1 0h2m1 0h1m1 0h1m5 0h4m1 0h1m2 0h18m2 0h6m1 0h8m1 0h10m-77 1h1m1 0h4m2 0h1m2 0h4m1 0h3m4 0h4m1 0h1m2 0h1m1 0h2m1 0h15m1 0h7m1 0h7m1 0h2m2 0h3m-75 1h6m1 0h2m2 0h8m2 0h4m1 0h4m1 0h2m1 0h1m1 0h8m1 0h11m1 0h12m1 0h2m2 0h3m-76 1h1m2 0h5m1 0h9m1 0h3m1 0h4m2 0h3m1 0h4m2 0h3m1 0h4m2 0h11m1 0h6m1 0h3m1 0h1m-71 1h13m1 0h2m3 0h18m1 0h2m2 0h6m1 0h4m1 0h1m1 0h3m1 0h3m2 0h3m1 0h4m-71 1h1m1 0h8m1 0h7m1 0h19m1 0h2m1 0h4m1 0h12m1 0h10m-66 1h1m1 0h7m1 0h1m1 0h1m2 0h5m1 0h4m1 0h6m1 0h2m2 0h1m1 0h2m1 0h2m1 0h5m4 0h1m3 0h2m1 0h1m-59 1h1m3 0h1m1 0h6m1 0h10m1 0h6m1 0h2m1 0h6m2 0h2m4 0h3m1 0h1m1 0h3m-50 1h3m1 0h3m1 0h5m3 0h2m3 0h4m1 0h2m1 0h9m2 0h4"/><path stroke="#bd42bd" d="M0 0m560 829h2m0 4h1m-5 1h4m-6 1h6m2 0h2m-12 1h14m-14 1h15m-18 1h15m2 0h1m-18 1h11m2 0h6m-21 1h1m2 0h1m1 0h6m6 0h3m-20 1h1m6 0h4m6 0h5m-21 1h4m2 0h1m3 0h2m2 0h9m-24 1h5m6 0h2m2 0h9m-25 1h4m2 0h2m6 0h2m3 0h8m-27 1h3m3 0h2m6 0h2m4 0h9m-31 1h8m10 0h2m4 0h4m-28 1h3m1 0h4m10 0h2m4 0h5m1 0h1m1 0h1m1 0h2m-34 1h1m3 0h1m13 0h2m2 0h4m4 0h1m3 0h2m-36 1h1m18 0h1m2 0h4m4 0h2m2 0h2m-38 1h1m1 0h2m12 0h2m6 0h14m2 0h2m-42 1h1m1 0h1m14 0h1m6 0h2m1 0h12m1 0h2m-42 1h4m20 0h2m2 0h2m2 0h2m4 0h3m1 0h2m-44 1h1m1 0h2m21 0h1m2 0h6m2 0h8m2 0h1m-47 1h1m1 0h2m18 0h2m2 0h12m2 0h2m-43 1h1m2 0h2m18 0h2m2 0h17m-43 1h2m30 0h13m-46 1h3m30 0h13m-49 1h6m23 0h1m3 0h3m2 0h2m1 0h11m-52 1h3m1 0h2m23 0h1m5 0h1m2 0h2m2 0h10m-46 1h2m20 0h4m8 0h4m3 0h3m-44 1h2m20 0h4m8 0h2m1 0h1m3 0h3m-50 1h1m1 0h2m4 0h2m24 0h2m2 0h2m2 0h2m2 0h5m-54 1h1m2 0h1m1 0h2m4 0h2m24 0h2m2 0h2m2 0h2m2 0h5m-53 1h5m17 0h2m6 0h4m6 0h8m2 0h1m-51 1h4m18 0h2m6 0h4m6 0h8m2 0h1m-53 1h6m28 0h2m6 0h10m-52 1h6m28 0h2m6 0h10m-52 1h3m1 0h1m30 0h1m4 0h2m2 0h4m1 0h3m2 0h3m-60 1h1m1 0h3m38 0h2m2 0h4m1 0h3m2 0h3m-58 1h3m40 0h2m2 0h6m2 0h1m-56 1h3m40 0h2m2 0h6m2 0h1m-57 1h3m1 0h2m28 0h2m8 0h2m3 0h8m-57 1h3m1 0h1m29 0h2m8 0h2m4 0h8m-59 1h6m29 0h4m10 0h2m2 0h2m1 0h3m-59 1h4m31 0h4m10 0h2m2 0h2m2 0h2m-59 1h2m3 0h1m47 0h6m2 0h2m-63 1h2m51 0h6m2 0h2m-65 1h1m1 0h3m48 0h2m1 0h9m-65 1h1m1 0h3m48 0h2m1 0h9m-66 1h6m40 0h2m8 0h2m2 0h6m2 0h1m-69 1h6m40 0h2m8 0h2m2 0h6m2 0h1m-69 1h6m24 0h2m26 0h8m-66 1h6m24 0h2m19 0h1m6 0h8m-66 1h4m32 0h2m18 0h8m4 0h2m-70 1h4m32 0h2m18 0h8m4 0h2m-70 1h4m27 0h1m16 0h2m2 0h14m4 0h1m-71 1h4m27 0h1m2 0h2m10 0h4m2 0h14m4 0h1m-72 1h3m30 0h2m4 0h2m6 0h2m2 0h4m1 0h5m1 0h3m2 0h1m1 0h2m-71 1h4m5 0h1m23 0h2m4 0h2m6 0h2m2 0h10m1 0h3m2 0h1m1 0h2m-69 1h2m33 0h2m2 0h2m8 0h4m2 0h8m4 0h2m-69 1h4m1 0h1m22 0h1m3 0h1m2 0h2m2 0h2m4 0h2m2 0h4m2 0h8m4 0h2m-68 1h3m25 0h6m2 0h4m2 0h2m4 0h12m2 0h1m-63 1h3m25 0h12m2 0h2m2 0h14m-63 1h1m3 0h3m22 0h6m2 0h2m4 0h8m2 0h4m-57 1h1m3 0h3m2 0h1m7 0h2m9 0h13m4 0h6m4 0h2m-54 1h4m17 0h23m2 0h12m2 0h1m-61 1h5m13 0h6m2 0h10m2 0h6m2 0h1m1 0h4m2 0h2m-56 1h10m2 0h6m1 0h8m1 0h2m4 0h2m6 0h2m4 0h2m-50 1h10m2 0h12m10 0h2m12 0h2m-49 1h9m2 0h6m18 0h4m2 0h2m-43 1h3m1 0h1m2 0h2m2 0h2m2 0h2m18 0h2m4 0h2m-45 1h1m3 0h5m4 0h1m1 0h2m18 0h2m-32 1h4m6 0h2m-12 1h2m-2 2h2"/><path stroke="#4a60d8" d="M0 0m562 839h2m-11 1h1m8 0h4m-14 1h4m6 0h4m-12 1h2m1 0h1m4 0h2m-10 1h1m1 0h2m5 0h1m-12 1h2m6 0h2m2 0h3m-16 1h2m7 0h2m2 0h4m-6 1h2m2 0h2m-19 1h1m12 0h2m2 0h2m-19 1h3m1 0h1m4 0h2m5 0h1m2 0h2m-21 1h5m11 0h2m2 0h1m-23 1h1m2 0h1m1 0h2m6 0h2m4 0h4m-23 1h1m1 0h1m2 0h2m6 0h3m3 0h4m2 0h1m-23 1h3m11 0h2m3 0h1m2 0h2m-27 1h1m2 0h2m12 0h2m4 0h1m1 0h2m-27 1h1m2 0h2m12 0h2m-20 1h2m2 0h1m13 0h2m-16 1h2m12 0h4m4 0h6m-28 1h2m12 0h4m4 0h6m-30 1h3m5 0h2m1 0h3m8 0h1m1 0h3m3 0h2m2 0h1m-38 1h1m2 0h1m7 0h2m2 0h2m8 0h1m1 0h5m1 0h2m2 0h2m-40 1h3m17 0h2m1 0h3m4 0h2m2 0h4m4 0h3m-45 1h3m17 0h2m1 0h3m5 0h1m2 0h4m2 0h1m1 0h3m-46 1h1m2 0h1m5 0h2m12 0h2m2 0h2m2 0h2m10 0h2m-45 1h1m2 0h1m5 0h2m12 0h2m2 0h2m2 0h2m10 0h2m-43 1h1m21 0h3m4 0h2m1 0h1m-34 1h2m21 0h3m4 0h2m-32 1h1m23 0h4m2 0h4m1 0h1m-12 1h4m2 0h4m1 0h1m-39 1h1m1 0h3m18 0h9m1 0h4m2 0h2m4 0h1m-47 1h5m19 0h10m1 0h3m2 0h2m4 0h1m-45 1h2m22 0h2m6 0h4m4 0h2m-42 1h1m23 0h2m6 0h4m4 0h2m-45 1h1m20 0h6m1 0h1m8 0h4m2 0h3m-46 1h1m1 0h1m18 0h6m1 0h1m8 0h4m2 0h4m-45 1h1m20 0h2m1 0h1m10 0h2m2 0h4m6 0h1m-52 1h3m20 0h2m1 0h1m10 0h2m2 0h4m6 0h2m-55 1h3m1 0h1m20 0h2m4 0h2m6 0h2m2 0h8m-51 1h2m1 0h2m20 0h2m4 0h2m6 0h2m2 0h8m-50 1h1m3 0h1m15 0h2m6 0h2m8 0h4m2 0h2m4 0h1m-31 1h2m6 0h2m8 0h4m2 0h2m4 0h1m-51 1h1m43 0h2m2 0h2m2 0h2m-54 1h1m43 0h2m2 0h2m2 0h2m-28 1h2m2 0h6m4 0h6m2 0h2m1 0h1m-26 1h2m2 0h6m4 0h5m3 0h2m1 0h1m-14 1h6m2 0h4m-25 1h1m12 0h6m2 0h4m-52 1h1m25 0h1m1 0h4m6 0h6m2 0h2m-48 1h1m25 0h1m1 0h2m8 0h4m4 0h2m-50 1h3m3 0h2m24 0h2m8 0h2m8 0h1m5 0h1m-58 1h2m4 0h1m19 0h1m4 0h2m4 0h2m2 0h2m14 0h1m-58 1h5m18 0h10m6 0h2m2 0h4m4 0h2m-51 1h1m1 0h1m18 0h3m1 0h3m1 0h2m6 0h4m2 0h2m4 0h2m-51 1h1m2 0h1m27 0h2m10 0h2m-45 1h1m2 0h2m17 0h1m-22 1h1m1 0h2m6 0h2m8 0h2m6 0h2m2 0h4m8 0h2m-46 1h2m1 0h1m2 0h2m12 0h1m13 0h2m8 0h2m-46 1h2m12 0h3m-16 1h2m7 0h4m0 1h1m-9 1h2m-1 1h1m-2 1h2"/><path stroke="#40a8e0" d="M0 0m560 840h2m-2 1h2m-4 1h2m-5 1h1m2 0h2m2 0h1m-7 1h4m-7 1h1m2 0h4m-6 1h4m2 0h2m6 0h2m-16 1h4m2 0h2m6 0h2m-16 1h4m2 0h5m-11 1h11m3 0h1m-18 1h1m2 0h2m2 0h2m4 0h2m-16 1h2m2 0h2m2 0h2m4 0h2m-13 1h11m2 0h3m-17 1h12m2 0h4m-16 1h10m2 0h2m2 0h2m-21 1h1m2 0h10m2 0h2m2 0h2m-24 1h2m2 0h10m6 0h4m-24 1h2m2 0h10m6 0h4m-21 1h2m5 0h1m3 0h8m-21 1h4m5 0h2m2 0h8m-23 1h1m2 0h6m2 0h2m2 0h2m2 0h1m9 0h2m-31 1h1m2 0h6m2 0h2m2 0h2m2 0h1m7 0h1m1 0h2m-31 1h3m8 0h2m1 0h5m2 0h2m2 0h2m4 0h2m2 0h2m-37 1h3m8 0h2m1 0h5m2 0h2m2 0h2m4 0h2m2 0h2m-38 1h4m2 0h2m4 0h4m2 0h3m9 0h1m1 0h2m-34 1h4m2 0h2m4 0h4m2 0h3m9 0h4m-35 1h7m2 0h6m1 0h7m10 0h1m-35 1h8m2 0h14m10 0h1m-33 1h4m8 0h6m-19 1h5m8 0h6m10 0h1m-35 1h2m2 0h3m1 0h4m2 0h2m2 0h2m2 0h4m2 0h6m4 0h2m-40 1h2m1 0h4m1 0h4m2 0h2m2 0h2m2 0h4m2 0h6m4 0h2m-38 1h10m2 0h2m10 0h1m1 0h2m2 0h4m-34 1h10m2 0h2m10 0h1m1 0h2m2 0h4m-34 1h8m2 0h2m2 0h2m1 0h3m2 0h1m1 0h2m10 0h2m-38 1h1m1 0h5m3 0h2m2 0h2m1 0h3m2 0h1m1 0h2m10 0h2m-38 1h4m6 0h2m4 0h4m2 0h4m2 0h6m2 0h2m-41 1h1m2 0h4m6 0h2m4 0h4m2 0h4m2 0h6m2 0h2m-41 1h3m1 0h3m10 0h2m2 0h6m2 0h8m4 0h2m2 0h2m-48 1h8m10 0h2m3 0h5m2 0h8m4 0h2m2 0h2m-47 1h1m4 0h2m4 0h2m6 0h20m2 0h2m2 0h2m-47 1h1m4 0h2m4 0h2m6 0h20m2 0h2m2 0h2m-48 1h3m15 0h6m4 0h2m6 0h4m7 0h1m2 0h1m-51 1h3m15 0h6m4 0h2m6 0h4m7 0h1m2 0h1m-53 1h6m17 0h5m10 0h2m6 0h2m-48 1h6m17 0h4m7 0h2m2 0h2m6 0h2m-47 1h2m19 0h4m6 0h6m-37 1h2m18 0h5m6 0h6m-37 1h3m2 0h1m1 0h1m13 0h6m4 0h2m2 0h4m4 0h2m-45 1h3m2 0h4m11 0h4m1 0h2m4 0h2m4 0h2m4 0h2m-40 1h2m10 0h4m12 0h2m4 0h2m-38 1h1m1 0h2m10 0h4m12 0h2m-34 1h2m1 0h3m6 0h12m12 0h2m2 0h2m-42 1h2m2 0h2m2 0h1m3 0h9m1 0h2m12 0h2m2 0h2m-41 1h1m2 0h6m2 0h8m-16 1h2m2 0h2m2 0h8m-18 1h12m-11 1h7m-4 1h2m-2 2h1"/><path stroke="#40b040" d="M0 0m558 846h2m-2 1h2m-4 3h2m-2 1h2m-6 3h2m-2 1h2m8 1h2m-2 1h2m-11 1h3m-3 1h3m0 1h2m2 0h2m-6 1h2m2 0h2m-8 1h4m2 0h1m-7 1h4m2 0h1m-11 1h2m2 0h4m-8 1h2m2 0h4m-6 1h2m6 0h1m-9 1h2m-4 1h8m-8 1h8m-11 1h1m4 0h2m2 0h2m2 0h2m-15 1h1m4 0h2m2 0h2m2 0h2m-10 1h2m2 0h4m-8 1h2m2 0h4m-10 1h2m2 0h2m2 0h1m9 0h2m4 0h2m-33 1h1m5 0h3m2 0h2m2 0h1m9 0h2m4 0h2m-30 1h6m2 0h4m-12 1h6m2 0h4m-12 1h6m2 0h2m-10 1h6m2 0h2m4 0h1m-21 1h4m2 0h4m2 0h6m-18 1h4m2 0h4m3 0h5m-17 1h7m3 0h5m28 0h1m-44 1h4m1 0h2m4 0h4m28 0h1m-43 1h1m1 0h2m6 0h7m5 0h4m2 0h4m-32 1h1m1 0h2m6 0h7m5 0h4m4 0h2m-35 1h2m1 0h6m2 0h4m1 0h3m-19 1h2m1 0h12m1 0h2m-14 1h1m1 0h9m1 0h3m-12 1h8m1 0h2m-17 1h2m2 0h2m4 0h2m-11 1h1m2 0h2m4 0h2m-8 1h6m-6 1h2m1 0h3"/><path stroke="#e82828" d="M0 0m552 878h2m-2 1h2m-2 2h1m-5 1h3m-6 1h1m2 0h4m-9 1h1m2 0h6m-9 1h1m2 0h6m-11 1h1m6 0h2m4 0h1m-14 1h1m12 0h1m-1 1h1m-1 1h1m-9 1h4m2 0h2m-8 1h4m2 0h2"/></g>
<rect x="524.2" y="762.0" width="68.5" height="23.8" fill="#fff" fill-opacity="1.0" stroke="#d4d4d4" stroke-width="1.3" rx="2.5"/>
<text x="525.2" y="780.3" font-size="19" textLength="65.5" lengthAdjust="spacingAndGlyphs" fill="#000" stroke="#000" stroke-width="0.35">97.917%</text>
<rect x="406.1" y="739.8" width="201.8" height="202.9" fill="none" stroke="#333" stroke-width="1.3"/>
<line x1="401.1" y1="942.7" x2="406.1" y2="942.7" stroke="#333" stroke-width="1.2"/>
<text x="399.8" y="947.9" font-size="12.4" text-anchor="end" textLength="6.4" lengthAdjust="spacingAndGlyphs" stroke="#111" stroke-width="0.25">0</text>
<line x1="403.9" y1="938.8" x2="406.1" y2="938.8" stroke="#333" stroke-width="0.9"/>
<line x1="403.9" y1="935.0" x2="406.1" y2="935.0" stroke="#333" stroke-width="0.9"/>
<line x1="403.9" y1="931.1" x2="406.1" y2="931.1" stroke="#333" stroke-width="0.9"/>
<line x1="403.9" y1="927.3" x2="406.1" y2="927.3" stroke="#333" stroke-width="0.9"/>
<line x1="403.9" y1="923.4" x2="406.1" y2="923.4" stroke="#333" stroke-width="0.9"/>
<line x1="403.9" y1="919.5" x2="406.1" y2="919.5" stroke="#333" stroke-width="0.9"/>
<line x1="403.9" y1="915.7" x2="406.1" y2="915.7" stroke="#333" stroke-width="0.9"/>
<line x1="403.9" y1="911.8" x2="406.1" y2="911.8" stroke="#333" stroke-width="0.9"/>
<line x1="403.9" y1="908.0" x2="406.1" y2="908.0" stroke="#333" stroke-width="0.9"/>
<line x1="401.1" y1="904.1" x2="406.1" y2="904.1" stroke="#333" stroke-width="1.2"/>
<text x="399.8" y="909.3" font-size="12.4" text-anchor="end" textLength="12.8" lengthAdjust="spacingAndGlyphs" stroke="#111" stroke-width="0.25">50</text>
<line x1="403.9" y1="900.2" x2="406.1" y2="900.2" stroke="#333" stroke-width="0.9"/>
<line x1="403.9" y1="896.4" x2="406.1" y2="896.4" stroke="#333" stroke-width="0.9"/>
<line x1="403.9" y1="892.5" x2="406.1" y2="892.5" stroke="#333" stroke-width="0.9"/>
<line x1="403.9" y1="888.7" x2="406.1" y2="888.7" stroke="#333" stroke-width="0.9"/>
<line x1="403.9" y1="884.8" x2="406.1" y2="884.8" stroke="#333" stroke-width="0.9"/>
<line x1="403.9" y1="880.9" x2="406.1" y2="880.9" stroke="#333" stroke-width="0.9"/>
<line x1="403.9" y1="877.1" x2="406.1" y2="877.1" stroke="#333" stroke-width="0.9"/>
<line x1="403.9" y1="873.2" x2="406.1" y2="873.2" stroke="#333" stroke-width="0.9"/>
<line x1="403.9" y1="869.4" x2="406.1" y2="869.4" stroke="#333" stroke-width="0.9"/>
<line x1="401.1" y1="865.5" x2="406.1" y2="865.5" stroke="#333" stroke-width="1.2"/>
<text x="399.8" y="870.7" font-size="12.4" text-anchor="end" textLength="19.2" lengthAdjust="spacingAndGlyphs" stroke="#111" stroke-width="0.25">100</text>
<line x1="403.9" y1="861.6" x2="406.1" y2="861.6" stroke="#333" stroke-width="0.9"/>
<line x1="403.9" y1="857.8" x2="406.1" y2="857.8" stroke="#333" stroke-width="0.9"/>
<line x1="403.9" y1="853.9" x2="406.1" y2="853.9" stroke="#333" stroke-width="0.9"/>
<line x1="403.9" y1="850.1" x2="406.1" y2="850.1" stroke="#333" stroke-width="0.9"/>
<line x1="403.9" y1="846.2" x2="406.1" y2="846.2" stroke="#333" stroke-width="0.9"/>
<line x1="403.9" y1="842.3" x2="406.1" y2="842.3" stroke="#333" stroke-width="0.9"/>
<line x1="403.9" y1="838.5" x2="406.1" y2="838.5" stroke="#333" stroke-width="0.9"/>
<line x1="403.9" y1="834.6" x2="406.1" y2="834.6" stroke="#333" stroke-width="0.9"/>
<line x1="403.9" y1="830.8" x2="406.1" y2="830.8" stroke="#333" stroke-width="0.9"/>
<line x1="401.1" y1="826.9" x2="406.1" y2="826.9" stroke="#333" stroke-width="1.2"/>
<text x="399.8" y="832.1" font-size="12.4" text-anchor="end" textLength="19.2" lengthAdjust="spacingAndGlyphs" stroke="#111" stroke-width="0.25">150</text>
<line x1="403.9" y1="823.0" x2="406.1" y2="823.0" stroke="#333" stroke-width="0.9"/>
<line x1="403.9" y1="819.2" x2="406.1" y2="819.2" stroke="#333" stroke-width="0.9"/>
<line x1="403.9" y1="815.3" x2="406.1" y2="815.3" stroke="#333" stroke-width="0.9"/>
<line x1="403.9" y1="811.5" x2="406.1" y2="811.5" stroke="#333" stroke-width="0.9"/>
<line x1="403.9" y1="807.6" x2="406.1" y2="807.6" stroke="#333" stroke-width="0.9"/>
<line x1="403.9" y1="803.7" x2="406.1" y2="803.7" stroke="#333" stroke-width="0.9"/>
<line x1="403.9" y1="799.9" x2="406.1" y2="799.9" stroke="#333" stroke-width="0.9"/>
<line x1="403.9" y1="796.0" x2="406.1" y2="796.0" stroke="#333" stroke-width="0.9"/>
<line x1="403.9" y1="792.2" x2="406.1" y2="792.2" stroke="#333" stroke-width="0.9"/>
<line x1="401.1" y1="788.3" x2="406.1" y2="788.3" stroke="#333" stroke-width="1.2"/>
<text x="399.8" y="793.5" font-size="12.4" text-anchor="end" textLength="19.2" lengthAdjust="spacingAndGlyphs" stroke="#111" stroke-width="0.25">200</text>
<line x1="403.9" y1="784.4" x2="406.1" y2="784.4" stroke="#333" stroke-width="0.9"/>
<line x1="403.9" y1="780.6" x2="406.1" y2="780.6" stroke="#333" stroke-width="0.9"/>
<line x1="403.9" y1="776.7" x2="406.1" y2="776.7" stroke="#333" stroke-width="0.9"/>
<line x1="403.9" y1="772.9" x2="406.1" y2="772.9" stroke="#333" stroke-width="0.9"/>
<line x1="403.9" y1="769.0" x2="406.1" y2="769.0" stroke="#333" stroke-width="0.9"/>
<line x1="403.9" y1="765.1" x2="406.1" y2="765.1" stroke="#333" stroke-width="0.9"/>
<line x1="403.9" y1="761.3" x2="406.1" y2="761.3" stroke="#333" stroke-width="0.9"/>
<line x1="403.9" y1="757.4" x2="406.1" y2="757.4" stroke="#333" stroke-width="0.9"/>
<line x1="403.9" y1="753.6" x2="406.1" y2="753.6" stroke="#333" stroke-width="0.9"/>
<line x1="401.1" y1="749.7" x2="406.1" y2="749.7" stroke="#333" stroke-width="1.2"/>
<text x="399.8" y="754.9" font-size="12.4" text-anchor="end" textLength="19.2" lengthAdjust="spacingAndGlyphs" stroke="#111" stroke-width="0.25">250</text>
<line x1="403.9" y1="745.8" x2="406.1" y2="745.8" stroke="#333" stroke-width="0.9"/>
<line x1="430.2" y1="942.7" x2="430.2" y2="944.9" stroke="#333" stroke-width="0.9"/>
<line x1="433.8" y1="942.7" x2="433.8" y2="944.9" stroke="#333" stroke-width="0.9"/>
<line x1="437.1" y1="942.7" x2="437.1" y2="944.9" stroke="#333" stroke-width="0.9"/>
<line x1="440.2" y1="942.7" x2="440.2" y2="944.9" stroke="#333" stroke-width="0.9"/>
<line x1="443.0" y1="942.7" x2="443.0" y2="944.9" stroke="#333" stroke-width="0.9"/>
<line x1="445.5" y1="942.7" x2="445.5" y2="944.9" stroke="#333" stroke-width="0.9"/>
<line x1="447.9" y1="942.7" x2="447.9" y2="944.9" stroke="#333" stroke-width="0.9"/>
<line x1="450.0" y1="942.7" x2="450.0" y2="944.9" stroke="#333" stroke-width="0.9"/>
<line x1="452.0" y1="942.7" x2="452.0" y2="944.9" stroke="#333" stroke-width="0.9"/>
<line x1="453.8" y1="942.7" x2="453.8" y2="944.9" stroke="#333" stroke-width="0.9"/>
<line x1="466.6" y1="942.7" x2="466.6" y2="944.9" stroke="#333" stroke-width="0.9"/>
<line x1="474.4" y1="942.7" x2="474.4" y2="944.9" stroke="#333" stroke-width="0.9"/>
<line x1="480.0" y1="942.7" x2="480.0" y2="944.9" stroke="#333" stroke-width="0.9"/>
<line x1="484.4" y1="942.7" x2="484.4" y2="944.9" stroke="#333" stroke-width="0.9"/>
<line x1="488.0" y1="942.7" x2="488.0" y2="944.9" stroke="#333" stroke-width="0.9"/>
<line x1="491.1" y1="942.7" x2="491.1" y2="944.9" stroke="#333" stroke-width="0.9"/>
<line x1="493.7" y1="942.7" x2="493.7" y2="944.9" stroke="#333" stroke-width="0.9"/>
<line x1="496.0" y1="942.7" x2="496.0" y2="944.9" stroke="#333" stroke-width="0.9"/>
<line x1="498.1" y1="942.7" x2="498.1" y2="947.7" stroke="#333" stroke-width="1.2"/>
<line x1="511.8" y1="942.7" x2="511.8" y2="944.9" stroke="#333" stroke-width="0.9"/>
<line x1="519.9" y1="942.7" x2="519.9" y2="944.9" stroke="#333" stroke-width="0.9"/>
<line x1="525.6" y1="942.7" x2="525.6" y2="944.9" stroke="#333" stroke-width="0.9"/>
<line x1="530.0" y1="942.7" x2="530.0" y2="944.9" stroke="#333" stroke-width="0.9"/>
<line x1="533.6" y1="942.7" x2="533.6" y2="944.9" stroke="#333" stroke-width="0.9"/>
<line x1="536.6" y1="942.7" x2="536.6" y2="944.9" stroke="#333" stroke-width="0.9"/>
<line x1="539.3" y1="942.7" x2="539.3" y2="944.9" stroke="#333" stroke-width="0.9"/>
<line x1="541.6" y1="942.7" x2="541.6" y2="944.9" stroke="#333" stroke-width="0.9"/>
<line x1="543.7" y1="942.7" x2="543.7" y2="947.7" stroke="#333" stroke-width="1.2"/>
<line x1="557.4" y1="942.7" x2="557.4" y2="944.9" stroke="#333" stroke-width="0.9"/>
<line x1="565.5" y1="942.7" x2="565.5" y2="944.9" stroke="#333" stroke-width="0.9"/>
<line x1="571.2" y1="942.7" x2="571.2" y2="944.9" stroke="#333" stroke-width="0.9"/>
<line x1="575.6" y1="942.7" x2="575.6" y2="944.9" stroke="#333" stroke-width="0.9"/>
<line x1="579.2" y1="942.7" x2="579.2" y2="944.9" stroke="#333" stroke-width="0.9"/>
<line x1="582.2" y1="942.7" x2="582.2" y2="944.9" stroke="#333" stroke-width="0.9"/>
<line x1="584.9" y1="942.7" x2="584.9" y2="944.9" stroke="#333" stroke-width="0.9"/>
<line x1="587.2" y1="942.7" x2="587.2" y2="944.9" stroke="#333" stroke-width="0.9"/>
<line x1="589.3" y1="942.7" x2="589.3" y2="947.7" stroke="#333" stroke-width="1.2"/>
<line x1="603.0" y1="942.7" x2="603.0" y2="944.9" stroke="#333" stroke-width="0.9"/>
<line x1="426.6" y1="942.7" x2="426.6" y2="947.7" stroke="#333" stroke-width="1.2"/>
<text x="426.6" y="962.0" font-size="12.3" text-anchor="middle" textLength="5.6" lengthAdjust="spacingAndGlyphs" stroke="#111" stroke-width="0.25">0</text>
<text x="489.4" y="962.0" font-size="12.3" textLength="11.0" lengthAdjust="spacingAndGlyphs" stroke="#111" stroke-width="0.25">10</text>
<text x="501.1" y="956.8" font-size="7.995000000000001" textLength="4.2" lengthAdjust="spacingAndGlyphs" stroke="#111" stroke-width="0.15">3</text>
<text x="535.3" y="962.0" font-size="12.3" textLength="11.0" lengthAdjust="spacingAndGlyphs" stroke="#111" stroke-width="0.25">10</text>
<text x="547.0" y="956.8" font-size="7.995000000000001" textLength="4.2" lengthAdjust="spacingAndGlyphs" stroke="#111" stroke-width="0.15">4</text>
<text x="580.6" y="962.0" font-size="12.3" textLength="11.0" lengthAdjust="spacingAndGlyphs" stroke="#111" stroke-width="0.25">10</text>
<text x="592.3" y="956.8" font-size="7.995000000000001" textLength="4.2" lengthAdjust="spacingAndGlyphs" stroke="#111" stroke-width="0.15">5</text>
<g transform="translate(370.5 795.0) rotate(-90)"><text x="0" y="0" font-size="11.8" textLength="30.5" lengthAdjust="spacingAndGlyphs" stroke="#111" stroke-width="0.2">(x 10</text><text x="31.2" y="-5.0" font-size="7.3" stroke="#111" stroke-width="0.15">3</text><text x="35.9" y="0" font-size="11.8" textLength="4.4" lengthAdjust="spacingAndGlyphs" stroke="#111" stroke-width="0.2">)</text></g>
<text x="345.6" y="841.5" font-size="18.5" text-anchor="middle" textLength="47.0" lengthAdjust="spacingAndGlyphs" stroke="#111" stroke-width="0.4" transform="rotate(-90 345.6 841.5)">SSC-A</text>
<text x="507.0" y="987.3" font-size="18.5" text-anchor="middle" textLength="40.9" lengthAdjust="spacingAndGlyphs" stroke="#111" stroke-width="0.4">CD48</text>
<rect x="524.0" y="762.0" width="80.0" height="152.2" fill="none" stroke="#333" stroke-width="1.3"/>
<text x="656.0" y="685.3" font-size="20" textLength="14.0" lengthAdjust="spacingAndGlyphs" font-weight="bold" fill="#000">E</text>
<line x1="739.4" y1="712.8" x2="739.4" y2="958.6" stroke="#111" stroke-width="2.6"/>
<line x1="738.1" y1="957.1" x2="1217.3" y2="957.1" stroke="#111" stroke-width="2.6"/>
<line x1="734.4" y1="724.4" x2="739.4" y2="724.4" stroke="#111" stroke-width="2.2"/>
<text x="729.8" y="732.1" font-size="22" text-anchor="end" textLength="32.7" lengthAdjust="spacingAndGlyphs">100</text>
<line x1="734.4" y1="782.4" x2="739.4" y2="782.4" stroke="#111" stroke-width="2.2"/>
<text x="729.8" y="790.1" font-size="22" text-anchor="end" textLength="21.8" lengthAdjust="spacingAndGlyphs">75</text>
<line x1="734.4" y1="840.7" x2="739.4" y2="840.7" stroke="#111" stroke-width="2.2"/>
<text x="729.8" y="848.4" font-size="22" text-anchor="end" textLength="21.8" lengthAdjust="spacingAndGlyphs">50</text>
<line x1="734.4" y1="898.7" x2="739.4" y2="898.7" stroke="#111" stroke-width="2.2"/>
<text x="729.8" y="906.4" font-size="22" text-anchor="end" textLength="21.8" lengthAdjust="spacingAndGlyphs">25</text>
<line x1="734.4" y1="957.1" x2="739.4" y2="957.1" stroke="#111" stroke-width="2.2"/>
<text x="729.8" y="964.8" font-size="22" text-anchor="end" textLength="10.9" lengthAdjust="spacingAndGlyphs">0</text>
<line x1="766.8" y1="957.1" x2="766.8" y2="962.6" stroke="#111" stroke-width="2.0"/>
<text x="766.8" y="983.4" font-size="22.3" text-anchor="middle" textLength="22.4" lengthAdjust="spacingAndGlyphs">18</text>
<line x1="809.2" y1="957.1" x2="809.2" y2="962.6" stroke="#111" stroke-width="2.0"/>
<text x="809.2" y="983.4" font-size="22.3" text-anchor="middle" textLength="22.4" lengthAdjust="spacingAndGlyphs">47</text>
<line x1="851.5" y1="957.1" x2="851.5" y2="962.6" stroke="#111" stroke-width="2.0"/>
<text x="851.5" y="983.4" font-size="22.3" text-anchor="middle" textLength="22.4" lengthAdjust="spacingAndGlyphs">73</text>
<line x1="893.9" y1="957.1" x2="893.9" y2="962.6" stroke="#111" stroke-width="2.0"/>
<text x="893.9" y="983.4" font-size="22.3" text-anchor="middle" textLength="33.6" lengthAdjust="spacingAndGlyphs">106</text>
<line x1="936.2" y1="957.1" x2="936.2" y2="962.6" stroke="#111" stroke-width="2.0"/>
<text x="936.2" y="983.4" font-size="22.3" text-anchor="middle" textLength="33.6" lengthAdjust="spacingAndGlyphs">134</text>
<line x1="978.6" y1="957.1" x2="978.6" y2="962.6" stroke="#111" stroke-width="2.0"/>
<text x="978.6" y="983.4" font-size="22.3" text-anchor="middle" textLength="33.6" lengthAdjust="spacingAndGlyphs">169</text>
<line x1="1021.0" y1="957.1" x2="1021.0" y2="962.6" stroke="#111" stroke-width="2.0"/>
<text x="1021.0" y="983.4" font-size="22.3" text-anchor="middle" textLength="33.6" lengthAdjust="spacingAndGlyphs">197</text>
<line x1="1063.3" y1="957.1" x2="1063.3" y2="962.6" stroke="#111" stroke-width="2.0"/>
<text x="1063.3" y="983.4" font-size="22.3" text-anchor="middle" textLength="33.6" lengthAdjust="spacingAndGlyphs">225</text>
<line x1="1105.7" y1="957.1" x2="1105.7" y2="962.6" stroke="#111" stroke-width="2.0"/>
<text x="1105.7" y="983.4" font-size="22.3" text-anchor="middle" textLength="33.6" lengthAdjust="spacingAndGlyphs">250</text>
<line x1="1148.0" y1="957.1" x2="1148.0" y2="962.6" stroke="#111" stroke-width="2.0"/>
<text x="1148.0" y="983.4" font-size="22.3" text-anchor="middle" textLength="33.6" lengthAdjust="spacingAndGlyphs">280</text>
<line x1="1190.4" y1="957.1" x2="1190.4" y2="962.6" stroke="#111" stroke-width="2.0"/>
<text x="1190.4" y="983.4" font-size="22.3" text-anchor="middle" textLength="33.6" lengthAdjust="spacingAndGlyphs">308</text>
<text x="988.4" y="1008.6" font-size="21" text-anchor="middle" textLength="102.2" lengthAdjust="spacingAndGlyphs">Time (days)</text>
<text x="693.5" y="845.5" font-size="24.5" text-anchor="middle" textLength="283.7" lengthAdjust="spacingAndGlyphs" transform="rotate(-90 693.5 845.5)">Percent (%) positive cells</text>
<path d="M745.0 782.2h1.8M752.2 782.2h1.8M759.4 782.2h1.8M766.6 782.2h1.8M773.8 782.2h1.8M781.0 782.2h1.8M788.2 782.2h1.8M795.4 782.2h1.8M802.6 782.2h1.8M809.8 782.2h1.8M817.0 782.2h1.8M824.2 782.2h1.8M831.4 782.2h1.8M838.6 782.2h1.8M845.8 782.2h1.8M853.0 782.2h1.8M860.2 782.2h1.8M867.4 782.2h1.8M874.6 782.2h1.8M881.8 782.2h1.8M889.0 782.2h1.8M896.2 782.2h1.8M903.4 782.2h1.8M910.6 782.2h1.8M917.8 782.2h1.8M925.0 782.2h1.8M932.2 782.2h1.8M939.4 782.2h1.8M946.6 782.2h1.8M953.8 782.2h1.8M961.0 782.2h1.8M968.2 782.2h1.8M975.4 782.2h1.8M982.6 782.2h1.8M989.8 782.2h1.8M997.0 782.2h1.8M1004.2 782.2h1.8M1011.4 782.2h1.8M1018.6 782.2h1.8M1025.8 782.2h1.8M1033.0 782.2h1.8M1040.2 782.2h1.8M1047.4 782.2h1.8M1054.6 782.2h1.8M1061.8 782.2h1.8M1069.0 782.2h1.8M1076.2 782.2h1.8M1083.4 782.2h1.8M1090.6 782.2h1.8M1097.8 782.2h1.8M1105.0 782.2h1.8M1112.2 782.2h1.8M1119.4 782.2h1.8M1126.6 782.2h1.8M1133.8 782.2h1.8M1141.0 782.2h1.8M1148.2 782.2h1.8M1155.4 782.2h1.8M1162.6 782.2h1.8M1169.8 782.2h1.8M1177.0 782.2h1.8M1184.2 782.2h1.8M1191.4 782.2h1.8M1198.6 782.2h1.8M1205.8 782.2h1.8M1213.0 782.2h1.8" stroke="#111" stroke-width="1.9" fill="none"/>
<circle cx="752.6" cy="738.3" r="2.75" fill="#fff" stroke="#a8a8a8" stroke-width="2.0"/>
<circle cx="752.6" cy="732.9" r="2.75" fill="#fff" stroke="#2aa63a" stroke-width="2.0"/>
<circle cx="767.4" cy="748.4" r="2.75" fill="#fff" stroke="#2c3f9e" stroke-width="2.0"/>
<circle cx="795.3" cy="744.2" r="2.75" fill="#fff" stroke="#a8a8a8" stroke-width="2.0"/>
<circle cx="795.3" cy="733" r="2.75" fill="#fff" stroke="#2aa63a" stroke-width="2.0"/>
<circle cx="795.3" cy="725.3" r="2.75" fill="#fff" stroke="#e0302a" stroke-width="2.0"/>
<circle cx="809.4" cy="780.3" r="2.75" fill="#fff" stroke="#2c3f9e" stroke-width="2.0"/>
<circle cx="837.3" cy="732.9" r="2.75" fill="#fff" stroke="#2aa63a" stroke-width="2.0"/>
<circle cx="837.3" cy="725.3" r="2.75" fill="#fff" stroke="#2c3f9e" stroke-width="2.0"/>
<circle cx="851.7" cy="751" r="2.75" fill="#fff" stroke="#a8a8a8" stroke-width="2.0"/>
<circle cx="879.6" cy="744.6" r="2.75" fill="#fff" stroke="#a8a8a8" stroke-width="2.0"/>
<circle cx="879.6" cy="725.7" r="2.75" fill="#fff" stroke="#2c3f9e" stroke-width="2.0"/>
<circle cx="922" cy="733" r="2.75" fill="#fff" stroke="#2aa63a" stroke-width="2.0"/>
<circle cx="922" cy="724" r="2.75" fill="#fff" stroke="#e0302a" stroke-width="2.0"/>
<circle cx="922" cy="727.5" r="2.75" fill="#fff" stroke="#2c3f9e" stroke-width="2.0"/>
<circle cx="936.4" cy="778.1" r="2.75" fill="#fff" stroke="#a8a8a8" stroke-width="2.0"/>
<circle cx="964.4" cy="728.4" r="2.75" fill="#fff" stroke="#2aa63a" stroke-width="2.0"/>
<circle cx="964.4" cy="724.7" r="2.75" fill="#fff" stroke="#2c3f9e" stroke-width="2.0"/>
<circle cx="978.4" cy="782.1" r="2.75" fill="#fff" stroke="#a8a8a8" stroke-width="2.0"/>
<circle cx="1006.3" cy="728.4" r="2.75" fill="#fff" stroke="#2aa63a" stroke-width="2.0"/>
<circle cx="1006.3" cy="724.7" r="2.75" fill="#fff" stroke="#2c3f9e" stroke-width="2.0"/>
<circle cx="1021" cy="761.1" r="2.75" fill="#fff" stroke="#a8a8a8" stroke-width="2.0"/>
<circle cx="1048.7" cy="735.3" r="2.75" fill="#fff" stroke="#2aa63a" stroke-width="2.0"/>
<circle cx="1048.7" cy="726.4" r="2.75" fill="#fff" stroke="#2c3f9e" stroke-width="2.0"/>
<circle cx="1063" cy="759.2" r="2.75" fill="#fff" stroke="#a8a8a8" stroke-width="2.0"/>
<circle cx="1090.9" cy="736.5" r="2.75" fill="#fff" stroke="#2aa63a" stroke-width="2.0"/>
<circle cx="1090.9" cy="727" r="2.75" fill="#fff" stroke="#e0302a" stroke-width="2.0"/>
<circle cx="1090.9" cy="729.6" r="2.75" fill="#fff" stroke="#2c3f9e" stroke-width="2.0"/>
<circle cx="1105.4" cy="766.6" r="2.75" fill="#fff" stroke="#a8a8a8" stroke-width="2.0"/>
<circle cx="1133.3" cy="729.6" r="2.75" fill="#fff" stroke="#2aa63a" stroke-width="2.0"/>
<circle cx="1133.3" cy="724.7" r="2.75" fill="#fff" stroke="#e0302a" stroke-width="2.0"/>
<circle cx="1133.3" cy="725.9" r="2.75" fill="#fff" stroke="#2c3f9e" stroke-width="2.0"/>
<circle cx="1147.6" cy="753.5" r="2.75" fill="#fff" stroke="#a8a8a8" stroke-width="2.0"/>
<circle cx="1175.7" cy="741.9" r="2.75" fill="#fff" stroke="#2aa63a" stroke-width="2.0"/>
<circle cx="1175.7" cy="730" r="2.75" fill="#fff" stroke="#e0302a" stroke-width="2.0"/>
<circle cx="1175.7" cy="735.3" r="2.75" fill="#fff" stroke="#2c3f9e" stroke-width="2.0"/>
<circle cx="1190" cy="775.2" r="2.75" fill="#fff" stroke="#a8a8a8" stroke-width="2.0"/>
<circle cx="1109.6" cy="826" r="2.75" fill="#fff" stroke="#e0302a" stroke-width="2.0"/>
<text x="1123.4" y="831.5" font-size="17.5" textLength="46.6" lengthAdjust="spacingAndGlyphs" fill="#000">CD48</text>
<circle cx="1109.6" cy="843" r="2.75" fill="#fff" stroke="#2aa63a" stroke-width="2.0"/>
<text x="1123.4" y="848.5" font-size="17.5" textLength="67.8" lengthAdjust="spacingAndGlyphs" fill="#000">CD137L</text>
<circle cx="1109.6" cy="860.3" r="2.75" fill="#fff" stroke="#2c3f9e" stroke-width="2.0"/>
<text x="1123.4" y="865.6" font-size="17.5" textLength="46.6" lengthAdjust="spacingAndGlyphs" fill="#000">CD32</text>
<circle cx="1109.6" cy="879.4" r="2.75" fill="#fff" stroke="#a8a8a8" stroke-width="2.0"/>
<text x="1123.4" y="884.0" font-size="17.5" textLength="66.0" lengthAdjust="spacingAndGlyphs" fill="#000">mbIL-21</text>
<rect x="816" y="813.4" width="175.7" height="124.3" fill="#fff" stroke="#777" stroke-width="1.2"/>
<text x="908.8" y="809.5" font-size="15.5" text-anchor="middle" textLength="59.5" lengthAdjust="spacingAndGlyphs">Day 106</text>
<text x="808.8" y="876.5" font-size="15" text-anchor="middle" textLength="62.0" lengthAdjust="spacingAndGlyphs" fill="#222" transform="rotate(-90 808.8 876.5)">% Gated</text>
<line x1="816" y1="834.1" x2="991.7" y2="834.1" stroke="#c8c8c8" stroke-width="1"/>
<path d="M819.3 834.1L819.3 834.0L819.9 833.9L820.6 833.8L821.3 833.5L822.0 833.1L822.7 832.5L823.4 831.6L824.1 830.4L824.8 829.0L825.5 827.2L826.2 825.2L826.8 823.3L827.5 821.4L828.2 820.0L828.9 819.1L829.6 818.8L830.3 819.0L831.0 819.4L831.7 820.1L832.4 820.9L833.0 822.0L833.7 823.1L834.4 824.3L835.1 825.6L835.8 826.8L836.5 827.9L837.2 829.0L837.9 829.9L838.6 830.7L839.2 831.5L839.9 832.1L840.6 832.5L841.3 832.9L842.0 833.3L842.7 833.5L843.4 833.7L844.1 833.8L844.8 833.9L845.5 834.0L846.1 834.0L846.1 834.1Z" fill="#8a8a8a" stroke="#222" stroke-width="1"/>
<text x="988.1" y="835.0" font-size="15" text-anchor="end" textLength="61.3" lengthAdjust="spacingAndGlyphs">IgG FITC</text>
<line x1="816" y1="854.9" x2="991.7" y2="854.9" stroke="#3a4ba8" stroke-width="1"/>
<path d="M861.7 854.9L861.7 854.9L862.8 854.8L864.0 854.8L865.2 854.8L866.3 854.7L867.5 854.6L868.7 854.4L869.8 854.3L871.0 854.0L872.1 853.7L873.3 853.4L874.5 853.0L875.6 852.5L876.8 852.0L878.0 851.4L879.1 850.8L880.3 850.2L881.5 849.7L882.6 849.3L883.8 848.9L885.0 848.7L886.1 848.6L887.3 848.7L888.5 848.9L889.6 849.4L890.8 849.9L892.0 850.6L893.1 851.3L894.3 851.9L895.4 852.6L896.6 853.1L897.8 853.6L898.9 854.0L900.1 854.2L901.3 854.5L902.4 854.6L903.6 854.7L904.8 854.8L905.9 854.8L907.1 854.9L907.1 854.9Z" fill="#3a4ba8" stroke="#3a4ba8" stroke-width="1"/>
<text x="988.1" y="854.3" font-size="15" text-anchor="end" textLength="77.3" lengthAdjust="spacingAndGlyphs" fill="#3a4ba8">CD32 FITC</text>
<line x1="816" y1="875.6" x2="991.7" y2="875.6" stroke="#c8c8c8" stroke-width="1"/>
<path d="M818.9 875.6L818.9 875.5L819.3 875.3L819.8 875.0L820.3 874.4L820.7 873.4L821.2 871.8L821.6 869.6L822.1 866.7L822.6 863.6L823.0 860.7L823.5 858.5L823.9 857.6L824.4 857.7L824.9 858.0L825.3 858.5L825.8 859.3L826.2 860.2L826.7 861.2L827.2 862.4L827.6 863.6L828.1 864.9L828.5 866.1L829.0 867.3L829.4 868.5L829.9 869.6L830.4 870.5L830.8 871.4L831.3 872.2L831.7 872.8L832.2 873.4L832.7 873.9L833.1 874.3L833.6 874.6L834.0 874.8L834.5 875.0L835.0 875.2L835.4 875.3L835.9 875.4L836.3 875.4L836.8 875.5L836.8 875.6Z" fill="#555" stroke="#222" stroke-width="1"/>
<text x="988.1" y="874.7" font-size="15" text-anchor="end" textLength="118.0" lengthAdjust="spacingAndGlyphs">K562 mbIL21 PE</text>
<line x1="816" y1="896.3" x2="991.7" y2="896.3" stroke="#c8c8c8" stroke-width="1"/>
<path d="M826.3 896.3L826.3 896.2L827.2 896.2L828.1 896.2L829.0 896.1L829.9 896.0L830.8 895.9L831.6 895.7L832.5 895.5L833.4 895.1L834.3 894.8L835.2 894.3L836.1 893.7L837.0 893.1L837.9 892.4L838.8 891.6L839.7 890.8L840.6 890.1L841.5 889.3L842.4 888.6L843.3 888.0L844.2 887.6L845.1 887.4L846.0 887.3L846.9 887.5L847.7 888.0L848.6 888.7L849.5 889.6L850.4 890.6L851.3 891.7L852.2 892.6L853.1 893.5L854.0 894.2L854.9 894.8L855.8 895.3L856.7 895.6L857.6 895.9L858.5 896.0L859.4 896.1L860.3 896.2L861.2 896.2L861.2 896.3Z" fill="#c4c4c4" stroke="#333" stroke-width="1"/>
<text x="988.1" y="895.4" font-size="15" text-anchor="end" textLength="77.5" lengthAdjust="spacingAndGlyphs" fill="#666">mbIL21 PE</text>
<line x1="816" y1="917.0" x2="991.7" y2="917.0" stroke="#6cc04a" stroke-width="1"/>
<path d="M850.9 917.0L850.9 916.9L851.9 916.9L852.9 916.9L853.9 916.8L854.9 916.7L855.9 916.6L856.9 916.5L857.9 916.3L858.9 916.0L859.9 915.7L860.9 915.4L861.9 914.9L862.9 914.4L863.9 913.8L864.9 913.2L865.9 912.5L866.9 911.7L867.9 911.0L868.9 910.3L869.9 909.6L870.9 909.0L871.9 908.6L872.9 908.2L873.9 908.0L874.9 908.0L875.9 908.3L876.9 909.0L877.9 909.9L878.9 911.0L879.9 912.2L881.0 913.2L882.0 914.2L883.0 915.0L884.0 915.7L885.0 916.1L886.0 916.5L887.0 916.7L888.0 916.8L889.0 916.9L890.0 916.9L890.0 917.0Z" fill="#6cc04a" stroke="#2f8f2f" stroke-width="1"/>
<text x="988.1" y="916.0" font-size="15" text-anchor="end" textLength="79.3" lengthAdjust="spacingAndGlyphs" fill="#3aaa3a">CD137L PE</text>
<line x1="816" y1="937.7" x2="991.7" y2="937.7" stroke="#c8c8c8" stroke-width="1"/>
<path d="M845.9 937.7L845.9 937.7L847.1 937.6L848.4 937.6L849.6 937.5L850.8 937.4L852.1 937.3L853.3 937.1L854.5 936.8L855.7 936.4L857.0 936.0L858.2 935.5L859.4 934.9L860.7 934.2L861.9 933.6L863.1 932.9L864.4 932.3L865.6 931.9L866.8 931.5L868.1 931.4L869.3 931.4L870.5 931.6L871.7 932.0L873.0 932.4L874.2 932.9L875.4 933.5L876.7 934.1L877.9 934.6L879.1 935.2L880.4 935.7L881.6 936.1L882.8 936.5L884.1 936.8L885.3 937.0L886.5 937.2L887.7 937.4L889.0 937.5L890.2 937.6L891.4 937.6L892.7 937.6L893.9 937.7L893.9 937.7Z" fill="#e04050" stroke="#c02030" stroke-width="1"/>
<text x="988.1" y="936.3" font-size="15" text-anchor="end" textLength="62.0" lengthAdjust="spacingAndGlyphs" fill="#e02040">CD48 PE</text>
<text x="824.0" y="947.0" font-size="5.5" text-anchor="middle" fill="#333">0</text>
<line x1="824.0" y1="937.7" x2="824.0" y2="939.7" stroke="#555" stroke-width="0.8"/>
<text x="844.0" y="947.0" font-size="5.5" text-anchor="middle" fill="#333">10²</text>
<line x1="844.0" y1="937.7" x2="844.0" y2="939.7" stroke="#555" stroke-width="0.8"/>
<text x="890.0" y="947.0" font-size="5.5" text-anchor="middle" fill="#333">10³</text>
<line x1="890.0" y1="937.7" x2="890.0" y2="939.7" stroke="#555" stroke-width="0.8"/>
<text x="932.3" y="947.0" font-size="5.5" text-anchor="middle" fill="#333">10⁴</text>
<line x1="932.3" y1="937.7" x2="932.3" y2="939.7" stroke="#555" stroke-width="0.8"/>
<text x="974.6" y="947.0" font-size="5.5" text-anchor="middle" fill="#333">10⁵</text>
<line x1="974.6" y1="937.7" x2="974.6" y2="939.7" stroke="#555" stroke-width="0.8"/></svg></body></html>
